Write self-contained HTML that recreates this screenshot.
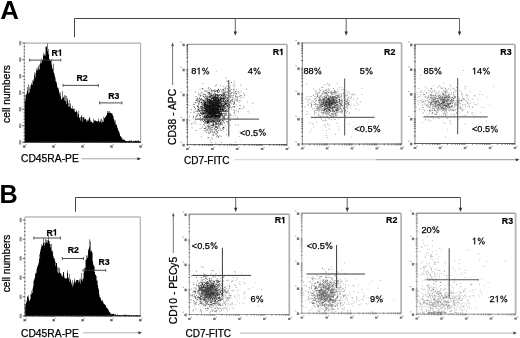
<!DOCTYPE html>
<html><head><meta charset="utf-8"><style>
html,body{margin:0;padding:0;background:#fff;width:520px;height:338px;overflow:hidden}
svg{display:block;filter:grayscale(1) blur(0.35px)}
text{font-family:"Liberation Sans", sans-serif}
</style></head><body>
<svg width="520" height="338" viewBox="0 0 520 338">
<rect width="520" height="338" fill="#fff"/>
<text x="0.3" y="18.8" font-size="25.8" font-weight="bold" fill="#000" stroke="#000" stroke-width="0" text-anchor="start">A</text>
<line x1="74.5" y1="18.5" x2="74.5" y2="37.2" stroke="#444" stroke-width="1"/>
<line x1="74.5" y1="18.5" x2="459.5" y2="18.5" stroke="#444" stroke-width="1"/>
<line x1="235.3" y1="18.5" x2="235.3" y2="32.8" stroke="#555" stroke-width="0.9"/>
<path d="M233.60000000000002,31.599999999999998 L237.0,31.599999999999998 L235.3,35.8 Z" fill="#333"/>
<line x1="346.2" y1="18.5" x2="346.2" y2="32.8" stroke="#555" stroke-width="0.9"/>
<path d="M344.5,31.599999999999998 L347.9,31.599999999999998 L346.2,35.8 Z" fill="#333"/>
<line x1="459.5" y1="18.5" x2="459.5" y2="32.8" stroke="#555" stroke-width="0.9"/>
<path d="M457.8,31.599999999999998 L461.2,31.599999999999998 L459.5,35.8 Z" fill="#333"/>
<polygon points="24.3,142.3 24.05,93.6 24.55,93.6 24.55,98.7 25.05,98.7 25.05,100.7 25.55,100.7 25.55,95.0 26.05,95.0 26.05,94.8 26.55,94.8 26.55,92.9 27.05,92.9 27.05,90.5 27.55,90.5 27.55,86.8 28.05,86.8 28.05,93.4 28.55,93.4 28.55,84.3 29.05,84.3 29.05,92.4 29.55,92.4 29.55,87.3 30.05,87.3 30.05,88.7 30.55,88.7 30.55,85.0 31.05,85.0 31.05,83.1 31.55,83.1 31.55,84.7 32.05,84.7 32.05,84.8 32.55,84.8 32.55,80.3 33.05,80.3 33.05,79.4 33.55,79.4 33.55,81.2 34.05,81.2 34.05,75.2 34.55,75.2 34.55,72.2 35.05,72.2 35.05,77.5 35.55,77.5 35.55,73.0 36.05,73.0 36.05,68.6 36.55,68.6 36.55,70.4 37.05,70.4 37.05,70.4 37.55,70.4 37.55,67.5 38.05,67.5 38.05,65.4 38.55,65.4 38.55,68.7 39.05,68.7 39.05,69.7 39.55,69.7 39.55,64.3 40.05,64.3 40.05,61.2 40.55,61.2 40.55,63.4 41.05,63.4 41.05,63.0 41.55,63.0 41.55,58.4 42.05,58.4 42.05,60.1 42.55,60.1 42.55,60.6 43.05,60.6 43.05,55.5 43.55,55.5 43.55,52.6 44.05,52.6 44.05,55.4 44.55,55.4 44.55,54.1 45.05,54.1 45.05,55.7 45.55,55.7 45.55,46.7 46.05,46.7 46.05,47.3 46.55,47.3 46.55,45.9 47.05,45.9 47.05,42.9 47.55,42.9 47.55,50.9 48.05,50.9 48.05,54.2 48.55,54.2 48.55,49.1 49.05,49.1 49.05,59.2 49.55,59.2 49.55,59.5 50.05,59.5 50.05,60.4 50.55,60.4 50.55,61.1 51.05,61.1 51.05,64.8 51.55,64.8 51.55,59.3 52.05,59.3 52.05,67.5 52.55,67.5 52.55,69.3 53.05,69.3 53.05,63.8 53.55,63.8 53.55,72.6 54.05,72.6 54.05,73.4 54.55,73.4 54.55,76.0 55.05,76.0 55.05,77.7 55.55,77.7 55.55,81.2 56.05,81.2 56.05,83.5 56.55,83.5 56.55,81.6 57.05,81.6 57.05,87.8 57.55,87.8 57.55,86.8 58.05,86.8 58.05,90.0 58.55,90.0 58.55,87.9 59.05,87.9 59.05,94.3 59.55,94.3 59.55,92.1 60.05,92.1 60.05,92.6 60.55,92.6 60.55,96.4 61.05,96.4 61.05,99.0 61.55,99.0 61.55,99.5 62.05,99.5 62.05,91.1 62.55,91.1 62.55,98.2 63.05,98.2 63.05,96.8 63.55,96.8 63.55,97.5 64.05,97.5 64.05,95.1 64.55,95.1 64.55,100.6 65.05,100.6 65.05,95.4 65.55,95.4 65.55,101.4 66.05,101.4 66.05,104.0 66.55,104.0 66.55,96.0 67.05,96.0 67.05,100.5 67.55,100.5 67.55,98.2 68.05,98.2 68.05,103.3 68.55,103.3 68.55,107.0 69.05,107.0 69.05,106.3 69.55,106.3 69.55,99.7 70.05,99.7 70.05,103.6 70.55,103.6 70.55,107.6 71.05,107.6 71.05,108.7 71.55,108.7 71.55,108.0 72.05,108.0 72.05,105.7 72.55,105.7 72.55,108.9 73.05,108.9 73.05,108.8 73.55,108.8 73.55,108.9 74.05,108.9 74.05,108.3 74.55,108.3 74.55,111.5 75.05,111.5 75.05,111.9 75.55,111.9 75.55,111.6 76.05,111.6 76.05,111.8 76.55,111.8 76.55,110.1 77.05,110.1 77.05,112.4 77.55,112.4 77.55,116.4 78.05,116.4 78.05,114.1 78.55,114.1 78.55,110.9 79.05,110.9 79.05,118.1 79.55,118.1 79.55,117.3 80.05,117.3 80.05,120.5 80.55,120.5 80.55,117.1 81.05,117.1 81.05,116.4 81.55,116.4 81.55,115.0 82.05,115.0 82.05,117.2 82.55,117.2 82.55,121.8 83.05,121.8 83.05,116.9 83.55,116.9 83.55,117.5 84.05,117.5 84.05,119.8 84.55,119.8 84.55,117.7 85.05,117.7 85.05,118.9 85.55,118.9 85.55,118.9 86.05,118.9 86.05,119.9 86.55,119.9 86.55,121.5 87.05,121.5 87.05,119.8 87.55,119.8 87.55,121.4 88.05,121.4 88.05,119.2 88.55,119.2 88.55,120.7 89.05,120.7 89.05,116.9 89.55,116.9 89.55,118.1 90.05,118.1 90.05,121.8 90.55,121.8 90.55,119.7 91.05,119.7 91.05,121.7 91.55,121.7 91.55,121.7 92.05,121.7 92.05,123.0 92.55,123.0 92.55,122.4 93.05,122.4 93.05,122.8 93.55,122.8 93.55,118.7 94.05,118.7 94.05,120.5 94.55,120.5 94.55,120.6 95.05,120.6 95.05,121.1 95.55,121.1 95.55,120.3 96.05,120.3 96.05,121.1 96.55,121.1 96.55,121.6 97.05,121.6 97.05,122.0 97.55,122.0 97.55,121.0 98.05,121.0 98.05,118.5 98.55,118.5 98.55,121.1 99.05,121.1 99.05,121.3 99.55,121.3 99.55,122.4 100.05,122.4 100.05,121.4 100.55,121.4 100.55,119.2 101.05,119.2 101.05,118.8 101.55,118.8 101.55,122.9 102.05,122.9 102.05,120.5 102.55,120.5 102.55,121.9 103.05,121.9 103.05,122.1 103.55,122.1 103.55,116.7 104.05,116.7 104.05,118.2 104.55,118.2 104.55,117.7 105.05,117.7 105.05,117.3 105.55,117.3 105.55,116.6 106.05,116.6 106.05,115.4 106.55,115.4 106.55,114.7 107.05,114.7 107.05,110.9 107.55,110.9 107.55,113.1 108.05,113.1 108.05,111.3 108.55,111.3 108.55,112.7 109.05,112.7 109.05,111.1 109.55,111.1 109.55,113.0 110.05,113.0 110.05,113.1 110.55,113.1 110.55,112.6 111.05,112.6 111.05,113.2 111.55,113.2 111.55,113.4 112.05,113.4 112.05,113.5 112.55,113.5 112.55,115.4 113.05,115.4 113.05,116.1 113.55,116.1 113.55,119.0 114.05,119.0 114.05,119.7 114.55,119.7 114.55,121.9 115.05,121.9 115.05,120.4 115.55,120.4 115.55,124.8 116.05,124.8 116.05,124.0 116.55,124.0 116.55,125.5 117.05,125.5 117.05,127.5 117.55,127.5 117.55,128.5 118.05,128.5 118.05,130.6 118.55,130.6 118.55,131.2 119.05,131.2 119.05,132.3 119.55,132.3 119.55,133.9 120.05,133.9 120.05,136.0 120.55,136.0 120.55,136.4 121.05,136.4 121.05,137.0 121.55,137.0 121.55,138.4 122.05,138.4 122.05,138.3 122.55,138.3 122.55,139.9 123.05,139.9 123.05,138.9 123.55,138.9 123.55,140.0 124.05,140.0 124.05,140.2 124.55,140.2 124.55,139.7 125.05,139.7 125.05,140.5 125.55,140.5 125.55,140.9 126.05,140.9 126.05,140.9 126.55,140.9 126.55,140.9 127.05,140.9 127.05,141.2 127.55,141.2 127.55,140.9 128.05,140.9 128.05,141.0 128.55,141.0 128.55,140.8 129.05,140.8 129.05,141.1 129.55,141.1 129.55,140.6 130.05,140.6 130.05,141.2 130.55,141.2 130.55,140.7 131.05,140.7 131.05,140.5 131.55,140.5 131.55,140.6 132.05,140.6 132.05,141.6 132.55,141.6 132.55,141.4 133.05,141.4 133.05,140.8 133.55,140.8 133.55,141.3 134.05,141.3 134.05,140.9 134.55,140.9 134.55,141.0 135.05,141.0 135.05,141.1 135.55,141.1 135.55,140.2 136.05,140.2 136.05,141.2 136.55,141.2 136.55,140.7 137.05,140.7 137.05,140.9 137.55,140.9 137.55,140.6 138.05,140.6 138.05,140.6 138.55,140.6 138.55,140.8 139.05,140.8 139.05,141.0 139.55,141.0 139.55,142.0 140.05,142.0 140.05,141.5 140.55,141.5 140.6,142.3" fill="#000"/>
<line x1="24.3" y1="43.1" x2="140.6" y2="43.1" stroke="#999" stroke-width="1"/>
<line x1="140.6" y1="43.1" x2="140.6" y2="142.8" stroke="#aaa" stroke-width="1.1"/>
<line x1="24.3" y1="43.1" x2="24.3" y2="142.3" stroke="#aaa" stroke-width="0.9"/>
<line x1="23.8" y1="142.3" x2="140.6" y2="142.3" stroke="#333" stroke-width="1"/>
<path d="M22.30 141.80h2.5v1h-2.5zM23.70 138.49h1.2v1h-1.2zM23.70 135.19h1.2v1h-1.2zM23.70 131.88h1.2v1h-1.2zM23.70 128.57h1.2v1h-1.2zM22.30 125.27h2.5v1h-2.5zM23.70 121.96h1.2v1h-1.2zM23.70 118.65h1.2v1h-1.2zM23.70 115.35h1.2v1h-1.2zM23.70 112.04h1.2v1h-1.2zM22.30 108.73h2.5v1h-2.5zM23.70 105.43h1.2v1h-1.2zM23.70 102.12h1.2v1h-1.2zM23.70 98.81h1.2v1h-1.2zM23.70 95.51h1.2v1h-1.2zM22.30 92.20h2.5v1h-2.5zM23.70 88.89h1.2v1h-1.2zM23.70 85.59h1.2v1h-1.2zM23.70 82.28h1.2v1h-1.2zM23.70 78.97h1.2v1h-1.2zM22.30 75.67h2.5v1h-2.5zM23.70 72.36h1.2v1h-1.2zM23.70 69.05h1.2v1h-1.2zM23.70 65.75h1.2v1h-1.2zM23.70 62.44h1.2v1h-1.2zM22.30 59.13h2.5v1h-2.5zM23.70 55.83h1.2v1h-1.2zM23.70 52.52h1.2v1h-1.2zM23.70 49.21h1.2v1h-1.2zM23.70 45.91h1.2v1h-1.2zM22.30 42.60h2.5v1h-2.5zM23.80 141.50h1v1.6h-1zM32.55 141.50h1v1.6h-1zM37.67 141.50h1v1.6h-1zM41.30 141.50h1v1.6h-1zM44.12 141.50h1v1.6h-1zM46.42 141.50h1v1.6h-1zM48.37 141.50h1v1.6h-1zM50.06 141.50h1v1.6h-1zM51.54 141.50h1v1.6h-1zM52.88 141.50h1v1.6h-1zM61.63 141.50h1v1.6h-1zM66.75 141.50h1v1.6h-1zM70.38 141.50h1v1.6h-1zM73.20 141.50h1v1.6h-1zM75.50 141.50h1v1.6h-1zM77.45 141.50h1v1.6h-1zM79.13 141.50h1v1.6h-1zM80.62 141.50h1v1.6h-1zM81.95 141.50h1v1.6h-1zM90.70 141.50h1v1.6h-1zM95.82 141.50h1v1.6h-1zM99.45 141.50h1v1.6h-1zM102.27 141.50h1v1.6h-1zM104.57 141.50h1v1.6h-1zM106.52 141.50h1v1.6h-1zM108.21 141.50h1v1.6h-1zM109.69 141.50h1v1.6h-1zM111.02 141.50h1v1.6h-1zM119.78 141.50h1v1.6h-1zM124.90 141.50h1v1.6h-1zM128.53 141.50h1v1.6h-1zM131.35 141.50h1v1.6h-1zM133.65 141.50h1v1.6h-1zM135.60 141.50h1v1.6h-1zM137.28 141.50h1v1.6h-1zM138.77 141.50h1v1.6h-1zM140.10 141.50h1v1.6h-1z" fill="#333" fill-opacity="0.8"/>
<rect x="19.0" y="140.1" width="2.3" height="4.4" fill="#999"/>
<rect x="19.0" y="123.6" width="2.3" height="4.4" fill="#999"/>
<rect x="19.0" y="107.0" width="2.3" height="4.4" fill="#999"/>
<rect x="19.0" y="90.5" width="2.3" height="4.4" fill="#999"/>
<rect x="19.0" y="74.0" width="2.3" height="4.4" fill="#999"/>
<rect x="19.0" y="57.4" width="2.3" height="4.4" fill="#999"/>
<rect x="19.0" y="40.9" width="2.3" height="4.4" fill="#999"/>
<rect x="23.0" y="145.4" width="2.6" height="2.2" fill="#666"/>
<rect x="25.5" y="143.9" width="1.2" height="1.1" fill="#aaa"/>
<rect x="52.1" y="145.4" width="2.6" height="2.2" fill="#666"/>
<rect x="54.6" y="143.9" width="1.2" height="1.1" fill="#aaa"/>
<rect x="81.2" y="145.4" width="2.6" height="2.2" fill="#666"/>
<rect x="83.7" y="143.9" width="1.2" height="1.1" fill="#aaa"/>
<rect x="110.2" y="145.4" width="2.6" height="2.2" fill="#666"/>
<rect x="112.7" y="143.9" width="1.2" height="1.1" fill="#aaa"/>
<rect x="139.3" y="145.4" width="2.6" height="2.2" fill="#666"/>
<rect x="141.8" y="143.9" width="1.2" height="1.1" fill="#aaa"/>
<line x1="29.6" y1="60.1" x2="60.8" y2="60.1" stroke="#3a3a3a" stroke-width="0.9"/>
<line x1="29.6" y1="58.6" x2="29.6" y2="61.6" stroke="#3a3a3a" stroke-width="0.8"/>
<line x1="60.8" y1="58.6" x2="60.8" y2="61.6" stroke="#3a3a3a" stroke-width="0.8"/>
<text x="51.50" y="55.7" font-size="8.7" font-weight="bold" fill="#000" stroke="#000" stroke-width="0.2">R</text><path transform="translate(57.78 55.7) scale(0.00870 -0.00870)" d="M228,0H372V709H262L72,580V450L228,555Z" fill="#000" fill-rule="evenodd" stroke="#000" stroke-width="23.0"/>
<line x1="63.1" y1="85.4" x2="98.4" y2="85.4" stroke="#3a3a3a" stroke-width="0.9"/>
<line x1="63.1" y1="83.9" x2="63.1" y2="86.9" stroke="#3a3a3a" stroke-width="0.8"/>
<line x1="98.4" y1="83.9" x2="98.4" y2="86.9" stroke="#3a3a3a" stroke-width="0.8"/>
<text x="76.50" y="81.1" font-size="8.7" font-weight="bold" fill="#000" stroke="#000" stroke-width="0.2">R2</text>
<line x1="99.6" y1="102.9" x2="121.9" y2="102.9" stroke="#3a3a3a" stroke-width="0.9"/>
<line x1="99.6" y1="101.4" x2="99.6" y2="104.4" stroke="#3a3a3a" stroke-width="0.8"/>
<line x1="121.9" y1="101.4" x2="121.9" y2="104.4" stroke="#3a3a3a" stroke-width="0.8"/>
<text x="108.30" y="98.9" font-size="8.7" font-weight="bold" fill="#000" stroke="#000" stroke-width="0.2">R3</text>
<text x="10.3" y="94" font-size="10.2" font-weight="normal" fill="#000" stroke="#000" stroke-width="0.25" text-anchor="middle" transform="rotate(-90 10.3 94)">cell numbers</text>
<text x="21" y="161.9" font-size="10.3" font-weight="normal" fill="#000" stroke="#000" stroke-width="0.25" text-anchor="start">CD45RA-PE</text>
<line x1="81.5" y1="158.8" x2="138.5" y2="158.8" stroke="#999" stroke-width="0.9"/>
<path d="M137.4,157.3 L137.4,160.3 L141,158.8 Z" fill="#222"/>
<line x1="187.4" y1="44.4" x2="287.0" y2="44.4" stroke="#a0a0a0" stroke-width="1.4"/>
<line x1="287.0" y1="44.4" x2="287.0" y2="144.6" stroke="#b4b4b4" stroke-width="1.8"/>
<line x1="187.4" y1="44.4" x2="187.4" y2="144.6" stroke="#8a8a8a" stroke-width="1"/>
<line x1="186.9" y1="144.6" x2="287.0" y2="144.6" stroke="#666" stroke-width="1"/>
<path d="M186.95 144.00h0.9v2h-0.9zM194.45 144.00h0.9v2h-0.9zM198.83 144.00h0.9v2h-0.9zM201.94 144.00h0.9v2h-0.9zM204.35 144.00h0.9v2h-0.9zM206.33 144.00h0.9v2h-0.9zM207.99 144.00h0.9v2h-0.9zM209.44 144.00h0.9v2h-0.9zM210.71 144.00h0.9v2h-0.9zM211.85 144.00h0.9v2h-0.9zM219.35 144.00h0.9v2h-0.9zM223.73 144.00h0.9v2h-0.9zM226.84 144.00h0.9v2h-0.9zM229.25 144.00h0.9v2h-0.9zM231.23 144.00h0.9v2h-0.9zM232.89 144.00h0.9v2h-0.9zM234.34 144.00h0.9v2h-0.9zM235.61 144.00h0.9v2h-0.9zM236.75 144.00h0.9v2h-0.9zM244.25 144.00h0.9v2h-0.9zM248.63 144.00h0.9v2h-0.9zM251.74 144.00h0.9v2h-0.9zM254.15 144.00h0.9v2h-0.9zM256.13 144.00h0.9v2h-0.9zM257.79 144.00h0.9v2h-0.9zM259.24 144.00h0.9v2h-0.9zM260.51 144.00h0.9v2h-0.9zM261.65 144.00h0.9v2h-0.9zM269.15 144.00h0.9v2h-0.9zM273.53 144.00h0.9v2h-0.9zM276.64 144.00h0.9v2h-0.9zM279.05 144.00h0.9v2h-0.9zM281.03 144.00h0.9v2h-0.9zM282.69 144.00h0.9v2h-0.9zM284.14 144.00h0.9v2h-0.9zM285.41 144.00h0.9v2h-0.9zM286.55 144.00h0.9v2h-0.9zM186.20 144.15h2v0.9h-2zM186.20 136.61h2v0.9h-2zM186.20 132.20h2v0.9h-2zM186.20 129.07h2v0.9h-2zM186.20 126.64h2v0.9h-2zM186.20 124.66h2v0.9h-2zM186.20 122.98h2v0.9h-2zM186.20 121.53h2v0.9h-2zM186.20 120.25h2v0.9h-2zM186.20 119.10h2v0.9h-2zM186.20 111.56h2v0.9h-2zM186.20 107.15h2v0.9h-2zM186.20 104.02h2v0.9h-2zM186.20 101.59h2v0.9h-2zM186.20 99.61h2v0.9h-2zM186.20 97.93h2v0.9h-2zM186.20 96.48h2v0.9h-2zM186.20 95.20h2v0.9h-2zM186.20 94.05h2v0.9h-2zM186.20 86.51h2v0.9h-2zM186.20 82.10h2v0.9h-2zM186.20 78.97h2v0.9h-2zM186.20 76.54h2v0.9h-2zM186.20 74.56h2v0.9h-2zM186.20 72.88h2v0.9h-2zM186.20 71.43h2v0.9h-2zM186.20 70.15h2v0.9h-2zM186.20 69.00h2v0.9h-2zM186.20 61.46h2v0.9h-2zM186.20 57.05h2v0.9h-2zM186.20 53.92h2v0.9h-2zM186.20 51.49h2v0.9h-2zM186.20 49.51h2v0.9h-2zM186.20 47.83h2v0.9h-2zM186.20 46.38h2v0.9h-2zM186.20 45.10h2v0.9h-2zM186.20 43.95h2v0.9h-2z" fill="#333" fill-opacity="0.6"/>
<rect x="186.1" y="148.0" width="2.6" height="2" fill="#777"/>
<rect x="188.7" y="146.8" width="1.2" height="1.2" fill="#aaa"/>
<rect x="182.4" y="43.6" width="2.4" height="2.6" fill="#777"/>
<rect x="180.4" y="41.6" width="1.6" height="1" fill="#aaa"/>
<rect x="211.0" y="148.0" width="2.6" height="2" fill="#777"/>
<rect x="213.6" y="146.8" width="1.2" height="1.2" fill="#aaa"/>
<rect x="182.4" y="68.7" width="2.4" height="2.6" fill="#777"/>
<rect x="180.4" y="66.7" width="1.6" height="1" fill="#aaa"/>
<rect x="235.9" y="148.0" width="2.6" height="2" fill="#777"/>
<rect x="238.5" y="146.8" width="1.2" height="1.2" fill="#aaa"/>
<rect x="182.4" y="93.7" width="2.4" height="2.6" fill="#777"/>
<rect x="180.4" y="91.7" width="1.6" height="1" fill="#aaa"/>
<rect x="260.8" y="148.0" width="2.6" height="2" fill="#777"/>
<rect x="263.4" y="146.8" width="1.2" height="1.2" fill="#aaa"/>
<rect x="182.4" y="118.8" width="2.4" height="2.6" fill="#777"/>
<rect x="180.4" y="116.8" width="1.6" height="1" fill="#aaa"/>
<rect x="285.7" y="148.0" width="2.6" height="2" fill="#777"/>
<rect x="288.3" y="146.8" width="1.2" height="1.2" fill="#aaa"/>
<rect x="182.4" y="143.8" width="2.4" height="2.6" fill="#777"/>
<rect x="180.4" y="141.8" width="1.6" height="1" fill="#aaa"/>
<line x1="302.3" y1="42.9" x2="401.6" y2="42.9" stroke="#a0a0a0" stroke-width="1.4"/>
<line x1="401.6" y1="42.9" x2="401.6" y2="144.0" stroke="#b4b4b4" stroke-width="1.8"/>
<line x1="302.3" y1="42.9" x2="302.3" y2="144.0" stroke="#8a8a8a" stroke-width="1"/>
<line x1="301.8" y1="144.0" x2="401.6" y2="144.0" stroke="#666" stroke-width="1"/>
<path d="M301.85 143.40h0.9v2h-0.9zM309.32 143.40h0.9v2h-0.9zM313.69 143.40h0.9v2h-0.9zM316.80 143.40h0.9v2h-0.9zM319.20 143.40h0.9v2h-0.9zM321.17 143.40h0.9v2h-0.9zM322.83 143.40h0.9v2h-0.9zM324.27 143.40h0.9v2h-0.9zM325.54 143.40h0.9v2h-0.9zM326.68 143.40h0.9v2h-0.9zM334.15 143.40h0.9v2h-0.9zM338.52 143.40h0.9v2h-0.9zM341.62 143.40h0.9v2h-0.9zM344.03 143.40h0.9v2h-0.9zM345.99 143.40h0.9v2h-0.9zM347.65 143.40h0.9v2h-0.9zM349.09 143.40h0.9v2h-0.9zM350.36 143.40h0.9v2h-0.9zM351.50 143.40h0.9v2h-0.9zM358.97 143.40h0.9v2h-0.9zM363.34 143.40h0.9v2h-0.9zM366.45 143.40h0.9v2h-0.9zM368.85 143.40h0.9v2h-0.9zM370.82 143.40h0.9v2h-0.9zM372.48 143.40h0.9v2h-0.9zM373.92 143.40h0.9v2h-0.9zM375.19 143.40h0.9v2h-0.9zM376.32 143.40h0.9v2h-0.9zM383.80 143.40h0.9v2h-0.9zM388.17 143.40h0.9v2h-0.9zM391.27 143.40h0.9v2h-0.9zM393.68 143.40h0.9v2h-0.9zM395.64 143.40h0.9v2h-0.9zM397.30 143.40h0.9v2h-0.9zM398.74 143.40h0.9v2h-0.9zM400.01 143.40h0.9v2h-0.9zM401.15 143.40h0.9v2h-0.9zM301.10 143.55h2v0.9h-2zM301.10 135.94h2v0.9h-2zM301.10 131.49h2v0.9h-2zM301.10 128.33h2v0.9h-2zM301.10 125.88h2v0.9h-2zM301.10 123.88h2v0.9h-2zM301.10 122.19h2v0.9h-2zM301.10 120.72h2v0.9h-2zM301.10 119.43h2v0.9h-2zM301.10 118.27h2v0.9h-2zM301.10 110.67h2v0.9h-2zM301.10 106.22h2v0.9h-2zM301.10 103.06h2v0.9h-2zM301.10 100.61h2v0.9h-2zM301.10 98.61h2v0.9h-2zM301.10 96.92h2v0.9h-2zM301.10 95.45h2v0.9h-2zM301.10 94.16h2v0.9h-2zM301.10 93.00h2v0.9h-2zM301.10 85.39h2v0.9h-2zM301.10 80.94h2v0.9h-2zM301.10 77.78h2v0.9h-2zM301.10 75.33h2v0.9h-2zM301.10 73.33h2v0.9h-2zM301.10 71.64h2v0.9h-2zM301.10 70.17h2v0.9h-2zM301.10 68.88h2v0.9h-2zM301.10 67.73h2v0.9h-2zM301.10 60.12h2v0.9h-2zM301.10 55.67h2v0.9h-2zM301.10 52.51h2v0.9h-2zM301.10 50.06h2v0.9h-2zM301.10 48.06h2v0.9h-2zM301.10 46.37h2v0.9h-2zM301.10 44.90h2v0.9h-2zM301.10 43.61h2v0.9h-2zM301.10 42.45h2v0.9h-2z" fill="#333" fill-opacity="0.6"/>
<rect x="301.0" y="147.4" width="2.6" height="2" fill="#777"/>
<rect x="303.6" y="146.2" width="1.2" height="1.2" fill="#aaa"/>
<rect x="297.3" y="42.1" width="2.4" height="2.6" fill="#777"/>
<rect x="295.3" y="40.1" width="1.6" height="1" fill="#aaa"/>
<rect x="325.8" y="147.4" width="2.6" height="2" fill="#777"/>
<rect x="328.4" y="146.2" width="1.2" height="1.2" fill="#aaa"/>
<rect x="297.3" y="67.4" width="2.4" height="2.6" fill="#777"/>
<rect x="295.3" y="65.4" width="1.6" height="1" fill="#aaa"/>
<rect x="350.6" y="147.4" width="2.6" height="2" fill="#777"/>
<rect x="353.2" y="146.2" width="1.2" height="1.2" fill="#aaa"/>
<rect x="297.3" y="92.6" width="2.4" height="2.6" fill="#777"/>
<rect x="295.3" y="90.6" width="1.6" height="1" fill="#aaa"/>
<rect x="375.5" y="147.4" width="2.6" height="2" fill="#777"/>
<rect x="378.1" y="146.2" width="1.2" height="1.2" fill="#aaa"/>
<rect x="297.3" y="117.9" width="2.4" height="2.6" fill="#777"/>
<rect x="295.3" y="115.9" width="1.6" height="1" fill="#aaa"/>
<rect x="400.3" y="147.4" width="2.6" height="2" fill="#777"/>
<rect x="402.9" y="146.2" width="1.2" height="1.2" fill="#aaa"/>
<rect x="297.3" y="143.2" width="2.4" height="2.6" fill="#777"/>
<rect x="295.3" y="141.2" width="1.6" height="1" fill="#aaa"/>
<line x1="415" y1="44.4" x2="515" y2="44.4" stroke="#a0a0a0" stroke-width="1.4"/>
<line x1="515" y1="44.4" x2="515" y2="143.5" stroke="#b4b4b4" stroke-width="1.8"/>
<line x1="415" y1="44.4" x2="415" y2="143.5" stroke="#8a8a8a" stroke-width="1"/>
<line x1="414.5" y1="143.5" x2="515" y2="143.5" stroke="#666" stroke-width="1"/>
<path d="M414.55 142.90h0.9v2h-0.9zM422.08 142.90h0.9v2h-0.9zM426.48 142.90h0.9v2h-0.9zM429.60 142.90h0.9v2h-0.9zM432.02 142.90h0.9v2h-0.9zM434.00 142.90h0.9v2h-0.9zM435.68 142.90h0.9v2h-0.9zM437.13 142.90h0.9v2h-0.9zM438.41 142.90h0.9v2h-0.9zM439.55 142.90h0.9v2h-0.9zM447.08 142.90h0.9v2h-0.9zM451.48 142.90h0.9v2h-0.9zM454.60 142.90h0.9v2h-0.9zM457.02 142.90h0.9v2h-0.9zM459.00 142.90h0.9v2h-0.9zM460.68 142.90h0.9v2h-0.9zM462.13 142.90h0.9v2h-0.9zM463.41 142.90h0.9v2h-0.9zM464.55 142.90h0.9v2h-0.9zM472.08 142.90h0.9v2h-0.9zM476.48 142.90h0.9v2h-0.9zM479.60 142.90h0.9v2h-0.9zM482.02 142.90h0.9v2h-0.9zM484.00 142.90h0.9v2h-0.9zM485.68 142.90h0.9v2h-0.9zM487.13 142.90h0.9v2h-0.9zM488.41 142.90h0.9v2h-0.9zM489.55 142.90h0.9v2h-0.9zM497.08 142.90h0.9v2h-0.9zM501.48 142.90h0.9v2h-0.9zM504.60 142.90h0.9v2h-0.9zM507.02 142.90h0.9v2h-0.9zM509.00 142.90h0.9v2h-0.9zM510.68 142.90h0.9v2h-0.9zM512.13 142.90h0.9v2h-0.9zM513.41 142.90h0.9v2h-0.9zM514.55 142.90h0.9v2h-0.9zM413.80 143.05h2v0.9h-2zM413.80 135.59h2v0.9h-2zM413.80 131.23h2v0.9h-2zM413.80 128.13h2v0.9h-2zM413.80 125.73h2v0.9h-2zM413.80 123.77h2v0.9h-2zM413.80 122.11h2v0.9h-2zM413.80 120.68h2v0.9h-2zM413.80 119.41h2v0.9h-2zM413.80 118.27h2v0.9h-2zM413.80 110.82h2v0.9h-2zM413.80 106.45h2v0.9h-2zM413.80 103.36h2v0.9h-2zM413.80 100.96h2v0.9h-2zM413.80 99.00h2v0.9h-2zM413.80 97.34h2v0.9h-2zM413.80 95.90h2v0.9h-2zM413.80 94.63h2v0.9h-2zM413.80 93.50h2v0.9h-2zM413.80 86.04h2v0.9h-2zM413.80 81.68h2v0.9h-2zM413.80 78.58h2v0.9h-2zM413.80 76.18h2v0.9h-2zM413.80 74.22h2v0.9h-2zM413.80 72.56h2v0.9h-2zM413.80 71.13h2v0.9h-2zM413.80 69.86h2v0.9h-2zM413.80 68.73h2v0.9h-2zM413.80 61.27h2v0.9h-2zM413.80 56.90h2v0.9h-2zM413.80 53.81h2v0.9h-2zM413.80 51.41h2v0.9h-2zM413.80 49.45h2v0.9h-2zM413.80 47.79h2v0.9h-2zM413.80 46.35h2v0.9h-2zM413.80 45.08h2v0.9h-2zM413.80 43.95h2v0.9h-2z" fill="#333" fill-opacity="0.6"/>
<rect x="413.7" y="146.9" width="2.6" height="2" fill="#777"/>
<rect x="416.3" y="145.7" width="1.2" height="1.2" fill="#aaa"/>
<rect x="410.0" y="43.6" width="2.4" height="2.6" fill="#777"/>
<rect x="408.0" y="41.6" width="1.6" height="1" fill="#aaa"/>
<rect x="438.7" y="146.9" width="2.6" height="2" fill="#777"/>
<rect x="441.3" y="145.7" width="1.2" height="1.2" fill="#aaa"/>
<rect x="410.0" y="68.4" width="2.4" height="2.6" fill="#777"/>
<rect x="408.0" y="66.4" width="1.6" height="1" fill="#aaa"/>
<rect x="463.7" y="146.9" width="2.6" height="2" fill="#777"/>
<rect x="466.3" y="145.7" width="1.2" height="1.2" fill="#aaa"/>
<rect x="410.0" y="93.1" width="2.4" height="2.6" fill="#777"/>
<rect x="408.0" y="91.1" width="1.6" height="1" fill="#aaa"/>
<rect x="488.7" y="146.9" width="2.6" height="2" fill="#777"/>
<rect x="491.3" y="145.7" width="1.2" height="1.2" fill="#aaa"/>
<rect x="410.0" y="117.9" width="2.4" height="2.6" fill="#777"/>
<rect x="408.0" y="115.9" width="1.6" height="1" fill="#aaa"/>
<rect x="513.7" y="146.9" width="2.6" height="2" fill="#777"/>
<rect x="516.3" y="145.7" width="1.2" height="1.2" fill="#aaa"/>
<rect x="410.0" y="142.7" width="2.4" height="2.6" fill="#777"/>
<rect x="408.0" y="140.7" width="1.6" height="1" fill="#aaa"/>
<path d="M215.2 107.3h0.9v0.9h-0.9zM217.8 104.8h0.9v0.9h-0.9zM215.1 111.2h0.9v0.9h-0.9zM206.1 110.8h0.9v0.9h-0.9zM218.3 108.4h0.9v0.9h-0.9zM215.8 105.2h0.9v0.9h-0.9zM210.3 118.7h0.9v0.9h-0.9zM216.5 99.6h0.9v0.9h-0.9zM215.3 107.1h0.9v0.9h-0.9zM214.9 103.6h0.9v0.9h-0.9zM213.5 114.2h0.9v0.9h-0.9zM216.3 116.4h0.9v0.9h-0.9zM209.2 116.0h0.9v0.9h-0.9zM212.4 112.5h0.9v0.9h-0.9zM210.6 98.7h0.9v0.9h-0.9zM216.6 120.6h0.9v0.9h-0.9zM213.5 110.8h0.9v0.9h-0.9zM211.7 107.0h0.9v0.9h-0.9zM209.0 108.1h0.9v0.9h-0.9zM211.9 105.5h0.9v0.9h-0.9zM213.3 110.2h0.9v0.9h-0.9zM211.8 109.7h0.9v0.9h-0.9zM220.4 104.3h0.9v0.9h-0.9zM218.8 90.2h0.9v0.9h-0.9zM198.4 109.0h0.9v0.9h-0.9zM202.9 111.8h0.9v0.9h-0.9zM212.3 111.0h0.9v0.9h-0.9zM211.0 106.8h0.9v0.9h-0.9zM214.5 110.3h0.9v0.9h-0.9zM214.5 114.0h0.9v0.9h-0.9zM224.9 103.1h0.9v0.9h-0.9zM207.2 117.7h0.9v0.9h-0.9zM211.2 95.1h0.9v0.9h-0.9zM224.5 98.0h0.9v0.9h-0.9zM216.9 101.2h0.9v0.9h-0.9zM216.9 91.3h0.9v0.9h-0.9zM210.5 101.4h0.9v0.9h-0.9zM204.2 116.6h0.9v0.9h-0.9zM214.2 115.4h0.9v0.9h-0.9zM213.9 108.1h0.9v0.9h-0.9zM206.5 119.4h0.9v0.9h-0.9zM209.5 109.5h0.9v0.9h-0.9zM212.9 104.3h0.9v0.9h-0.9zM208.1 109.7h0.9v0.9h-0.9zM212.8 106.7h0.9v0.9h-0.9zM213.8 112.2h0.9v0.9h-0.9zM213.5 97.8h0.9v0.9h-0.9zM210.5 114.3h0.9v0.9h-0.9zM216.6 104.1h0.9v0.9h-0.9zM218.2 112.5h0.9v0.9h-0.9zM215.1 97.3h0.9v0.9h-0.9zM208.8 105.3h0.9v0.9h-0.9zM217.3 107.5h0.9v0.9h-0.9zM210.5 113.7h0.9v0.9h-0.9zM218.1 99.1h0.9v0.9h-0.9zM207.4 119.0h0.9v0.9h-0.9zM218.3 110.0h0.9v0.9h-0.9zM213.2 104.1h0.9v0.9h-0.9zM206.4 116.2h0.9v0.9h-0.9zM211.6 108.4h0.9v0.9h-0.9zM213.6 115.0h0.9v0.9h-0.9zM214.8 122.3h0.9v0.9h-0.9zM207.9 113.1h0.9v0.9h-0.9zM207.2 104.8h0.9v0.9h-0.9zM214.4 104.6h0.9v0.9h-0.9zM210.7 111.6h0.9v0.9h-0.9zM214.6 109.2h0.9v0.9h-0.9zM217.5 101.6h0.9v0.9h-0.9zM204.2 104.3h0.9v0.9h-0.9zM214.7 111.6h0.9v0.9h-0.9zM220.0 121.9h0.9v0.9h-0.9zM211.7 90.7h0.9v0.9h-0.9zM208.8 112.7h0.9v0.9h-0.9zM217.4 105.6h0.9v0.9h-0.9zM214.7 112.4h0.9v0.9h-0.9zM218.2 112.5h0.9v0.9h-0.9zM211.4 108.1h0.9v0.9h-0.9zM205.1 101.9h0.9v0.9h-0.9zM212.7 98.5h0.9v0.9h-0.9zM210.8 95.7h0.9v0.9h-0.9zM217.6 114.9h0.9v0.9h-0.9zM214.4 106.0h0.9v0.9h-0.9zM204.3 105.1h0.9v0.9h-0.9zM206.7 106.5h0.9v0.9h-0.9zM218.2 98.3h0.9v0.9h-0.9zM217.0 109.0h0.9v0.9h-0.9zM209.8 116.4h0.9v0.9h-0.9zM213.3 114.9h0.9v0.9h-0.9zM215.8 97.1h0.9v0.9h-0.9zM215.9 116.0h0.9v0.9h-0.9zM218.1 102.0h0.9v0.9h-0.9zM214.7 95.0h0.9v0.9h-0.9zM212.8 99.6h0.9v0.9h-0.9zM211.9 101.4h0.9v0.9h-0.9zM219.1 106.8h0.9v0.9h-0.9zM200.9 102.3h0.9v0.9h-0.9zM212.5 97.8h0.9v0.9h-0.9zM213.5 105.8h0.9v0.9h-0.9zM205.5 120.9h0.9v0.9h-0.9zM215.1 102.7h0.9v0.9h-0.9zM209.7 110.9h0.9v0.9h-0.9zM218.0 107.5h0.9v0.9h-0.9zM212.6 124.8h0.9v0.9h-0.9zM217.0 94.8h0.9v0.9h-0.9zM220.0 113.8h0.9v0.9h-0.9zM215.4 99.0h0.9v0.9h-0.9zM208.5 104.2h0.9v0.9h-0.9zM205.0 107.9h0.9v0.9h-0.9zM222.9 127.0h0.9v0.9h-0.9zM212.7 102.6h0.9v0.9h-0.9zM209.5 95.7h0.9v0.9h-0.9zM214.1 115.8h0.9v0.9h-0.9zM212.2 102.2h0.9v0.9h-0.9zM218.0 105.4h0.9v0.9h-0.9zM213.5 107.3h0.9v0.9h-0.9zM213.4 108.1h0.9v0.9h-0.9zM209.4 106.9h0.9v0.9h-0.9zM215.9 108.9h0.9v0.9h-0.9zM207.6 110.7h0.9v0.9h-0.9zM217.0 112.6h0.9v0.9h-0.9zM221.7 103.7h0.9v0.9h-0.9zM204.9 103.6h0.9v0.9h-0.9zM199.7 102.2h0.9v0.9h-0.9zM216.7 110.9h0.9v0.9h-0.9zM227.3 105.5h0.9v0.9h-0.9zM207.8 111.7h0.9v0.9h-0.9zM206.4 111.8h0.9v0.9h-0.9zM216.5 118.0h0.9v0.9h-0.9zM208.7 109.4h0.9v0.9h-0.9zM210.5 112.7h0.9v0.9h-0.9zM211.4 99.9h0.9v0.9h-0.9zM216.2 100.2h0.9v0.9h-0.9zM211.1 105.7h0.9v0.9h-0.9zM214.8 99.5h0.9v0.9h-0.9zM212.3 112.1h0.9v0.9h-0.9zM208.7 99.4h0.9v0.9h-0.9zM211.5 108.2h0.9v0.9h-0.9zM208.1 92.2h0.9v0.9h-0.9zM213.3 100.4h0.9v0.9h-0.9zM207.1 106.0h0.9v0.9h-0.9zM207.3 106.5h0.9v0.9h-0.9zM221.3 95.0h0.9v0.9h-0.9zM213.0 108.2h0.9v0.9h-0.9zM213.0 113.8h0.9v0.9h-0.9zM216.1 111.4h0.9v0.9h-0.9zM211.0 103.5h0.9v0.9h-0.9zM212.0 103.9h0.9v0.9h-0.9zM215.6 99.6h0.9v0.9h-0.9zM214.9 111.4h0.9v0.9h-0.9zM206.9 117.6h0.9v0.9h-0.9zM217.9 103.6h0.9v0.9h-0.9zM210.1 96.9h0.9v0.9h-0.9zM207.5 109.5h0.9v0.9h-0.9zM208.3 112.7h0.9v0.9h-0.9zM211.2 90.1h0.9v0.9h-0.9zM222.3 107.3h0.9v0.9h-0.9zM206.8 122.3h0.9v0.9h-0.9zM214.2 112.7h0.9v0.9h-0.9zM201.5 112.4h0.9v0.9h-0.9zM213.3 110.1h0.9v0.9h-0.9zM218.2 113.8h0.9v0.9h-0.9zM212.0 101.6h0.9v0.9h-0.9zM209.8 102.4h0.9v0.9h-0.9zM214.6 110.0h0.9v0.9h-0.9zM217.2 102.6h0.9v0.9h-0.9zM217.0 108.7h0.9v0.9h-0.9zM224.1 93.8h0.9v0.9h-0.9zM214.5 112.3h0.9v0.9h-0.9zM210.0 113.4h0.9v0.9h-0.9zM212.6 107.9h0.9v0.9h-0.9zM212.9 108.6h0.9v0.9h-0.9zM213.9 117.9h0.9v0.9h-0.9zM213.1 100.5h0.9v0.9h-0.9zM214.3 101.5h0.9v0.9h-0.9zM204.1 101.5h0.9v0.9h-0.9zM217.9 104.2h0.9v0.9h-0.9zM210.1 101.3h0.9v0.9h-0.9zM206.8 108.5h0.9v0.9h-0.9zM216.8 102.9h0.9v0.9h-0.9zM220.5 97.3h0.9v0.9h-0.9zM216.0 97.2h0.9v0.9h-0.9zM214.2 115.2h0.9v0.9h-0.9zM208.2 107.7h0.9v0.9h-0.9zM229.1 104.2h0.9v0.9h-0.9zM218.1 107.1h0.9v0.9h-0.9zM207.0 107.7h0.9v0.9h-0.9zM209.0 112.9h0.9v0.9h-0.9zM213.8 111.1h0.9v0.9h-0.9zM204.7 104.7h0.9v0.9h-0.9zM214.2 102.1h0.9v0.9h-0.9zM210.8 100.8h0.9v0.9h-0.9zM220.0 98.6h0.9v0.9h-0.9zM218.6 115.9h0.9v0.9h-0.9zM198.4 103.3h0.9v0.9h-0.9zM213.5 94.4h0.9v0.9h-0.9zM204.4 103.1h0.9v0.9h-0.9zM219.4 101.7h0.9v0.9h-0.9zM214.2 109.5h0.9v0.9h-0.9zM216.3 101.4h0.9v0.9h-0.9zM207.4 111.7h0.9v0.9h-0.9zM223.4 108.8h0.9v0.9h-0.9zM224.4 114.4h0.9v0.9h-0.9zM207.4 122.2h0.9v0.9h-0.9zM215.4 125.7h0.9v0.9h-0.9zM209.6 116.7h0.9v0.9h-0.9zM213.2 100.0h0.9v0.9h-0.9zM206.3 105.7h0.9v0.9h-0.9zM223.6 107.9h0.9v0.9h-0.9zM208.0 121.5h0.9v0.9h-0.9zM211.7 112.1h0.9v0.9h-0.9zM216.1 115.0h0.9v0.9h-0.9zM209.7 106.8h0.9v0.9h-0.9zM212.0 111.5h0.9v0.9h-0.9zM210.2 112.5h0.9v0.9h-0.9zM212.6 104.6h0.9v0.9h-0.9zM206.9 113.3h0.9v0.9h-0.9zM210.9 114.7h0.9v0.9h-0.9zM212.2 106.6h0.9v0.9h-0.9zM211.5 114.3h0.9v0.9h-0.9zM213.6 118.1h0.9v0.9h-0.9zM211.7 108.1h0.9v0.9h-0.9zM217.4 107.0h0.9v0.9h-0.9zM211.5 105.7h0.9v0.9h-0.9zM212.5 103.6h0.9v0.9h-0.9zM209.6 108.9h0.9v0.9h-0.9zM210.4 105.2h0.9v0.9h-0.9zM206.3 106.3h0.9v0.9h-0.9zM216.2 102.2h0.9v0.9h-0.9zM207.0 98.3h0.9v0.9h-0.9zM209.2 101.9h0.9v0.9h-0.9zM215.3 109.4h0.9v0.9h-0.9zM215.5 99.6h0.9v0.9h-0.9zM211.1 103.6h0.9v0.9h-0.9zM202.2 119.4h0.9v0.9h-0.9zM215.6 114.5h0.9v0.9h-0.9zM214.7 102.8h0.9v0.9h-0.9zM205.5 112.3h0.9v0.9h-0.9zM217.5 102.8h0.9v0.9h-0.9zM209.4 118.5h0.9v0.9h-0.9zM207.1 104.4h0.9v0.9h-0.9zM213.8 108.0h0.9v0.9h-0.9zM212.3 116.6h0.9v0.9h-0.9zM214.4 102.0h0.9v0.9h-0.9zM204.5 117.0h0.9v0.9h-0.9zM223.3 101.0h0.9v0.9h-0.9zM210.0 109.4h0.9v0.9h-0.9zM204.8 106.6h0.9v0.9h-0.9zM216.7 106.5h0.9v0.9h-0.9zM211.3 108.8h0.9v0.9h-0.9zM215.1 106.8h0.9v0.9h-0.9zM211.4 101.1h0.9v0.9h-0.9zM213.0 113.1h0.9v0.9h-0.9zM214.7 112.0h0.9v0.9h-0.9zM209.2 116.3h0.9v0.9h-0.9zM217.0 116.0h0.9v0.9h-0.9zM210.7 99.1h0.9v0.9h-0.9zM208.5 116.4h0.9v0.9h-0.9zM213.7 115.8h0.9v0.9h-0.9zM215.7 103.8h0.9v0.9h-0.9zM212.0 114.4h0.9v0.9h-0.9zM208.6 117.6h0.9v0.9h-0.9zM216.7 103.6h0.9v0.9h-0.9zM203.6 99.7h0.9v0.9h-0.9zM207.6 105.8h0.9v0.9h-0.9zM213.5 125.5h0.9v0.9h-0.9zM205.8 109.9h0.9v0.9h-0.9zM213.5 99.6h0.9v0.9h-0.9zM213.0 105.9h0.9v0.9h-0.9zM218.2 100.5h0.9v0.9h-0.9zM208.3 105.5h0.9v0.9h-0.9zM209.9 108.5h0.9v0.9h-0.9zM215.1 90.7h0.9v0.9h-0.9zM199.8 111.4h0.9v0.9h-0.9zM230.4 114.6h0.9v0.9h-0.9zM209.5 106.7h0.9v0.9h-0.9zM209.3 105.5h0.9v0.9h-0.9zM218.0 114.0h0.9v0.9h-0.9zM213.1 99.3h0.9v0.9h-0.9zM203.5 100.6h0.9v0.9h-0.9zM216.7 98.1h0.9v0.9h-0.9zM218.0 105.9h0.9v0.9h-0.9zM210.8 110.3h0.9v0.9h-0.9zM211.8 107.1h0.9v0.9h-0.9zM216.0 110.7h0.9v0.9h-0.9zM208.3 113.5h0.9v0.9h-0.9zM215.7 110.4h0.9v0.9h-0.9zM214.4 102.1h0.9v0.9h-0.9zM209.6 106.2h0.9v0.9h-0.9zM205.6 116.5h0.9v0.9h-0.9zM212.1 100.9h0.9v0.9h-0.9zM208.5 106.4h0.9v0.9h-0.9zM218.8 104.2h0.9v0.9h-0.9zM214.1 106.2h0.9v0.9h-0.9zM217.6 100.0h0.9v0.9h-0.9zM214.0 98.7h0.9v0.9h-0.9zM214.7 123.9h0.9v0.9h-0.9zM209.0 114.1h0.9v0.9h-0.9zM217.0 102.5h0.9v0.9h-0.9zM223.1 106.0h0.9v0.9h-0.9zM211.6 112.1h0.9v0.9h-0.9zM210.0 105.7h0.9v0.9h-0.9zM212.4 111.6h0.9v0.9h-0.9zM210.7 103.8h0.9v0.9h-0.9zM209.4 105.6h0.9v0.9h-0.9zM214.1 106.9h0.9v0.9h-0.9zM211.7 104.7h0.9v0.9h-0.9zM221.2 90.7h0.9v0.9h-0.9zM213.3 107.6h0.9v0.9h-0.9zM215.1 109.0h0.9v0.9h-0.9zM218.5 110.0h0.9v0.9h-0.9zM211.6 101.3h0.9v0.9h-0.9zM221.2 108.8h0.9v0.9h-0.9zM209.8 109.3h0.9v0.9h-0.9zM208.9 96.6h0.9v0.9h-0.9zM211.3 93.5h0.9v0.9h-0.9zM212.7 110.7h0.9v0.9h-0.9zM205.6 102.2h0.9v0.9h-0.9zM213.1 114.0h0.9v0.9h-0.9zM204.1 122.4h0.9v0.9h-0.9zM221.0 102.8h0.9v0.9h-0.9zM212.9 103.1h0.9v0.9h-0.9zM209.8 107.8h0.9v0.9h-0.9zM208.3 112.5h0.9v0.9h-0.9zM211.2 100.4h0.9v0.9h-0.9zM212.1 115.7h0.9v0.9h-0.9zM207.6 114.6h0.9v0.9h-0.9zM208.2 112.4h0.9v0.9h-0.9zM212.3 104.1h0.9v0.9h-0.9zM210.4 113.8h0.9v0.9h-0.9zM218.5 112.4h0.9v0.9h-0.9zM219.6 99.0h0.9v0.9h-0.9zM213.4 121.0h0.9v0.9h-0.9zM215.9 105.2h0.9v0.9h-0.9zM206.0 110.8h0.9v0.9h-0.9zM216.8 103.7h0.9v0.9h-0.9zM213.1 110.0h0.9v0.9h-0.9zM216.0 114.7h0.9v0.9h-0.9zM222.1 101.2h0.9v0.9h-0.9zM200.8 98.3h0.9v0.9h-0.9zM214.7 104.4h0.9v0.9h-0.9zM207.3 99.8h0.9v0.9h-0.9zM216.6 102.2h0.9v0.9h-0.9zM206.1 107.5h0.9v0.9h-0.9zM210.6 107.4h0.9v0.9h-0.9zM214.4 115.7h0.9v0.9h-0.9zM216.7 100.5h0.9v0.9h-0.9zM213.7 109.7h0.9v0.9h-0.9zM208.9 104.7h0.9v0.9h-0.9zM210.3 116.7h0.9v0.9h-0.9zM218.2 123.3h0.9v0.9h-0.9zM213.3 109.5h0.9v0.9h-0.9zM204.0 119.4h0.9v0.9h-0.9zM217.9 103.5h0.9v0.9h-0.9zM215.6 96.9h0.9v0.9h-0.9zM218.1 98.7h0.9v0.9h-0.9zM211.4 97.5h0.9v0.9h-0.9zM217.9 100.8h0.9v0.9h-0.9zM207.5 106.6h0.9v0.9h-0.9zM216.4 114.6h0.9v0.9h-0.9zM210.6 112.3h0.9v0.9h-0.9zM217.0 110.1h0.9v0.9h-0.9zM218.8 104.1h0.9v0.9h-0.9zM209.3 103.3h0.9v0.9h-0.9zM213.0 107.7h0.9v0.9h-0.9zM213.5 108.4h0.9v0.9h-0.9zM219.8 108.4h0.9v0.9h-0.9zM217.2 109.4h0.9v0.9h-0.9zM206.6 107.5h0.9v0.9h-0.9zM215.8 94.8h0.9v0.9h-0.9zM217.4 99.8h0.9v0.9h-0.9zM225.0 100.8h0.9v0.9h-0.9zM204.1 119.6h0.9v0.9h-0.9zM210.4 105.1h0.9v0.9h-0.9zM220.6 111.0h0.9v0.9h-0.9zM205.8 117.9h0.9v0.9h-0.9zM206.7 110.4h0.9v0.9h-0.9zM216.1 104.6h0.9v0.9h-0.9zM218.9 104.9h0.9v0.9h-0.9zM209.6 101.3h0.9v0.9h-0.9zM216.3 109.1h0.9v0.9h-0.9zM213.9 114.7h0.9v0.9h-0.9zM221.7 110.2h0.9v0.9h-0.9zM213.3 112.5h0.9v0.9h-0.9zM218.7 111.5h0.9v0.9h-0.9zM208.3 121.0h0.9v0.9h-0.9zM212.3 103.5h0.9v0.9h-0.9zM212.8 108.6h0.9v0.9h-0.9zM219.6 111.3h0.9v0.9h-0.9zM216.5 115.2h0.9v0.9h-0.9zM209.2 92.3h0.9v0.9h-0.9zM217.1 103.7h0.9v0.9h-0.9zM217.5 105.7h0.9v0.9h-0.9zM212.7 100.9h0.9v0.9h-0.9zM211.9 113.1h0.9v0.9h-0.9zM212.2 109.0h0.9v0.9h-0.9zM204.0 106.0h0.9v0.9h-0.9zM214.3 96.8h0.9v0.9h-0.9zM214.6 98.8h0.9v0.9h-0.9zM208.5 101.7h0.9v0.9h-0.9zM217.4 110.0h0.9v0.9h-0.9zM205.7 100.5h0.9v0.9h-0.9zM210.3 94.5h0.9v0.9h-0.9zM210.7 98.4h0.9v0.9h-0.9zM224.2 102.4h0.9v0.9h-0.9zM204.5 119.4h0.9v0.9h-0.9zM216.4 123.3h0.9v0.9h-0.9zM218.5 103.8h0.9v0.9h-0.9zM215.4 113.4h0.9v0.9h-0.9zM219.8 115.8h0.9v0.9h-0.9zM207.8 116.5h0.9v0.9h-0.9zM200.8 108.2h0.9v0.9h-0.9zM217.5 98.6h0.9v0.9h-0.9zM206.7 105.1h0.9v0.9h-0.9zM211.5 95.7h0.9v0.9h-0.9zM206.8 109.8h0.9v0.9h-0.9zM219.1 111.8h0.9v0.9h-0.9zM218.1 94.7h0.9v0.9h-0.9zM209.3 107.6h0.9v0.9h-0.9zM218.3 108.8h0.9v0.9h-0.9zM214.0 115.5h0.9v0.9h-0.9zM212.5 116.5h0.9v0.9h-0.9zM213.6 112.6h0.9v0.9h-0.9zM212.2 103.2h0.9v0.9h-0.9zM216.7 104.7h0.9v0.9h-0.9zM215.0 115.1h0.9v0.9h-0.9zM211.4 103.8h0.9v0.9h-0.9zM218.8 106.6h0.9v0.9h-0.9zM209.9 118.0h0.9v0.9h-0.9zM214.9 108.1h0.9v0.9h-0.9zM215.6 98.3h0.9v0.9h-0.9zM221.4 104.6h0.9v0.9h-0.9zM210.5 112.0h0.9v0.9h-0.9zM222.9 105.1h0.9v0.9h-0.9zM214.3 114.9h0.9v0.9h-0.9zM212.2 115.9h0.9v0.9h-0.9zM209.6 103.7h0.9v0.9h-0.9zM216.5 103.9h0.9v0.9h-0.9zM213.6 106.8h0.9v0.9h-0.9zM207.2 100.4h0.9v0.9h-0.9zM207.1 110.7h0.9v0.9h-0.9zM210.2 106.7h0.9v0.9h-0.9zM209.6 113.0h0.9v0.9h-0.9zM219.3 102.9h0.9v0.9h-0.9zM220.9 100.9h0.9v0.9h-0.9zM218.1 118.8h0.9v0.9h-0.9zM215.3 101.6h0.9v0.9h-0.9zM210.9 104.0h0.9v0.9h-0.9zM213.6 102.7h0.9v0.9h-0.9zM218.2 105.0h0.9v0.9h-0.9zM225.0 100.2h0.9v0.9h-0.9zM218.3 106.6h0.9v0.9h-0.9zM211.8 103.1h0.9v0.9h-0.9zM213.5 104.8h0.9v0.9h-0.9zM210.6 110.2h0.9v0.9h-0.9zM209.0 112.5h0.9v0.9h-0.9zM212.3 110.6h0.9v0.9h-0.9zM214.4 102.6h0.9v0.9h-0.9zM223.4 108.9h0.9v0.9h-0.9zM213.6 106.7h0.9v0.9h-0.9zM220.8 105.9h0.9v0.9h-0.9zM223.0 95.2h0.9v0.9h-0.9zM213.7 111.8h0.9v0.9h-0.9zM222.1 105.6h0.9v0.9h-0.9zM217.2 118.1h0.9v0.9h-0.9zM211.0 111.9h0.9v0.9h-0.9zM214.8 100.1h0.9v0.9h-0.9zM213.4 98.6h0.9v0.9h-0.9zM212.0 115.1h0.9v0.9h-0.9zM212.2 102.0h0.9v0.9h-0.9zM214.1 111.8h0.9v0.9h-0.9zM215.7 105.3h0.9v0.9h-0.9zM208.4 121.7h0.9v0.9h-0.9zM213.2 108.0h0.9v0.9h-0.9zM204.9 118.3h0.9v0.9h-0.9zM214.7 116.0h0.9v0.9h-0.9zM216.7 104.1h0.9v0.9h-0.9zM214.2 105.3h0.9v0.9h-0.9zM214.9 116.9h0.9v0.9h-0.9zM216.5 107.2h0.9v0.9h-0.9zM209.6 102.4h0.9v0.9h-0.9zM212.0 115.5h0.9v0.9h-0.9zM216.1 123.9h0.9v0.9h-0.9zM218.8 106.7h0.9v0.9h-0.9zM215.5 116.4h0.9v0.9h-0.9zM227.3 104.9h0.9v0.9h-0.9zM212.8 116.5h0.9v0.9h-0.9zM218.8 105.5h0.9v0.9h-0.9zM220.3 115.5h0.9v0.9h-0.9zM212.6 111.3h0.9v0.9h-0.9zM208.8 107.1h0.9v0.9h-0.9zM206.8 110.1h0.9v0.9h-0.9zM214.2 104.2h0.9v0.9h-0.9zM219.4 99.8h0.9v0.9h-0.9zM214.8 100.8h0.9v0.9h-0.9zM214.3 107.3h0.9v0.9h-0.9zM211.2 101.2h0.9v0.9h-0.9zM216.4 110.3h0.9v0.9h-0.9zM201.6 112.7h0.9v0.9h-0.9zM214.6 110.8h0.9v0.9h-0.9zM213.5 104.7h0.9v0.9h-0.9zM205.8 109.2h0.9v0.9h-0.9zM225.3 106.3h0.9v0.9h-0.9zM205.7 117.4h0.9v0.9h-0.9zM207.4 103.4h0.9v0.9h-0.9zM206.7 106.2h0.9v0.9h-0.9zM219.4 105.7h0.9v0.9h-0.9zM208.4 107.6h0.9v0.9h-0.9zM217.0 102.7h0.9v0.9h-0.9zM216.5 103.5h0.9v0.9h-0.9zM214.7 114.3h0.9v0.9h-0.9zM206.1 104.7h0.9v0.9h-0.9zM209.9 114.3h0.9v0.9h-0.9zM222.5 120.0h0.9v0.9h-0.9zM206.2 117.1h0.9v0.9h-0.9zM208.7 96.8h0.9v0.9h-0.9zM212.4 113.1h0.9v0.9h-0.9zM217.7 110.5h0.9v0.9h-0.9zM214.7 111.3h0.9v0.9h-0.9zM217.4 97.0h0.9v0.9h-0.9zM207.4 113.6h0.9v0.9h-0.9zM218.5 100.3h0.9v0.9h-0.9zM216.4 116.0h0.9v0.9h-0.9zM204.5 115.9h0.9v0.9h-0.9zM221.8 123.4h0.9v0.9h-0.9zM225.9 103.9h0.9v0.9h-0.9zM209.1 98.6h0.9v0.9h-0.9zM213.6 114.7h0.9v0.9h-0.9zM221.0 112.7h0.9v0.9h-0.9zM205.2 106.4h0.9v0.9h-0.9zM202.4 118.0h0.9v0.9h-0.9zM206.2 113.2h0.9v0.9h-0.9zM210.2 99.9h0.9v0.9h-0.9zM210.1 106.0h0.9v0.9h-0.9zM216.6 104.6h0.9v0.9h-0.9zM214.8 107.0h0.9v0.9h-0.9zM206.4 110.0h0.9v0.9h-0.9zM216.4 103.0h0.9v0.9h-0.9zM223.6 105.4h0.9v0.9h-0.9zM219.9 110.9h0.9v0.9h-0.9zM218.8 106.8h0.9v0.9h-0.9zM213.4 106.1h0.9v0.9h-0.9zM218.7 105.3h0.9v0.9h-0.9zM208.0 107.9h0.9v0.9h-0.9zM217.4 95.0h0.9v0.9h-0.9zM212.8 109.0h0.9v0.9h-0.9zM219.5 100.5h0.9v0.9h-0.9zM215.9 108.3h0.9v0.9h-0.9zM207.3 99.1h0.9v0.9h-0.9zM214.0 113.8h0.9v0.9h-0.9zM220.0 108.6h0.9v0.9h-0.9zM207.1 99.9h0.9v0.9h-0.9zM210.2 109.8h0.9v0.9h-0.9zM209.1 103.5h0.9v0.9h-0.9zM205.1 120.5h0.9v0.9h-0.9zM218.6 110.4h0.9v0.9h-0.9zM220.5 101.9h0.9v0.9h-0.9zM217.7 108.8h0.9v0.9h-0.9zM214.6 107.5h0.9v0.9h-0.9zM213.0 115.7h0.9v0.9h-0.9zM214.6 110.1h0.9v0.9h-0.9zM209.3 111.7h0.9v0.9h-0.9zM218.2 100.1h0.9v0.9h-0.9zM219.1 112.4h0.9v0.9h-0.9zM218.4 120.9h0.9v0.9h-0.9zM210.4 112.4h0.9v0.9h-0.9zM213.7 107.6h0.9v0.9h-0.9zM212.4 109.1h0.9v0.9h-0.9zM223.1 100.6h0.9v0.9h-0.9zM214.3 109.0h0.9v0.9h-0.9zM202.9 102.1h0.9v0.9h-0.9zM215.5 108.0h0.9v0.9h-0.9zM223.7 104.2h0.9v0.9h-0.9zM217.1 102.1h0.9v0.9h-0.9zM218.1 111.1h0.9v0.9h-0.9zM213.5 98.3h0.9v0.9h-0.9zM202.5 109.0h0.9v0.9h-0.9zM203.3 100.6h0.9v0.9h-0.9zM206.4 120.6h0.9v0.9h-0.9zM212.6 120.8h0.9v0.9h-0.9zM215.0 113.2h0.9v0.9h-0.9zM217.1 119.8h0.9v0.9h-0.9zM211.4 112.0h0.9v0.9h-0.9zM218.6 110.8h0.9v0.9h-0.9zM211.8 105.4h0.9v0.9h-0.9zM209.4 102.6h0.9v0.9h-0.9zM218.0 108.2h0.9v0.9h-0.9zM208.3 105.1h0.9v0.9h-0.9zM198.3 106.9h0.9v0.9h-0.9zM207.5 113.3h0.9v0.9h-0.9zM213.8 107.1h0.9v0.9h-0.9zM196.4 99.8h0.9v0.9h-0.9zM211.3 106.8h0.9v0.9h-0.9zM211.5 103.2h0.9v0.9h-0.9zM205.5 106.9h0.9v0.9h-0.9zM205.1 101.8h0.9v0.9h-0.9zM210.8 116.0h0.9v0.9h-0.9zM210.3 120.6h0.9v0.9h-0.9zM220.2 99.9h0.9v0.9h-0.9zM215.4 111.9h0.9v0.9h-0.9zM204.6 112.8h0.9v0.9h-0.9zM208.6 101.5h0.9v0.9h-0.9zM217.2 108.1h0.9v0.9h-0.9zM223.7 115.8h0.9v0.9h-0.9zM215.4 113.1h0.9v0.9h-0.9zM215.0 118.2h0.9v0.9h-0.9zM223.5 99.1h0.9v0.9h-0.9zM213.2 103.1h0.9v0.9h-0.9zM211.6 110.0h0.9v0.9h-0.9zM205.5 111.1h0.9v0.9h-0.9zM210.5 108.4h0.9v0.9h-0.9zM225.3 104.0h0.9v0.9h-0.9zM205.5 106.1h0.9v0.9h-0.9zM213.4 103.9h0.9v0.9h-0.9zM205.6 111.7h0.9v0.9h-0.9zM214.0 89.9h0.9v0.9h-0.9zM218.2 117.6h0.9v0.9h-0.9zM212.0 104.6h0.9v0.9h-0.9zM217.3 98.1h0.9v0.9h-0.9zM217.3 110.9h0.9v0.9h-0.9zM215.8 98.4h0.9v0.9h-0.9zM222.7 109.2h0.9v0.9h-0.9zM217.6 104.7h0.9v0.9h-0.9zM211.6 111.8h0.9v0.9h-0.9zM209.6 113.3h0.9v0.9h-0.9zM208.7 116.7h0.9v0.9h-0.9zM215.9 104.3h0.9v0.9h-0.9zM211.5 106.1h0.9v0.9h-0.9zM228.3 105.9h0.9v0.9h-0.9zM223.4 97.4h0.9v0.9h-0.9zM212.1 111.7h0.9v0.9h-0.9zM211.5 108.8h0.9v0.9h-0.9zM222.6 98.0h0.9v0.9h-0.9zM202.9 116.8h0.9v0.9h-0.9zM210.8 116.9h0.9v0.9h-0.9zM218.5 98.6h0.9v0.9h-0.9zM208.3 112.0h0.9v0.9h-0.9zM210.7 116.1h0.9v0.9h-0.9zM211.4 113.4h0.9v0.9h-0.9zM216.9 101.0h0.9v0.9h-0.9zM214.1 98.6h0.9v0.9h-0.9zM215.5 106.7h0.9v0.9h-0.9zM216.6 104.1h0.9v0.9h-0.9zM213.5 107.6h0.9v0.9h-0.9zM219.4 106.3h0.9v0.9h-0.9zM209.3 111.6h0.9v0.9h-0.9zM205.4 105.0h0.9v0.9h-0.9zM203.5 107.8h0.9v0.9h-0.9zM204.4 127.9h0.9v0.9h-0.9zM210.3 107.2h0.9v0.9h-0.9zM219.0 111.8h0.9v0.9h-0.9zM214.3 109.4h0.9v0.9h-0.9zM210.0 109.5h0.9v0.9h-0.9zM207.4 102.5h0.9v0.9h-0.9zM210.4 111.4h0.9v0.9h-0.9zM211.1 107.6h0.9v0.9h-0.9zM210.2 113.3h0.9v0.9h-0.9zM205.4 121.9h0.9v0.9h-0.9zM210.7 109.2h0.9v0.9h-0.9zM218.9 111.9h0.9v0.9h-0.9zM201.3 102.5h0.9v0.9h-0.9zM212.0 108.6h0.9v0.9h-0.9zM201.6 119.1h0.9v0.9h-0.9zM214.3 107.1h0.9v0.9h-0.9zM209.2 104.0h0.9v0.9h-0.9zM201.8 110.3h0.9v0.9h-0.9zM213.9 106.4h0.9v0.9h-0.9zM223.3 104.9h0.9v0.9h-0.9zM213.9 105.2h0.9v0.9h-0.9zM219.7 119.7h0.9v0.9h-0.9zM212.9 102.1h0.9v0.9h-0.9zM201.4 106.4h0.9v0.9h-0.9zM216.0 103.6h0.9v0.9h-0.9zM211.0 115.9h0.9v0.9h-0.9zM205.3 106.8h0.9v0.9h-0.9zM217.6 115.6h0.9v0.9h-0.9zM214.9 108.5h0.9v0.9h-0.9zM210.4 107.8h0.9v0.9h-0.9zM218.1 97.6h0.9v0.9h-0.9zM208.5 116.0h0.9v0.9h-0.9zM216.8 110.7h0.9v0.9h-0.9zM208.1 110.9h0.9v0.9h-0.9zM216.2 106.5h0.9v0.9h-0.9zM207.2 105.7h0.9v0.9h-0.9zM221.5 98.5h0.9v0.9h-0.9zM214.7 113.6h0.9v0.9h-0.9zM221.2 108.4h0.9v0.9h-0.9zM208.8 105.8h0.9v0.9h-0.9zM210.7 103.9h0.9v0.9h-0.9zM217.9 107.8h0.9v0.9h-0.9zM198.2 108.8h0.9v0.9h-0.9zM207.4 119.0h0.9v0.9h-0.9zM219.0 112.0h0.9v0.9h-0.9zM215.9 103.5h0.9v0.9h-0.9zM218.7 99.9h0.9v0.9h-0.9zM211.6 106.3h0.9v0.9h-0.9zM216.4 101.4h0.9v0.9h-0.9zM209.3 108.6h0.9v0.9h-0.9zM205.8 111.1h0.9v0.9h-0.9zM204.0 112.9h0.9v0.9h-0.9zM210.3 110.7h0.9v0.9h-0.9zM210.3 106.8h0.9v0.9h-0.9zM209.8 111.9h0.9v0.9h-0.9zM193.8 104.2h0.9v0.9h-0.9zM202.3 108.5h0.9v0.9h-0.9zM210.4 113.3h0.9v0.9h-0.9zM214.9 109.3h0.9v0.9h-0.9zM210.1 99.8h0.9v0.9h-0.9zM208.5 100.8h0.9v0.9h-0.9zM200.6 98.7h0.9v0.9h-0.9zM224.4 118.0h0.9v0.9h-0.9zM207.2 98.4h0.9v0.9h-0.9zM222.6 105.7h0.9v0.9h-0.9zM221.9 118.6h0.9v0.9h-0.9zM214.8 114.5h0.9v0.9h-0.9zM210.2 116.6h0.9v0.9h-0.9zM214.0 104.4h0.9v0.9h-0.9zM207.0 113.2h0.9v0.9h-0.9zM214.7 127.2h0.9v0.9h-0.9zM213.3 107.5h0.9v0.9h-0.9zM216.2 110.0h0.9v0.9h-0.9zM218.5 105.1h0.9v0.9h-0.9zM222.8 106.5h0.9v0.9h-0.9zM211.2 110.4h0.9v0.9h-0.9zM219.0 116.0h0.9v0.9h-0.9zM208.9 102.4h0.9v0.9h-0.9zM208.4 99.1h0.9v0.9h-0.9zM209.9 108.3h0.9v0.9h-0.9zM207.9 109.7h0.9v0.9h-0.9zM218.7 116.2h0.9v0.9h-0.9zM218.4 111.8h0.9v0.9h-0.9zM220.3 102.9h0.9v0.9h-0.9zM213.2 111.4h0.9v0.9h-0.9zM214.8 114.8h0.9v0.9h-0.9zM210.1 110.0h0.9v0.9h-0.9zM207.0 106.3h0.9v0.9h-0.9zM215.8 111.8h0.9v0.9h-0.9zM214.8 105.3h0.9v0.9h-0.9zM207.2 96.4h0.9v0.9h-0.9zM216.5 116.0h0.9v0.9h-0.9zM203.7 100.5h0.9v0.9h-0.9zM212.3 105.7h0.9v0.9h-0.9zM209.8 106.1h0.9v0.9h-0.9zM210.4 105.9h0.9v0.9h-0.9zM207.3 106.6h0.9v0.9h-0.9zM218.5 97.8h0.9v0.9h-0.9zM216.4 110.7h0.9v0.9h-0.9zM219.8 107.1h0.9v0.9h-0.9zM214.0 107.9h0.9v0.9h-0.9zM206.2 115.5h0.9v0.9h-0.9zM211.2 115.0h0.9v0.9h-0.9zM206.7 117.1h0.9v0.9h-0.9zM215.8 119.4h0.9v0.9h-0.9zM219.9 109.8h0.9v0.9h-0.9zM215.0 97.5h0.9v0.9h-0.9zM209.9 109.5h0.9v0.9h-0.9zM211.2 108.0h0.9v0.9h-0.9zM214.3 108.0h0.9v0.9h-0.9zM205.3 104.7h0.9v0.9h-0.9zM214.0 101.8h0.9v0.9h-0.9zM214.3 112.7h0.9v0.9h-0.9zM210.2 114.3h0.9v0.9h-0.9zM210.9 100.7h0.9v0.9h-0.9zM214.1 111.1h0.9v0.9h-0.9zM208.7 107.1h0.9v0.9h-0.9zM208.7 105.7h0.9v0.9h-0.9zM217.5 111.6h0.9v0.9h-0.9zM214.4 107.2h0.9v0.9h-0.9zM222.4 103.0h0.9v0.9h-0.9zM207.8 108.7h0.9v0.9h-0.9zM203.4 95.9h0.9v0.9h-0.9zM218.4 103.2h0.9v0.9h-0.9zM218.4 104.2h0.9v0.9h-0.9zM209.1 99.1h0.9v0.9h-0.9zM205.1 109.8h0.9v0.9h-0.9zM212.9 109.4h0.9v0.9h-0.9zM203.5 104.9h0.9v0.9h-0.9zM211.3 106.8h0.9v0.9h-0.9zM201.1 113.4h0.9v0.9h-0.9zM211.8 114.6h0.9v0.9h-0.9zM201.5 104.1h0.9v0.9h-0.9zM211.8 110.0h0.9v0.9h-0.9zM221.5 113.3h0.9v0.9h-0.9zM211.6 107.6h0.9v0.9h-0.9zM217.3 102.1h0.9v0.9h-0.9zM209.6 103.0h0.9v0.9h-0.9zM208.2 106.1h0.9v0.9h-0.9zM204.9 101.9h0.9v0.9h-0.9zM218.8 119.9h0.9v0.9h-0.9zM212.8 103.9h0.9v0.9h-0.9zM222.0 109.0h0.9v0.9h-0.9zM206.6 109.5h0.9v0.9h-0.9zM211.8 111.8h0.9v0.9h-0.9zM213.5 105.0h0.9v0.9h-0.9zM220.8 98.2h0.9v0.9h-0.9zM223.1 116.9h0.9v0.9h-0.9zM209.5 107.5h0.9v0.9h-0.9zM206.8 109.0h0.9v0.9h-0.9zM203.5 110.0h0.9v0.9h-0.9zM220.4 114.8h0.9v0.9h-0.9zM212.6 112.6h0.9v0.9h-0.9zM209.5 115.5h0.9v0.9h-0.9zM212.7 112.9h0.9v0.9h-0.9zM199.0 110.2h0.9v0.9h-0.9zM203.5 110.3h0.9v0.9h-0.9zM218.2 102.1h0.9v0.9h-0.9zM215.2 94.7h0.9v0.9h-0.9zM213.8 105.9h0.9v0.9h-0.9zM207.5 101.3h0.9v0.9h-0.9zM216.2 123.9h0.9v0.9h-0.9zM222.8 116.5h0.9v0.9h-0.9zM206.3 115.9h0.9v0.9h-0.9zM213.1 104.0h0.9v0.9h-0.9zM210.6 121.1h0.9v0.9h-0.9zM215.0 96.3h0.9v0.9h-0.9zM213.1 99.7h0.9v0.9h-0.9zM212.2 102.6h0.9v0.9h-0.9zM208.2 101.9h0.9v0.9h-0.9zM212.9 108.4h0.9v0.9h-0.9zM209.6 109.2h0.9v0.9h-0.9zM212.2 120.0h0.9v0.9h-0.9zM212.7 114.0h0.9v0.9h-0.9zM216.6 115.0h0.9v0.9h-0.9zM209.8 110.6h0.9v0.9h-0.9zM211.2 106.8h0.9v0.9h-0.9zM218.9 102.4h0.9v0.9h-0.9zM211.8 97.9h0.9v0.9h-0.9zM211.6 102.1h0.9v0.9h-0.9zM217.8 104.5h0.9v0.9h-0.9zM214.5 112.3h0.9v0.9h-0.9zM213.5 96.6h0.9v0.9h-0.9zM214.2 98.6h0.9v0.9h-0.9zM206.2 109.8h0.9v0.9h-0.9zM215.5 100.5h0.9v0.9h-0.9zM220.3 108.9h0.9v0.9h-0.9zM216.2 104.5h0.9v0.9h-0.9zM204.5 103.7h0.9v0.9h-0.9zM214.6 98.7h0.9v0.9h-0.9zM208.1 107.5h0.9v0.9h-0.9zM211.8 103.0h0.9v0.9h-0.9zM213.8 103.5h0.9v0.9h-0.9zM206.5 104.2h0.9v0.9h-0.9zM220.4 107.9h0.9v0.9h-0.9zM212.7 108.5h0.9v0.9h-0.9zM217.4 95.9h0.9v0.9h-0.9zM216.6 106.1h0.9v0.9h-0.9zM220.5 109.2h0.9v0.9h-0.9zM219.6 113.5h0.9v0.9h-0.9zM205.0 113.5h0.9v0.9h-0.9zM213.3 108.9h0.9v0.9h-0.9zM201.4 101.5h0.9v0.9h-0.9zM210.6 102.8h0.9v0.9h-0.9zM217.0 113.0h0.9v0.9h-0.9zM218.1 102.4h0.9v0.9h-0.9zM220.2 113.3h0.9v0.9h-0.9zM211.0 116.0h0.9v0.9h-0.9zM214.9 100.4h0.9v0.9h-0.9zM213.7 110.3h0.9v0.9h-0.9zM220.1 106.0h0.9v0.9h-0.9zM221.9 119.6h0.9v0.9h-0.9zM211.1 113.2h0.9v0.9h-0.9zM233.9 101.8h0.9v0.9h-0.9zM213.1 110.2h0.9v0.9h-0.9zM211.1 101.8h0.9v0.9h-0.9zM216.4 106.2h0.9v0.9h-0.9zM217.3 108.4h0.9v0.9h-0.9zM216.1 108.1h0.9v0.9h-0.9zM209.6 109.9h0.9v0.9h-0.9zM221.2 100.7h0.9v0.9h-0.9zM213.4 95.5h0.9v0.9h-0.9zM221.6 104.2h0.9v0.9h-0.9zM220.8 100.8h0.9v0.9h-0.9zM206.2 103.8h0.9v0.9h-0.9zM207.8 122.0h0.9v0.9h-0.9zM207.7 115.7h0.9v0.9h-0.9zM214.5 106.2h0.9v0.9h-0.9zM213.5 98.2h0.9v0.9h-0.9zM214.7 98.9h0.9v0.9h-0.9zM208.7 110.4h0.9v0.9h-0.9zM215.5 114.2h0.9v0.9h-0.9zM220.9 104.7h0.9v0.9h-0.9zM205.9 109.3h0.9v0.9h-0.9zM212.1 109.3h0.9v0.9h-0.9zM214.6 114.2h0.9v0.9h-0.9zM212.5 95.4h0.9v0.9h-0.9zM212.1 108.6h0.9v0.9h-0.9zM222.9 109.0h0.9v0.9h-0.9zM220.3 112.8h0.9v0.9h-0.9zM217.9 109.5h0.9v0.9h-0.9zM209.0 100.9h0.9v0.9h-0.9zM225.5 102.3h0.9v0.9h-0.9zM215.2 97.4h0.9v0.9h-0.9zM210.0 109.1h0.9v0.9h-0.9zM211.4 109.0h0.9v0.9h-0.9zM210.5 111.1h0.9v0.9h-0.9zM224.9 99.9h0.9v0.9h-0.9zM214.4 100.0h0.9v0.9h-0.9zM213.6 117.3h0.9v0.9h-0.9zM201.4 110.1h0.9v0.9h-0.9zM217.3 118.3h0.9v0.9h-0.9zM207.4 111.0h0.9v0.9h-0.9zM207.0 98.8h0.9v0.9h-0.9zM216.6 112.3h0.9v0.9h-0.9zM208.5 116.1h0.9v0.9h-0.9zM217.8 104.1h0.9v0.9h-0.9zM219.4 94.3h0.9v0.9h-0.9zM203.4 113.0h0.9v0.9h-0.9zM212.5 106.7h0.9v0.9h-0.9zM204.6 110.3h0.9v0.9h-0.9zM212.9 90.2h0.9v0.9h-0.9zM218.2 109.9h0.9v0.9h-0.9zM205.7 90.6h0.9v0.9h-0.9zM223.1 100.7h0.9v0.9h-0.9zM211.5 113.4h0.9v0.9h-0.9zM206.7 96.5h0.9v0.9h-0.9zM212.5 95.5h0.9v0.9h-0.9zM217.6 104.1h0.9v0.9h-0.9zM205.6 119.1h0.9v0.9h-0.9zM213.2 118.0h0.9v0.9h-0.9zM205.7 104.5h0.9v0.9h-0.9zM219.8 113.2h0.9v0.9h-0.9zM214.1 111.2h0.9v0.9h-0.9zM210.9 109.5h0.9v0.9h-0.9zM218.9 109.1h0.9v0.9h-0.9zM206.1 103.7h0.9v0.9h-0.9zM211.0 112.9h0.9v0.9h-0.9zM223.4 113.2h0.9v0.9h-0.9zM212.5 125.1h0.9v0.9h-0.9zM220.7 112.5h0.9v0.9h-0.9zM214.3 91.5h0.9v0.9h-0.9zM209.3 100.2h0.9v0.9h-0.9zM211.8 109.8h0.9v0.9h-0.9zM213.6 107.9h0.9v0.9h-0.9zM210.9 95.7h0.9v0.9h-0.9zM208.7 107.1h0.9v0.9h-0.9zM208.9 105.7h0.9v0.9h-0.9zM205.0 108.1h0.9v0.9h-0.9zM213.8 106.6h0.9v0.9h-0.9zM215.3 113.2h0.9v0.9h-0.9zM217.3 116.5h0.9v0.9h-0.9zM203.2 113.1h0.9v0.9h-0.9zM217.6 99.8h0.9v0.9h-0.9zM213.1 101.9h0.9v0.9h-0.9zM205.3 104.1h0.9v0.9h-0.9zM213.7 107.1h0.9v0.9h-0.9zM217.7 104.2h0.9v0.9h-0.9zM216.1 104.9h0.9v0.9h-0.9zM217.2 101.0h0.9v0.9h-0.9zM218.4 113.0h0.9v0.9h-0.9zM218.1 112.4h0.9v0.9h-0.9zM213.0 113.7h0.9v0.9h-0.9zM201.7 108.3h0.9v0.9h-0.9zM209.0 110.9h0.9v0.9h-0.9zM215.1 101.4h0.9v0.9h-0.9zM210.6 101.3h0.9v0.9h-0.9zM217.0 103.5h0.9v0.9h-0.9zM217.6 110.8h0.9v0.9h-0.9zM213.5 106.5h0.9v0.9h-0.9zM223.5 98.9h0.9v0.9h-0.9zM207.8 108.7h0.9v0.9h-0.9zM218.3 109.6h0.9v0.9h-0.9zM210.6 108.9h0.9v0.9h-0.9zM208.9 103.7h0.9v0.9h-0.9zM216.4 107.5h0.9v0.9h-0.9zM209.8 105.2h0.9v0.9h-0.9zM217.9 104.8h0.9v0.9h-0.9zM206.8 107.7h0.9v0.9h-0.9zM213.4 112.3h0.9v0.9h-0.9zM208.6 119.9h0.9v0.9h-0.9zM211.9 117.7h0.9v0.9h-0.9zM211.1 111.8h0.9v0.9h-0.9zM207.0 105.6h0.9v0.9h-0.9zM216.8 105.1h0.9v0.9h-0.9zM206.3 106.6h0.9v0.9h-0.9zM207.8 115.6h0.9v0.9h-0.9zM218.1 89.0h0.9v0.9h-0.9zM218.6 108.5h0.9v0.9h-0.9zM216.9 94.2h0.9v0.9h-0.9zM215.1 107.3h0.9v0.9h-0.9zM225.7 114.6h0.9v0.9h-0.9zM206.5 102.4h0.9v0.9h-0.9zM209.1 93.2h0.9v0.9h-0.9zM207.7 116.5h0.9v0.9h-0.9zM218.1 116.7h0.9v0.9h-0.9zM214.8 110.5h0.9v0.9h-0.9zM219.3 114.9h0.9v0.9h-0.9zM218.6 101.7h0.9v0.9h-0.9zM212.0 115.2h0.9v0.9h-0.9zM208.7 119.0h0.9v0.9h-0.9zM207.8 112.3h0.9v0.9h-0.9zM225.4 107.9h0.9v0.9h-0.9zM218.5 115.2h0.9v0.9h-0.9zM216.5 114.4h0.9v0.9h-0.9zM211.4 102.9h0.9v0.9h-0.9zM212.1 116.4h0.9v0.9h-0.9zM211.3 112.5h0.9v0.9h-0.9zM211.4 108.7h0.9v0.9h-0.9zM200.0 117.5h0.9v0.9h-0.9zM212.9 113.5h0.9v0.9h-0.9zM211.1 112.6h0.9v0.9h-0.9zM214.8 104.0h0.9v0.9h-0.9zM214.4 112.8h0.9v0.9h-0.9zM217.9 99.8h0.9v0.9h-0.9zM213.1 106.7h0.9v0.9h-0.9zM217.6 96.0h0.9v0.9h-0.9zM199.1 98.2h0.9v0.9h-0.9zM207.2 111.1h0.9v0.9h-0.9zM222.7 105.9h0.9v0.9h-0.9zM206.5 108.8h0.9v0.9h-0.9zM211.7 111.5h0.9v0.9h-0.9zM217.1 109.3h0.9v0.9h-0.9zM208.4 102.4h0.9v0.9h-0.9zM217.2 107.5h0.9v0.9h-0.9zM205.4 108.0h0.9v0.9h-0.9zM202.7 105.4h0.9v0.9h-0.9zM205.9 107.6h0.9v0.9h-0.9zM204.1 106.2h0.9v0.9h-0.9zM213.1 103.3h0.9v0.9h-0.9zM211.5 105.6h0.9v0.9h-0.9zM215.0 108.8h0.9v0.9h-0.9zM207.5 121.5h0.9v0.9h-0.9zM227.2 100.6h0.9v0.9h-0.9zM212.7 110.9h0.9v0.9h-0.9zM213.0 98.1h0.9v0.9h-0.9zM215.7 117.5h0.9v0.9h-0.9zM211.9 105.5h0.9v0.9h-0.9zM209.7 108.8h0.9v0.9h-0.9zM213.7 115.7h0.9v0.9h-0.9zM218.3 113.3h0.9v0.9h-0.9zM216.9 97.4h0.9v0.9h-0.9zM218.4 110.5h0.9v0.9h-0.9zM210.1 106.4h0.9v0.9h-0.9zM209.0 112.0h0.9v0.9h-0.9zM224.3 107.2h0.9v0.9h-0.9zM211.9 112.4h0.9v0.9h-0.9zM215.9 109.1h0.9v0.9h-0.9zM217.3 106.1h0.9v0.9h-0.9zM221.0 114.2h0.9v0.9h-0.9zM205.8 98.4h0.9v0.9h-0.9zM210.6 105.0h0.9v0.9h-0.9zM210.9 101.6h0.9v0.9h-0.9zM211.6 106.8h0.9v0.9h-0.9zM200.0 106.3h0.9v0.9h-0.9zM212.7 106.6h0.9v0.9h-0.9zM197.3 106.2h0.9v0.9h-0.9zM214.9 104.3h0.9v0.9h-0.9zM216.2 96.5h0.9v0.9h-0.9zM216.5 106.9h0.9v0.9h-0.9zM206.6 110.3h0.9v0.9h-0.9zM218.5 103.0h0.9v0.9h-0.9zM208.5 103.8h0.9v0.9h-0.9zM206.5 104.1h0.9v0.9h-0.9zM207.9 119.0h0.9v0.9h-0.9zM208.6 109.3h0.9v0.9h-0.9zM214.2 109.9h0.9v0.9h-0.9zM217.8 105.0h0.9v0.9h-0.9zM201.7 105.6h0.9v0.9h-0.9zM210.3 102.2h0.9v0.9h-0.9zM218.2 116.9h0.9v0.9h-0.9zM214.4 96.4h0.9v0.9h-0.9zM216.1 109.1h0.9v0.9h-0.9zM205.0 108.3h0.9v0.9h-0.9zM218.5 105.2h0.9v0.9h-0.9zM204.7 98.4h0.9v0.9h-0.9zM214.3 99.4h0.9v0.9h-0.9zM220.8 113.0h0.9v0.9h-0.9zM223.6 101.8h0.9v0.9h-0.9zM216.1 112.9h0.9v0.9h-0.9zM218.1 111.3h0.9v0.9h-0.9zM210.0 111.6h0.9v0.9h-0.9zM210.7 112.7h0.9v0.9h-0.9zM219.7 98.9h0.9v0.9h-0.9zM213.3 104.4h0.9v0.9h-0.9zM212.6 112.0h0.9v0.9h-0.9zM205.5 100.3h0.9v0.9h-0.9zM214.1 118.2h0.9v0.9h-0.9zM216.9 103.5h0.9v0.9h-0.9zM208.9 107.6h0.9v0.9h-0.9zM210.5 101.2h0.9v0.9h-0.9zM222.0 108.8h0.9v0.9h-0.9zM214.3 102.6h0.9v0.9h-0.9zM211.7 106.1h0.9v0.9h-0.9zM207.0 100.9h0.9v0.9h-0.9zM209.9 115.6h0.9v0.9h-0.9zM211.9 97.1h0.9v0.9h-0.9zM220.8 109.5h0.9v0.9h-0.9zM209.9 109.4h0.9v0.9h-0.9zM223.2 109.2h0.9v0.9h-0.9zM208.2 101.5h0.9v0.9h-0.9zM211.3 114.4h0.9v0.9h-0.9zM217.9 113.2h0.9v0.9h-0.9zM212.0 108.7h0.9v0.9h-0.9zM208.7 110.1h0.9v0.9h-0.9zM212.6 106.6h0.9v0.9h-0.9zM215.8 111.4h0.9v0.9h-0.9zM203.9 103.3h0.9v0.9h-0.9zM211.9 111.3h0.9v0.9h-0.9zM212.7 110.2h0.9v0.9h-0.9zM211.1 98.6h0.9v0.9h-0.9zM217.3 90.1h0.9v0.9h-0.9zM210.2 107.1h0.9v0.9h-0.9zM211.3 106.7h0.9v0.9h-0.9zM213.5 115.4h0.9v0.9h-0.9zM217.3 107.4h0.9v0.9h-0.9zM212.1 104.4h0.9v0.9h-0.9zM221.6 97.7h0.9v0.9h-0.9zM208.3 107.5h0.9v0.9h-0.9zM220.4 102.9h0.9v0.9h-0.9zM208.6 100.9h0.9v0.9h-0.9zM212.4 106.8h0.9v0.9h-0.9zM215.3 114.1h0.9v0.9h-0.9zM224.6 106.8h0.9v0.9h-0.9zM218.2 100.1h0.9v0.9h-0.9zM211.1 109.9h0.9v0.9h-0.9zM220.4 99.6h0.9v0.9h-0.9zM212.1 97.4h0.9v0.9h-0.9zM208.9 111.2h0.9v0.9h-0.9zM215.8 103.6h0.9v0.9h-0.9zM213.8 114.6h0.9v0.9h-0.9zM218.5 108.9h0.9v0.9h-0.9zM210.3 102.6h0.9v0.9h-0.9zM215.4 108.7h0.9v0.9h-0.9zM216.8 115.5h0.9v0.9h-0.9zM214.8 106.1h0.9v0.9h-0.9zM213.1 100.7h0.9v0.9h-0.9zM209.5 103.7h0.9v0.9h-0.9zM218.3 101.7h0.9v0.9h-0.9zM214.1 99.8h0.9v0.9h-0.9zM216.0 98.8h0.9v0.9h-0.9zM211.4 110.5h0.9v0.9h-0.9zM213.4 114.7h0.9v0.9h-0.9zM207.6 105.8h0.9v0.9h-0.9zM213.8 112.5h0.9v0.9h-0.9zM217.5 112.9h0.9v0.9h-0.9zM213.8 118.3h0.9v0.9h-0.9zM218.0 105.7h0.9v0.9h-0.9zM215.0 105.0h0.9v0.9h-0.9zM220.8 109.3h0.9v0.9h-0.9zM212.3 108.3h0.9v0.9h-0.9zM204.3 110.5h0.9v0.9h-0.9zM215.7 115.6h0.9v0.9h-0.9zM212.4 104.8h0.9v0.9h-0.9zM207.9 109.5h0.9v0.9h-0.9zM216.9 100.7h0.9v0.9h-0.9zM214.8 106.3h0.9v0.9h-0.9zM215.7 102.9h0.9v0.9h-0.9zM211.5 102.8h0.9v0.9h-0.9zM214.4 106.0h0.9v0.9h-0.9zM214.7 104.4h0.9v0.9h-0.9zM223.1 108.7h0.9v0.9h-0.9zM209.5 113.1h0.9v0.9h-0.9zM213.2 97.9h0.9v0.9h-0.9zM215.3 113.8h0.9v0.9h-0.9zM203.8 94.2h0.9v0.9h-0.9zM204.5 110.1h0.9v0.9h-0.9zM225.2 110.7h0.9v0.9h-0.9zM203.6 104.4h0.9v0.9h-0.9zM216.5 105.6h0.9v0.9h-0.9zM208.6 103.0h0.9v0.9h-0.9zM209.1 113.8h0.9v0.9h-0.9zM202.4 88.3h0.9v0.9h-0.9zM208.3 101.8h0.9v0.9h-0.9zM217.6 94.5h0.9v0.9h-0.9zM205.7 109.6h0.9v0.9h-0.9zM216.6 115.5h0.9v0.9h-0.9zM215.0 115.0h0.9v0.9h-0.9zM224.4 110.5h0.9v0.9h-0.9zM210.7 109.4h0.9v0.9h-0.9zM220.2 101.7h0.9v0.9h-0.9zM218.2 114.8h0.9v0.9h-0.9zM211.7 111.7h0.9v0.9h-0.9zM204.2 103.1h0.9v0.9h-0.9zM221.6 98.2h0.9v0.9h-0.9zM205.8 104.3h0.9v0.9h-0.9zM210.7 114.8h0.9v0.9h-0.9zM218.2 115.0h0.9v0.9h-0.9zM219.4 117.2h0.9v0.9h-0.9zM208.7 103.0h0.9v0.9h-0.9zM213.1 105.2h0.9v0.9h-0.9zM211.9 116.6h0.9v0.9h-0.9zM219.8 108.2h0.9v0.9h-0.9zM227.1 110.8h0.9v0.9h-0.9zM203.2 100.1h0.9v0.9h-0.9zM218.3 104.5h0.9v0.9h-0.9zM197.6 109.3h0.9v0.9h-0.9zM213.4 105.2h0.9v0.9h-0.9zM207.2 105.5h0.9v0.9h-0.9zM224.3 95.6h0.9v0.9h-0.9zM214.2 117.9h0.9v0.9h-0.9zM209.2 108.9h0.9v0.9h-0.9zM210.6 98.4h0.9v0.9h-0.9zM210.1 114.9h0.9v0.9h-0.9zM214.3 107.8h0.9v0.9h-0.9zM212.4 112.3h0.9v0.9h-0.9zM216.9 105.9h0.9v0.9h-0.9zM221.8 101.5h0.9v0.9h-0.9zM217.2 102.2h0.9v0.9h-0.9zM206.6 110.6h0.9v0.9h-0.9zM204.4 113.7h0.9v0.9h-0.9zM209.1 111.3h0.9v0.9h-0.9zM219.1 111.1h0.9v0.9h-0.9zM211.5 115.6h0.9v0.9h-0.9zM209.6 109.9h0.9v0.9h-0.9zM214.1 114.0h0.9v0.9h-0.9zM205.5 115.7h0.9v0.9h-0.9zM207.0 110.3h0.9v0.9h-0.9zM216.1 106.8h0.9v0.9h-0.9zM211.6 105.1h0.9v0.9h-0.9zM210.8 100.2h0.9v0.9h-0.9zM215.0 97.4h0.9v0.9h-0.9zM210.1 116.6h0.9v0.9h-0.9zM209.5 108.1h0.9v0.9h-0.9zM210.8 104.5h0.9v0.9h-0.9zM216.6 117.5h0.9v0.9h-0.9zM213.6 114.0h0.9v0.9h-0.9zM206.7 108.9h0.9v0.9h-0.9zM211.6 114.5h0.9v0.9h-0.9zM216.9 106.1h0.9v0.9h-0.9zM223.6 108.9h0.9v0.9h-0.9zM207.0 120.3h0.9v0.9h-0.9zM215.2 114.4h0.9v0.9h-0.9zM211.9 106.2h0.9v0.9h-0.9zM217.8 111.8h0.9v0.9h-0.9zM215.8 115.2h0.9v0.9h-0.9zM221.4 106.1h0.9v0.9h-0.9zM216.2 104.8h0.9v0.9h-0.9zM210.3 120.4h0.9v0.9h-0.9zM210.3 106.3h0.9v0.9h-0.9zM215.5 99.1h0.9v0.9h-0.9zM215.5 108.6h0.9v0.9h-0.9zM226.5 121.2h0.9v0.9h-0.9zM222.5 111.0h0.9v0.9h-0.9zM206.8 115.0h0.9v0.9h-0.9zM215.2 93.8h0.9v0.9h-0.9zM206.0 105.4h0.9v0.9h-0.9zM204.2 117.1h0.9v0.9h-0.9zM217.4 105.1h0.9v0.9h-0.9zM216.3 116.4h0.9v0.9h-0.9zM207.6 112.0h0.9v0.9h-0.9zM222.3 109.8h0.9v0.9h-0.9zM207.9 119.8h0.9v0.9h-0.9zM206.9 105.8h0.9v0.9h-0.9zM216.9 104.9h0.9v0.9h-0.9zM214.5 108.9h0.9v0.9h-0.9zM212.4 109.9h0.9v0.9h-0.9zM212.9 97.4h0.9v0.9h-0.9zM214.5 116.2h0.9v0.9h-0.9zM212.5 109.9h0.9v0.9h-0.9zM212.4 107.4h0.9v0.9h-0.9zM202.9 113.6h0.9v0.9h-0.9zM205.9 106.7h0.9v0.9h-0.9zM216.7 115.8h0.9v0.9h-0.9zM209.4 109.3h0.9v0.9h-0.9zM216.3 112.7h0.9v0.9h-0.9zM220.1 101.8h0.9v0.9h-0.9zM211.3 106.8h0.9v0.9h-0.9zM214.9 110.6h0.9v0.9h-0.9zM224.7 100.9h0.9v0.9h-0.9zM217.1 103.6h0.9v0.9h-0.9zM223.4 106.8h0.9v0.9h-0.9zM221.7 114.5h0.9v0.9h-0.9zM217.4 112.8h0.9v0.9h-0.9zM212.7 114.3h0.9v0.9h-0.9zM208.7 110.8h0.9v0.9h-0.9zM207.2 114.9h0.9v0.9h-0.9zM216.0 118.0h0.9v0.9h-0.9zM215.9 109.1h0.9v0.9h-0.9zM212.3 111.2h0.9v0.9h-0.9zM218.0 111.5h0.9v0.9h-0.9zM210.0 95.8h0.9v0.9h-0.9zM219.4 106.9h0.9v0.9h-0.9zM213.5 111.0h0.9v0.9h-0.9zM213.1 113.2h0.9v0.9h-0.9zM213.3 106.2h0.9v0.9h-0.9zM212.8 114.7h0.9v0.9h-0.9zM227.0 102.5h0.9v0.9h-0.9zM204.4 108.2h0.9v0.9h-0.9zM214.3 119.0h0.9v0.9h-0.9zM220.1 98.7h0.9v0.9h-0.9zM217.2 107.3h0.9v0.9h-0.9zM211.6 107.5h0.9v0.9h-0.9zM222.9 106.5h0.9v0.9h-0.9zM207.4 105.4h0.9v0.9h-0.9zM206.1 113.2h0.9v0.9h-0.9zM216.4 100.9h0.9v0.9h-0.9zM205.3 100.6h0.9v0.9h-0.9zM200.2 112.8h0.9v0.9h-0.9zM218.2 99.8h0.9v0.9h-0.9zM217.5 110.0h0.9v0.9h-0.9zM217.3 107.8h0.9v0.9h-0.9zM210.6 104.0h0.9v0.9h-0.9zM214.3 105.7h0.9v0.9h-0.9zM208.0 108.1h0.9v0.9h-0.9zM222.8 109.8h0.9v0.9h-0.9zM217.7 103.4h0.9v0.9h-0.9zM217.4 106.2h0.9v0.9h-0.9zM202.6 100.0h0.9v0.9h-0.9zM217.7 105.7h0.9v0.9h-0.9zM221.5 94.6h0.9v0.9h-0.9zM220.0 106.9h0.9v0.9h-0.9zM217.6 104.5h0.9v0.9h-0.9z" fill="#000" fill-opacity="0.85"/>
<path d="M215.1 100.0h0.9v0.9h-0.9zM209.1 110.5h0.9v0.9h-0.9zM210.0 112.3h0.9v0.9h-0.9zM192.7 122.4h0.9v0.9h-0.9zM228.8 108.9h0.9v0.9h-0.9zM223.2 109.9h0.9v0.9h-0.9zM210.7 103.8h0.9v0.9h-0.9zM220.1 108.8h0.9v0.9h-0.9zM215.9 118.4h0.9v0.9h-0.9zM208.8 91.7h0.9v0.9h-0.9zM221.8 114.9h0.9v0.9h-0.9zM210.9 104.2h0.9v0.9h-0.9zM210.7 109.7h0.9v0.9h-0.9zM206.8 111.9h0.9v0.9h-0.9zM217.4 116.7h0.9v0.9h-0.9zM212.7 111.1h0.9v0.9h-0.9zM218.1 105.5h0.9v0.9h-0.9zM208.3 111.8h0.9v0.9h-0.9zM214.6 109.1h0.9v0.9h-0.9zM205.9 107.2h0.9v0.9h-0.9zM220.7 110.8h0.9v0.9h-0.9zM215.1 116.9h0.9v0.9h-0.9zM216.3 110.2h0.9v0.9h-0.9zM217.0 110.4h0.9v0.9h-0.9zM204.9 97.4h0.9v0.9h-0.9zM220.2 107.9h0.9v0.9h-0.9zM231.0 92.3h0.9v0.9h-0.9zM199.6 115.5h0.9v0.9h-0.9zM198.8 100.5h0.9v0.9h-0.9zM200.7 120.7h0.9v0.9h-0.9zM220.7 135.9h0.9v0.9h-0.9zM214.6 105.4h0.9v0.9h-0.9zM222.7 121.0h0.9v0.9h-0.9zM219.6 112.6h0.9v0.9h-0.9zM215.3 104.0h0.9v0.9h-0.9zM215.9 101.4h0.9v0.9h-0.9zM212.1 114.1h0.9v0.9h-0.9zM220.9 121.6h0.9v0.9h-0.9zM203.9 112.2h0.9v0.9h-0.9zM209.9 95.4h0.9v0.9h-0.9zM215.6 99.6h0.9v0.9h-0.9zM228.8 106.9h0.9v0.9h-0.9zM207.0 121.2h0.9v0.9h-0.9zM204.3 111.6h0.9v0.9h-0.9zM208.7 111.9h0.9v0.9h-0.9zM221.7 119.9h0.9v0.9h-0.9zM211.5 107.2h0.9v0.9h-0.9zM224.8 108.2h0.9v0.9h-0.9zM197.6 107.4h0.9v0.9h-0.9zM223.1 93.0h0.9v0.9h-0.9zM222.3 113.2h0.9v0.9h-0.9zM201.4 112.7h0.9v0.9h-0.9zM214.8 117.8h0.9v0.9h-0.9zM223.8 98.3h0.9v0.9h-0.9zM214.2 101.7h0.9v0.9h-0.9zM222.0 117.4h0.9v0.9h-0.9zM233.7 111.9h0.9v0.9h-0.9zM215.8 121.4h0.9v0.9h-0.9zM211.1 101.2h0.9v0.9h-0.9zM206.9 110.8h0.9v0.9h-0.9zM219.0 102.9h0.9v0.9h-0.9zM211.8 111.8h0.9v0.9h-0.9zM212.0 104.6h0.9v0.9h-0.9zM212.6 113.8h0.9v0.9h-0.9zM219.0 118.7h0.9v0.9h-0.9zM204.4 115.1h0.9v0.9h-0.9zM200.5 92.7h0.9v0.9h-0.9zM192.8 117.5h0.9v0.9h-0.9zM223.7 113.0h0.9v0.9h-0.9zM214.1 99.6h0.9v0.9h-0.9zM226.3 101.0h0.9v0.9h-0.9zM213.4 109.1h0.9v0.9h-0.9zM207.2 114.2h0.9v0.9h-0.9zM217.6 104.9h0.9v0.9h-0.9zM212.8 94.4h0.9v0.9h-0.9zM202.8 111.5h0.9v0.9h-0.9zM206.0 110.5h0.9v0.9h-0.9zM228.5 131.0h0.9v0.9h-0.9zM216.5 97.4h0.9v0.9h-0.9zM217.0 131.7h0.9v0.9h-0.9zM211.1 124.7h0.9v0.9h-0.9zM207.6 111.7h0.9v0.9h-0.9zM221.1 123.9h0.9v0.9h-0.9zM212.6 109.9h0.9v0.9h-0.9zM207.0 117.8h0.9v0.9h-0.9zM212.4 102.4h0.9v0.9h-0.9zM205.8 109.7h0.9v0.9h-0.9zM215.1 99.9h0.9v0.9h-0.9zM223.1 94.8h0.9v0.9h-0.9zM206.4 106.6h0.9v0.9h-0.9zM225.6 103.1h0.9v0.9h-0.9zM207.8 114.2h0.9v0.9h-0.9zM214.8 120.4h0.9v0.9h-0.9zM206.4 107.5h0.9v0.9h-0.9zM211.6 109.5h0.9v0.9h-0.9zM213.9 110.7h0.9v0.9h-0.9zM209.8 93.9h0.9v0.9h-0.9zM207.5 111.4h0.9v0.9h-0.9zM207.7 109.1h0.9v0.9h-0.9zM206.5 108.6h0.9v0.9h-0.9zM200.2 99.1h0.9v0.9h-0.9zM211.3 91.2h0.9v0.9h-0.9zM216.9 106.7h0.9v0.9h-0.9zM221.2 111.8h0.9v0.9h-0.9zM219.0 121.1h0.9v0.9h-0.9zM234.4 119.2h0.9v0.9h-0.9zM216.2 122.1h0.9v0.9h-0.9zM209.6 112.3h0.9v0.9h-0.9zM229.4 119.4h0.9v0.9h-0.9zM204.6 107.1h0.9v0.9h-0.9zM221.7 114.7h0.9v0.9h-0.9zM205.4 117.4h0.9v0.9h-0.9zM216.5 133.2h0.9v0.9h-0.9zM196.8 111.2h0.9v0.9h-0.9zM221.1 97.5h0.9v0.9h-0.9zM212.2 121.4h0.9v0.9h-0.9zM205.3 101.9h0.9v0.9h-0.9zM227.8 108.5h0.9v0.9h-0.9zM220.0 106.4h0.9v0.9h-0.9zM213.9 100.8h0.9v0.9h-0.9zM207.2 121.0h0.9v0.9h-0.9zM213.1 114.4h0.9v0.9h-0.9zM212.1 103.5h0.9v0.9h-0.9zM219.7 109.6h0.9v0.9h-0.9zM220.3 105.1h0.9v0.9h-0.9zM207.8 114.5h0.9v0.9h-0.9zM208.8 105.6h0.9v0.9h-0.9zM209.0 102.1h0.9v0.9h-0.9zM202.0 103.2h0.9v0.9h-0.9zM208.5 105.1h0.9v0.9h-0.9zM212.7 111.6h0.9v0.9h-0.9zM219.4 100.7h0.9v0.9h-0.9zM224.7 108.2h0.9v0.9h-0.9zM206.6 113.0h0.9v0.9h-0.9zM218.2 130.0h0.9v0.9h-0.9zM209.7 116.7h0.9v0.9h-0.9zM231.1 82.1h0.9v0.9h-0.9zM213.1 104.4h0.9v0.9h-0.9zM217.8 105.4h0.9v0.9h-0.9zM205.5 111.9h0.9v0.9h-0.9zM206.6 123.1h0.9v0.9h-0.9zM215.2 115.7h0.9v0.9h-0.9zM210.2 88.3h0.9v0.9h-0.9zM216.5 111.8h0.9v0.9h-0.9zM200.2 110.0h0.9v0.9h-0.9zM219.1 112.7h0.9v0.9h-0.9zM205.9 121.2h0.9v0.9h-0.9zM228.1 99.2h0.9v0.9h-0.9zM211.0 118.9h0.9v0.9h-0.9zM222.8 94.1h0.9v0.9h-0.9zM201.6 109.5h0.9v0.9h-0.9zM217.1 112.4h0.9v0.9h-0.9zM206.0 129.6h0.9v0.9h-0.9zM209.4 102.7h0.9v0.9h-0.9zM213.7 93.8h0.9v0.9h-0.9zM210.8 115.2h0.9v0.9h-0.9zM215.7 103.0h0.9v0.9h-0.9zM219.9 123.1h0.9v0.9h-0.9zM219.0 102.6h0.9v0.9h-0.9zM212.8 101.1h0.9v0.9h-0.9zM201.9 120.2h0.9v0.9h-0.9zM206.7 109.8h0.9v0.9h-0.9zM211.8 118.0h0.9v0.9h-0.9zM195.5 96.1h0.9v0.9h-0.9zM219.9 123.9h0.9v0.9h-0.9zM211.5 103.7h0.9v0.9h-0.9zM211.4 116.4h0.9v0.9h-0.9zM221.6 100.0h0.9v0.9h-0.9zM219.2 95.0h0.9v0.9h-0.9zM215.4 106.7h0.9v0.9h-0.9zM205.0 110.6h0.9v0.9h-0.9zM216.1 123.2h0.9v0.9h-0.9zM216.4 112.2h0.9v0.9h-0.9zM206.0 115.4h0.9v0.9h-0.9zM222.4 114.9h0.9v0.9h-0.9zM217.8 137.0h0.9v0.9h-0.9zM196.8 101.6h0.9v0.9h-0.9zM214.5 120.3h0.9v0.9h-0.9zM202.8 107.7h0.9v0.9h-0.9zM223.2 111.3h0.9v0.9h-0.9zM220.4 104.1h0.9v0.9h-0.9zM204.1 119.5h0.9v0.9h-0.9zM206.0 97.7h0.9v0.9h-0.9zM214.4 97.1h0.9v0.9h-0.9zM211.5 107.1h0.9v0.9h-0.9zM226.5 98.6h0.9v0.9h-0.9zM219.8 115.3h0.9v0.9h-0.9zM211.1 117.3h0.9v0.9h-0.9zM218.4 102.2h0.9v0.9h-0.9zM196.2 116.1h0.9v0.9h-0.9zM216.1 103.0h0.9v0.9h-0.9zM220.9 108.6h0.9v0.9h-0.9zM212.0 109.1h0.9v0.9h-0.9zM207.5 125.9h0.9v0.9h-0.9zM218.3 109.0h0.9v0.9h-0.9zM230.1 100.8h0.9v0.9h-0.9zM215.2 100.7h0.9v0.9h-0.9zM204.0 119.8h0.9v0.9h-0.9zM225.8 94.0h0.9v0.9h-0.9zM197.5 104.8h0.9v0.9h-0.9zM217.8 105.6h0.9v0.9h-0.9zM208.6 86.9h0.9v0.9h-0.9zM221.4 104.8h0.9v0.9h-0.9zM206.3 118.0h0.9v0.9h-0.9zM224.8 111.1h0.9v0.9h-0.9zM216.1 100.9h0.9v0.9h-0.9zM198.8 115.2h0.9v0.9h-0.9zM196.7 113.6h0.9v0.9h-0.9zM210.8 127.2h0.9v0.9h-0.9zM224.5 102.3h0.9v0.9h-0.9zM214.6 105.5h0.9v0.9h-0.9zM214.1 109.4h0.9v0.9h-0.9zM211.5 107.8h0.9v0.9h-0.9zM219.8 109.8h0.9v0.9h-0.9zM216.7 108.0h0.9v0.9h-0.9zM215.9 102.7h0.9v0.9h-0.9zM205.1 94.6h0.9v0.9h-0.9zM223.6 104.0h0.9v0.9h-0.9zM225.1 96.5h0.9v0.9h-0.9zM202.4 99.5h0.9v0.9h-0.9zM233.1 104.1h0.9v0.9h-0.9zM219.6 113.5h0.9v0.9h-0.9zM209.4 116.6h0.9v0.9h-0.9zM197.3 99.6h0.9v0.9h-0.9zM219.1 111.7h0.9v0.9h-0.9zM218.2 116.1h0.9v0.9h-0.9zM208.4 108.5h0.9v0.9h-0.9zM198.3 94.1h0.9v0.9h-0.9zM223.1 89.5h0.9v0.9h-0.9zM208.5 116.0h0.9v0.9h-0.9zM209.5 117.1h0.9v0.9h-0.9zM237.7 111.3h0.9v0.9h-0.9zM231.6 99.3h0.9v0.9h-0.9zM221.6 121.9h0.9v0.9h-0.9zM209.6 119.7h0.9v0.9h-0.9zM219.0 108.4h0.9v0.9h-0.9zM194.1 106.8h0.9v0.9h-0.9zM214.4 91.2h0.9v0.9h-0.9zM207.0 115.5h0.9v0.9h-0.9zM202.6 94.2h0.9v0.9h-0.9zM200.0 114.9h0.9v0.9h-0.9zM218.0 115.3h0.9v0.9h-0.9zM214.3 109.6h0.9v0.9h-0.9zM214.9 123.0h0.9v0.9h-0.9zM220.7 105.9h0.9v0.9h-0.9zM206.3 114.1h0.9v0.9h-0.9zM203.0 115.9h0.9v0.9h-0.9zM198.4 111.0h0.9v0.9h-0.9zM210.7 105.0h0.9v0.9h-0.9zM220.0 119.8h0.9v0.9h-0.9zM212.2 112.6h0.9v0.9h-0.9zM218.9 107.0h0.9v0.9h-0.9zM203.5 107.3h0.9v0.9h-0.9zM209.5 109.9h0.9v0.9h-0.9zM207.0 129.3h0.9v0.9h-0.9zM202.9 109.7h0.9v0.9h-0.9zM229.3 106.6h0.9v0.9h-0.9zM220.7 99.2h0.9v0.9h-0.9zM207.0 97.8h0.9v0.9h-0.9zM207.0 91.7h0.9v0.9h-0.9zM213.0 110.9h0.9v0.9h-0.9zM201.2 109.0h0.9v0.9h-0.9zM217.2 99.5h0.9v0.9h-0.9zM202.5 95.4h0.9v0.9h-0.9zM210.4 105.8h0.9v0.9h-0.9zM204.8 104.0h0.9v0.9h-0.9zM209.4 96.7h0.9v0.9h-0.9zM202.2 111.5h0.9v0.9h-0.9zM200.1 110.0h0.9v0.9h-0.9zM205.3 108.3h0.9v0.9h-0.9zM207.7 115.7h0.9v0.9h-0.9zM211.0 102.9h0.9v0.9h-0.9zM214.1 121.0h0.9v0.9h-0.9zM226.5 99.6h0.9v0.9h-0.9zM220.4 113.4h0.9v0.9h-0.9zM211.4 114.4h0.9v0.9h-0.9zM219.7 106.4h0.9v0.9h-0.9zM207.6 111.9h0.9v0.9h-0.9zM225.8 97.2h0.9v0.9h-0.9zM218.2 95.2h0.9v0.9h-0.9zM202.0 106.9h0.9v0.9h-0.9zM219.9 102.1h0.9v0.9h-0.9zM220.4 114.0h0.9v0.9h-0.9zM190.7 109.0h0.9v0.9h-0.9zM207.1 114.3h0.9v0.9h-0.9zM209.5 111.6h0.9v0.9h-0.9zM197.1 110.6h0.9v0.9h-0.9zM204.4 109.6h0.9v0.9h-0.9zM205.4 105.4h0.9v0.9h-0.9zM217.8 104.5h0.9v0.9h-0.9zM216.1 127.0h0.9v0.9h-0.9zM235.8 92.9h0.9v0.9h-0.9zM210.1 107.0h0.9v0.9h-0.9zM223.3 117.7h0.9v0.9h-0.9zM214.2 112.5h0.9v0.9h-0.9zM215.8 121.4h0.9v0.9h-0.9zM203.6 113.6h0.9v0.9h-0.9zM197.3 97.3h0.9v0.9h-0.9zM207.0 105.7h0.9v0.9h-0.9zM220.0 96.1h0.9v0.9h-0.9zM227.0 117.6h0.9v0.9h-0.9zM218.6 121.7h0.9v0.9h-0.9zM217.7 104.7h0.9v0.9h-0.9zM206.4 113.6h0.9v0.9h-0.9zM226.5 105.0h0.9v0.9h-0.9zM224.9 95.7h0.9v0.9h-0.9zM209.0 104.6h0.9v0.9h-0.9zM213.1 94.4h0.9v0.9h-0.9zM205.0 103.5h0.9v0.9h-0.9zM226.0 110.5h0.9v0.9h-0.9zM217.0 115.2h0.9v0.9h-0.9zM212.7 120.3h0.9v0.9h-0.9zM217.0 105.6h0.9v0.9h-0.9zM217.2 110.7h0.9v0.9h-0.9zM210.0 112.4h0.9v0.9h-0.9zM202.9 113.6h0.9v0.9h-0.9zM202.6 82.9h0.9v0.9h-0.9zM198.7 101.6h0.9v0.9h-0.9zM217.4 115.7h0.9v0.9h-0.9zM232.4 98.5h0.9v0.9h-0.9zM199.1 110.8h0.9v0.9h-0.9zM214.7 116.1h0.9v0.9h-0.9zM217.0 91.5h0.9v0.9h-0.9zM205.1 106.8h0.9v0.9h-0.9zM215.2 110.7h0.9v0.9h-0.9zM204.2 108.6h0.9v0.9h-0.9zM223.7 94.8h0.9v0.9h-0.9zM208.4 111.6h0.9v0.9h-0.9zM214.4 103.5h0.9v0.9h-0.9zM219.3 115.9h0.9v0.9h-0.9zM209.8 112.4h0.9v0.9h-0.9zM198.3 103.5h0.9v0.9h-0.9zM209.0 110.1h0.9v0.9h-0.9zM220.0 102.2h0.9v0.9h-0.9zM212.8 102.1h0.9v0.9h-0.9zM215.5 94.2h0.9v0.9h-0.9zM204.3 106.3h0.9v0.9h-0.9zM214.7 115.6h0.9v0.9h-0.9zM219.7 109.4h0.9v0.9h-0.9zM213.8 108.2h0.9v0.9h-0.9zM229.7 102.6h0.9v0.9h-0.9zM211.7 103.6h0.9v0.9h-0.9zM204.6 115.0h0.9v0.9h-0.9zM199.7 94.8h0.9v0.9h-0.9zM223.3 126.8h0.9v0.9h-0.9zM213.0 107.6h0.9v0.9h-0.9zM222.1 127.8h0.9v0.9h-0.9zM217.4 118.8h0.9v0.9h-0.9zM227.3 104.4h0.9v0.9h-0.9zM224.3 114.8h0.9v0.9h-0.9zM210.3 110.4h0.9v0.9h-0.9zM215.8 112.3h0.9v0.9h-0.9zM222.7 115.2h0.9v0.9h-0.9zM203.0 103.2h0.9v0.9h-0.9zM225.8 102.5h0.9v0.9h-0.9zM223.8 104.3h0.9v0.9h-0.9zM221.9 95.7h0.9v0.9h-0.9zM211.8 105.7h0.9v0.9h-0.9zM216.1 110.1h0.9v0.9h-0.9zM204.0 110.2h0.9v0.9h-0.9zM214.0 109.7h0.9v0.9h-0.9zM208.5 104.4h0.9v0.9h-0.9zM214.2 115.0h0.9v0.9h-0.9zM209.3 89.5h0.9v0.9h-0.9zM215.9 104.3h0.9v0.9h-0.9zM223.5 104.9h0.9v0.9h-0.9zM202.4 115.9h0.9v0.9h-0.9zM221.4 113.8h0.9v0.9h-0.9zM196.6 115.0h0.9v0.9h-0.9zM195.1 107.9h0.9v0.9h-0.9zM212.5 116.3h0.9v0.9h-0.9zM213.6 98.7h0.9v0.9h-0.9zM217.3 108.4h0.9v0.9h-0.9zM199.5 88.7h0.9v0.9h-0.9zM213.0 123.1h0.9v0.9h-0.9zM214.6 122.0h0.9v0.9h-0.9zM224.2 102.3h0.9v0.9h-0.9zM212.6 100.0h0.9v0.9h-0.9zM218.0 88.8h0.9v0.9h-0.9zM205.2 93.9h0.9v0.9h-0.9zM211.9 108.7h0.9v0.9h-0.9zM209.7 106.2h0.9v0.9h-0.9zM219.5 94.4h0.9v0.9h-0.9zM205.1 103.1h0.9v0.9h-0.9zM206.4 101.7h0.9v0.9h-0.9zM218.4 111.9h0.9v0.9h-0.9zM228.7 114.0h0.9v0.9h-0.9zM216.8 105.7h0.9v0.9h-0.9zM216.1 108.7h0.9v0.9h-0.9zM210.6 107.6h0.9v0.9h-0.9zM222.8 88.9h0.9v0.9h-0.9zM218.1 109.3h0.9v0.9h-0.9zM228.2 107.1h0.9v0.9h-0.9zM216.3 114.4h0.9v0.9h-0.9zM205.4 91.2h0.9v0.9h-0.9zM208.7 114.6h0.9v0.9h-0.9zM205.1 101.9h0.9v0.9h-0.9zM202.9 110.1h0.9v0.9h-0.9zM224.2 118.6h0.9v0.9h-0.9zM220.4 94.4h0.9v0.9h-0.9zM203.0 95.9h0.9v0.9h-0.9zM228.6 116.7h0.9v0.9h-0.9zM215.6 97.4h0.9v0.9h-0.9zM205.4 99.1h0.9v0.9h-0.9zM216.8 113.1h0.9v0.9h-0.9zM212.9 105.9h0.9v0.9h-0.9zM206.9 114.7h0.9v0.9h-0.9zM197.0 110.4h0.9v0.9h-0.9zM213.8 107.5h0.9v0.9h-0.9zM216.0 116.6h0.9v0.9h-0.9zM191.6 127.4h0.9v0.9h-0.9zM218.2 106.9h0.9v0.9h-0.9zM218.7 121.1h0.9v0.9h-0.9zM209.5 118.0h0.9v0.9h-0.9zM214.5 108.8h0.9v0.9h-0.9zM211.1 111.9h0.9v0.9h-0.9zM206.4 99.3h0.9v0.9h-0.9zM210.4 102.2h0.9v0.9h-0.9zM225.0 110.3h0.9v0.9h-0.9zM201.2 107.3h0.9v0.9h-0.9zM215.5 119.5h0.9v0.9h-0.9zM215.1 96.1h0.9v0.9h-0.9zM207.5 105.1h0.9v0.9h-0.9zM209.8 102.0h0.9v0.9h-0.9zM201.6 106.4h0.9v0.9h-0.9zM206.3 118.3h0.9v0.9h-0.9zM213.6 96.9h0.9v0.9h-0.9zM216.3 115.4h0.9v0.9h-0.9zM205.9 102.5h0.9v0.9h-0.9zM239.5 104.9h0.9v0.9h-0.9zM208.7 116.8h0.9v0.9h-0.9zM214.6 105.2h0.9v0.9h-0.9zM211.5 113.8h0.9v0.9h-0.9zM210.1 108.8h0.9v0.9h-0.9zM224.6 106.3h0.9v0.9h-0.9zM209.4 104.6h0.9v0.9h-0.9zM224.8 92.2h0.9v0.9h-0.9zM223.2 101.1h0.9v0.9h-0.9zM204.6 109.3h0.9v0.9h-0.9zM222.3 109.7h0.9v0.9h-0.9zM208.0 94.4h0.9v0.9h-0.9zM236.8 116.9h0.9v0.9h-0.9zM210.2 113.0h0.9v0.9h-0.9zM205.5 96.2h0.9v0.9h-0.9zM197.3 98.5h0.9v0.9h-0.9zM202.5 112.5h0.9v0.9h-0.9zM208.6 92.1h0.9v0.9h-0.9zM205.0 101.2h0.9v0.9h-0.9zM203.1 107.4h0.9v0.9h-0.9zM207.6 106.8h0.9v0.9h-0.9zM211.7 107.4h0.9v0.9h-0.9zM225.8 111.5h0.9v0.9h-0.9zM199.0 100.8h0.9v0.9h-0.9zM208.8 103.6h0.9v0.9h-0.9zM205.4 126.5h0.9v0.9h-0.9zM200.6 95.3h0.9v0.9h-0.9zM202.7 103.9h0.9v0.9h-0.9zM205.8 109.0h0.9v0.9h-0.9zM219.6 102.2h0.9v0.9h-0.9zM211.9 119.0h0.9v0.9h-0.9zM208.9 108.7h0.9v0.9h-0.9zM218.7 114.8h0.9v0.9h-0.9zM215.9 84.5h0.9v0.9h-0.9zM211.6 118.7h0.9v0.9h-0.9zM216.8 118.4h0.9v0.9h-0.9zM206.5 101.2h0.9v0.9h-0.9zM218.8 119.8h0.9v0.9h-0.9zM217.5 110.5h0.9v0.9h-0.9zM210.0 116.4h0.9v0.9h-0.9zM203.1 124.4h0.9v0.9h-0.9zM226.4 109.0h0.9v0.9h-0.9zM214.3 99.0h0.9v0.9h-0.9zM239.4 108.0h0.9v0.9h-0.9zM207.9 96.6h0.9v0.9h-0.9zM220.7 100.9h0.9v0.9h-0.9zM209.8 101.3h0.9v0.9h-0.9zM215.7 101.7h0.9v0.9h-0.9zM220.6 118.7h0.9v0.9h-0.9zM206.7 115.7h0.9v0.9h-0.9zM212.6 100.1h0.9v0.9h-0.9zM214.9 118.4h0.9v0.9h-0.9zM214.5 93.1h0.9v0.9h-0.9zM218.6 102.3h0.9v0.9h-0.9zM222.2 107.0h0.9v0.9h-0.9zM220.6 119.0h0.9v0.9h-0.9zM215.7 114.8h0.9v0.9h-0.9zM210.5 112.4h0.9v0.9h-0.9zM203.9 120.0h0.9v0.9h-0.9zM207.2 114.8h0.9v0.9h-0.9zM209.0 120.6h0.9v0.9h-0.9zM219.3 101.2h0.9v0.9h-0.9zM210.4 93.1h0.9v0.9h-0.9zM202.9 104.6h0.9v0.9h-0.9zM218.8 115.8h0.9v0.9h-0.9zM206.7 110.7h0.9v0.9h-0.9zM207.0 116.4h0.9v0.9h-0.9zM211.6 114.8h0.9v0.9h-0.9zM217.5 113.0h0.9v0.9h-0.9zM193.0 115.8h0.9v0.9h-0.9zM204.0 102.0h0.9v0.9h-0.9zM215.0 118.3h0.9v0.9h-0.9zM210.4 99.3h0.9v0.9h-0.9zM206.2 107.4h0.9v0.9h-0.9zM208.9 95.7h0.9v0.9h-0.9zM225.3 113.0h0.9v0.9h-0.9zM209.6 94.4h0.9v0.9h-0.9zM219.6 121.1h0.9v0.9h-0.9zM220.2 96.3h0.9v0.9h-0.9zM209.7 110.8h0.9v0.9h-0.9zM217.3 107.2h0.9v0.9h-0.9zM209.7 100.5h0.9v0.9h-0.9zM208.3 119.7h0.9v0.9h-0.9zM203.9 104.6h0.9v0.9h-0.9zM220.9 121.6h0.9v0.9h-0.9zM210.1 99.2h0.9v0.9h-0.9zM208.8 101.2h0.9v0.9h-0.9zM203.9 90.4h0.9v0.9h-0.9zM228.9 113.4h0.9v0.9h-0.9zM219.8 116.7h0.9v0.9h-0.9zM212.4 110.5h0.9v0.9h-0.9zM207.6 107.0h0.9v0.9h-0.9zM200.5 100.1h0.9v0.9h-0.9zM216.0 129.6h0.9v0.9h-0.9zM216.0 115.1h0.9v0.9h-0.9zM201.5 91.8h0.9v0.9h-0.9zM223.4 105.6h0.9v0.9h-0.9zM220.1 84.9h0.9v0.9h-0.9zM205.3 122.7h0.9v0.9h-0.9zM208.8 126.3h0.9v0.9h-0.9zM209.9 121.6h0.9v0.9h-0.9zM214.9 108.0h0.9v0.9h-0.9zM212.3 103.1h0.9v0.9h-0.9zM199.6 95.8h0.9v0.9h-0.9zM226.0 113.3h0.9v0.9h-0.9zM216.2 101.7h0.9v0.9h-0.9zM224.2 105.1h0.9v0.9h-0.9zM224.2 102.7h0.9v0.9h-0.9zM211.7 105.7h0.9v0.9h-0.9zM216.4 116.6h0.9v0.9h-0.9zM219.8 123.7h0.9v0.9h-0.9zM220.0 109.8h0.9v0.9h-0.9zM212.1 108.7h0.9v0.9h-0.9zM208.2 98.5h0.9v0.9h-0.9zM213.8 97.4h0.9v0.9h-0.9zM206.7 98.9h0.9v0.9h-0.9zM208.8 116.5h0.9v0.9h-0.9zM196.2 110.7h0.9v0.9h-0.9zM214.2 117.3h0.9v0.9h-0.9zM204.8 112.3h0.9v0.9h-0.9zM208.8 104.9h0.9v0.9h-0.9zM213.1 97.3h0.9v0.9h-0.9zM216.2 105.2h0.9v0.9h-0.9zM229.6 95.6h0.9v0.9h-0.9zM215.2 126.6h0.9v0.9h-0.9zM201.5 111.0h0.9v0.9h-0.9zM214.6 105.2h0.9v0.9h-0.9zM208.4 126.6h0.9v0.9h-0.9zM216.9 105.1h0.9v0.9h-0.9zM207.7 113.6h0.9v0.9h-0.9zM207.5 107.1h0.9v0.9h-0.9zM209.2 111.8h0.9v0.9h-0.9zM208.2 105.2h0.9v0.9h-0.9zM198.0 113.0h0.9v0.9h-0.9zM207.8 121.5h0.9v0.9h-0.9zM213.4 97.1h0.9v0.9h-0.9zM223.7 88.5h0.9v0.9h-0.9zM211.0 120.8h0.9v0.9h-0.9zM210.3 110.1h0.9v0.9h-0.9zM218.4 116.5h0.9v0.9h-0.9zM218.1 106.0h0.9v0.9h-0.9zM227.1 122.6h0.9v0.9h-0.9zM218.5 125.1h0.9v0.9h-0.9zM213.3 98.0h0.9v0.9h-0.9zM224.9 114.7h0.9v0.9h-0.9zM226.5 103.0h0.9v0.9h-0.9zM209.5 93.9h0.9v0.9h-0.9zM214.8 105.8h0.9v0.9h-0.9zM199.2 113.7h0.9v0.9h-0.9zM210.4 96.1h0.9v0.9h-0.9zM206.0 96.8h0.9v0.9h-0.9zM211.7 119.7h0.9v0.9h-0.9zM209.4 108.8h0.9v0.9h-0.9zM212.1 112.1h0.9v0.9h-0.9zM212.6 98.0h0.9v0.9h-0.9zM217.7 102.5h0.9v0.9h-0.9zM215.5 109.5h0.9v0.9h-0.9zM208.7 110.1h0.9v0.9h-0.9zM202.5 109.7h0.9v0.9h-0.9zM224.0 122.8h0.9v0.9h-0.9zM225.5 109.8h0.9v0.9h-0.9zM209.6 94.3h0.9v0.9h-0.9zM218.3 100.3h0.9v0.9h-0.9zM200.5 107.7h0.9v0.9h-0.9zM200.2 119.8h0.9v0.9h-0.9zM211.2 101.9h0.9v0.9h-0.9zM226.0 104.5h0.9v0.9h-0.9zM204.6 107.8h0.9v0.9h-0.9zM206.4 101.6h0.9v0.9h-0.9zM227.2 100.5h0.9v0.9h-0.9zM197.4 105.9h0.9v0.9h-0.9zM219.0 117.0h0.9v0.9h-0.9zM217.6 112.4h0.9v0.9h-0.9zM211.7 105.3h0.9v0.9h-0.9zM215.1 111.6h0.9v0.9h-0.9zM235.8 96.2h0.9v0.9h-0.9zM203.9 117.0h0.9v0.9h-0.9zM210.8 114.6h0.9v0.9h-0.9zM211.5 110.6h0.9v0.9h-0.9zM207.6 93.0h0.9v0.9h-0.9zM202.1 126.4h0.9v0.9h-0.9zM227.0 81.3h0.9v0.9h-0.9zM215.4 98.8h0.9v0.9h-0.9zM198.6 99.5h0.9v0.9h-0.9zM207.5 114.2h0.9v0.9h-0.9zM216.9 94.2h0.9v0.9h-0.9zM216.9 110.0h0.9v0.9h-0.9zM201.3 106.5h0.9v0.9h-0.9zM212.7 105.2h0.9v0.9h-0.9zM215.7 115.6h0.9v0.9h-0.9zM216.8 120.8h0.9v0.9h-0.9zM216.9 111.5h0.9v0.9h-0.9zM198.0 105.4h0.9v0.9h-0.9zM229.2 87.1h0.9v0.9h-0.9zM215.3 121.3h0.9v0.9h-0.9zM228.9 105.1h0.9v0.9h-0.9zM237.8 91.0h0.9v0.9h-0.9zM212.1 109.3h0.9v0.9h-0.9zM203.0 121.1h0.9v0.9h-0.9zM220.8 106.6h0.9v0.9h-0.9zM212.0 97.3h0.9v0.9h-0.9zM209.7 128.4h0.9v0.9h-0.9zM204.7 113.5h0.9v0.9h-0.9zM227.8 111.1h0.9v0.9h-0.9zM209.7 117.2h0.9v0.9h-0.9zM201.6 88.2h0.9v0.9h-0.9zM209.7 107.4h0.9v0.9h-0.9zM203.7 106.5h0.9v0.9h-0.9zM214.8 128.7h0.9v0.9h-0.9zM209.9 102.9h0.9v0.9h-0.9zM204.5 103.0h0.9v0.9h-0.9zM218.6 95.4h0.9v0.9h-0.9zM208.0 100.6h0.9v0.9h-0.9zM219.7 106.2h0.9v0.9h-0.9zM224.2 110.5h0.9v0.9h-0.9zM210.4 106.3h0.9v0.9h-0.9zM208.0 126.4h0.9v0.9h-0.9zM215.2 112.6h0.9v0.9h-0.9zM221.1 113.9h0.9v0.9h-0.9zM213.5 120.6h0.9v0.9h-0.9zM214.7 113.9h0.9v0.9h-0.9zM213.3 103.4h0.9v0.9h-0.9zM216.1 94.0h0.9v0.9h-0.9zM218.8 111.4h0.9v0.9h-0.9zM207.5 100.6h0.9v0.9h-0.9zM209.4 120.1h0.9v0.9h-0.9zM213.9 101.1h0.9v0.9h-0.9zM207.8 87.8h0.9v0.9h-0.9zM214.7 108.5h0.9v0.9h-0.9zM218.1 117.9h0.9v0.9h-0.9zM213.3 106.2h0.9v0.9h-0.9zM208.4 109.8h0.9v0.9h-0.9zM206.9 109.5h0.9v0.9h-0.9zM228.4 123.9h0.9v0.9h-0.9zM221.0 110.9h0.9v0.9h-0.9zM204.0 107.7h0.9v0.9h-0.9zM206.4 102.5h0.9v0.9h-0.9zM229.4 93.1h0.9v0.9h-0.9zM226.3 121.0h0.9v0.9h-0.9zM214.6 118.6h0.9v0.9h-0.9zM223.3 99.4h0.9v0.9h-0.9zM200.9 113.7h0.9v0.9h-0.9zM213.5 111.1h0.9v0.9h-0.9zM219.8 104.6h0.9v0.9h-0.9zM197.7 105.2h0.9v0.9h-0.9zM206.8 115.0h0.9v0.9h-0.9zM220.2 97.1h0.9v0.9h-0.9zM223.1 103.3h0.9v0.9h-0.9zM208.5 107.4h0.9v0.9h-0.9zM216.0 108.0h0.9v0.9h-0.9zM227.1 106.2h0.9v0.9h-0.9zM210.3 110.1h0.9v0.9h-0.9zM202.2 112.9h0.9v0.9h-0.9zM213.0 99.9h0.9v0.9h-0.9zM210.2 108.9h0.9v0.9h-0.9zM224.6 103.3h0.9v0.9h-0.9zM214.9 121.9h0.9v0.9h-0.9zM206.7 95.2h0.9v0.9h-0.9zM233.9 105.9h0.9v0.9h-0.9zM209.2 114.5h0.9v0.9h-0.9zM217.5 105.5h0.9v0.9h-0.9zM219.2 105.1h0.9v0.9h-0.9zM220.2 103.2h0.9v0.9h-0.9zM215.0 111.0h0.9v0.9h-0.9zM218.5 97.5h0.9v0.9h-0.9zM212.9 107.4h0.9v0.9h-0.9zM201.4 107.2h0.9v0.9h-0.9zM211.6 94.8h0.9v0.9h-0.9zM211.8 110.7h0.9v0.9h-0.9zM212.0 103.9h0.9v0.9h-0.9zM214.7 111.0h0.9v0.9h-0.9zM208.2 116.1h0.9v0.9h-0.9zM224.7 111.4h0.9v0.9h-0.9zM226.8 97.5h0.9v0.9h-0.9zM194.8 111.2h0.9v0.9h-0.9zM213.6 93.7h0.9v0.9h-0.9zM207.5 101.3h0.9v0.9h-0.9zM191.3 123.5h0.9v0.9h-0.9zM217.0 108.4h0.9v0.9h-0.9zM208.2 122.5h0.9v0.9h-0.9zM210.3 106.7h0.9v0.9h-0.9zM208.0 108.4h0.9v0.9h-0.9zM222.7 98.2h0.9v0.9h-0.9zM224.0 117.0h0.9v0.9h-0.9zM215.9 106.6h0.9v0.9h-0.9zM219.4 114.1h0.9v0.9h-0.9zM212.5 112.4h0.9v0.9h-0.9zM214.7 113.3h0.9v0.9h-0.9zM207.2 111.5h0.9v0.9h-0.9zM213.8 108.1h0.9v0.9h-0.9zM207.4 108.5h0.9v0.9h-0.9zM216.7 102.2h0.9v0.9h-0.9zM220.5 89.2h0.9v0.9h-0.9zM216.1 113.0h0.9v0.9h-0.9zM223.6 127.6h0.9v0.9h-0.9zM236.4 118.5h0.9v0.9h-0.9zM195.6 130.0h0.9v0.9h-0.9zM213.6 113.1h0.9v0.9h-0.9zM208.7 100.0h0.9v0.9h-0.9zM209.6 99.8h0.9v0.9h-0.9zM202.0 115.6h0.9v0.9h-0.9zM213.9 111.9h0.9v0.9h-0.9zM211.3 107.3h0.9v0.9h-0.9zM208.1 115.6h0.9v0.9h-0.9zM211.3 100.9h0.9v0.9h-0.9zM208.5 113.7h0.9v0.9h-0.9zM193.6 106.3h0.9v0.9h-0.9zM222.7 110.4h0.9v0.9h-0.9zM210.9 119.7h0.9v0.9h-0.9zM205.4 107.7h0.9v0.9h-0.9zM216.1 121.5h0.9v0.9h-0.9zM207.9 121.1h0.9v0.9h-0.9zM195.0 102.1h0.9v0.9h-0.9zM221.0 130.2h0.9v0.9h-0.9zM199.2 97.7h0.9v0.9h-0.9zM211.6 108.1h0.9v0.9h-0.9zM214.5 115.8h0.9v0.9h-0.9zM225.0 88.3h0.9v0.9h-0.9zM223.6 118.5h0.9v0.9h-0.9zM214.9 119.4h0.9v0.9h-0.9zM207.0 108.0h0.9v0.9h-0.9zM210.0 111.6h0.9v0.9h-0.9zM222.7 111.1h0.9v0.9h-0.9zM228.7 107.2h0.9v0.9h-0.9zM218.1 118.9h0.9v0.9h-0.9zM208.0 105.7h0.9v0.9h-0.9zM222.2 108.7h0.9v0.9h-0.9zM210.3 112.4h0.9v0.9h-0.9zM210.0 116.9h0.9v0.9h-0.9zM211.1 119.2h0.9v0.9h-0.9zM218.5 95.6h0.9v0.9h-0.9zM215.8 90.6h0.9v0.9h-0.9zM221.9 107.8h0.9v0.9h-0.9zM224.5 108.6h0.9v0.9h-0.9zM217.9 99.2h0.9v0.9h-0.9zM193.7 111.9h0.9v0.9h-0.9zM199.1 114.8h0.9v0.9h-0.9zM214.8 112.6h0.9v0.9h-0.9zM212.9 124.1h0.9v0.9h-0.9zM231.9 99.6h0.9v0.9h-0.9zM213.2 109.3h0.9v0.9h-0.9zM212.2 126.7h0.9v0.9h-0.9zM221.5 115.3h0.9v0.9h-0.9zM222.5 98.9h0.9v0.9h-0.9zM211.5 110.9h0.9v0.9h-0.9zM217.5 119.8h0.9v0.9h-0.9zM203.9 128.1h0.9v0.9h-0.9zM205.5 115.1h0.9v0.9h-0.9zM224.0 119.7h0.9v0.9h-0.9zM201.5 98.9h0.9v0.9h-0.9zM221.3 106.8h0.9v0.9h-0.9zM219.3 120.0h0.9v0.9h-0.9zM220.0 100.3h0.9v0.9h-0.9zM221.3 108.5h0.9v0.9h-0.9zM218.3 92.0h0.9v0.9h-0.9zM195.3 122.5h0.9v0.9h-0.9zM205.0 107.8h0.9v0.9h-0.9zM208.4 114.2h0.9v0.9h-0.9zM221.3 95.3h0.9v0.9h-0.9zM203.9 97.0h0.9v0.9h-0.9zM207.5 125.6h0.9v0.9h-0.9zM210.4 105.9h0.9v0.9h-0.9zM224.7 104.0h0.9v0.9h-0.9zM201.3 113.7h0.9v0.9h-0.9zM202.0 114.1h0.9v0.9h-0.9zM218.8 91.1h0.9v0.9h-0.9zM195.4 100.1h0.9v0.9h-0.9zM216.3 109.5h0.9v0.9h-0.9zM209.6 109.0h0.9v0.9h-0.9zM200.1 112.2h0.9v0.9h-0.9zM209.9 105.1h0.9v0.9h-0.9z" fill="#000" fill-opacity="0.6"/>
<path d="M214.6 124.2h0.9v0.9h-0.9zM219.8 128.6h0.9v0.9h-0.9zM205.0 130.5h0.9v0.9h-0.9zM220.6 123.1h0.9v0.9h-0.9zM212.8 123.1h0.9v0.9h-0.9zM209.4 116.1h0.9v0.9h-0.9zM209.4 132.3h0.9v0.9h-0.9zM208.1 121.9h0.9v0.9h-0.9zM212.0 115.3h0.9v0.9h-0.9zM216.8 115.1h0.9v0.9h-0.9zM215.6 120.7h0.9v0.9h-0.9zM215.9 136.4h0.9v0.9h-0.9zM205.4 130.2h0.9v0.9h-0.9zM205.9 110.4h0.9v0.9h-0.9zM220.0 123.0h0.9v0.9h-0.9zM217.4 126.1h0.9v0.9h-0.9zM222.8 129.0h0.9v0.9h-0.9zM218.4 126.7h0.9v0.9h-0.9zM208.4 118.9h0.9v0.9h-0.9zM218.8 127.3h0.9v0.9h-0.9zM215.8 119.6h0.9v0.9h-0.9zM214.0 106.1h0.9v0.9h-0.9zM209.3 118.3h0.9v0.9h-0.9zM213.0 118.5h0.9v0.9h-0.9zM212.3 131.6h0.9v0.9h-0.9zM217.0 132.4h0.9v0.9h-0.9zM213.6 115.6h0.9v0.9h-0.9zM220.1 125.4h0.9v0.9h-0.9zM209.5 124.7h0.9v0.9h-0.9zM215.1 112.5h0.9v0.9h-0.9zM215.2 107.6h0.9v0.9h-0.9zM209.1 123.3h0.9v0.9h-0.9zM207.7 125.1h0.9v0.9h-0.9zM217.6 119.2h0.9v0.9h-0.9zM215.3 102.3h0.9v0.9h-0.9zM212.3 123.8h0.9v0.9h-0.9zM214.8 119.4h0.9v0.9h-0.9zM210.0 116.9h0.9v0.9h-0.9zM214.1 121.4h0.9v0.9h-0.9zM210.3 115.0h0.9v0.9h-0.9zM213.8 128.5h0.9v0.9h-0.9zM217.4 124.1h0.9v0.9h-0.9zM211.5 119.5h0.9v0.9h-0.9zM216.8 126.3h0.9v0.9h-0.9zM208.3 123.7h0.9v0.9h-0.9zM211.7 111.9h0.9v0.9h-0.9zM206.9 122.8h0.9v0.9h-0.9zM212.5 120.3h0.9v0.9h-0.9zM213.4 110.1h0.9v0.9h-0.9zM212.1 118.8h0.9v0.9h-0.9zM211.8 127.4h0.9v0.9h-0.9zM219.0 119.0h0.9v0.9h-0.9zM219.4 135.3h0.9v0.9h-0.9zM207.5 137.6h0.9v0.9h-0.9zM218.3 121.5h0.9v0.9h-0.9zM205.2 128.4h0.9v0.9h-0.9zM209.7 139.9h0.9v0.9h-0.9zM212.2 121.3h0.9v0.9h-0.9zM213.5 116.8h0.9v0.9h-0.9zM208.3 120.6h0.9v0.9h-0.9zM209.7 113.0h0.9v0.9h-0.9zM213.3 113.2h0.9v0.9h-0.9zM209.9 125.7h0.9v0.9h-0.9zM210.1 120.7h0.9v0.9h-0.9zM216.0 126.0h0.9v0.9h-0.9zM217.2 127.9h0.9v0.9h-0.9zM212.7 117.9h0.9v0.9h-0.9zM213.1 122.4h0.9v0.9h-0.9zM212.9 121.8h0.9v0.9h-0.9zM211.0 118.7h0.9v0.9h-0.9zM210.7 117.3h0.9v0.9h-0.9zM208.3 126.5h0.9v0.9h-0.9zM215.9 122.9h0.9v0.9h-0.9zM212.6 126.7h0.9v0.9h-0.9zM212.4 132.0h0.9v0.9h-0.9zM213.9 132.1h0.9v0.9h-0.9zM215.4 115.1h0.9v0.9h-0.9zM219.4 117.2h0.9v0.9h-0.9zM211.8 121.9h0.9v0.9h-0.9zM211.2 125.0h0.9v0.9h-0.9zM213.9 131.5h0.9v0.9h-0.9zM209.2 116.3h0.9v0.9h-0.9zM218.7 120.5h0.9v0.9h-0.9zM217.2 126.0h0.9v0.9h-0.9zM216.1 133.8h0.9v0.9h-0.9zM212.5 135.0h0.9v0.9h-0.9zM216.3 116.0h0.9v0.9h-0.9zM217.7 122.3h0.9v0.9h-0.9zM215.2 117.5h0.9v0.9h-0.9zM211.7 130.8h0.9v0.9h-0.9zM205.4 127.6h0.9v0.9h-0.9zM217.3 121.1h0.9v0.9h-0.9zM211.4 119.1h0.9v0.9h-0.9zM209.2 126.4h0.9v0.9h-0.9zM217.0 131.8h0.9v0.9h-0.9zM214.5 117.9h0.9v0.9h-0.9zM206.6 121.4h0.9v0.9h-0.9zM212.6 124.9h0.9v0.9h-0.9zM211.8 124.1h0.9v0.9h-0.9zM217.5 126.7h0.9v0.9h-0.9zM204.5 116.0h0.9v0.9h-0.9zM211.3 119.2h0.9v0.9h-0.9zM212.4 107.2h0.9v0.9h-0.9zM219.4 124.4h0.9v0.9h-0.9zM208.1 132.6h0.9v0.9h-0.9zM199.8 107.5h0.9v0.9h-0.9zM206.8 118.9h0.9v0.9h-0.9zM214.2 131.2h0.9v0.9h-0.9zM216.6 122.9h0.9v0.9h-0.9zM220.8 108.8h0.9v0.9h-0.9zM214.8 133.4h0.9v0.9h-0.9zM209.4 112.6h0.9v0.9h-0.9zM217.0 135.0h0.9v0.9h-0.9zM213.0 119.3h0.9v0.9h-0.9zM212.1 118.3h0.9v0.9h-0.9zM213.1 124.2h0.9v0.9h-0.9zM218.7 123.8h0.9v0.9h-0.9zM208.9 128.8h0.9v0.9h-0.9zM208.4 128.0h0.9v0.9h-0.9zM212.7 122.8h0.9v0.9h-0.9zM212.7 134.6h0.9v0.9h-0.9zM209.3 129.7h0.9v0.9h-0.9zM209.0 126.2h0.9v0.9h-0.9zM214.7 125.1h0.9v0.9h-0.9zM219.0 123.2h0.9v0.9h-0.9zM216.2 123.4h0.9v0.9h-0.9zM216.1 129.3h0.9v0.9h-0.9zM218.6 127.8h0.9v0.9h-0.9zM204.0 124.3h0.9v0.9h-0.9zM206.2 132.1h0.9v0.9h-0.9zM209.8 121.9h0.9v0.9h-0.9zM207.6 127.5h0.9v0.9h-0.9zM208.5 130.9h0.9v0.9h-0.9zM213.3 115.1h0.9v0.9h-0.9zM207.2 121.9h0.9v0.9h-0.9zM211.0 137.4h0.9v0.9h-0.9zM203.8 116.3h0.9v0.9h-0.9zM208.6 133.2h0.9v0.9h-0.9zM219.1 115.5h0.9v0.9h-0.9zM210.6 127.2h0.9v0.9h-0.9zM214.5 115.5h0.9v0.9h-0.9zM216.2 119.1h0.9v0.9h-0.9zM210.8 121.0h0.9v0.9h-0.9zM215.6 119.6h0.9v0.9h-0.9zM214.0 132.1h0.9v0.9h-0.9zM216.1 130.7h0.9v0.9h-0.9zM210.1 131.0h0.9v0.9h-0.9zM206.5 125.5h0.9v0.9h-0.9zM208.4 137.1h0.9v0.9h-0.9zM210.5 132.2h0.9v0.9h-0.9zM215.4 126.6h0.9v0.9h-0.9zM212.1 115.6h0.9v0.9h-0.9zM211.2 129.5h0.9v0.9h-0.9zM212.2 129.2h0.9v0.9h-0.9zM217.9 124.8h0.9v0.9h-0.9zM210.4 129.7h0.9v0.9h-0.9zM219.8 130.2h0.9v0.9h-0.9zM207.5 121.6h0.9v0.9h-0.9zM210.3 128.5h0.9v0.9h-0.9zM216.8 126.8h0.9v0.9h-0.9zM215.3 126.5h0.9v0.9h-0.9zM209.2 121.3h0.9v0.9h-0.9zM212.5 120.3h0.9v0.9h-0.9zM209.8 124.9h0.9v0.9h-0.9zM216.8 135.5h0.9v0.9h-0.9zM215.4 142.6h0.9v0.9h-0.9zM209.8 121.0h0.9v0.9h-0.9zM214.8 115.6h0.9v0.9h-0.9zM211.3 121.3h0.9v0.9h-0.9zM212.7 117.3h0.9v0.9h-0.9zM213.3 120.7h0.9v0.9h-0.9zM210.5 127.2h0.9v0.9h-0.9zM214.9 116.7h0.9v0.9h-0.9zM215.1 128.9h0.9v0.9h-0.9zM214.9 130.3h0.9v0.9h-0.9zM218.0 136.1h0.9v0.9h-0.9zM211.8 138.6h0.9v0.9h-0.9zM206.3 132.0h0.9v0.9h-0.9zM210.8 142.1h0.9v0.9h-0.9zM213.9 120.0h0.9v0.9h-0.9z" fill="#000" fill-opacity="0.5"/>
<path d="M243.3 105.8h0.9v0.9h-0.9zM211.1 97.6h0.9v0.9h-0.9zM231.9 97.2h0.9v0.9h-0.9zM225.0 94.3h0.9v0.9h-0.9zM225.8 86.4h0.9v0.9h-0.9zM227.5 100.6h0.9v0.9h-0.9zM214.9 85.5h0.9v0.9h-0.9zM227.4 99.9h0.9v0.9h-0.9zM222.9 95.9h0.9v0.9h-0.9zM252.3 102.8h0.9v0.9h-0.9zM230.6 95.6h0.9v0.9h-0.9zM226.5 91.1h0.9v0.9h-0.9zM227.0 98.1h0.9v0.9h-0.9zM224.3 92.6h0.9v0.9h-0.9zM221.6 94.9h0.9v0.9h-0.9zM226.3 96.3h0.9v0.9h-0.9zM232.4 95.2h0.9v0.9h-0.9zM227.3 94.9h0.9v0.9h-0.9zM235.7 91.0h0.9v0.9h-0.9zM227.6 94.9h0.9v0.9h-0.9zM229.2 83.2h0.9v0.9h-0.9zM239.8 95.1h0.9v0.9h-0.9zM232.8 88.8h0.9v0.9h-0.9zM225.5 102.7h0.9v0.9h-0.9zM227.7 103.6h0.9v0.9h-0.9zM232.8 84.3h0.9v0.9h-0.9zM242.5 96.9h0.9v0.9h-0.9zM227.1 95.2h0.9v0.9h-0.9zM227.3 89.7h0.9v0.9h-0.9zM236.0 99.2h0.9v0.9h-0.9zM222.8 93.2h0.9v0.9h-0.9zM227.0 85.4h0.9v0.9h-0.9zM235.2 94.4h0.9v0.9h-0.9zM233.1 95.1h0.9v0.9h-0.9zM229.6 96.6h0.9v0.9h-0.9zM233.7 88.6h0.9v0.9h-0.9zM209.2 99.7h0.9v0.9h-0.9zM236.1 100.4h0.9v0.9h-0.9zM222.3 89.1h0.9v0.9h-0.9zM217.3 92.0h0.9v0.9h-0.9zM230.9 95.5h0.9v0.9h-0.9zM233.9 92.6h0.9v0.9h-0.9zM225.9 106.5h0.9v0.9h-0.9zM221.5 97.3h0.9v0.9h-0.9zM229.2 89.9h0.9v0.9h-0.9zM228.6 91.3h0.9v0.9h-0.9zM238.8 95.7h0.9v0.9h-0.9zM234.2 109.8h0.9v0.9h-0.9zM230.4 94.9h0.9v0.9h-0.9zM236.8 96.8h0.9v0.9h-0.9zM227.6 99.1h0.9v0.9h-0.9zM222.5 95.8h0.9v0.9h-0.9zM233.1 109.7h0.9v0.9h-0.9zM233.1 92.8h0.9v0.9h-0.9zM227.5 100.5h0.9v0.9h-0.9zM223.5 97.0h0.9v0.9h-0.9zM230.6 99.7h0.9v0.9h-0.9zM211.5 88.9h0.9v0.9h-0.9zM233.8 106.6h0.9v0.9h-0.9zM232.4 95.3h0.9v0.9h-0.9zM217.5 96.2h0.9v0.9h-0.9zM229.4 90.4h0.9v0.9h-0.9zM222.3 91.6h0.9v0.9h-0.9zM234.3 99.4h0.9v0.9h-0.9zM214.8 101.9h0.9v0.9h-0.9zM222.6 100.5h0.9v0.9h-0.9zM234.0 103.3h0.9v0.9h-0.9zM237.1 100.3h0.9v0.9h-0.9zM213.9 96.2h0.9v0.9h-0.9zM225.5 101.0h0.9v0.9h-0.9zM231.3 99.6h0.9v0.9h-0.9zM224.7 95.4h0.9v0.9h-0.9zM240.1 100.4h0.9v0.9h-0.9zM220.7 103.7h0.9v0.9h-0.9zM231.5 97.4h0.9v0.9h-0.9zM221.7 93.9h0.9v0.9h-0.9zM238.8 100.3h0.9v0.9h-0.9zM228.8 107.4h0.9v0.9h-0.9zM226.4 94.7h0.9v0.9h-0.9zM217.0 95.4h0.9v0.9h-0.9zM240.8 95.2h0.9v0.9h-0.9zM234.3 103.3h0.9v0.9h-0.9zM234.3 85.0h0.9v0.9h-0.9zM237.0 98.2h0.9v0.9h-0.9zM231.4 103.2h0.9v0.9h-0.9zM224.5 91.1h0.9v0.9h-0.9zM223.4 104.9h0.9v0.9h-0.9zM223.4 99.2h0.9v0.9h-0.9zM238.6 92.7h0.9v0.9h-0.9zM218.8 97.2h0.9v0.9h-0.9zM224.8 86.8h0.9v0.9h-0.9zM226.8 92.6h0.9v0.9h-0.9zM230.6 107.0h0.9v0.9h-0.9zM233.0 90.6h0.9v0.9h-0.9zM220.3 107.1h0.9v0.9h-0.9zM216.9 95.5h0.9v0.9h-0.9zM229.0 102.0h0.9v0.9h-0.9zM237.5 96.3h0.9v0.9h-0.9zM234.3 82.6h0.9v0.9h-0.9zM230.5 92.6h0.9v0.9h-0.9zM226.8 97.1h0.9v0.9h-0.9zM231.1 89.1h0.9v0.9h-0.9zM227.3 87.9h0.9v0.9h-0.9zM234.7 98.2h0.9v0.9h-0.9zM223.4 92.1h0.9v0.9h-0.9zM229.9 85.8h0.9v0.9h-0.9zM228.2 91.9h0.9v0.9h-0.9zM232.8 101.2h0.9v0.9h-0.9zM230.6 93.2h0.9v0.9h-0.9zM246.9 101.6h0.9v0.9h-0.9zM239.5 105.2h0.9v0.9h-0.9zM239.5 96.2h0.9v0.9h-0.9zM214.7 89.2h0.9v0.9h-0.9zM226.6 88.2h0.9v0.9h-0.9zM224.7 95.8h0.9v0.9h-0.9zM232.7 101.3h0.9v0.9h-0.9zM213.0 97.6h0.9v0.9h-0.9zM237.2 99.3h0.9v0.9h-0.9zM236.5 93.3h0.9v0.9h-0.9zM219.9 97.8h0.9v0.9h-0.9zM222.2 93.2h0.9v0.9h-0.9zM223.4 94.0h0.9v0.9h-0.9zM229.3 88.2h0.9v0.9h-0.9zM233.5 86.6h0.9v0.9h-0.9zM243.3 93.1h0.9v0.9h-0.9zM227.6 89.4h0.9v0.9h-0.9zM234.4 90.2h0.9v0.9h-0.9zM230.1 100.0h0.9v0.9h-0.9zM241.3 95.4h0.9v0.9h-0.9zM234.2 113.5h0.9v0.9h-0.9zM238.6 101.6h0.9v0.9h-0.9zM221.5 92.2h0.9v0.9h-0.9zM227.7 100.7h0.9v0.9h-0.9zM223.3 98.1h0.9v0.9h-0.9zM239.5 91.9h0.9v0.9h-0.9zM233.6 102.6h0.9v0.9h-0.9zM226.9 91.3h0.9v0.9h-0.9zM225.8 77.6h0.9v0.9h-0.9zM232.4 100.8h0.9v0.9h-0.9zM224.1 92.3h0.9v0.9h-0.9zM222.5 104.9h0.9v0.9h-0.9zM232.4 92.1h0.9v0.9h-0.9zM246.2 88.9h0.9v0.9h-0.9zM227.3 105.3h0.9v0.9h-0.9zM225.1 89.5h0.9v0.9h-0.9zM220.8 97.2h0.9v0.9h-0.9zM219.7 104.7h0.9v0.9h-0.9zM232.7 96.7h0.9v0.9h-0.9zM235.0 95.5h0.9v0.9h-0.9zM229.1 96.6h0.9v0.9h-0.9zM231.3 101.0h0.9v0.9h-0.9zM229.8 91.2h0.9v0.9h-0.9zM230.0 99.7h0.9v0.9h-0.9zM218.3 99.5h0.9v0.9h-0.9zM225.8 110.0h0.9v0.9h-0.9zM229.8 94.0h0.9v0.9h-0.9zM223.5 90.5h0.9v0.9h-0.9zM225.7 100.4h0.9v0.9h-0.9zM223.3 93.6h0.9v0.9h-0.9zM226.7 97.7h0.9v0.9h-0.9zM235.0 96.8h0.9v0.9h-0.9zM226.2 103.0h0.9v0.9h-0.9zM227.9 92.1h0.9v0.9h-0.9zM234.7 95.4h0.9v0.9h-0.9zM233.5 80.7h0.9v0.9h-0.9zM240.9 90.7h0.9v0.9h-0.9zM214.4 105.2h0.9v0.9h-0.9zM235.0 91.9h0.9v0.9h-0.9zM225.6 91.8h0.9v0.9h-0.9zM229.9 88.7h0.9v0.9h-0.9zM234.9 99.5h0.9v0.9h-0.9zM236.6 97.1h0.9v0.9h-0.9zM236.3 88.9h0.9v0.9h-0.9zM230.1 100.0h0.9v0.9h-0.9zM240.3 97.6h0.9v0.9h-0.9zM227.0 100.5h0.9v0.9h-0.9zM228.0 92.2h0.9v0.9h-0.9zM234.6 106.4h0.9v0.9h-0.9zM225.1 98.5h0.9v0.9h-0.9zM244.1 95.3h0.9v0.9h-0.9zM236.1 92.9h0.9v0.9h-0.9zM244.2 94.5h0.9v0.9h-0.9zM228.8 101.2h0.9v0.9h-0.9zM226.3 94.4h0.9v0.9h-0.9zM230.2 102.5h0.9v0.9h-0.9zM234.1 99.5h0.9v0.9h-0.9zM224.9 104.1h0.9v0.9h-0.9zM231.7 100.9h0.9v0.9h-0.9zM228.9 95.6h0.9v0.9h-0.9zM240.3 84.5h0.9v0.9h-0.9zM224.4 97.8h0.9v0.9h-0.9zM236.3 100.7h0.9v0.9h-0.9zM224.5 97.0h0.9v0.9h-0.9zM222.3 99.3h0.9v0.9h-0.9zM224.0 93.2h0.9v0.9h-0.9zM220.7 93.7h0.9v0.9h-0.9zM230.0 90.3h0.9v0.9h-0.9zM236.2 104.2h0.9v0.9h-0.9zM230.2 97.0h0.9v0.9h-0.9zM233.4 93.0h0.9v0.9h-0.9z" fill="#000" fill-opacity="0.45"/>
<path d="M193.4 101.9h0.9v0.9h-0.9zM196.1 98.5h0.9v0.9h-0.9zM194.8 91.5h0.9v0.9h-0.9zM204.3 122.8h0.9v0.9h-0.9zM233.3 106.5h0.9v0.9h-0.9zM190.6 111.9h0.9v0.9h-0.9zM226.2 134.3h0.9v0.9h-0.9zM230.7 104.7h0.9v0.9h-0.9zM208.0 118.5h0.9v0.9h-0.9zM203.2 93.5h0.9v0.9h-0.9zM219.6 102.9h0.9v0.9h-0.9zM230.0 120.0h0.9v0.9h-0.9zM243.2 107.6h0.9v0.9h-0.9zM225.5 92.4h0.9v0.9h-0.9zM235.3 91.1h0.9v0.9h-0.9zM206.7 115.3h0.9v0.9h-0.9zM200.8 98.9h0.9v0.9h-0.9zM188.9 119.7h0.9v0.9h-0.9zM196.8 114.5h0.9v0.9h-0.9zM207.9 106.8h0.9v0.9h-0.9zM215.7 110.0h0.9v0.9h-0.9zM194.6 120.6h0.9v0.9h-0.9zM224.4 111.3h0.9v0.9h-0.9zM211.6 98.7h0.9v0.9h-0.9zM204.0 115.2h0.9v0.9h-0.9zM202.3 106.3h0.9v0.9h-0.9zM241.3 107.9h0.9v0.9h-0.9zM215.4 118.2h0.9v0.9h-0.9zM200.4 115.1h0.9v0.9h-0.9zM199.6 124.0h0.9v0.9h-0.9zM238.7 108.5h0.9v0.9h-0.9zM204.9 105.0h0.9v0.9h-0.9zM229.6 106.5h0.9v0.9h-0.9zM232.9 115.7h0.9v0.9h-0.9zM231.9 106.3h0.9v0.9h-0.9zM210.1 100.1h0.9v0.9h-0.9zM197.8 101.0h0.9v0.9h-0.9zM205.4 108.6h0.9v0.9h-0.9zM220.9 141.8h0.9v0.9h-0.9zM218.2 106.0h0.9v0.9h-0.9zM219.0 114.2h0.9v0.9h-0.9zM202.9 112.1h0.9v0.9h-0.9zM230.9 108.7h0.9v0.9h-0.9zM234.0 111.3h0.9v0.9h-0.9zM238.7 135.9h0.9v0.9h-0.9zM227.0 107.6h0.9v0.9h-0.9zM239.5 131.4h0.9v0.9h-0.9zM242.3 119.2h0.9v0.9h-0.9zM222.9 99.9h0.9v0.9h-0.9zM225.3 102.7h0.9v0.9h-0.9zM221.2 105.1h0.9v0.9h-0.9zM220.7 97.2h0.9v0.9h-0.9zM225.1 125.6h0.9v0.9h-0.9zM189.1 116.2h0.9v0.9h-0.9zM208.5 117.7h0.9v0.9h-0.9zM219.8 97.9h0.9v0.9h-0.9zM192.8 104.2h0.9v0.9h-0.9zM235.2 141.8h0.9v0.9h-0.9zM198.2 109.8h0.9v0.9h-0.9zM206.5 114.6h0.9v0.9h-0.9zM218.3 116.2h0.9v0.9h-0.9zM206.3 105.0h0.9v0.9h-0.9zM200.9 106.0h0.9v0.9h-0.9zM205.8 106.0h0.9v0.9h-0.9zM207.0 121.8h0.9v0.9h-0.9zM204.9 101.8h0.9v0.9h-0.9zM215.6 109.0h0.9v0.9h-0.9zM235.5 115.2h0.9v0.9h-0.9zM218.0 105.8h0.9v0.9h-0.9zM235.7 93.7h0.9v0.9h-0.9zM223.4 95.9h0.9v0.9h-0.9zM224.7 105.7h0.9v0.9h-0.9zM221.2 98.7h0.9v0.9h-0.9zM208.8 123.2h0.9v0.9h-0.9zM218.9 111.1h0.9v0.9h-0.9zM217.2 110.6h0.9v0.9h-0.9zM197.4 98.2h0.9v0.9h-0.9zM223.5 117.6h0.9v0.9h-0.9zM221.1 106.4h0.9v0.9h-0.9zM218.2 98.9h0.9v0.9h-0.9zM205.2 102.8h0.9v0.9h-0.9zM233.5 103.2h0.9v0.9h-0.9zM212.0 99.9h0.9v0.9h-0.9zM222.1 120.2h0.9v0.9h-0.9zM203.2 107.3h0.9v0.9h-0.9zM222.6 128.3h0.9v0.9h-0.9zM211.6 92.4h0.9v0.9h-0.9zM228.9 104.8h0.9v0.9h-0.9zM216.3 90.1h0.9v0.9h-0.9zM216.9 128.1h0.9v0.9h-0.9zM215.1 111.4h0.9v0.9h-0.9zM230.2 143.5h0.9v0.9h-0.9zM194.9 116.6h0.9v0.9h-0.9zM229.5 116.8h0.9v0.9h-0.9zM222.6 96.5h0.9v0.9h-0.9zM205.2 95.8h0.9v0.9h-0.9zM213.0 104.5h0.9v0.9h-0.9zM206.7 122.0h0.9v0.9h-0.9zM213.8 97.4h0.9v0.9h-0.9zM226.2 80.4h0.9v0.9h-0.9zM203.5 121.1h0.9v0.9h-0.9zM223.4 121.9h0.9v0.9h-0.9zM226.2 98.7h0.9v0.9h-0.9zM221.9 115.8h0.9v0.9h-0.9zM234.9 124.3h0.9v0.9h-0.9zM212.0 124.9h0.9v0.9h-0.9zM222.7 90.3h0.9v0.9h-0.9zM247.7 110.9h0.9v0.9h-0.9zM213.4 100.3h0.9v0.9h-0.9zM211.1 122.1h0.9v0.9h-0.9zM213.1 111.1h0.9v0.9h-0.9zM221.2 94.6h0.9v0.9h-0.9zM204.3 111.1h0.9v0.9h-0.9zM209.6 117.3h0.9v0.9h-0.9zM188.4 90.1h0.9v0.9h-0.9zM198.3 92.6h0.9v0.9h-0.9zM198.7 101.1h0.9v0.9h-0.9zM196.8 105.8h0.9v0.9h-0.9zM206.8 102.4h0.9v0.9h-0.9zM222.7 86.3h0.9v0.9h-0.9zM207.6 89.7h0.9v0.9h-0.9zM194.5 109.0h0.9v0.9h-0.9zM216.4 114.7h0.9v0.9h-0.9zM215.4 98.2h0.9v0.9h-0.9zM193.4 111.6h0.9v0.9h-0.9zM215.1 133.4h0.9v0.9h-0.9zM198.0 106.9h0.9v0.9h-0.9zM204.1 104.0h0.9v0.9h-0.9zM202.7 100.7h0.9v0.9h-0.9zM224.5 115.7h0.9v0.9h-0.9zM201.4 112.7h0.9v0.9h-0.9zM208.5 113.0h0.9v0.9h-0.9zM215.5 105.1h0.9v0.9h-0.9zM227.4 115.1h0.9v0.9h-0.9zM229.5 115.2h0.9v0.9h-0.9zM198.7 108.2h0.9v0.9h-0.9zM229.6 124.8h0.9v0.9h-0.9zM217.2 90.3h0.9v0.9h-0.9zM229.7 119.2h0.9v0.9h-0.9zM227.7 108.6h0.9v0.9h-0.9zM205.5 120.9h0.9v0.9h-0.9zM213.5 134.5h0.9v0.9h-0.9zM208.9 111.0h0.9v0.9h-0.9zM218.2 108.0h0.9v0.9h-0.9zM236.1 110.2h0.9v0.9h-0.9zM213.8 128.1h0.9v0.9h-0.9zM203.7 130.2h0.9v0.9h-0.9zM248.5 112.7h0.9v0.9h-0.9zM199.1 118.9h0.9v0.9h-0.9zM213.0 133.6h0.9v0.9h-0.9zM212.8 117.6h0.9v0.9h-0.9zM195.2 91.6h0.9v0.9h-0.9zM224.1 100.4h0.9v0.9h-0.9zM227.9 104.7h0.9v0.9h-0.9zM211.9 115.9h0.9v0.9h-0.9zM213.8 103.7h0.9v0.9h-0.9zM210.7 128.7h0.9v0.9h-0.9zM188.3 104.9h0.9v0.9h-0.9zM216.4 131.0h0.9v0.9h-0.9zM195.6 102.7h0.9v0.9h-0.9zM199.6 128.3h0.9v0.9h-0.9zM218.6 113.5h0.9v0.9h-0.9zM225.9 129.3h0.9v0.9h-0.9zM200.9 136.3h0.9v0.9h-0.9zM229.0 133.6h0.9v0.9h-0.9zM237.7 124.6h0.9v0.9h-0.9zM215.4 101.8h0.9v0.9h-0.9zM211.9 101.0h0.9v0.9h-0.9zM215.9 70.7h0.9v0.9h-0.9zM207.4 130.3h0.9v0.9h-0.9zM201.1 127.7h0.9v0.9h-0.9zM222.0 124.6h0.9v0.9h-0.9zM223.1 97.0h0.9v0.9h-0.9zM207.4 103.0h0.9v0.9h-0.9zM204.3 122.8h0.9v0.9h-0.9z" fill="#000" fill-opacity="0.45"/>
<path d="M326.1 102.0h0.9v0.9h-0.9zM328.2 109.9h0.9v0.9h-0.9zM336.5 99.8h0.9v0.9h-0.9zM332.0 102.7h0.9v0.9h-0.9zM321.6 105.9h0.9v0.9h-0.9zM329.0 100.3h0.9v0.9h-0.9zM326.2 105.0h0.9v0.9h-0.9zM329.7 99.9h0.9v0.9h-0.9zM321.8 106.0h0.9v0.9h-0.9zM330.1 103.2h0.9v0.9h-0.9zM330.1 98.7h0.9v0.9h-0.9zM336.1 109.2h0.9v0.9h-0.9zM330.4 102.4h0.9v0.9h-0.9zM331.3 101.6h0.9v0.9h-0.9zM322.3 98.7h0.9v0.9h-0.9zM339.1 100.8h0.9v0.9h-0.9zM320.4 102.4h0.9v0.9h-0.9zM334.0 103.6h0.9v0.9h-0.9zM327.5 107.8h0.9v0.9h-0.9zM325.0 96.9h0.9v0.9h-0.9zM326.0 101.3h0.9v0.9h-0.9zM326.0 108.2h0.9v0.9h-0.9zM330.7 103.7h0.9v0.9h-0.9zM328.5 104.7h0.9v0.9h-0.9zM335.7 110.0h0.9v0.9h-0.9zM320.8 104.4h0.9v0.9h-0.9zM329.0 105.0h0.9v0.9h-0.9zM325.0 102.7h0.9v0.9h-0.9zM332.5 110.8h0.9v0.9h-0.9zM319.5 107.6h0.9v0.9h-0.9zM327.5 99.6h0.9v0.9h-0.9zM329.9 105.3h0.9v0.9h-0.9zM322.3 97.7h0.9v0.9h-0.9zM333.4 107.7h0.9v0.9h-0.9zM329.8 105.9h0.9v0.9h-0.9zM333.5 102.1h0.9v0.9h-0.9zM333.3 101.0h0.9v0.9h-0.9zM324.6 94.8h0.9v0.9h-0.9zM325.4 106.3h0.9v0.9h-0.9zM328.1 102.3h0.9v0.9h-0.9zM332.4 101.4h0.9v0.9h-0.9zM332.8 106.1h0.9v0.9h-0.9zM325.8 99.8h0.9v0.9h-0.9zM326.3 100.2h0.9v0.9h-0.9zM325.4 99.7h0.9v0.9h-0.9zM326.4 96.7h0.9v0.9h-0.9zM327.9 113.6h0.9v0.9h-0.9zM328.4 101.9h0.9v0.9h-0.9zM338.3 101.2h0.9v0.9h-0.9zM326.7 106.8h0.9v0.9h-0.9zM327.7 88.6h0.9v0.9h-0.9zM331.1 102.7h0.9v0.9h-0.9zM324.7 102.8h0.9v0.9h-0.9zM327.3 98.4h0.9v0.9h-0.9zM329.1 104.8h0.9v0.9h-0.9zM332.5 93.6h0.9v0.9h-0.9zM323.1 102.8h0.9v0.9h-0.9zM335.2 106.7h0.9v0.9h-0.9zM327.4 92.7h0.9v0.9h-0.9zM329.8 96.1h0.9v0.9h-0.9zM332.8 101.8h0.9v0.9h-0.9zM332.0 102.4h0.9v0.9h-0.9zM333.8 99.5h0.9v0.9h-0.9zM329.8 104.0h0.9v0.9h-0.9zM328.9 103.4h0.9v0.9h-0.9zM330.4 96.2h0.9v0.9h-0.9zM324.5 101.8h0.9v0.9h-0.9zM334.5 96.5h0.9v0.9h-0.9zM325.5 92.8h0.9v0.9h-0.9zM323.3 91.3h0.9v0.9h-0.9zM338.3 106.7h0.9v0.9h-0.9zM328.4 101.5h0.9v0.9h-0.9zM323.7 110.9h0.9v0.9h-0.9zM337.3 95.5h0.9v0.9h-0.9zM327.5 100.4h0.9v0.9h-0.9zM333.8 103.6h0.9v0.9h-0.9zM325.3 101.4h0.9v0.9h-0.9zM327.9 104.3h0.9v0.9h-0.9zM321.4 102.7h0.9v0.9h-0.9zM320.4 99.3h0.9v0.9h-0.9zM324.6 91.6h0.9v0.9h-0.9zM328.6 97.8h0.9v0.9h-0.9zM332.6 109.8h0.9v0.9h-0.9zM339.9 105.5h0.9v0.9h-0.9zM324.4 108.3h0.9v0.9h-0.9zM333.5 99.5h0.9v0.9h-0.9zM326.3 101.3h0.9v0.9h-0.9zM328.3 98.2h0.9v0.9h-0.9zM322.3 103.9h0.9v0.9h-0.9zM322.3 102.5h0.9v0.9h-0.9zM325.5 104.2h0.9v0.9h-0.9zM323.6 110.1h0.9v0.9h-0.9zM329.0 98.5h0.9v0.9h-0.9zM325.8 105.6h0.9v0.9h-0.9zM334.6 95.9h0.9v0.9h-0.9zM329.7 107.2h0.9v0.9h-0.9zM329.7 100.3h0.9v0.9h-0.9zM334.1 101.9h0.9v0.9h-0.9zM331.3 102.9h0.9v0.9h-0.9zM328.8 109.7h0.9v0.9h-0.9zM328.6 102.1h0.9v0.9h-0.9zM328.5 100.0h0.9v0.9h-0.9zM333.8 96.9h0.9v0.9h-0.9zM332.5 103.5h0.9v0.9h-0.9zM330.6 98.4h0.9v0.9h-0.9zM332.6 100.0h0.9v0.9h-0.9zM326.5 102.1h0.9v0.9h-0.9zM331.3 105.3h0.9v0.9h-0.9zM322.6 99.0h0.9v0.9h-0.9zM335.1 105.3h0.9v0.9h-0.9zM329.4 110.2h0.9v0.9h-0.9zM329.8 95.5h0.9v0.9h-0.9zM331.7 108.4h0.9v0.9h-0.9zM329.0 111.9h0.9v0.9h-0.9zM327.9 99.6h0.9v0.9h-0.9zM334.4 105.0h0.9v0.9h-0.9zM329.5 96.1h0.9v0.9h-0.9zM324.9 103.8h0.9v0.9h-0.9zM331.0 100.8h0.9v0.9h-0.9zM321.3 103.6h0.9v0.9h-0.9zM336.4 98.1h0.9v0.9h-0.9zM328.2 98.5h0.9v0.9h-0.9zM329.2 100.2h0.9v0.9h-0.9zM339.2 99.0h0.9v0.9h-0.9zM338.7 99.4h0.9v0.9h-0.9zM329.5 101.3h0.9v0.9h-0.9zM331.8 97.2h0.9v0.9h-0.9zM333.9 101.5h0.9v0.9h-0.9zM336.6 104.3h0.9v0.9h-0.9zM328.4 91.7h0.9v0.9h-0.9zM329.6 103.0h0.9v0.9h-0.9zM334.5 98.8h0.9v0.9h-0.9zM330.2 97.1h0.9v0.9h-0.9zM332.4 96.1h0.9v0.9h-0.9zM331.7 98.3h0.9v0.9h-0.9zM323.9 98.7h0.9v0.9h-0.9zM325.1 103.6h0.9v0.9h-0.9zM317.1 96.4h0.9v0.9h-0.9zM327.8 106.8h0.9v0.9h-0.9zM335.0 98.4h0.9v0.9h-0.9zM324.0 105.1h0.9v0.9h-0.9zM334.6 107.0h0.9v0.9h-0.9zM333.5 96.6h0.9v0.9h-0.9zM328.8 106.9h0.9v0.9h-0.9zM329.0 112.0h0.9v0.9h-0.9zM329.4 100.2h0.9v0.9h-0.9zM325.1 104.9h0.9v0.9h-0.9zM327.7 101.7h0.9v0.9h-0.9zM328.8 102.7h0.9v0.9h-0.9zM331.8 101.6h0.9v0.9h-0.9zM332.6 100.2h0.9v0.9h-0.9zM325.7 105.7h0.9v0.9h-0.9zM332.7 106.5h0.9v0.9h-0.9zM325.5 102.5h0.9v0.9h-0.9zM328.2 109.4h0.9v0.9h-0.9zM330.7 107.5h0.9v0.9h-0.9zM328.9 105.8h0.9v0.9h-0.9zM328.4 99.4h0.9v0.9h-0.9zM330.2 111.2h0.9v0.9h-0.9zM326.5 108.6h0.9v0.9h-0.9zM326.1 93.0h0.9v0.9h-0.9zM328.1 97.7h0.9v0.9h-0.9zM333.3 100.6h0.9v0.9h-0.9zM328.5 106.9h0.9v0.9h-0.9zM337.6 108.3h0.9v0.9h-0.9zM330.0 101.4h0.9v0.9h-0.9zM315.6 103.9h0.9v0.9h-0.9zM327.0 105.9h0.9v0.9h-0.9zM336.5 97.0h0.9v0.9h-0.9zM329.0 105.4h0.9v0.9h-0.9zM327.0 101.4h0.9v0.9h-0.9zM325.1 103.6h0.9v0.9h-0.9zM335.0 102.6h0.9v0.9h-0.9zM333.5 97.5h0.9v0.9h-0.9zM332.0 98.3h0.9v0.9h-0.9zM330.9 103.0h0.9v0.9h-0.9zM335.5 103.4h0.9v0.9h-0.9zM332.7 101.6h0.9v0.9h-0.9zM323.5 107.6h0.9v0.9h-0.9zM332.5 101.2h0.9v0.9h-0.9zM329.8 97.3h0.9v0.9h-0.9zM328.5 101.2h0.9v0.9h-0.9zM332.4 102.0h0.9v0.9h-0.9zM329.1 102.2h0.9v0.9h-0.9zM315.8 108.0h0.9v0.9h-0.9zM336.0 105.1h0.9v0.9h-0.9zM333.7 107.5h0.9v0.9h-0.9zM328.4 105.6h0.9v0.9h-0.9zM327.3 102.1h0.9v0.9h-0.9zM330.0 107.5h0.9v0.9h-0.9zM323.2 101.6h0.9v0.9h-0.9zM330.4 103.9h0.9v0.9h-0.9zM328.0 98.3h0.9v0.9h-0.9zM327.4 103.3h0.9v0.9h-0.9zM324.8 101.4h0.9v0.9h-0.9zM325.9 104.5h0.9v0.9h-0.9zM334.0 111.0h0.9v0.9h-0.9zM335.0 113.5h0.9v0.9h-0.9zM331.3 107.4h0.9v0.9h-0.9zM328.8 102.7h0.9v0.9h-0.9zM325.0 106.5h0.9v0.9h-0.9zM332.2 103.9h0.9v0.9h-0.9zM336.2 100.1h0.9v0.9h-0.9zM321.7 102.6h0.9v0.9h-0.9zM334.3 101.7h0.9v0.9h-0.9zM319.3 100.1h0.9v0.9h-0.9zM327.5 109.1h0.9v0.9h-0.9zM330.7 100.4h0.9v0.9h-0.9zM322.9 100.6h0.9v0.9h-0.9zM322.2 106.0h0.9v0.9h-0.9zM329.8 99.7h0.9v0.9h-0.9zM332.9 97.7h0.9v0.9h-0.9zM326.9 99.0h0.9v0.9h-0.9zM335.0 105.0h0.9v0.9h-0.9zM325.5 104.5h0.9v0.9h-0.9zM336.9 104.2h0.9v0.9h-0.9zM329.5 100.8h0.9v0.9h-0.9zM330.1 98.7h0.9v0.9h-0.9zM331.8 106.9h0.9v0.9h-0.9zM330.4 96.3h0.9v0.9h-0.9zM337.3 101.9h0.9v0.9h-0.9zM338.9 96.9h0.9v0.9h-0.9zM331.5 101.0h0.9v0.9h-0.9zM328.3 102.2h0.9v0.9h-0.9zM323.7 108.4h0.9v0.9h-0.9zM325.6 90.0h0.9v0.9h-0.9zM329.0 109.0h0.9v0.9h-0.9zM328.5 98.9h0.9v0.9h-0.9zM328.8 104.2h0.9v0.9h-0.9zM329.0 106.5h0.9v0.9h-0.9zM331.2 99.4h0.9v0.9h-0.9zM322.9 102.5h0.9v0.9h-0.9zM324.4 105.1h0.9v0.9h-0.9zM334.0 102.3h0.9v0.9h-0.9zM332.8 99.6h0.9v0.9h-0.9zM326.6 103.8h0.9v0.9h-0.9zM334.8 103.4h0.9v0.9h-0.9zM326.0 96.2h0.9v0.9h-0.9zM327.9 109.0h0.9v0.9h-0.9zM320.8 103.9h0.9v0.9h-0.9zM332.8 92.0h0.9v0.9h-0.9zM329.0 99.2h0.9v0.9h-0.9zM333.8 110.7h0.9v0.9h-0.9zM332.2 110.1h0.9v0.9h-0.9zM329.4 104.2h0.9v0.9h-0.9zM329.7 95.4h0.9v0.9h-0.9zM334.4 101.9h0.9v0.9h-0.9zM328.3 107.7h0.9v0.9h-0.9zM328.4 104.7h0.9v0.9h-0.9zM329.4 101.5h0.9v0.9h-0.9zM332.7 99.7h0.9v0.9h-0.9zM333.2 106.7h0.9v0.9h-0.9zM337.7 102.0h0.9v0.9h-0.9zM328.7 104.4h0.9v0.9h-0.9zM334.8 105.2h0.9v0.9h-0.9zM326.2 110.4h0.9v0.9h-0.9zM331.9 103.8h0.9v0.9h-0.9zM329.7 104.2h0.9v0.9h-0.9zM337.0 94.9h0.9v0.9h-0.9zM331.9 108.0h0.9v0.9h-0.9zM327.2 107.0h0.9v0.9h-0.9zM331.8 102.9h0.9v0.9h-0.9zM330.8 92.8h0.9v0.9h-0.9zM327.8 100.4h0.9v0.9h-0.9zM327.9 103.3h0.9v0.9h-0.9zM325.0 112.4h0.9v0.9h-0.9zM341.6 105.6h0.9v0.9h-0.9zM329.8 106.6h0.9v0.9h-0.9zM333.6 106.7h0.9v0.9h-0.9zM324.0 109.0h0.9v0.9h-0.9zM324.3 97.9h0.9v0.9h-0.9zM328.5 99.1h0.9v0.9h-0.9zM328.6 97.7h0.9v0.9h-0.9zM332.8 101.7h0.9v0.9h-0.9zM324.7 101.4h0.9v0.9h-0.9zM331.7 103.4h0.9v0.9h-0.9zM336.0 98.3h0.9v0.9h-0.9zM325.1 103.4h0.9v0.9h-0.9zM333.3 99.1h0.9v0.9h-0.9zM324.9 112.5h0.9v0.9h-0.9zM330.8 100.6h0.9v0.9h-0.9zM330.9 114.4h0.9v0.9h-0.9zM337.0 110.3h0.9v0.9h-0.9zM326.1 97.5h0.9v0.9h-0.9zM330.0 107.3h0.9v0.9h-0.9zM333.9 105.7h0.9v0.9h-0.9zM324.0 96.0h0.9v0.9h-0.9zM329.2 105.7h0.9v0.9h-0.9zM325.3 102.5h0.9v0.9h-0.9zM326.1 104.5h0.9v0.9h-0.9zM332.3 99.1h0.9v0.9h-0.9zM332.4 102.7h0.9v0.9h-0.9zM340.8 104.8h0.9v0.9h-0.9zM335.4 102.1h0.9v0.9h-0.9zM335.0 100.2h0.9v0.9h-0.9zM328.5 102.2h0.9v0.9h-0.9zM327.9 98.5h0.9v0.9h-0.9zM329.8 104.5h0.9v0.9h-0.9zM319.0 91.4h0.9v0.9h-0.9zM336.7 109.7h0.9v0.9h-0.9zM326.2 103.2h0.9v0.9h-0.9zM324.4 105.1h0.9v0.9h-0.9zM327.1 106.8h0.9v0.9h-0.9zM333.1 97.3h0.9v0.9h-0.9zM334.8 113.2h0.9v0.9h-0.9zM327.5 97.9h0.9v0.9h-0.9zM331.1 105.0h0.9v0.9h-0.9zM328.9 104.4h0.9v0.9h-0.9zM324.7 108.8h0.9v0.9h-0.9zM329.9 102.9h0.9v0.9h-0.9zM329.3 96.6h0.9v0.9h-0.9zM322.2 104.4h0.9v0.9h-0.9zM334.1 91.8h0.9v0.9h-0.9zM322.1 102.0h0.9v0.9h-0.9zM330.2 100.8h0.9v0.9h-0.9zM324.4 109.9h0.9v0.9h-0.9zM325.5 101.6h0.9v0.9h-0.9zM326.0 100.9h0.9v0.9h-0.9zM332.3 99.5h0.9v0.9h-0.9zM323.5 99.0h0.9v0.9h-0.9z" fill="#000" fill-opacity="0.6"/>
<path d="M321.8 106.1h0.9v0.9h-0.9zM317.1 95.2h0.9v0.9h-0.9zM326.8 102.6h0.9v0.9h-0.9zM332.8 115.3h0.9v0.9h-0.9zM339.2 106.8h0.9v0.9h-0.9zM330.0 103.4h0.9v0.9h-0.9zM324.0 103.5h0.9v0.9h-0.9zM321.9 108.1h0.9v0.9h-0.9zM335.7 109.4h0.9v0.9h-0.9zM343.7 93.8h0.9v0.9h-0.9zM331.5 104.3h0.9v0.9h-0.9zM317.9 115.0h0.9v0.9h-0.9zM320.4 108.3h0.9v0.9h-0.9zM343.4 97.6h0.9v0.9h-0.9zM330.8 98.2h0.9v0.9h-0.9zM313.4 88.6h0.9v0.9h-0.9zM328.2 97.4h0.9v0.9h-0.9zM318.5 114.2h0.9v0.9h-0.9zM323.3 102.5h0.9v0.9h-0.9zM324.6 97.0h0.9v0.9h-0.9zM322.6 99.0h0.9v0.9h-0.9zM334.0 102.2h0.9v0.9h-0.9zM328.4 102.3h0.9v0.9h-0.9zM323.7 100.5h0.9v0.9h-0.9zM332.7 97.6h0.9v0.9h-0.9zM336.5 107.5h0.9v0.9h-0.9zM314.2 113.8h0.9v0.9h-0.9zM326.7 99.0h0.9v0.9h-0.9zM320.2 99.2h0.9v0.9h-0.9zM327.4 111.3h0.9v0.9h-0.9zM317.4 92.8h0.9v0.9h-0.9zM329.2 98.9h0.9v0.9h-0.9zM328.7 100.4h0.9v0.9h-0.9zM326.3 104.2h0.9v0.9h-0.9zM319.6 101.1h0.9v0.9h-0.9zM325.4 96.8h0.9v0.9h-0.9zM319.2 105.2h0.9v0.9h-0.9zM316.8 94.7h0.9v0.9h-0.9zM331.0 90.8h0.9v0.9h-0.9zM319.0 88.8h0.9v0.9h-0.9zM339.5 108.2h0.9v0.9h-0.9zM335.4 90.8h0.9v0.9h-0.9zM311.0 106.1h0.9v0.9h-0.9zM331.4 107.7h0.9v0.9h-0.9zM319.1 108.6h0.9v0.9h-0.9zM329.3 101.8h0.9v0.9h-0.9zM329.4 99.2h0.9v0.9h-0.9zM311.1 103.6h0.9v0.9h-0.9zM326.9 98.8h0.9v0.9h-0.9zM326.7 94.0h0.9v0.9h-0.9zM337.7 111.8h0.9v0.9h-0.9zM318.4 96.7h0.9v0.9h-0.9zM335.6 115.6h0.9v0.9h-0.9zM319.1 106.6h0.9v0.9h-0.9zM326.0 99.8h0.9v0.9h-0.9zM321.4 106.1h0.9v0.9h-0.9zM342.0 111.6h0.9v0.9h-0.9zM334.1 93.4h0.9v0.9h-0.9zM350.9 96.5h0.9v0.9h-0.9zM334.8 95.7h0.9v0.9h-0.9zM336.6 104.2h0.9v0.9h-0.9zM336.6 105.8h0.9v0.9h-0.9zM323.5 103.2h0.9v0.9h-0.9zM328.4 97.9h0.9v0.9h-0.9zM341.2 99.3h0.9v0.9h-0.9zM325.4 111.3h0.9v0.9h-0.9zM330.7 110.8h0.9v0.9h-0.9zM328.8 103.9h0.9v0.9h-0.9zM334.5 93.8h0.9v0.9h-0.9zM325.7 107.4h0.9v0.9h-0.9zM327.6 105.0h0.9v0.9h-0.9zM331.2 104.8h0.9v0.9h-0.9zM329.9 115.1h0.9v0.9h-0.9zM321.2 108.7h0.9v0.9h-0.9zM337.1 96.2h0.9v0.9h-0.9zM317.3 96.2h0.9v0.9h-0.9zM318.2 112.7h0.9v0.9h-0.9zM317.5 104.4h0.9v0.9h-0.9zM337.7 109.2h0.9v0.9h-0.9zM325.8 102.3h0.9v0.9h-0.9zM320.3 96.4h0.9v0.9h-0.9zM318.8 105.3h0.9v0.9h-0.9zM332.8 114.3h0.9v0.9h-0.9zM319.5 105.8h0.9v0.9h-0.9zM317.6 95.5h0.9v0.9h-0.9zM334.5 101.3h0.9v0.9h-0.9zM318.2 100.0h0.9v0.9h-0.9zM326.1 104.7h0.9v0.9h-0.9zM328.9 110.7h0.9v0.9h-0.9zM325.0 117.4h0.9v0.9h-0.9zM328.5 105.2h0.9v0.9h-0.9zM341.0 100.6h0.9v0.9h-0.9zM324.3 104.2h0.9v0.9h-0.9zM317.7 103.8h0.9v0.9h-0.9zM312.5 100.7h0.9v0.9h-0.9zM327.2 103.8h0.9v0.9h-0.9zM325.8 103.7h0.9v0.9h-0.9zM331.4 95.4h0.9v0.9h-0.9zM324.8 107.5h0.9v0.9h-0.9zM324.7 101.1h0.9v0.9h-0.9zM322.5 96.8h0.9v0.9h-0.9zM324.3 107.1h0.9v0.9h-0.9zM330.4 100.3h0.9v0.9h-0.9zM325.6 115.9h0.9v0.9h-0.9zM329.9 107.0h0.9v0.9h-0.9zM346.1 104.2h0.9v0.9h-0.9zM333.3 98.3h0.9v0.9h-0.9zM314.8 100.8h0.9v0.9h-0.9zM344.6 109.5h0.9v0.9h-0.9zM332.1 98.8h0.9v0.9h-0.9zM320.5 108.9h0.9v0.9h-0.9zM337.2 88.9h0.9v0.9h-0.9zM329.2 105.0h0.9v0.9h-0.9zM323.5 109.3h0.9v0.9h-0.9zM323.3 105.9h0.9v0.9h-0.9zM320.1 103.5h0.9v0.9h-0.9zM329.4 110.6h0.9v0.9h-0.9zM338.6 97.5h0.9v0.9h-0.9zM326.1 96.6h0.9v0.9h-0.9zM332.8 104.3h0.9v0.9h-0.9zM345.9 111.9h0.9v0.9h-0.9zM318.1 106.5h0.9v0.9h-0.9zM331.3 102.2h0.9v0.9h-0.9zM326.2 105.6h0.9v0.9h-0.9zM319.5 106.6h0.9v0.9h-0.9zM319.8 94.8h0.9v0.9h-0.9zM328.9 83.8h0.9v0.9h-0.9zM332.9 96.3h0.9v0.9h-0.9zM324.2 93.1h0.9v0.9h-0.9zM329.5 99.5h0.9v0.9h-0.9zM335.5 95.1h0.9v0.9h-0.9zM331.7 97.5h0.9v0.9h-0.9zM336.8 106.6h0.9v0.9h-0.9zM333.2 104.2h0.9v0.9h-0.9zM333.4 103.4h0.9v0.9h-0.9zM345.4 115.2h0.9v0.9h-0.9zM334.6 100.4h0.9v0.9h-0.9zM330.2 100.9h0.9v0.9h-0.9zM335.4 112.5h0.9v0.9h-0.9zM320.7 95.8h0.9v0.9h-0.9zM326.0 92.2h0.9v0.9h-0.9zM336.1 112.8h0.9v0.9h-0.9zM334.7 106.0h0.9v0.9h-0.9zM342.9 107.9h0.9v0.9h-0.9zM329.1 108.1h0.9v0.9h-0.9zM315.8 110.0h0.9v0.9h-0.9zM346.5 100.4h0.9v0.9h-0.9zM338.8 103.2h0.9v0.9h-0.9zM319.5 95.9h0.9v0.9h-0.9zM341.4 104.7h0.9v0.9h-0.9zM329.3 105.4h0.9v0.9h-0.9zM312.7 100.6h0.9v0.9h-0.9zM325.2 108.4h0.9v0.9h-0.9zM324.4 124.5h0.9v0.9h-0.9zM343.3 95.7h0.9v0.9h-0.9zM321.9 109.6h0.9v0.9h-0.9zM326.7 110.4h0.9v0.9h-0.9zM326.5 111.3h0.9v0.9h-0.9zM325.6 98.2h0.9v0.9h-0.9zM320.8 112.2h0.9v0.9h-0.9zM331.0 108.5h0.9v0.9h-0.9zM338.7 103.0h0.9v0.9h-0.9zM334.6 101.5h0.9v0.9h-0.9zM320.7 105.7h0.9v0.9h-0.9zM318.7 110.5h0.9v0.9h-0.9zM330.1 110.2h0.9v0.9h-0.9zM322.6 120.0h0.9v0.9h-0.9zM323.3 101.6h0.9v0.9h-0.9zM313.9 108.4h0.9v0.9h-0.9zM346.6 101.1h0.9v0.9h-0.9zM337.2 109.6h0.9v0.9h-0.9zM320.2 105.0h0.9v0.9h-0.9zM337.2 99.9h0.9v0.9h-0.9zM341.1 94.8h0.9v0.9h-0.9zM307.5 98.7h0.9v0.9h-0.9zM324.1 105.8h0.9v0.9h-0.9zM325.5 114.4h0.9v0.9h-0.9zM334.8 109.5h0.9v0.9h-0.9zM327.9 95.7h0.9v0.9h-0.9zM326.9 100.7h0.9v0.9h-0.9zM328.5 104.3h0.9v0.9h-0.9zM345.7 103.1h0.9v0.9h-0.9zM348.4 104.3h0.9v0.9h-0.9zM324.3 109.2h0.9v0.9h-0.9zM320.7 105.2h0.9v0.9h-0.9zM353.2 98.8h0.9v0.9h-0.9zM320.2 90.1h0.9v0.9h-0.9zM323.8 101.1h0.9v0.9h-0.9zM329.3 91.7h0.9v0.9h-0.9zM333.3 102.3h0.9v0.9h-0.9zM338.3 105.5h0.9v0.9h-0.9zM332.5 93.9h0.9v0.9h-0.9zM321.1 102.2h0.9v0.9h-0.9zM333.6 100.7h0.9v0.9h-0.9zM331.2 116.3h0.9v0.9h-0.9zM345.9 106.1h0.9v0.9h-0.9zM328.9 89.7h0.9v0.9h-0.9zM317.0 105.9h0.9v0.9h-0.9zM319.6 105.7h0.9v0.9h-0.9zM342.1 101.4h0.9v0.9h-0.9zM324.1 100.1h0.9v0.9h-0.9zM310.1 106.9h0.9v0.9h-0.9zM323.8 107.3h0.9v0.9h-0.9zM329.0 105.7h0.9v0.9h-0.9zM339.7 95.6h0.9v0.9h-0.9zM319.9 100.8h0.9v0.9h-0.9zM335.0 91.6h0.9v0.9h-0.9zM336.2 92.0h0.9v0.9h-0.9zM322.7 98.6h0.9v0.9h-0.9zM327.3 95.1h0.9v0.9h-0.9zM344.9 99.5h0.9v0.9h-0.9zM344.5 119.7h0.9v0.9h-0.9zM336.7 105.8h0.9v0.9h-0.9zM332.0 96.1h0.9v0.9h-0.9zM339.2 87.2h0.9v0.9h-0.9zM327.7 96.4h0.9v0.9h-0.9zM328.1 92.2h0.9v0.9h-0.9zM321.3 86.8h0.9v0.9h-0.9zM329.1 107.2h0.9v0.9h-0.9zM328.3 98.8h0.9v0.9h-0.9zM354.0 105.2h0.9v0.9h-0.9zM327.3 123.8h0.9v0.9h-0.9zM340.4 104.0h0.9v0.9h-0.9zM340.9 102.9h0.9v0.9h-0.9zM327.3 104.6h0.9v0.9h-0.9zM339.5 100.3h0.9v0.9h-0.9zM309.4 96.3h0.9v0.9h-0.9zM329.9 100.6h0.9v0.9h-0.9zM336.7 110.1h0.9v0.9h-0.9zM307.4 100.2h0.9v0.9h-0.9zM318.6 92.6h0.9v0.9h-0.9zM338.5 93.4h0.9v0.9h-0.9zM326.7 95.0h0.9v0.9h-0.9zM319.1 102.2h0.9v0.9h-0.9zM325.6 105.6h0.9v0.9h-0.9zM324.1 105.6h0.9v0.9h-0.9zM335.5 110.6h0.9v0.9h-0.9zM333.1 100.9h0.9v0.9h-0.9zM326.5 108.2h0.9v0.9h-0.9zM323.0 104.7h0.9v0.9h-0.9zM328.5 107.4h0.9v0.9h-0.9zM340.9 89.6h0.9v0.9h-0.9zM332.1 111.3h0.9v0.9h-0.9zM334.8 91.8h0.9v0.9h-0.9zM327.6 94.7h0.9v0.9h-0.9zM317.4 108.1h0.9v0.9h-0.9zM322.6 100.0h0.9v0.9h-0.9zM334.9 115.1h0.9v0.9h-0.9zM329.9 103.9h0.9v0.9h-0.9zM320.9 95.6h0.9v0.9h-0.9zM314.4 103.9h0.9v0.9h-0.9zM330.0 100.0h0.9v0.9h-0.9zM325.9 113.7h0.9v0.9h-0.9zM325.8 114.3h0.9v0.9h-0.9zM326.0 108.0h0.9v0.9h-0.9zM331.6 100.0h0.9v0.9h-0.9zM331.7 103.5h0.9v0.9h-0.9zM337.7 110.2h0.9v0.9h-0.9zM337.4 97.3h0.9v0.9h-0.9zM341.0 97.4h0.9v0.9h-0.9zM336.3 108.9h0.9v0.9h-0.9zM326.0 108.1h0.9v0.9h-0.9zM328.5 101.3h0.9v0.9h-0.9zM333.4 101.1h0.9v0.9h-0.9zM326.2 89.3h0.9v0.9h-0.9zM333.9 111.2h0.9v0.9h-0.9zM339.4 102.1h0.9v0.9h-0.9zM321.8 92.9h0.9v0.9h-0.9zM313.1 95.1h0.9v0.9h-0.9zM339.7 96.7h0.9v0.9h-0.9zM329.2 114.9h0.9v0.9h-0.9zM335.4 107.8h0.9v0.9h-0.9zM317.0 93.6h0.9v0.9h-0.9zM344.6 116.0h0.9v0.9h-0.9zM335.6 112.3h0.9v0.9h-0.9zM327.9 95.6h0.9v0.9h-0.9zM325.8 84.4h0.9v0.9h-0.9zM330.0 109.7h0.9v0.9h-0.9zM327.5 98.8h0.9v0.9h-0.9zM326.5 102.0h0.9v0.9h-0.9zM318.9 99.3h0.9v0.9h-0.9zM340.4 111.8h0.9v0.9h-0.9zM328.6 113.4h0.9v0.9h-0.9zM329.7 108.7h0.9v0.9h-0.9zM329.8 101.9h0.9v0.9h-0.9zM307.8 104.8h0.9v0.9h-0.9zM333.7 107.3h0.9v0.9h-0.9zM326.0 92.0h0.9v0.9h-0.9zM326.4 111.7h0.9v0.9h-0.9zM329.6 100.8h0.9v0.9h-0.9zM320.2 104.8h0.9v0.9h-0.9zM336.6 104.0h0.9v0.9h-0.9zM322.7 109.4h0.9v0.9h-0.9zM320.9 110.5h0.9v0.9h-0.9zM321.2 118.5h0.9v0.9h-0.9zM330.4 100.6h0.9v0.9h-0.9zM335.7 96.7h0.9v0.9h-0.9zM323.6 104.0h0.9v0.9h-0.9zM315.4 98.5h0.9v0.9h-0.9zM338.6 109.1h0.9v0.9h-0.9zM319.4 97.5h0.9v0.9h-0.9zM339.8 104.1h0.9v0.9h-0.9zM328.5 109.7h0.9v0.9h-0.9zM322.7 110.2h0.9v0.9h-0.9zM323.2 104.6h0.9v0.9h-0.9zM333.2 113.0h0.9v0.9h-0.9zM337.0 112.2h0.9v0.9h-0.9zM327.2 91.3h0.9v0.9h-0.9zM337.5 105.7h0.9v0.9h-0.9zM347.8 104.5h0.9v0.9h-0.9zM327.1 101.1h0.9v0.9h-0.9zM318.7 98.7h0.9v0.9h-0.9zM319.5 103.5h0.9v0.9h-0.9zM316.5 105.9h0.9v0.9h-0.9zM323.2 105.2h0.9v0.9h-0.9zM322.5 112.8h0.9v0.9h-0.9zM317.1 110.2h0.9v0.9h-0.9zM333.8 99.1h0.9v0.9h-0.9zM305.5 97.9h0.9v0.9h-0.9zM317.1 109.2h0.9v0.9h-0.9zM347.1 98.4h0.9v0.9h-0.9zM338.3 104.4h0.9v0.9h-0.9zM333.7 106.6h0.9v0.9h-0.9zM333.1 110.5h0.9v0.9h-0.9zM344.9 106.9h0.9v0.9h-0.9zM333.8 113.4h0.9v0.9h-0.9zM329.7 100.1h0.9v0.9h-0.9zM317.9 108.0h0.9v0.9h-0.9zM328.3 98.7h0.9v0.9h-0.9zM322.4 104.6h0.9v0.9h-0.9zM322.6 104.2h0.9v0.9h-0.9zM322.6 96.8h0.9v0.9h-0.9zM328.6 85.1h0.9v0.9h-0.9zM326.0 110.0h0.9v0.9h-0.9zM336.8 105.8h0.9v0.9h-0.9zM317.1 104.3h0.9v0.9h-0.9zM327.5 98.4h0.9v0.9h-0.9zM345.7 101.0h0.9v0.9h-0.9zM329.4 106.5h0.9v0.9h-0.9zM339.8 103.4h0.9v0.9h-0.9zM339.2 111.4h0.9v0.9h-0.9zM340.8 104.1h0.9v0.9h-0.9zM335.6 97.5h0.9v0.9h-0.9zM316.6 107.6h0.9v0.9h-0.9zM326.6 98.8h0.9v0.9h-0.9zM325.6 104.8h0.9v0.9h-0.9zM315.1 90.6h0.9v0.9h-0.9zM324.8 100.8h0.9v0.9h-0.9zM317.7 107.2h0.9v0.9h-0.9zM314.0 98.7h0.9v0.9h-0.9zM330.9 103.0h0.9v0.9h-0.9zM328.6 107.4h0.9v0.9h-0.9zM322.8 103.7h0.9v0.9h-0.9zM320.4 115.7h0.9v0.9h-0.9zM324.1 101.4h0.9v0.9h-0.9zM325.5 101.9h0.9v0.9h-0.9zM325.3 102.1h0.9v0.9h-0.9zM328.5 89.4h0.9v0.9h-0.9zM325.1 92.5h0.9v0.9h-0.9zM332.5 106.9h0.9v0.9h-0.9zM333.7 100.9h0.9v0.9h-0.9zM332.2 112.9h0.9v0.9h-0.9zM323.0 102.6h0.9v0.9h-0.9zM323.5 102.0h0.9v0.9h-0.9zM332.9 110.4h0.9v0.9h-0.9zM327.2 105.1h0.9v0.9h-0.9zM328.6 114.4h0.9v0.9h-0.9zM306.6 95.8h0.9v0.9h-0.9zM304.7 106.3h0.9v0.9h-0.9zM332.0 108.0h0.9v0.9h-0.9zM332.0 107.1h0.9v0.9h-0.9zM341.5 111.3h0.9v0.9h-0.9zM335.5 110.4h0.9v0.9h-0.9zM331.0 103.5h0.9v0.9h-0.9zM329.1 99.3h0.9v0.9h-0.9zM316.2 110.1h0.9v0.9h-0.9zM336.9 103.7h0.9v0.9h-0.9zM323.6 110.0h0.9v0.9h-0.9zM333.5 112.8h0.9v0.9h-0.9zM330.8 104.8h0.9v0.9h-0.9zM331.4 97.1h0.9v0.9h-0.9zM337.0 101.7h0.9v0.9h-0.9zM324.6 109.0h0.9v0.9h-0.9zM325.5 101.9h0.9v0.9h-0.9zM321.3 111.8h0.9v0.9h-0.9zM325.6 103.9h0.9v0.9h-0.9zM344.0 104.5h0.9v0.9h-0.9zM325.7 99.2h0.9v0.9h-0.9zM339.7 102.9h0.9v0.9h-0.9zM336.4 111.3h0.9v0.9h-0.9zM335.6 101.2h0.9v0.9h-0.9zM336.2 101.3h0.9v0.9h-0.9zM319.9 98.2h0.9v0.9h-0.9zM332.4 109.1h0.9v0.9h-0.9zM343.3 92.9h0.9v0.9h-0.9zM322.7 99.0h0.9v0.9h-0.9zM328.6 109.9h0.9v0.9h-0.9zM322.8 113.5h0.9v0.9h-0.9zM331.9 102.0h0.9v0.9h-0.9zM319.3 110.2h0.9v0.9h-0.9zM343.5 89.6h0.9v0.9h-0.9zM325.6 108.8h0.9v0.9h-0.9zM315.1 105.5h0.9v0.9h-0.9zM345.1 94.9h0.9v0.9h-0.9zM337.7 91.0h0.9v0.9h-0.9zM333.7 99.9h0.9v0.9h-0.9zM333.8 105.2h0.9v0.9h-0.9zM325.8 106.0h0.9v0.9h-0.9zM327.0 104.2h0.9v0.9h-0.9zM335.5 108.8h0.9v0.9h-0.9zM337.3 108.3h0.9v0.9h-0.9zM337.4 93.7h0.9v0.9h-0.9zM330.9 100.7h0.9v0.9h-0.9zM324.8 99.8h0.9v0.9h-0.9zM327.3 110.6h0.9v0.9h-0.9zM339.0 99.9h0.9v0.9h-0.9zM342.0 110.4h0.9v0.9h-0.9zM325.9 104.0h0.9v0.9h-0.9zM324.7 119.8h0.9v0.9h-0.9zM340.2 103.0h0.9v0.9h-0.9zM335.5 103.4h0.9v0.9h-0.9zM335.3 102.6h0.9v0.9h-0.9zM317.2 104.4h0.9v0.9h-0.9zM325.6 120.4h0.9v0.9h-0.9zM324.4 99.9h0.9v0.9h-0.9zM330.9 97.3h0.9v0.9h-0.9zM313.8 102.0h0.9v0.9h-0.9zM340.4 108.1h0.9v0.9h-0.9zM331.7 96.4h0.9v0.9h-0.9zM332.9 108.9h0.9v0.9h-0.9zM318.3 108.7h0.9v0.9h-0.9zM328.8 102.2h0.9v0.9h-0.9zM341.0 101.6h0.9v0.9h-0.9zM314.9 97.8h0.9v0.9h-0.9zM331.8 101.4h0.9v0.9h-0.9zM335.3 97.7h0.9v0.9h-0.9zM322.8 112.0h0.9v0.9h-0.9zM336.3 114.7h0.9v0.9h-0.9zM326.0 101.3h0.9v0.9h-0.9zM340.1 103.0h0.9v0.9h-0.9zM333.7 90.0h0.9v0.9h-0.9zM331.0 99.6h0.9v0.9h-0.9zM347.1 105.6h0.9v0.9h-0.9zM336.5 105.2h0.9v0.9h-0.9zM340.8 104.1h0.9v0.9h-0.9zM318.3 109.2h0.9v0.9h-0.9zM323.2 103.9h0.9v0.9h-0.9zM336.5 100.5h0.9v0.9h-0.9zM337.2 114.4h0.9v0.9h-0.9zM328.5 89.8h0.9v0.9h-0.9zM336.0 95.1h0.9v0.9h-0.9zM319.5 98.1h0.9v0.9h-0.9zM330.9 98.1h0.9v0.9h-0.9zM318.7 97.8h0.9v0.9h-0.9zM332.1 101.6h0.9v0.9h-0.9zM324.6 98.2h0.9v0.9h-0.9zM323.2 102.8h0.9v0.9h-0.9zM329.5 107.3h0.9v0.9h-0.9zM345.4 103.3h0.9v0.9h-0.9zM319.9 104.0h0.9v0.9h-0.9zM323.6 96.6h0.9v0.9h-0.9zM338.6 95.2h0.9v0.9h-0.9zM325.2 101.1h0.9v0.9h-0.9zM344.9 109.6h0.9v0.9h-0.9zM331.0 105.7h0.9v0.9h-0.9zM329.8 110.7h0.9v0.9h-0.9zM332.2 110.0h0.9v0.9h-0.9zM344.7 110.9h0.9v0.9h-0.9zM334.9 97.4h0.9v0.9h-0.9zM333.7 111.7h0.9v0.9h-0.9zM331.3 108.4h0.9v0.9h-0.9zM314.9 117.5h0.9v0.9h-0.9zM321.0 107.2h0.9v0.9h-0.9zM342.4 105.3h0.9v0.9h-0.9zM336.4 102.2h0.9v0.9h-0.9zM333.6 104.2h0.9v0.9h-0.9zM334.7 91.6h0.9v0.9h-0.9zM324.1 101.3h0.9v0.9h-0.9zM332.0 102.8h0.9v0.9h-0.9zM320.9 110.0h0.9v0.9h-0.9zM332.5 98.5h0.9v0.9h-0.9zM322.6 104.0h0.9v0.9h-0.9zM327.1 115.8h0.9v0.9h-0.9zM333.1 99.4h0.9v0.9h-0.9zM326.1 108.9h0.9v0.9h-0.9zM334.8 99.4h0.9v0.9h-0.9zM333.1 102.4h0.9v0.9h-0.9zM332.2 106.3h0.9v0.9h-0.9zM340.9 109.2h0.9v0.9h-0.9zM315.7 99.7h0.9v0.9h-0.9zM314.6 96.0h0.9v0.9h-0.9zM334.5 113.6h0.9v0.9h-0.9zM337.5 104.4h0.9v0.9h-0.9zM347.1 108.6h0.9v0.9h-0.9zM335.8 109.4h0.9v0.9h-0.9zM336.5 108.4h0.9v0.9h-0.9zM321.1 101.3h0.9v0.9h-0.9zM335.8 102.1h0.9v0.9h-0.9zM335.1 92.3h0.9v0.9h-0.9zM319.5 104.3h0.9v0.9h-0.9zM320.9 99.8h0.9v0.9h-0.9zM328.0 102.9h0.9v0.9h-0.9zM331.6 116.0h0.9v0.9h-0.9zM329.6 103.5h0.9v0.9h-0.9zM331.1 93.7h0.9v0.9h-0.9zM327.4 108.1h0.9v0.9h-0.9zM331.4 113.6h0.9v0.9h-0.9zM333.1 97.4h0.9v0.9h-0.9zM319.9 106.0h0.9v0.9h-0.9zM332.7 99.5h0.9v0.9h-0.9zM326.7 102.0h0.9v0.9h-0.9zM320.5 100.6h0.9v0.9h-0.9zM330.9 92.0h0.9v0.9h-0.9zM342.4 99.5h0.9v0.9h-0.9zM315.9 91.9h0.9v0.9h-0.9zM314.1 112.6h0.9v0.9h-0.9zM314.1 110.3h0.9v0.9h-0.9zM346.8 103.4h0.9v0.9h-0.9zM326.7 105.0h0.9v0.9h-0.9zM328.5 103.5h0.9v0.9h-0.9zM321.9 104.5h0.9v0.9h-0.9zM320.5 104.4h0.9v0.9h-0.9zM310.8 101.4h0.9v0.9h-0.9zM330.5 101.9h0.9v0.9h-0.9zM331.3 93.8h0.9v0.9h-0.9zM311.2 96.2h0.9v0.9h-0.9zM319.6 98.9h0.9v0.9h-0.9zM322.3 104.5h0.9v0.9h-0.9zM328.8 100.5h0.9v0.9h-0.9zM331.2 116.2h0.9v0.9h-0.9zM339.1 101.8h0.9v0.9h-0.9zM341.3 100.6h0.9v0.9h-0.9zM338.6 106.1h0.9v0.9h-0.9zM341.1 110.2h0.9v0.9h-0.9zM318.5 115.8h0.9v0.9h-0.9zM324.0 109.8h0.9v0.9h-0.9zM339.3 99.1h0.9v0.9h-0.9zM331.6 101.9h0.9v0.9h-0.9zM329.2 110.3h0.9v0.9h-0.9zM311.2 104.9h0.9v0.9h-0.9zM312.3 108.6h0.9v0.9h-0.9zM335.6 102.6h0.9v0.9h-0.9zM332.1 114.1h0.9v0.9h-0.9zM326.3 113.1h0.9v0.9h-0.9zM325.3 110.9h0.9v0.9h-0.9zM313.5 104.2h0.9v0.9h-0.9zM332.3 92.1h0.9v0.9h-0.9zM338.3 93.9h0.9v0.9h-0.9zM343.8 105.4h0.9v0.9h-0.9zM329.4 107.6h0.9v0.9h-0.9zM327.2 83.2h0.9v0.9h-0.9zM319.1 99.9h0.9v0.9h-0.9zM340.0 111.1h0.9v0.9h-0.9zM344.4 109.7h0.9v0.9h-0.9zM323.5 99.8h0.9v0.9h-0.9zM331.6 107.6h0.9v0.9h-0.9zM329.8 103.4h0.9v0.9h-0.9zM323.8 101.7h0.9v0.9h-0.9zM306.5 110.9h0.9v0.9h-0.9zM325.7 111.0h0.9v0.9h-0.9zM334.5 99.6h0.9v0.9h-0.9zM316.0 96.7h0.9v0.9h-0.9zM321.5 94.3h0.9v0.9h-0.9zM340.6 112.3h0.9v0.9h-0.9zM333.5 116.1h0.9v0.9h-0.9zM329.4 104.7h0.9v0.9h-0.9zM326.6 110.4h0.9v0.9h-0.9zM323.3 98.6h0.9v0.9h-0.9zM328.3 102.8h0.9v0.9h-0.9zM326.2 109.5h0.9v0.9h-0.9zM326.8 105.4h0.9v0.9h-0.9zM328.7 103.0h0.9v0.9h-0.9zM330.1 91.9h0.9v0.9h-0.9zM342.9 93.3h0.9v0.9h-0.9zM316.0 100.4h0.9v0.9h-0.9zM331.4 99.5h0.9v0.9h-0.9zM323.4 102.8h0.9v0.9h-0.9zM318.7 98.9h0.9v0.9h-0.9zM307.7 101.8h0.9v0.9h-0.9zM334.5 103.7h0.9v0.9h-0.9zM320.1 106.8h0.9v0.9h-0.9zM322.2 103.7h0.9v0.9h-0.9zM333.1 99.5h0.9v0.9h-0.9zM319.2 101.4h0.9v0.9h-0.9zM329.1 109.4h0.9v0.9h-0.9zM328.2 101.9h0.9v0.9h-0.9zM336.1 96.7h0.9v0.9h-0.9zM338.0 96.4h0.9v0.9h-0.9zM321.1 105.2h0.9v0.9h-0.9zM337.2 107.1h0.9v0.9h-0.9zM328.0 111.6h0.9v0.9h-0.9zM330.0 101.0h0.9v0.9h-0.9zM327.0 112.6h0.9v0.9h-0.9zM335.9 100.9h0.9v0.9h-0.9zM318.0 101.6h0.9v0.9h-0.9zM331.3 99.3h0.9v0.9h-0.9zM339.5 106.8h0.9v0.9h-0.9zM326.4 110.4h0.9v0.9h-0.9zM347.2 103.0h0.9v0.9h-0.9zM322.3 99.8h0.9v0.9h-0.9zM330.8 92.7h0.9v0.9h-0.9zM324.6 104.2h0.9v0.9h-0.9zM323.3 100.9h0.9v0.9h-0.9zM318.9 101.8h0.9v0.9h-0.9zM324.0 98.9h0.9v0.9h-0.9zM328.4 97.2h0.9v0.9h-0.9zM321.7 100.3h0.9v0.9h-0.9zM336.9 106.2h0.9v0.9h-0.9zM342.6 109.7h0.9v0.9h-0.9zM315.1 103.1h0.9v0.9h-0.9zM336.4 105.4h0.9v0.9h-0.9zM330.6 101.8h0.9v0.9h-0.9zM331.1 102.3h0.9v0.9h-0.9zM351.1 93.9h0.9v0.9h-0.9zM339.7 109.1h0.9v0.9h-0.9zM331.9 107.2h0.9v0.9h-0.9zM330.6 113.0h0.9v0.9h-0.9zM309.5 99.0h0.9v0.9h-0.9zM336.0 104.0h0.9v0.9h-0.9zM322.3 96.9h0.9v0.9h-0.9zM330.6 104.8h0.9v0.9h-0.9zM329.9 102.3h0.9v0.9h-0.9zM337.6 107.7h0.9v0.9h-0.9zM347.3 102.2h0.9v0.9h-0.9zM337.9 107.5h0.9v0.9h-0.9zM340.5 99.8h0.9v0.9h-0.9zM326.9 107.2h0.9v0.9h-0.9zM333.1 101.1h0.9v0.9h-0.9zM335.9 100.2h0.9v0.9h-0.9zM316.0 103.7h0.9v0.9h-0.9zM347.4 105.7h0.9v0.9h-0.9zM322.6 93.6h0.9v0.9h-0.9zM317.5 92.9h0.9v0.9h-0.9zM343.7 104.4h0.9v0.9h-0.9zM348.1 102.8h0.9v0.9h-0.9zM322.7 89.4h0.9v0.9h-0.9zM323.5 91.6h0.9v0.9h-0.9zM357.0 98.0h0.9v0.9h-0.9zM330.0 105.3h0.9v0.9h-0.9zM311.1 104.5h0.9v0.9h-0.9zM323.5 110.0h0.9v0.9h-0.9zM347.0 111.1h0.9v0.9h-0.9zM334.9 119.2h0.9v0.9h-0.9zM335.8 93.4h0.9v0.9h-0.9zM340.0 102.9h0.9v0.9h-0.9zM335.1 110.4h0.9v0.9h-0.9zM326.0 94.7h0.9v0.9h-0.9zM314.7 93.6h0.9v0.9h-0.9z" fill="#000" fill-opacity="0.45"/>
<path d="M355.4 100.4h0.9v0.9h-0.9zM350.5 97.8h0.9v0.9h-0.9zM340.2 107.1h0.9v0.9h-0.9zM344.7 102.5h0.9v0.9h-0.9zM344.3 111.4h0.9v0.9h-0.9zM360.2 101.3h0.9v0.9h-0.9zM340.3 93.7h0.9v0.9h-0.9zM354.3 94.8h0.9v0.9h-0.9zM346.7 107.4h0.9v0.9h-0.9zM352.1 94.3h0.9v0.9h-0.9zM346.0 101.2h0.9v0.9h-0.9zM348.4 113.1h0.9v0.9h-0.9zM348.9 100.2h0.9v0.9h-0.9zM346.7 95.0h0.9v0.9h-0.9zM349.9 105.5h0.9v0.9h-0.9zM348.1 102.6h0.9v0.9h-0.9zM353.4 93.1h0.9v0.9h-0.9zM356.8 104.9h0.9v0.9h-0.9zM345.5 101.4h0.9v0.9h-0.9zM344.9 104.5h0.9v0.9h-0.9zM348.5 96.4h0.9v0.9h-0.9zM336.1 107.1h0.9v0.9h-0.9zM347.8 97.2h0.9v0.9h-0.9zM342.9 107.7h0.9v0.9h-0.9zM341.1 93.6h0.9v0.9h-0.9zM336.5 102.1h0.9v0.9h-0.9zM344.7 102.3h0.9v0.9h-0.9zM349.1 92.5h0.9v0.9h-0.9zM342.8 88.8h0.9v0.9h-0.9zM340.5 96.0h0.9v0.9h-0.9zM342.6 95.4h0.9v0.9h-0.9zM345.1 96.3h0.9v0.9h-0.9zM339.0 99.3h0.9v0.9h-0.9zM342.8 113.6h0.9v0.9h-0.9zM339.5 101.3h0.9v0.9h-0.9zM345.2 110.0h0.9v0.9h-0.9zM356.5 102.5h0.9v0.9h-0.9zM347.0 106.9h0.9v0.9h-0.9zM358.0 103.7h0.9v0.9h-0.9zM341.8 100.7h0.9v0.9h-0.9zM339.2 103.2h0.9v0.9h-0.9zM344.3 113.4h0.9v0.9h-0.9zM346.5 90.5h0.9v0.9h-0.9zM348.2 101.8h0.9v0.9h-0.9zM348.3 104.1h0.9v0.9h-0.9zM344.1 93.0h0.9v0.9h-0.9zM351.3 103.5h0.9v0.9h-0.9zM345.5 101.4h0.9v0.9h-0.9zM350.2 107.7h0.9v0.9h-0.9zM348.7 104.0h0.9v0.9h-0.9zM347.5 100.2h0.9v0.9h-0.9zM347.3 102.0h0.9v0.9h-0.9zM341.7 87.2h0.9v0.9h-0.9zM349.2 112.3h0.9v0.9h-0.9zM349.5 101.6h0.9v0.9h-0.9zM343.1 91.8h0.9v0.9h-0.9zM361.3 94.2h0.9v0.9h-0.9zM347.0 98.8h0.9v0.9h-0.9zM338.3 96.6h0.9v0.9h-0.9zM336.6 101.1h0.9v0.9h-0.9zM340.9 95.9h0.9v0.9h-0.9zM332.9 103.1h0.9v0.9h-0.9zM348.4 97.1h0.9v0.9h-0.9zM339.6 99.4h0.9v0.9h-0.9zM348.3 91.6h0.9v0.9h-0.9zM337.7 95.3h0.9v0.9h-0.9zM347.3 99.0h0.9v0.9h-0.9zM352.5 94.1h0.9v0.9h-0.9zM349.5 98.2h0.9v0.9h-0.9zM335.6 97.8h0.9v0.9h-0.9z" fill="#000" fill-opacity="0.35"/>
<path d="M337.7 99.1h0.9v0.9h-0.9zM333.0 88.1h0.9v0.9h-0.9zM329.2 124.6h0.9v0.9h-0.9zM336.0 110.4h0.9v0.9h-0.9zM342.7 102.4h0.9v0.9h-0.9zM338.5 118.4h0.9v0.9h-0.9zM341.6 102.6h0.9v0.9h-0.9zM341.6 110.4h0.9v0.9h-0.9zM334.2 89.8h0.9v0.9h-0.9zM322.5 87.1h0.9v0.9h-0.9zM325.7 104.5h0.9v0.9h-0.9zM351.1 136.7h0.9v0.9h-0.9zM321.8 112.5h0.9v0.9h-0.9zM326.8 137.1h0.9v0.9h-0.9zM319.9 116.3h0.9v0.9h-0.9zM322.8 116.3h0.9v0.9h-0.9zM325.7 101.8h0.9v0.9h-0.9zM333.6 109.7h0.9v0.9h-0.9zM325.9 135.1h0.9v0.9h-0.9zM325.0 126.6h0.9v0.9h-0.9zM321.4 101.2h0.9v0.9h-0.9zM331.3 103.4h0.9v0.9h-0.9zM311.2 128.7h0.9v0.9h-0.9zM330.7 102.8h0.9v0.9h-0.9zM348.3 122.9h0.9v0.9h-0.9zM319.3 97.3h0.9v0.9h-0.9zM329.4 118.8h0.9v0.9h-0.9zM369.4 131.4h0.9v0.9h-0.9zM316.1 121.7h0.9v0.9h-0.9zM307.3 113.4h0.9v0.9h-0.9zM324.0 112.0h0.9v0.9h-0.9zM355.3 108.8h0.9v0.9h-0.9zM358.5 109.7h0.9v0.9h-0.9zM313.0 126.5h0.9v0.9h-0.9zM338.0 126.2h0.9v0.9h-0.9zM330.1 115.7h0.9v0.9h-0.9zM321.8 92.4h0.9v0.9h-0.9zM344.3 114.2h0.9v0.9h-0.9zM318.0 110.7h0.9v0.9h-0.9zM334.2 91.1h0.9v0.9h-0.9zM331.1 119.3h0.9v0.9h-0.9zM346.5 92.8h0.9v0.9h-0.9zM313.8 110.9h0.9v0.9h-0.9zM326.3 132.7h0.9v0.9h-0.9zM344.5 104.2h0.9v0.9h-0.9zM311.3 104.3h0.9v0.9h-0.9zM324.5 112.4h0.9v0.9h-0.9zM333.2 117.9h0.9v0.9h-0.9zM307.4 104.2h0.9v0.9h-0.9zM312.7 123.7h0.9v0.9h-0.9zM306.1 83.3h0.9v0.9h-0.9zM334.0 119.2h0.9v0.9h-0.9zM322.1 115.2h0.9v0.9h-0.9zM343.0 107.8h0.9v0.9h-0.9zM331.6 115.4h0.9v0.9h-0.9zM338.0 110.7h0.9v0.9h-0.9zM328.8 128.6h0.9v0.9h-0.9zM340.5 103.5h0.9v0.9h-0.9zM328.6 109.4h0.9v0.9h-0.9zM316.2 90.6h0.9v0.9h-0.9zM346.6 94.3h0.9v0.9h-0.9zM343.7 106.6h0.9v0.9h-0.9zM361.7 88.2h0.9v0.9h-0.9zM328.0 98.1h0.9v0.9h-0.9zM321.9 91.4h0.9v0.9h-0.9zM309.7 103.1h0.9v0.9h-0.9zM311.7 123.2h0.9v0.9h-0.9zM336.8 82.8h0.9v0.9h-0.9zM317.6 107.2h0.9v0.9h-0.9zM338.5 129.3h0.9v0.9h-0.9zM321.7 129.7h0.9v0.9h-0.9zM324.9 89.9h0.9v0.9h-0.9zM324.0 102.8h0.9v0.9h-0.9zM328.1 117.9h0.9v0.9h-0.9zM336.6 123.1h0.9v0.9h-0.9zM305.7 113.9h0.9v0.9h-0.9zM326.8 113.7h0.9v0.9h-0.9zM322.9 113.4h0.9v0.9h-0.9zM345.9 99.3h0.9v0.9h-0.9zM315.5 112.3h0.9v0.9h-0.9zM352.9 121.4h0.9v0.9h-0.9zM338.5 105.3h0.9v0.9h-0.9zM352.7 126.4h0.9v0.9h-0.9zM320.1 70.2h0.9v0.9h-0.9zM341.3 105.4h0.9v0.9h-0.9zM335.1 133.8h0.9v0.9h-0.9zM309.0 122.2h0.9v0.9h-0.9zM326.3 130.2h0.9v0.9h-0.9zM323.7 112.0h0.9v0.9h-0.9zM316.5 93.5h0.9v0.9h-0.9zM319.2 102.9h0.9v0.9h-0.9zM309.8 131.3h0.9v0.9h-0.9zM323.5 84.3h0.9v0.9h-0.9zM334.7 96.6h0.9v0.9h-0.9z" fill="#000" fill-opacity="0.35"/>
<path d="M448.4 99.3h0.9v0.9h-0.9zM453.4 109.5h0.9v0.9h-0.9zM423.1 101.3h0.9v0.9h-0.9zM440.0 103.2h0.9v0.9h-0.9zM448.1 96.4h0.9v0.9h-0.9zM450.5 109.7h0.9v0.9h-0.9zM445.6 102.8h0.9v0.9h-0.9zM451.5 105.9h0.9v0.9h-0.9zM443.0 102.4h0.9v0.9h-0.9zM444.9 91.4h0.9v0.9h-0.9zM442.3 94.0h0.9v0.9h-0.9zM433.5 95.5h0.9v0.9h-0.9zM435.1 104.3h0.9v0.9h-0.9zM443.7 99.4h0.9v0.9h-0.9zM436.9 104.1h0.9v0.9h-0.9zM449.9 103.4h0.9v0.9h-0.9zM450.0 103.2h0.9v0.9h-0.9zM453.6 106.6h0.9v0.9h-0.9zM440.8 102.9h0.9v0.9h-0.9zM450.7 93.8h0.9v0.9h-0.9zM434.7 98.6h0.9v0.9h-0.9zM435.3 110.3h0.9v0.9h-0.9zM441.6 96.6h0.9v0.9h-0.9zM443.0 108.8h0.9v0.9h-0.9zM429.8 110.3h0.9v0.9h-0.9zM428.9 99.0h0.9v0.9h-0.9zM443.5 103.7h0.9v0.9h-0.9zM435.0 95.0h0.9v0.9h-0.9zM449.5 105.9h0.9v0.9h-0.9zM443.8 98.1h0.9v0.9h-0.9zM443.2 95.4h0.9v0.9h-0.9zM442.5 100.0h0.9v0.9h-0.9zM447.3 99.7h0.9v0.9h-0.9zM439.9 99.1h0.9v0.9h-0.9zM448.6 103.0h0.9v0.9h-0.9zM437.3 101.2h0.9v0.9h-0.9zM439.4 98.7h0.9v0.9h-0.9zM436.2 106.7h0.9v0.9h-0.9zM445.2 114.1h0.9v0.9h-0.9zM441.3 102.3h0.9v0.9h-0.9zM435.0 98.5h0.9v0.9h-0.9zM455.0 97.0h0.9v0.9h-0.9zM438.5 104.9h0.9v0.9h-0.9zM440.2 100.7h0.9v0.9h-0.9zM443.8 102.1h0.9v0.9h-0.9zM453.2 92.0h0.9v0.9h-0.9zM440.0 96.3h0.9v0.9h-0.9zM445.9 96.2h0.9v0.9h-0.9zM441.7 106.7h0.9v0.9h-0.9zM430.8 100.6h0.9v0.9h-0.9zM446.5 89.6h0.9v0.9h-0.9zM448.1 104.4h0.9v0.9h-0.9zM439.3 107.7h0.9v0.9h-0.9zM440.9 108.5h0.9v0.9h-0.9zM430.5 88.0h0.9v0.9h-0.9zM430.3 102.8h0.9v0.9h-0.9zM438.3 106.1h0.9v0.9h-0.9zM445.4 105.0h0.9v0.9h-0.9zM437.7 100.8h0.9v0.9h-0.9zM443.0 93.0h0.9v0.9h-0.9zM447.8 99.8h0.9v0.9h-0.9zM441.7 100.4h0.9v0.9h-0.9zM445.0 104.9h0.9v0.9h-0.9zM451.1 105.2h0.9v0.9h-0.9zM432.3 100.8h0.9v0.9h-0.9zM446.2 106.2h0.9v0.9h-0.9zM427.8 96.7h0.9v0.9h-0.9zM444.0 98.6h0.9v0.9h-0.9zM442.4 101.8h0.9v0.9h-0.9zM437.2 104.9h0.9v0.9h-0.9zM433.5 100.4h0.9v0.9h-0.9zM440.6 108.2h0.9v0.9h-0.9zM438.1 104.1h0.9v0.9h-0.9zM441.7 97.3h0.9v0.9h-0.9zM434.6 102.4h0.9v0.9h-0.9zM444.8 97.6h0.9v0.9h-0.9zM433.7 97.2h0.9v0.9h-0.9zM438.9 94.9h0.9v0.9h-0.9zM438.3 109.0h0.9v0.9h-0.9zM449.9 106.5h0.9v0.9h-0.9zM430.5 94.0h0.9v0.9h-0.9zM438.1 107.6h0.9v0.9h-0.9zM449.3 106.8h0.9v0.9h-0.9zM436.4 100.2h0.9v0.9h-0.9zM432.3 104.5h0.9v0.9h-0.9zM443.0 113.2h0.9v0.9h-0.9zM439.0 103.4h0.9v0.9h-0.9zM446.8 104.1h0.9v0.9h-0.9zM434.6 107.6h0.9v0.9h-0.9zM442.3 96.8h0.9v0.9h-0.9zM445.7 95.7h0.9v0.9h-0.9zM448.3 95.0h0.9v0.9h-0.9zM433.3 101.6h0.9v0.9h-0.9zM451.0 106.4h0.9v0.9h-0.9zM434.7 97.7h0.9v0.9h-0.9zM430.4 95.2h0.9v0.9h-0.9zM434.3 103.1h0.9v0.9h-0.9zM442.1 100.3h0.9v0.9h-0.9zM438.7 105.1h0.9v0.9h-0.9zM444.1 101.5h0.9v0.9h-0.9zM444.5 101.3h0.9v0.9h-0.9zM443.2 101.8h0.9v0.9h-0.9zM439.2 102.4h0.9v0.9h-0.9zM453.7 97.4h0.9v0.9h-0.9zM425.5 96.6h0.9v0.9h-0.9zM428.9 110.2h0.9v0.9h-0.9zM437.5 117.7h0.9v0.9h-0.9zM432.2 107.8h0.9v0.9h-0.9zM423.1 94.1h0.9v0.9h-0.9zM435.4 102.4h0.9v0.9h-0.9zM435.8 108.2h0.9v0.9h-0.9zM423.9 94.1h0.9v0.9h-0.9zM447.0 99.8h0.9v0.9h-0.9zM450.1 100.2h0.9v0.9h-0.9zM449.6 97.7h0.9v0.9h-0.9zM437.4 98.1h0.9v0.9h-0.9zM442.0 107.3h0.9v0.9h-0.9zM433.2 100.0h0.9v0.9h-0.9zM442.4 101.1h0.9v0.9h-0.9zM436.3 110.9h0.9v0.9h-0.9zM443.9 98.0h0.9v0.9h-0.9zM438.6 92.7h0.9v0.9h-0.9zM448.2 105.5h0.9v0.9h-0.9zM446.8 112.4h0.9v0.9h-0.9zM449.7 103.3h0.9v0.9h-0.9zM429.8 103.8h0.9v0.9h-0.9zM428.3 95.8h0.9v0.9h-0.9zM443.8 97.6h0.9v0.9h-0.9zM437.0 109.6h0.9v0.9h-0.9zM443.8 108.6h0.9v0.9h-0.9zM443.1 105.2h0.9v0.9h-0.9zM442.3 99.1h0.9v0.9h-0.9zM447.4 96.3h0.9v0.9h-0.9zM444.9 97.0h0.9v0.9h-0.9zM444.3 96.4h0.9v0.9h-0.9zM434.7 105.3h0.9v0.9h-0.9zM453.1 98.3h0.9v0.9h-0.9zM441.9 99.7h0.9v0.9h-0.9zM448.7 105.6h0.9v0.9h-0.9zM443.3 105.5h0.9v0.9h-0.9zM449.9 102.4h0.9v0.9h-0.9zM442.1 104.5h0.9v0.9h-0.9zM442.5 102.1h0.9v0.9h-0.9zM442.0 92.4h0.9v0.9h-0.9zM436.0 101.7h0.9v0.9h-0.9zM437.0 99.9h0.9v0.9h-0.9zM440.0 100.2h0.9v0.9h-0.9zM440.2 103.2h0.9v0.9h-0.9zM434.1 99.2h0.9v0.9h-0.9zM457.5 108.1h0.9v0.9h-0.9zM434.1 101.2h0.9v0.9h-0.9zM438.9 102.8h0.9v0.9h-0.9zM458.1 103.7h0.9v0.9h-0.9zM436.4 101.1h0.9v0.9h-0.9zM446.4 105.3h0.9v0.9h-0.9zM445.6 105.8h0.9v0.9h-0.9zM439.5 105.2h0.9v0.9h-0.9zM431.0 98.4h0.9v0.9h-0.9zM430.1 97.4h0.9v0.9h-0.9zM440.9 98.9h0.9v0.9h-0.9zM443.9 102.0h0.9v0.9h-0.9zM425.9 92.5h0.9v0.9h-0.9zM442.1 97.7h0.9v0.9h-0.9zM436.4 96.1h0.9v0.9h-0.9zM447.3 98.5h0.9v0.9h-0.9zM442.2 97.3h0.9v0.9h-0.9zM435.4 106.0h0.9v0.9h-0.9zM438.0 104.1h0.9v0.9h-0.9zM441.3 106.7h0.9v0.9h-0.9zM450.4 96.9h0.9v0.9h-0.9zM462.4 98.0h0.9v0.9h-0.9zM443.6 100.4h0.9v0.9h-0.9zM441.9 110.2h0.9v0.9h-0.9zM446.0 110.3h0.9v0.9h-0.9zM441.3 98.8h0.9v0.9h-0.9zM446.0 105.1h0.9v0.9h-0.9zM444.3 112.7h0.9v0.9h-0.9zM441.6 96.8h0.9v0.9h-0.9zM436.1 101.0h0.9v0.9h-0.9zM442.7 108.4h0.9v0.9h-0.9zM448.0 105.6h0.9v0.9h-0.9zM442.2 97.0h0.9v0.9h-0.9zM452.3 109.6h0.9v0.9h-0.9zM448.3 106.9h0.9v0.9h-0.9zM440.8 105.4h0.9v0.9h-0.9zM453.9 95.8h0.9v0.9h-0.9zM433.8 101.1h0.9v0.9h-0.9zM449.9 108.6h0.9v0.9h-0.9zM454.7 104.4h0.9v0.9h-0.9zM439.9 106.0h0.9v0.9h-0.9zM441.0 100.6h0.9v0.9h-0.9zM448.3 109.6h0.9v0.9h-0.9zM451.8 100.8h0.9v0.9h-0.9zM444.9 106.6h0.9v0.9h-0.9zM443.5 103.6h0.9v0.9h-0.9zM448.2 97.2h0.9v0.9h-0.9zM443.6 109.4h0.9v0.9h-0.9zM433.4 95.7h0.9v0.9h-0.9zM440.5 98.3h0.9v0.9h-0.9zM441.7 102.7h0.9v0.9h-0.9zM431.3 94.9h0.9v0.9h-0.9zM444.6 92.9h0.9v0.9h-0.9zM436.6 101.4h0.9v0.9h-0.9zM447.0 99.8h0.9v0.9h-0.9zM431.4 100.6h0.9v0.9h-0.9zM435.4 104.5h0.9v0.9h-0.9zM431.6 113.3h0.9v0.9h-0.9zM450.8 99.9h0.9v0.9h-0.9zM450.7 114.2h0.9v0.9h-0.9zM452.1 103.1h0.9v0.9h-0.9zM452.2 101.5h0.9v0.9h-0.9zM448.2 88.4h0.9v0.9h-0.9zM448.1 94.2h0.9v0.9h-0.9zM429.9 103.2h0.9v0.9h-0.9zM444.1 104.7h0.9v0.9h-0.9zM438.3 97.7h0.9v0.9h-0.9zM439.6 103.4h0.9v0.9h-0.9zM433.2 106.3h0.9v0.9h-0.9zM451.0 99.0h0.9v0.9h-0.9zM442.9 93.7h0.9v0.9h-0.9zM431.4 96.9h0.9v0.9h-0.9zM445.4 100.3h0.9v0.9h-0.9zM441.2 103.2h0.9v0.9h-0.9zM434.4 105.7h0.9v0.9h-0.9zM439.5 97.2h0.9v0.9h-0.9zM436.1 102.0h0.9v0.9h-0.9zM425.4 100.5h0.9v0.9h-0.9zM430.7 102.0h0.9v0.9h-0.9zM444.8 107.3h0.9v0.9h-0.9zM443.6 108.3h0.9v0.9h-0.9zM443.0 99.4h0.9v0.9h-0.9zM432.8 98.8h0.9v0.9h-0.9zM436.8 98.4h0.9v0.9h-0.9zM441.5 99.2h0.9v0.9h-0.9zM445.8 99.7h0.9v0.9h-0.9zM435.1 101.0h0.9v0.9h-0.9zM433.6 99.3h0.9v0.9h-0.9zM449.0 96.5h0.9v0.9h-0.9zM441.5 96.0h0.9v0.9h-0.9zM438.3 102.1h0.9v0.9h-0.9zM435.8 114.0h0.9v0.9h-0.9zM436.4 104.6h0.9v0.9h-0.9zM452.1 105.1h0.9v0.9h-0.9zM447.8 103.6h0.9v0.9h-0.9zM438.1 101.0h0.9v0.9h-0.9zM432.2 111.9h0.9v0.9h-0.9zM452.7 100.3h0.9v0.9h-0.9zM452.0 97.0h0.9v0.9h-0.9zM449.4 95.7h0.9v0.9h-0.9zM446.9 102.8h0.9v0.9h-0.9zM427.8 96.8h0.9v0.9h-0.9zM432.0 97.5h0.9v0.9h-0.9zM445.0 97.5h0.9v0.9h-0.9zM439.0 95.3h0.9v0.9h-0.9zM442.8 102.7h0.9v0.9h-0.9zM437.3 93.4h0.9v0.9h-0.9zM436.4 113.3h0.9v0.9h-0.9zM444.9 88.0h0.9v0.9h-0.9zM438.2 94.9h0.9v0.9h-0.9zM441.0 102.2h0.9v0.9h-0.9zM442.8 103.9h0.9v0.9h-0.9zM442.6 100.2h0.9v0.9h-0.9zM449.1 103.3h0.9v0.9h-0.9zM450.6 102.8h0.9v0.9h-0.9zM431.4 102.5h0.9v0.9h-0.9zM439.1 104.9h0.9v0.9h-0.9zM436.5 103.2h0.9v0.9h-0.9zM446.3 101.5h0.9v0.9h-0.9zM433.5 101.3h0.9v0.9h-0.9zM446.4 106.4h0.9v0.9h-0.9zM445.9 101.1h0.9v0.9h-0.9zM445.0 104.8h0.9v0.9h-0.9zM434.2 109.9h0.9v0.9h-0.9zM439.5 103.9h0.9v0.9h-0.9zM433.4 108.1h0.9v0.9h-0.9zM443.8 99.9h0.9v0.9h-0.9zM447.7 103.4h0.9v0.9h-0.9zM430.3 104.6h0.9v0.9h-0.9zM435.2 103.2h0.9v0.9h-0.9zM439.8 104.4h0.9v0.9h-0.9z" fill="#000" fill-opacity="0.5"/>
<path d="M446.0 103.6h0.9v0.9h-0.9zM450.2 103.0h0.9v0.9h-0.9zM442.2 101.0h0.9v0.9h-0.9zM433.5 98.9h0.9v0.9h-0.9zM439.6 105.9h0.9v0.9h-0.9zM432.1 90.3h0.9v0.9h-0.9zM446.8 105.2h0.9v0.9h-0.9zM464.8 103.7h0.9v0.9h-0.9zM439.1 104.0h0.9v0.9h-0.9zM437.3 104.7h0.9v0.9h-0.9zM452.9 97.4h0.9v0.9h-0.9zM451.0 100.2h0.9v0.9h-0.9zM447.5 106.5h0.9v0.9h-0.9zM433.0 105.0h0.9v0.9h-0.9zM445.6 103.4h0.9v0.9h-0.9zM455.7 91.4h0.9v0.9h-0.9zM427.2 105.8h0.9v0.9h-0.9zM439.6 110.2h0.9v0.9h-0.9zM419.4 109.1h0.9v0.9h-0.9zM427.9 103.6h0.9v0.9h-0.9zM420.2 91.1h0.9v0.9h-0.9zM442.7 108.6h0.9v0.9h-0.9zM428.3 101.0h0.9v0.9h-0.9zM449.8 84.3h0.9v0.9h-0.9zM448.2 104.6h0.9v0.9h-0.9zM443.4 91.6h0.9v0.9h-0.9zM438.5 97.6h0.9v0.9h-0.9zM445.3 110.9h0.9v0.9h-0.9zM447.6 99.4h0.9v0.9h-0.9zM424.6 103.9h0.9v0.9h-0.9zM439.3 114.2h0.9v0.9h-0.9zM432.3 113.2h0.9v0.9h-0.9zM434.7 101.3h0.9v0.9h-0.9zM460.9 100.3h0.9v0.9h-0.9zM434.7 93.2h0.9v0.9h-0.9zM445.5 97.1h0.9v0.9h-0.9zM458.4 105.0h0.9v0.9h-0.9zM437.8 104.8h0.9v0.9h-0.9zM444.4 102.8h0.9v0.9h-0.9zM447.5 109.0h0.9v0.9h-0.9zM446.9 96.6h0.9v0.9h-0.9zM428.8 101.6h0.9v0.9h-0.9zM447.1 107.1h0.9v0.9h-0.9zM465.0 106.1h0.9v0.9h-0.9zM424.3 109.5h0.9v0.9h-0.9zM458.0 104.8h0.9v0.9h-0.9zM447.7 99.8h0.9v0.9h-0.9zM437.0 104.5h0.9v0.9h-0.9zM474.0 95.0h0.9v0.9h-0.9zM456.7 90.5h0.9v0.9h-0.9zM429.2 106.1h0.9v0.9h-0.9zM447.0 101.6h0.9v0.9h-0.9zM454.1 104.2h0.9v0.9h-0.9zM443.4 90.1h0.9v0.9h-0.9zM455.6 99.4h0.9v0.9h-0.9zM445.1 97.8h0.9v0.9h-0.9zM455.3 96.0h0.9v0.9h-0.9zM466.1 86.2h0.9v0.9h-0.9zM436.5 99.7h0.9v0.9h-0.9zM448.8 108.3h0.9v0.9h-0.9zM439.5 104.7h0.9v0.9h-0.9zM447.8 97.8h0.9v0.9h-0.9zM429.4 101.9h0.9v0.9h-0.9zM437.9 107.3h0.9v0.9h-0.9zM443.3 82.7h0.9v0.9h-0.9zM458.6 101.1h0.9v0.9h-0.9zM462.0 105.8h0.9v0.9h-0.9zM427.5 106.8h0.9v0.9h-0.9zM434.9 113.9h0.9v0.9h-0.9zM455.1 109.9h0.9v0.9h-0.9zM418.1 104.2h0.9v0.9h-0.9zM439.5 104.1h0.9v0.9h-0.9zM444.6 107.5h0.9v0.9h-0.9zM463.6 98.2h0.9v0.9h-0.9zM455.7 101.7h0.9v0.9h-0.9zM441.4 108.3h0.9v0.9h-0.9zM440.8 115.7h0.9v0.9h-0.9zM442.5 100.9h0.9v0.9h-0.9zM467.3 101.7h0.9v0.9h-0.9zM440.0 103.4h0.9v0.9h-0.9zM441.7 111.4h0.9v0.9h-0.9zM450.9 101.8h0.9v0.9h-0.9zM444.3 112.3h0.9v0.9h-0.9zM443.2 95.2h0.9v0.9h-0.9zM430.4 100.7h0.9v0.9h-0.9zM445.8 100.6h0.9v0.9h-0.9zM439.8 107.5h0.9v0.9h-0.9zM462.3 109.3h0.9v0.9h-0.9zM455.1 91.4h0.9v0.9h-0.9zM445.7 95.6h0.9v0.9h-0.9zM455.4 104.4h0.9v0.9h-0.9zM441.2 97.4h0.9v0.9h-0.9zM460.7 91.3h0.9v0.9h-0.9zM445.9 109.3h0.9v0.9h-0.9zM454.2 105.5h0.9v0.9h-0.9zM427.9 105.5h0.9v0.9h-0.9zM450.9 98.7h0.9v0.9h-0.9zM422.4 109.2h0.9v0.9h-0.9zM417.5 100.3h0.9v0.9h-0.9zM441.7 109.7h0.9v0.9h-0.9zM433.4 95.6h0.9v0.9h-0.9zM448.3 96.0h0.9v0.9h-0.9zM477.4 103.4h0.9v0.9h-0.9zM434.4 97.1h0.9v0.9h-0.9zM437.3 106.7h0.9v0.9h-0.9zM448.9 103.8h0.9v0.9h-0.9zM452.9 95.5h0.9v0.9h-0.9zM443.5 102.5h0.9v0.9h-0.9zM443.1 99.5h0.9v0.9h-0.9zM455.8 108.4h0.9v0.9h-0.9zM453.3 97.6h0.9v0.9h-0.9zM431.5 98.9h0.9v0.9h-0.9zM444.9 110.5h0.9v0.9h-0.9zM446.5 117.7h0.9v0.9h-0.9zM431.2 116.0h0.9v0.9h-0.9zM449.6 102.4h0.9v0.9h-0.9zM434.0 103.5h0.9v0.9h-0.9zM459.6 112.7h0.9v0.9h-0.9zM448.7 101.1h0.9v0.9h-0.9zM447.3 95.2h0.9v0.9h-0.9zM437.7 102.8h0.9v0.9h-0.9zM444.3 105.2h0.9v0.9h-0.9zM418.0 96.2h0.9v0.9h-0.9zM430.2 90.5h0.9v0.9h-0.9zM451.1 91.9h0.9v0.9h-0.9zM416.2 106.7h0.9v0.9h-0.9zM457.9 96.7h0.9v0.9h-0.9zM421.6 101.0h0.9v0.9h-0.9zM456.6 103.5h0.9v0.9h-0.9zM434.2 106.3h0.9v0.9h-0.9zM456.9 99.7h0.9v0.9h-0.9zM447.8 105.5h0.9v0.9h-0.9zM424.5 95.8h0.9v0.9h-0.9zM463.5 99.5h0.9v0.9h-0.9zM466.2 94.8h0.9v0.9h-0.9zM445.1 109.9h0.9v0.9h-0.9zM442.2 101.8h0.9v0.9h-0.9zM443.8 96.8h0.9v0.9h-0.9zM432.3 99.5h0.9v0.9h-0.9zM461.4 100.4h0.9v0.9h-0.9zM438.4 106.9h0.9v0.9h-0.9zM445.3 90.8h0.9v0.9h-0.9zM434.9 94.7h0.9v0.9h-0.9zM437.2 99.4h0.9v0.9h-0.9zM428.1 119.7h0.9v0.9h-0.9zM463.6 108.7h0.9v0.9h-0.9zM443.8 101.2h0.9v0.9h-0.9zM459.5 107.0h0.9v0.9h-0.9zM446.2 116.4h0.9v0.9h-0.9zM436.3 100.4h0.9v0.9h-0.9zM441.4 99.4h0.9v0.9h-0.9zM438.2 110.5h0.9v0.9h-0.9zM446.1 105.5h0.9v0.9h-0.9zM440.7 106.7h0.9v0.9h-0.9zM441.8 98.4h0.9v0.9h-0.9zM426.7 115.5h0.9v0.9h-0.9zM434.7 114.0h0.9v0.9h-0.9zM469.2 106.0h0.9v0.9h-0.9zM436.6 106.8h0.9v0.9h-0.9zM431.2 87.8h0.9v0.9h-0.9zM450.7 106.5h0.9v0.9h-0.9zM465.7 100.6h0.9v0.9h-0.9zM425.6 105.0h0.9v0.9h-0.9zM443.1 106.8h0.9v0.9h-0.9zM437.2 99.6h0.9v0.9h-0.9zM421.3 90.2h0.9v0.9h-0.9zM456.3 104.6h0.9v0.9h-0.9zM445.7 96.8h0.9v0.9h-0.9zM447.0 99.7h0.9v0.9h-0.9zM435.5 97.8h0.9v0.9h-0.9zM452.4 99.6h0.9v0.9h-0.9zM438.4 85.8h0.9v0.9h-0.9zM444.0 110.5h0.9v0.9h-0.9zM430.5 103.8h0.9v0.9h-0.9zM429.0 109.8h0.9v0.9h-0.9zM464.7 115.9h0.9v0.9h-0.9zM438.9 102.2h0.9v0.9h-0.9zM450.1 89.4h0.9v0.9h-0.9zM445.5 95.7h0.9v0.9h-0.9zM439.8 93.6h0.9v0.9h-0.9zM438.9 98.5h0.9v0.9h-0.9zM454.8 102.6h0.9v0.9h-0.9zM441.8 88.0h0.9v0.9h-0.9zM443.9 104.4h0.9v0.9h-0.9zM446.3 91.4h0.9v0.9h-0.9zM462.5 104.1h0.9v0.9h-0.9zM455.5 101.2h0.9v0.9h-0.9zM451.4 99.8h0.9v0.9h-0.9zM438.1 101.5h0.9v0.9h-0.9zM426.7 98.2h0.9v0.9h-0.9zM459.3 97.7h0.9v0.9h-0.9zM459.5 90.2h0.9v0.9h-0.9zM444.0 101.8h0.9v0.9h-0.9zM453.6 114.9h0.9v0.9h-0.9zM456.9 115.9h0.9v0.9h-0.9zM457.6 111.3h0.9v0.9h-0.9zM458.9 106.9h0.9v0.9h-0.9zM439.6 97.3h0.9v0.9h-0.9zM467.2 112.1h0.9v0.9h-0.9zM428.5 101.6h0.9v0.9h-0.9zM458.1 101.5h0.9v0.9h-0.9zM452.9 100.0h0.9v0.9h-0.9zM458.2 102.6h0.9v0.9h-0.9zM472.3 99.0h0.9v0.9h-0.9zM466.8 101.4h0.9v0.9h-0.9zM430.0 94.4h0.9v0.9h-0.9zM422.4 99.4h0.9v0.9h-0.9zM457.4 118.0h0.9v0.9h-0.9zM431.8 101.5h0.9v0.9h-0.9zM445.8 100.3h0.9v0.9h-0.9zM457.8 105.7h0.9v0.9h-0.9zM423.0 107.0h0.9v0.9h-0.9zM416.5 94.2h0.9v0.9h-0.9zM449.6 100.5h0.9v0.9h-0.9zM446.6 108.4h0.9v0.9h-0.9zM442.6 103.9h0.9v0.9h-0.9zM446.5 102.9h0.9v0.9h-0.9zM434.0 112.9h0.9v0.9h-0.9zM424.8 97.3h0.9v0.9h-0.9zM443.7 102.6h0.9v0.9h-0.9zM432.4 98.4h0.9v0.9h-0.9zM423.0 112.4h0.9v0.9h-0.9zM453.1 88.3h0.9v0.9h-0.9zM445.1 97.3h0.9v0.9h-0.9zM451.7 98.3h0.9v0.9h-0.9zM432.1 106.6h0.9v0.9h-0.9zM436.8 106.2h0.9v0.9h-0.9zM432.0 111.8h0.9v0.9h-0.9zM433.6 91.0h0.9v0.9h-0.9zM448.7 107.3h0.9v0.9h-0.9zM435.0 99.9h0.9v0.9h-0.9zM451.0 97.3h0.9v0.9h-0.9zM450.8 105.8h0.9v0.9h-0.9zM474.4 95.6h0.9v0.9h-0.9zM426.5 87.5h0.9v0.9h-0.9zM458.4 99.4h0.9v0.9h-0.9zM444.7 91.5h0.9v0.9h-0.9zM445.8 97.5h0.9v0.9h-0.9zM425.7 104.6h0.9v0.9h-0.9zM439.6 104.2h0.9v0.9h-0.9zM456.4 113.1h0.9v0.9h-0.9zM444.8 100.6h0.9v0.9h-0.9zM447.1 91.3h0.9v0.9h-0.9zM441.9 96.7h0.9v0.9h-0.9zM462.2 95.6h0.9v0.9h-0.9zM445.7 93.5h0.9v0.9h-0.9zM436.3 97.5h0.9v0.9h-0.9zM418.4 88.2h0.9v0.9h-0.9zM438.6 101.2h0.9v0.9h-0.9zM464.7 104.5h0.9v0.9h-0.9zM446.7 102.7h0.9v0.9h-0.9zM429.6 106.4h0.9v0.9h-0.9zM432.8 102.3h0.9v0.9h-0.9zM461.8 110.7h0.9v0.9h-0.9zM448.2 105.0h0.9v0.9h-0.9zM446.7 104.7h0.9v0.9h-0.9zM445.3 104.9h0.9v0.9h-0.9zM446.5 91.8h0.9v0.9h-0.9zM457.3 100.8h0.9v0.9h-0.9zM453.7 100.2h0.9v0.9h-0.9zM449.0 103.5h0.9v0.9h-0.9zM431.4 92.5h0.9v0.9h-0.9zM453.2 113.4h0.9v0.9h-0.9zM436.4 102.7h0.9v0.9h-0.9zM461.3 93.5h0.9v0.9h-0.9zM428.2 90.0h0.9v0.9h-0.9zM444.1 100.0h0.9v0.9h-0.9zM445.9 101.4h0.9v0.9h-0.9zM427.5 97.0h0.9v0.9h-0.9zM470.1 102.6h0.9v0.9h-0.9zM466.4 97.5h0.9v0.9h-0.9zM439.5 105.9h0.9v0.9h-0.9zM456.8 96.9h0.9v0.9h-0.9zM451.3 101.7h0.9v0.9h-0.9zM449.5 120.0h0.9v0.9h-0.9zM445.1 94.9h0.9v0.9h-0.9zM447.2 98.7h0.9v0.9h-0.9zM430.9 96.1h0.9v0.9h-0.9zM442.2 107.5h0.9v0.9h-0.9zM443.5 94.0h0.9v0.9h-0.9zM462.6 98.6h0.9v0.9h-0.9zM450.7 101.8h0.9v0.9h-0.9zM445.9 95.1h0.9v0.9h-0.9zM467.4 95.3h0.9v0.9h-0.9zM438.2 98.7h0.9v0.9h-0.9zM440.5 87.3h0.9v0.9h-0.9zM420.6 91.9h0.9v0.9h-0.9zM468.0 99.1h0.9v0.9h-0.9zM459.5 103.0h0.9v0.9h-0.9zM458.8 100.7h0.9v0.9h-0.9zM455.4 89.6h0.9v0.9h-0.9zM447.5 98.8h0.9v0.9h-0.9zM449.0 107.6h0.9v0.9h-0.9zM442.5 105.9h0.9v0.9h-0.9zM443.1 101.4h0.9v0.9h-0.9zM446.8 95.8h0.9v0.9h-0.9zM467.2 106.4h0.9v0.9h-0.9zM453.8 97.9h0.9v0.9h-0.9zM445.2 93.8h0.9v0.9h-0.9zM437.9 96.4h0.9v0.9h-0.9zM437.1 112.1h0.9v0.9h-0.9zM468.4 103.5h0.9v0.9h-0.9zM453.1 110.1h0.9v0.9h-0.9zM446.9 98.6h0.9v0.9h-0.9zM441.2 108.6h0.9v0.9h-0.9zM430.5 97.8h0.9v0.9h-0.9zM445.1 100.9h0.9v0.9h-0.9zM458.2 119.4h0.9v0.9h-0.9zM440.5 107.4h0.9v0.9h-0.9zM442.8 98.5h0.9v0.9h-0.9zM442.9 101.4h0.9v0.9h-0.9zM447.5 104.3h0.9v0.9h-0.9zM423.7 110.5h0.9v0.9h-0.9zM442.7 98.6h0.9v0.9h-0.9zM434.0 89.8h0.9v0.9h-0.9zM458.4 100.0h0.9v0.9h-0.9zM435.2 102.1h0.9v0.9h-0.9zM454.1 102.8h0.9v0.9h-0.9zM467.3 111.2h0.9v0.9h-0.9zM441.6 104.2h0.9v0.9h-0.9zM437.6 107.7h0.9v0.9h-0.9zM448.7 94.3h0.9v0.9h-0.9zM446.0 108.1h0.9v0.9h-0.9zM432.1 116.7h0.9v0.9h-0.9zM452.5 107.4h0.9v0.9h-0.9zM474.2 103.8h0.9v0.9h-0.9zM442.4 103.1h0.9v0.9h-0.9zM443.2 114.5h0.9v0.9h-0.9zM431.4 95.5h0.9v0.9h-0.9zM450.5 101.2h0.9v0.9h-0.9zM428.5 105.2h0.9v0.9h-0.9zM430.5 107.2h0.9v0.9h-0.9zM463.9 98.9h0.9v0.9h-0.9zM433.3 104.2h0.9v0.9h-0.9zM461.1 100.1h0.9v0.9h-0.9zM467.3 102.8h0.9v0.9h-0.9zM449.6 101.1h0.9v0.9h-0.9zM453.7 94.0h0.9v0.9h-0.9zM473.3 101.9h0.9v0.9h-0.9zM443.2 108.1h0.9v0.9h-0.9zM437.7 95.2h0.9v0.9h-0.9zM427.1 100.3h0.9v0.9h-0.9zM446.6 106.7h0.9v0.9h-0.9zM466.7 94.5h0.9v0.9h-0.9zM459.4 103.3h0.9v0.9h-0.9zM432.8 94.6h0.9v0.9h-0.9zM434.0 109.9h0.9v0.9h-0.9zM438.9 118.2h0.9v0.9h-0.9zM450.1 116.2h0.9v0.9h-0.9zM443.1 100.5h0.9v0.9h-0.9zM449.0 107.2h0.9v0.9h-0.9zM450.2 102.8h0.9v0.9h-0.9zM441.8 102.7h0.9v0.9h-0.9zM445.4 112.8h0.9v0.9h-0.9zM448.9 92.8h0.9v0.9h-0.9zM444.8 109.4h0.9v0.9h-0.9zM453.0 101.7h0.9v0.9h-0.9zM472.2 111.9h0.9v0.9h-0.9zM454.3 103.3h0.9v0.9h-0.9zM446.8 97.3h0.9v0.9h-0.9zM422.4 103.9h0.9v0.9h-0.9zM451.4 107.2h0.9v0.9h-0.9zM418.7 102.3h0.9v0.9h-0.9zM426.3 105.4h0.9v0.9h-0.9zM458.0 98.3h0.9v0.9h-0.9zM455.9 87.1h0.9v0.9h-0.9zM443.9 108.3h0.9v0.9h-0.9zM422.1 106.9h0.9v0.9h-0.9zM440.8 103.0h0.9v0.9h-0.9zM436.5 102.5h0.9v0.9h-0.9zM454.9 109.3h0.9v0.9h-0.9zM477.6 98.8h0.9v0.9h-0.9zM449.0 97.1h0.9v0.9h-0.9zM435.1 100.7h0.9v0.9h-0.9zM429.6 110.3h0.9v0.9h-0.9zM445.2 92.3h0.9v0.9h-0.9zM443.5 110.3h0.9v0.9h-0.9zM429.9 97.5h0.9v0.9h-0.9zM447.6 94.3h0.9v0.9h-0.9zM429.9 110.8h0.9v0.9h-0.9zM461.6 101.3h0.9v0.9h-0.9zM460.9 92.9h0.9v0.9h-0.9zM461.2 99.5h0.9v0.9h-0.9zM439.4 108.5h0.9v0.9h-0.9zM453.2 110.3h0.9v0.9h-0.9zM444.2 99.0h0.9v0.9h-0.9zM440.6 104.8h0.9v0.9h-0.9zM441.3 107.0h0.9v0.9h-0.9zM427.8 97.5h0.9v0.9h-0.9zM425.8 104.5h0.9v0.9h-0.9zM457.1 101.8h0.9v0.9h-0.9zM443.3 98.2h0.9v0.9h-0.9zM449.0 98.6h0.9v0.9h-0.9zM460.0 102.5h0.9v0.9h-0.9zM421.7 102.2h0.9v0.9h-0.9zM435.0 98.0h0.9v0.9h-0.9zM448.5 99.0h0.9v0.9h-0.9zM451.5 109.8h0.9v0.9h-0.9zM440.7 103.5h0.9v0.9h-0.9zM460.4 108.2h0.9v0.9h-0.9zM448.9 110.4h0.9v0.9h-0.9zM429.0 106.1h0.9v0.9h-0.9zM433.0 117.9h0.9v0.9h-0.9zM457.3 96.2h0.9v0.9h-0.9zM452.5 107.7h0.9v0.9h-0.9zM419.4 99.8h0.9v0.9h-0.9zM464.9 115.0h0.9v0.9h-0.9zM454.4 113.9h0.9v0.9h-0.9zM464.8 88.3h0.9v0.9h-0.9zM440.6 95.2h0.9v0.9h-0.9zM441.9 106.7h0.9v0.9h-0.9zM430.2 107.5h0.9v0.9h-0.9zM481.5 107.2h0.9v0.9h-0.9zM443.5 101.5h0.9v0.9h-0.9zM468.2 105.2h0.9v0.9h-0.9zM436.9 106.6h0.9v0.9h-0.9zM448.3 101.5h0.9v0.9h-0.9zM422.6 109.2h0.9v0.9h-0.9zM440.6 86.2h0.9v0.9h-0.9zM459.8 106.4h0.9v0.9h-0.9zM428.5 94.8h0.9v0.9h-0.9zM461.0 108.7h0.9v0.9h-0.9zM450.7 100.4h0.9v0.9h-0.9zM431.4 95.8h0.9v0.9h-0.9zM439.0 104.6h0.9v0.9h-0.9zM439.6 95.6h0.9v0.9h-0.9zM445.3 95.6h0.9v0.9h-0.9zM438.5 91.0h0.9v0.9h-0.9zM434.4 101.8h0.9v0.9h-0.9zM441.7 105.5h0.9v0.9h-0.9zM431.6 109.2h0.9v0.9h-0.9zM427.9 101.0h0.9v0.9h-0.9zM445.3 109.3h0.9v0.9h-0.9zM458.4 102.1h0.9v0.9h-0.9zM424.6 101.3h0.9v0.9h-0.9zM446.0 106.0h0.9v0.9h-0.9zM436.9 109.4h0.9v0.9h-0.9zM432.3 99.6h0.9v0.9h-0.9zM457.9 100.3h0.9v0.9h-0.9zM438.7 100.9h0.9v0.9h-0.9zM467.0 102.6h0.9v0.9h-0.9zM435.1 95.7h0.9v0.9h-0.9zM451.4 109.2h0.9v0.9h-0.9zM442.8 99.2h0.9v0.9h-0.9zM435.4 105.2h0.9v0.9h-0.9zM454.2 96.2h0.9v0.9h-0.9zM443.8 104.5h0.9v0.9h-0.9zM454.4 104.7h0.9v0.9h-0.9zM445.3 99.1h0.9v0.9h-0.9zM430.8 116.1h0.9v0.9h-0.9zM444.6 104.6h0.9v0.9h-0.9zM446.7 114.4h0.9v0.9h-0.9zM459.4 108.7h0.9v0.9h-0.9zM433.3 97.4h0.9v0.9h-0.9zM445.4 99.3h0.9v0.9h-0.9zM421.9 105.1h0.9v0.9h-0.9zM455.1 102.4h0.9v0.9h-0.9zM430.9 102.3h0.9v0.9h-0.9zM420.7 100.0h0.9v0.9h-0.9zM445.2 89.3h0.9v0.9h-0.9zM461.5 100.4h0.9v0.9h-0.9zM424.7 86.5h0.9v0.9h-0.9zM430.8 104.6h0.9v0.9h-0.9zM435.6 96.9h0.9v0.9h-0.9zM430.2 97.0h0.9v0.9h-0.9zM451.3 100.5h0.9v0.9h-0.9zM434.7 103.9h0.9v0.9h-0.9zM435.9 92.0h0.9v0.9h-0.9zM454.2 89.8h0.9v0.9h-0.9zM435.4 94.5h0.9v0.9h-0.9zM452.1 87.7h0.9v0.9h-0.9zM432.4 95.2h0.9v0.9h-0.9zM429.0 113.1h0.9v0.9h-0.9zM420.3 94.6h0.9v0.9h-0.9zM472.1 106.6h0.9v0.9h-0.9zM441.5 92.4h0.9v0.9h-0.9zM449.4 104.1h0.9v0.9h-0.9zM445.6 99.8h0.9v0.9h-0.9zM448.2 101.6h0.9v0.9h-0.9zM446.7 106.0h0.9v0.9h-0.9zM472.7 114.3h0.9v0.9h-0.9zM431.5 103.4h0.9v0.9h-0.9zM424.2 102.9h0.9v0.9h-0.9zM431.8 95.2h0.9v0.9h-0.9zM427.3 106.1h0.9v0.9h-0.9zM456.5 100.3h0.9v0.9h-0.9zM457.5 107.8h0.9v0.9h-0.9zM432.5 101.7h0.9v0.9h-0.9zM426.5 114.2h0.9v0.9h-0.9zM441.0 88.1h0.9v0.9h-0.9zM465.5 99.9h0.9v0.9h-0.9zM453.4 99.5h0.9v0.9h-0.9zM430.9 96.5h0.9v0.9h-0.9zM460.6 100.1h0.9v0.9h-0.9zM430.9 92.3h0.9v0.9h-0.9zM442.0 102.8h0.9v0.9h-0.9zM424.9 119.1h0.9v0.9h-0.9zM432.3 110.0h0.9v0.9h-0.9zM465.4 94.2h0.9v0.9h-0.9zM457.5 95.9h0.9v0.9h-0.9zM440.4 99.2h0.9v0.9h-0.9zM433.8 109.0h0.9v0.9h-0.9zM419.5 96.2h0.9v0.9h-0.9zM440.5 97.2h0.9v0.9h-0.9zM445.6 108.2h0.9v0.9h-0.9zM444.8 108.1h0.9v0.9h-0.9zM444.7 99.4h0.9v0.9h-0.9zM430.3 94.2h0.9v0.9h-0.9zM445.1 91.2h0.9v0.9h-0.9zM445.5 97.1h0.9v0.9h-0.9zM464.1 86.4h0.9v0.9h-0.9zM472.1 107.2h0.9v0.9h-0.9zM444.1 97.6h0.9v0.9h-0.9zM435.3 105.4h0.9v0.9h-0.9zM445.1 115.1h0.9v0.9h-0.9zM437.5 110.2h0.9v0.9h-0.9zM435.6 93.9h0.9v0.9h-0.9zM445.2 108.1h0.9v0.9h-0.9zM431.4 110.1h0.9v0.9h-0.9zM454.5 96.8h0.9v0.9h-0.9zM444.5 95.3h0.9v0.9h-0.9zM449.5 101.2h0.9v0.9h-0.9zM443.4 90.8h0.9v0.9h-0.9zM435.8 112.3h0.9v0.9h-0.9zM432.7 85.2h0.9v0.9h-0.9zM442.7 94.3h0.9v0.9h-0.9zM438.3 100.1h0.9v0.9h-0.9zM449.3 100.4h0.9v0.9h-0.9zM445.9 103.2h0.9v0.9h-0.9zM426.9 103.9h0.9v0.9h-0.9zM446.9 100.5h0.9v0.9h-0.9zM427.2 110.0h0.9v0.9h-0.9zM437.4 87.0h0.9v0.9h-0.9zM441.9 102.0h0.9v0.9h-0.9zM416.9 97.0h0.9v0.9h-0.9zM447.3 102.9h0.9v0.9h-0.9zM448.1 103.5h0.9v0.9h-0.9zM443.8 95.6h0.9v0.9h-0.9zM440.1 97.5h0.9v0.9h-0.9zM440.8 107.5h0.9v0.9h-0.9zM432.3 104.4h0.9v0.9h-0.9zM442.2 97.2h0.9v0.9h-0.9zM438.3 116.3h0.9v0.9h-0.9zM447.3 118.2h0.9v0.9h-0.9zM429.1 91.8h0.9v0.9h-0.9z" fill="#000" fill-opacity="0.35"/>
<path d="M479.7 90.9h0.9v0.9h-0.9zM457.5 94.5h0.9v0.9h-0.9zM424.4 90.2h0.9v0.9h-0.9zM445.9 97.1h0.9v0.9h-0.9zM442.5 106.3h0.9v0.9h-0.9zM445.0 136.6h0.9v0.9h-0.9zM463.1 70.0h0.9v0.9h-0.9zM421.9 112.8h0.9v0.9h-0.9zM471.3 112.5h0.9v0.9h-0.9zM425.2 119.6h0.9v0.9h-0.9zM445.9 105.0h0.9v0.9h-0.9zM469.5 107.6h0.9v0.9h-0.9zM464.6 123.6h0.9v0.9h-0.9zM434.8 103.4h0.9v0.9h-0.9zM488.9 104.4h0.9v0.9h-0.9zM458.0 102.2h0.9v0.9h-0.9zM429.0 107.6h0.9v0.9h-0.9zM450.9 123.6h0.9v0.9h-0.9zM431.7 91.7h0.9v0.9h-0.9zM459.6 116.4h0.9v0.9h-0.9zM420.5 74.5h0.9v0.9h-0.9zM460.6 108.0h0.9v0.9h-0.9zM474.1 117.7h0.9v0.9h-0.9zM456.0 112.1h0.9v0.9h-0.9zM479.8 111.8h0.9v0.9h-0.9zM434.4 109.2h0.9v0.9h-0.9zM419.9 77.9h0.9v0.9h-0.9zM444.7 105.8h0.9v0.9h-0.9zM493.2 85.9h0.9v0.9h-0.9zM462.6 114.9h0.9v0.9h-0.9zM478.9 94.2h0.9v0.9h-0.9zM430.7 102.2h0.9v0.9h-0.9zM438.3 96.1h0.9v0.9h-0.9zM442.7 103.0h0.9v0.9h-0.9zM475.7 104.3h0.9v0.9h-0.9zM437.6 108.1h0.9v0.9h-0.9zM443.6 87.0h0.9v0.9h-0.9zM485.7 120.6h0.9v0.9h-0.9zM430.8 88.9h0.9v0.9h-0.9zM449.3 99.7h0.9v0.9h-0.9zM420.4 69.3h0.9v0.9h-0.9zM444.8 105.2h0.9v0.9h-0.9zM468.2 113.4h0.9v0.9h-0.9zM476.2 116.1h0.9v0.9h-0.9zM419.4 107.9h0.9v0.9h-0.9zM461.8 93.7h0.9v0.9h-0.9zM486.7 96.8h0.9v0.9h-0.9zM434.6 99.2h0.9v0.9h-0.9zM455.8 103.4h0.9v0.9h-0.9zM450.6 88.7h0.9v0.9h-0.9zM448.5 103.6h0.9v0.9h-0.9zM460.7 100.0h0.9v0.9h-0.9zM416.6 91.8h0.9v0.9h-0.9zM442.8 105.1h0.9v0.9h-0.9zM432.5 103.9h0.9v0.9h-0.9zM428.8 119.5h0.9v0.9h-0.9zM421.6 101.8h0.9v0.9h-0.9zM475.7 113.4h0.9v0.9h-0.9zM450.2 85.8h0.9v0.9h-0.9zM444.9 123.0h0.9v0.9h-0.9zM439.2 85.2h0.9v0.9h-0.9zM458.3 100.5h0.9v0.9h-0.9zM438.7 97.1h0.9v0.9h-0.9zM453.3 94.3h0.9v0.9h-0.9zM432.8 97.5h0.9v0.9h-0.9zM457.3 94.7h0.9v0.9h-0.9zM442.8 102.4h0.9v0.9h-0.9zM461.9 104.4h0.9v0.9h-0.9zM431.7 116.0h0.9v0.9h-0.9zM421.9 122.2h0.9v0.9h-0.9zM483.5 106.9h0.9v0.9h-0.9zM435.4 91.6h0.9v0.9h-0.9zM447.3 129.1h0.9v0.9h-0.9zM427.5 70.9h0.9v0.9h-0.9zM445.7 99.6h0.9v0.9h-0.9zM426.7 92.8h0.9v0.9h-0.9zM481.7 94.1h0.9v0.9h-0.9zM428.5 102.0h0.9v0.9h-0.9zM469.9 91.5h0.9v0.9h-0.9zM444.7 104.1h0.9v0.9h-0.9zM459.1 99.3h0.9v0.9h-0.9zM427.5 99.2h0.9v0.9h-0.9zM446.6 106.8h0.9v0.9h-0.9zM444.2 105.3h0.9v0.9h-0.9zM430.3 120.6h0.9v0.9h-0.9zM459.9 107.1h0.9v0.9h-0.9zM443.9 101.8h0.9v0.9h-0.9zM443.2 121.9h0.9v0.9h-0.9zM449.6 122.1h0.9v0.9h-0.9zM422.3 92.1h0.9v0.9h-0.9zM462.3 109.8h0.9v0.9h-0.9z" fill="#000" fill-opacity="0.3"/>
<line x1="228.7" y1="80" x2="228.7" y2="136.4" stroke="#6a6a6a" stroke-width="1.2"/>
<line x1="194.8" y1="119.1" x2="259" y2="119.1" stroke="#6a6a6a" stroke-width="1.2"/>
<line x1="344.6" y1="78.5" x2="344.6" y2="135.4" stroke="#6a6a6a" stroke-width="1.2"/>
<line x1="310.9" y1="117.4" x2="374.7" y2="117.4" stroke="#6a6a6a" stroke-width="1.2"/>
<line x1="457.6" y1="77.9" x2="457.6" y2="134.2" stroke="#6a6a6a" stroke-width="1.2"/>
<line x1="423.4" y1="116.8" x2="487.7" y2="116.8" stroke="#6a6a6a" stroke-width="1.2"/>
<text x="272.80" y="55.1" font-size="8.8" font-weight="bold" fill="#000" stroke="#000" stroke-width="0.2">R</text><path transform="translate(279.15 55.1) scale(0.00880 -0.00880)" d="M228,0H372V709H262L72,580V450L228,555Z" fill="#000" fill-rule="evenodd" stroke="#000" stroke-width="22.7"/>
<text x="384.10" y="55.1" font-size="8.8" font-weight="bold" fill="#000" stroke="#000" stroke-width="0.2">R2</text>
<text x="500.30" y="55.1" font-size="8.8" font-weight="bold" fill="#000" stroke="#000" stroke-width="0.2">R3</text>
<text x="191.30" y="74.3" font-size="9.2" font-weight="normal" fill="#000" stroke="#000" stroke-width="0.25">8</text><path transform="translate(196.42 74.3) scale(0.00920 -0.00920)" d="M250,0H338V709H280L96,565V482L250,602Z" fill="#000" fill-rule="evenodd" stroke="#000" stroke-width="27.2"/><path transform="translate(201.53 74.3) scale(0.00920 -0.00920)" d="M68,538A150,172 0 1 0 368,538A150,172 0 1 0 68,538ZM136,538A82,108 0 1 1 300,538A82,108 0 1 1 136,538ZM522,168A150,172 0 1 0 822,168A150,172 0 1 0 522,168ZM590,168A82,108 0 1 1 754,168A82,108 0 1 1 590,168ZM188,-22H262L702,730H628Z" fill="#000" fill-rule="evenodd" stroke="#000" stroke-width="27.2"/>
<text x="247.80" y="74.3" font-size="9.2" font-weight="normal" fill="#000" stroke="#000" stroke-width="0.25">4</text><path transform="translate(252.92 74.3) scale(0.00920 -0.00920)" d="M68,538A150,172 0 1 0 368,538A150,172 0 1 0 68,538ZM136,538A82,108 0 1 1 300,538A82,108 0 1 1 136,538ZM522,168A150,172 0 1 0 822,168A150,172 0 1 0 522,168ZM590,168A82,108 0 1 1 754,168A82,108 0 1 1 590,168ZM188,-22H262L702,730H628Z" fill="#000" fill-rule="evenodd" stroke="#000" stroke-width="27.2"/>
<text x="240.00" y="135.6" font-size="9.2" font-weight="normal" fill="#000" stroke="#000" stroke-width="0.25">&lt;0.5</text><path transform="translate(258.16 135.6) scale(0.00920 -0.00920)" d="M68,538A150,172 0 1 0 368,538A150,172 0 1 0 68,538ZM136,538A82,108 0 1 1 300,538A82,108 0 1 1 136,538ZM522,168A150,172 0 1 0 822,168A150,172 0 1 0 522,168ZM590,168A82,108 0 1 1 754,168A82,108 0 1 1 590,168ZM188,-22H262L702,730H628Z" fill="#000" fill-rule="evenodd" stroke="#000" stroke-width="27.2"/>
<text x="303.50" y="74.3" font-size="9.2" font-weight="normal" fill="#000" stroke="#000" stroke-width="0.25">88</text><path transform="translate(313.73 74.3) scale(0.00920 -0.00920)" d="M68,538A150,172 0 1 0 368,538A150,172 0 1 0 68,538ZM136,538A82,108 0 1 1 300,538A82,108 0 1 1 136,538ZM522,168A150,172 0 1 0 822,168A150,172 0 1 0 522,168ZM590,168A82,108 0 1 1 754,168A82,108 0 1 1 590,168ZM188,-22H262L702,730H628Z" fill="#000" fill-rule="evenodd" stroke="#000" stroke-width="27.2"/>
<text x="359.80" y="74.3" font-size="9.2" font-weight="normal" fill="#000" stroke="#000" stroke-width="0.25">5</text><path transform="translate(364.92 74.3) scale(0.00920 -0.00920)" d="M68,538A150,172 0 1 0 368,538A150,172 0 1 0 68,538ZM136,538A82,108 0 1 1 300,538A82,108 0 1 1 136,538ZM522,168A150,172 0 1 0 822,168A150,172 0 1 0 522,168ZM590,168A82,108 0 1 1 754,168A82,108 0 1 1 590,168ZM188,-22H262L702,730H628Z" fill="#000" fill-rule="evenodd" stroke="#000" stroke-width="27.2"/>
<text x="354.50" y="132.1" font-size="9.2" font-weight="normal" fill="#000" stroke="#000" stroke-width="0.25">&lt;0.5</text><path transform="translate(372.66 132.1) scale(0.00920 -0.00920)" d="M68,538A150,172 0 1 0 368,538A150,172 0 1 0 68,538ZM136,538A82,108 0 1 1 300,538A82,108 0 1 1 136,538ZM522,168A150,172 0 1 0 822,168A150,172 0 1 0 522,168ZM590,168A82,108 0 1 1 754,168A82,108 0 1 1 590,168ZM188,-22H262L702,730H628Z" fill="#000" fill-rule="evenodd" stroke="#000" stroke-width="27.2"/>
<text x="423.60" y="74.3" font-size="9.2" font-weight="normal" fill="#000" stroke="#000" stroke-width="0.25">85</text><path transform="translate(433.83 74.3) scale(0.00920 -0.00920)" d="M68,538A150,172 0 1 0 368,538A150,172 0 1 0 68,538ZM136,538A82,108 0 1 1 300,538A82,108 0 1 1 136,538ZM522,168A150,172 0 1 0 822,168A150,172 0 1 0 522,168ZM590,168A82,108 0 1 1 754,168A82,108 0 1 1 590,168ZM188,-22H262L702,730H628Z" fill="#000" fill-rule="evenodd" stroke="#000" stroke-width="27.2"/>
<path transform="translate(472.00 74.3) scale(0.00920 -0.00920)" d="M250,0H338V709H280L96,565V482L250,602Z" fill="#000" fill-rule="evenodd" stroke="#000" stroke-width="27.2"/><text x="477.12" y="74.3" font-size="9.2" font-weight="normal" fill="#000" stroke="#000" stroke-width="0.25">4</text><path transform="translate(482.23 74.3) scale(0.00920 -0.00920)" d="M68,538A150,172 0 1 0 368,538A150,172 0 1 0 68,538ZM136,538A82,108 0 1 1 300,538A82,108 0 1 1 136,538ZM522,168A150,172 0 1 0 822,168A150,172 0 1 0 522,168ZM590,168A82,108 0 1 1 754,168A82,108 0 1 1 590,168ZM188,-22H262L702,730H628Z" fill="#000" fill-rule="evenodd" stroke="#000" stroke-width="27.2"/>
<text x="472.00" y="132.3" font-size="9.2" font-weight="normal" fill="#000" stroke="#000" stroke-width="0.25">&lt;0.5</text><path transform="translate(490.16 132.3) scale(0.00920 -0.00920)" d="M68,538A150,172 0 1 0 368,538A150,172 0 1 0 68,538ZM136,538A82,108 0 1 1 300,538A82,108 0 1 1 136,538ZM522,168A150,172 0 1 0 822,168A150,172 0 1 0 522,168ZM590,168A82,108 0 1 1 754,168A82,108 0 1 1 590,168ZM188,-22H262L702,730H628Z" fill="#000" fill-rule="evenodd" stroke="#000" stroke-width="27.2"/>
<text x="176.3" y="145" font-size="10.3" font-weight="normal" fill="#000" stroke="#000" stroke-width="0.25" text-anchor="start" transform="rotate(-90 176.3 145)">CD38 - APC</text>
<line x1="172.6" y1="85" x2="172.6" y2="45.0" stroke="#555" stroke-width="0.8"/>
<path d="M171.2,46.0 L174.0,46.0 L172.6,42.5 Z" fill="#555"/>
<text x="184" y="164" font-size="10.0" font-weight="normal" fill="#000" stroke="#000" stroke-width="0.25" text-anchor="start">CD7-FITC</text>
<line x1="234.5" y1="159.7" x2="376" y2="159.7" stroke="#d0d0d0" stroke-width="1"/>
<line x1="376" y1="159.7" x2="517.0" y2="159.7" stroke="#909090" stroke-width="1"/>
<path d="M515.9,158.2 L515.9,161.2 L519.5,159.7 Z" fill="#333"/>
<text x="-0.6" y="202.9" font-size="25.2" font-weight="bold" fill="#000" stroke="#000" stroke-width="0" text-anchor="start">B</text>
<line x1="75.5" y1="197.5" x2="75.5" y2="211.7" stroke="#444" stroke-width="1"/>
<line x1="75.5" y1="197.5" x2="460.5" y2="197.5" stroke="#444" stroke-width="1"/>
<line x1="235.7" y1="197.5" x2="235.7" y2="209" stroke="#555" stroke-width="0.9"/>
<path d="M234.0,207.8 L237.39999999999998,207.8 L235.7,212 Z" fill="#333"/>
<line x1="347.2" y1="197.5" x2="347.2" y2="209" stroke="#555" stroke-width="0.9"/>
<path d="M345.5,207.8 L348.9,207.8 L347.2,212 Z" fill="#333"/>
<line x1="460.5" y1="197.5" x2="460.5" y2="209" stroke="#555" stroke-width="0.9"/>
<path d="M458.8,207.8 L462.2,207.8 L460.5,212 Z" fill="#333"/>
<polygon points="24.8,316 24.55,303.1 25.05,303.1 25.05,305.4 25.55,305.4 25.55,303.9 26.05,303.9 26.05,302.4 26.55,302.4 26.55,300.8 27.05,300.8 27.05,297.0 27.55,297.0 27.55,296.1 28.05,296.1 28.05,295.3 28.55,295.3 28.55,298.4 29.05,298.4 29.05,301.0 29.55,301.0 29.55,300.6 30.05,300.6 30.05,299.1 30.55,299.1 30.55,293.8 31.05,293.8 31.05,294.6 31.55,294.6 31.55,290.8 32.05,290.8 32.05,292.9 32.55,292.9 32.55,288.6 33.05,288.6 33.05,286.0 33.55,286.0 33.55,280.8 34.05,280.8 34.05,279.6 34.55,279.6 34.55,278.1 35.05,278.1 35.05,274.2 35.55,274.2 35.55,272.8 36.05,272.8 36.05,272.7 36.55,272.7 36.55,269.0 37.05,269.0 37.05,266.9 37.55,266.9 37.55,265.8 38.05,265.8 38.05,262.3 38.55,262.3 38.55,264.6 39.05,264.6 39.05,254.1 39.55,254.1 39.55,259.1 40.05,259.1 40.05,251.6 40.55,251.6 40.55,249.0 41.05,249.0 41.05,244.2 41.55,244.2 41.55,246.9 42.05,246.9 42.05,245.3 42.55,245.3 42.55,245.5 43.05,245.5 43.05,238.1 43.55,238.1 43.55,242.8 44.05,242.8 44.05,245.7 44.55,245.7 44.55,242.7 45.05,242.7 45.05,238.9 45.55,238.9 45.55,243.3 46.05,243.3 46.05,239.8 46.55,239.8 46.55,242.4 47.05,242.4 47.05,242.8 47.55,242.8 47.55,239.9 48.05,239.9 48.05,235.9 48.55,235.9 48.55,240.6 49.05,240.6 49.05,243.8 49.55,243.8 49.55,241.1 50.05,241.1 50.05,244.3 50.55,244.3 50.55,247.5 51.05,247.5 51.05,243.9 51.55,243.9 51.55,250.9 52.05,250.9 52.05,252.3 52.55,252.3 52.55,250.3 53.05,250.3 53.05,256.1 53.55,256.1 53.55,257.9 54.05,257.9 54.05,258.0 54.55,258.0 54.55,259.8 55.05,259.8 55.05,261.8 55.55,261.8 55.55,266.1 56.05,266.1 56.05,263.1 56.55,263.1 56.55,263.0 57.05,263.0 57.05,267.1 57.55,267.1 57.55,272.3 58.05,272.3 58.05,273.6 58.55,273.6 58.55,267.6 59.05,267.6 59.05,268.0 59.55,268.0 59.55,272.5 60.05,272.5 60.05,272.9 60.55,272.9 60.55,273.5 61.05,273.5 61.05,276.0 61.55,276.0 61.55,274.1 62.05,274.1 62.05,275.3 62.55,275.3 62.55,276.7 63.05,276.7 63.05,272.1 63.55,272.1 63.55,272.2 64.05,272.2 64.05,276.6 64.55,276.6 64.55,278.2 65.05,278.2 65.05,278.7 65.55,278.7 65.55,278.3 66.05,278.3 66.05,278.5 66.55,278.5 66.55,278.2 67.05,278.2 67.05,270.5 67.55,270.5 67.55,273.1 68.05,273.1 68.05,277.4 68.55,277.4 68.55,278.7 69.05,278.7 69.05,273.9 69.55,273.9 69.55,282.0 70.05,282.0 70.05,278.7 70.55,278.7 70.55,280.2 71.05,280.2 71.05,282.4 71.55,282.4 71.55,284.5 72.05,284.5 72.05,280.3 72.55,280.3 72.55,286.8 73.05,286.8 73.05,285.0 73.55,285.0 73.55,282.7 74.05,282.7 74.05,280.7 74.55,280.7 74.55,278.6 75.05,278.6 75.05,281.8 75.55,281.8 75.55,283.0 76.05,283.0 76.05,280.1 76.55,280.1 76.55,280.3 77.05,280.3 77.05,280.1 77.55,280.1 77.55,280.1 78.05,280.1 78.05,282.6 78.55,282.6 78.55,279.9 79.05,279.9 79.05,279.3 79.55,279.3 79.55,281.4 80.05,281.4 80.05,283.6 80.55,283.6 80.55,278.4 81.05,278.4 81.05,280.1 81.55,280.1 81.55,272.7 82.05,272.7 82.05,281.3 82.55,281.3 82.55,278.8 83.05,278.8 83.05,278.7 83.55,278.7 83.55,272.7 84.05,272.7 84.05,267.5 84.55,267.5 84.55,271.2 85.05,271.2 85.05,268.0 85.55,268.0 85.55,260.0 86.05,260.0 86.05,255.2 86.55,255.2 86.55,259.5 87.05,259.5 87.05,255.6 87.55,255.6 87.55,258.0 88.05,258.0 88.05,250.3 88.55,250.3 88.55,248.7 89.05,248.7 89.05,247.3 89.55,247.3 89.55,239.3 90.05,239.3 90.05,241.4 90.55,241.4 90.55,251.2 91.05,251.2 91.05,250.2 91.55,250.2 91.55,251.7 92.05,251.7 92.05,252.6 92.55,252.6 92.55,261.5 93.05,261.5 93.05,264.4 93.55,264.4 93.55,265.8 94.05,265.8 94.05,266.6 94.55,266.6 94.55,271.9 95.05,271.9 95.05,275.0 95.55,275.0 95.55,274.5 96.05,274.5 96.05,280.6 96.55,280.6 96.55,276.1 97.05,276.1 97.05,280.6 97.55,280.6 97.55,285.3 98.05,285.3 98.05,288.1 98.55,288.1 98.55,289.9 99.05,289.9 99.05,294.5 99.55,294.5 99.55,296.9 100.05,296.9 100.05,297.4 100.55,297.4 100.55,298.5 101.05,298.5 101.05,300.6 101.55,300.6 101.55,300.8 102.05,300.8 102.05,299.9 102.55,299.9 102.55,301.6 103.05,301.6 103.05,303.8 103.55,303.8 103.55,302.3 104.05,302.3 104.05,304.1 104.55,304.1 104.55,304.5 105.05,304.5 105.05,304.9 105.55,304.9 105.55,305.6 106.05,305.6 106.05,307.1 106.55,307.1 106.55,308.0 107.05,308.0 107.05,308.7 107.55,308.7 107.55,308.6 108.05,308.6 108.05,309.5 108.55,309.5 108.55,310.8 109.05,310.8 109.05,311.7 109.55,311.7 109.55,312.3 110.05,312.3 110.05,313.0 110.55,313.0 110.55,313.8 111.05,313.8 111.05,314.2 111.55,314.2 111.55,313.7 112.05,313.7 112.05,314.1 112.55,314.1 112.55,313.9 113.05,313.9 113.05,313.4 113.55,313.4 113.55,313.8 114.05,313.8 114.05,315.4 114.55,315.4 114.55,314.3 115.05,314.3 115.05,314.0 115.55,314.0 115.55,314.7 116.05,314.7 116.05,315.6 116.55,315.6 116.55,315.0 117.05,315.0 117.05,314.7 117.55,314.7 117.55,314.5 118.05,314.5 118.05,315.0 118.55,315.0 118.55,315.5 119.05,315.5 119.05,315.3 119.55,315.3 119.55,315.0 120.05,315.0 120.05,315.4 120.55,315.4 120.55,315.5 121.05,315.5 121.05,315.0 121.55,315.0 121.55,315.2 122.05,315.2 122.05,315.2 122.55,315.2 122.55,314.7 123.05,314.7 123.05,315.5 123.55,315.5 123.55,315.0 124.05,315.0 124.05,314.9 124.55,314.9 124.55,314.5 125.05,314.5 125.05,314.6 125.55,314.6 125.55,315.7 126.05,315.7 126.05,314.7 126.55,314.7 126.55,315.0 127.05,315.0 127.05,315.0 127.55,315.0 127.55,315.3 128.05,315.3 128.05,315.4 128.55,315.4 128.55,314.9 129.05,314.9 129.05,315.0 129.55,315.0 129.55,315.2 130.05,315.2 130.05,315.2 130.55,315.2 130.55,315.2 131.05,315.2 131.05,315.1 131.55,315.1 131.55,315.4 132.05,315.4 132.05,315.7 132.55,315.7 132.55,315.4 133.05,315.4 133.05,314.9 133.55,314.9 133.55,315.4 134.05,315.4 134.05,315.2 134.55,315.2 134.55,315.4 135.05,315.4 135.05,315.9 135.55,315.9 135.55,315.2 136.05,315.2 136.05,315.2 136.55,315.2 136.55,314.9 137.05,314.9 137.05,315.2 137.55,315.2 137.55,315.1 138.05,315.1 138.05,315.9 138.55,315.9 138.55,315.4 139.05,315.4 139.05,315.1 139.55,315.1 139.55,316.0 140.05,316.0 140.05,314.8 140.55,314.8 140.3,316" fill="#000"/>
<line x1="24.8" y1="217" x2="140.3" y2="217" stroke="#999" stroke-width="1"/>
<line x1="140.3" y1="217" x2="140.3" y2="316.5" stroke="#aaa" stroke-width="1.1"/>
<line x1="24.8" y1="217" x2="24.8" y2="316" stroke="#aaa" stroke-width="0.9"/>
<line x1="24.3" y1="316" x2="140.3" y2="316" stroke="#333" stroke-width="1"/>
<path d="M22.80 315.50h2.5v1h-2.5zM24.20 311.66h1.2v1h-1.2zM24.20 307.82h1.2v1h-1.2zM24.20 303.98h1.2v1h-1.2zM24.20 300.14h1.2v1h-1.2zM22.80 296.30h2.5v1h-2.5zM24.20 292.46h1.2v1h-1.2zM24.20 288.62h1.2v1h-1.2zM24.20 284.78h1.2v1h-1.2zM24.20 280.94h1.2v1h-1.2zM22.80 277.10h2.5v1h-2.5zM24.20 273.26h1.2v1h-1.2zM24.20 269.42h1.2v1h-1.2zM24.20 265.58h1.2v1h-1.2zM24.20 261.74h1.2v1h-1.2zM22.80 257.90h2.5v1h-2.5zM24.20 254.06h1.2v1h-1.2zM24.20 250.22h1.2v1h-1.2zM24.20 246.38h1.2v1h-1.2zM24.20 242.54h1.2v1h-1.2zM22.80 238.70h2.5v1h-2.5zM24.20 234.86h1.2v1h-1.2zM24.20 231.02h1.2v1h-1.2zM24.20 227.18h1.2v1h-1.2zM24.20 223.34h1.2v1h-1.2zM22.80 219.50h2.5v1h-2.5zM24.30 315.20h1v1.6h-1zM32.99 315.20h1v1.6h-1zM38.08 315.20h1v1.6h-1zM41.68 315.20h1v1.6h-1zM44.48 315.20h1v1.6h-1zM46.77 315.20h1v1.6h-1zM48.70 315.20h1v1.6h-1zM50.38 315.20h1v1.6h-1zM51.85 315.20h1v1.6h-1zM53.18 315.20h1v1.6h-1zM61.87 315.20h1v1.6h-1zM66.95 315.20h1v1.6h-1zM70.56 315.20h1v1.6h-1zM73.36 315.20h1v1.6h-1zM75.64 315.20h1v1.6h-1zM77.58 315.20h1v1.6h-1zM79.25 315.20h1v1.6h-1zM80.73 315.20h1v1.6h-1zM82.05 315.20h1v1.6h-1zM90.74 315.20h1v1.6h-1zM95.83 315.20h1v1.6h-1zM99.43 315.20h1v1.6h-1zM102.23 315.20h1v1.6h-1zM104.52 315.20h1v1.6h-1zM106.45 315.20h1v1.6h-1zM108.13 315.20h1v1.6h-1zM109.60 315.20h1v1.6h-1zM110.93 315.20h1v1.6h-1zM119.62 315.20h1v1.6h-1zM124.70 315.20h1v1.6h-1zM128.31 315.20h1v1.6h-1zM131.11 315.20h1v1.6h-1zM133.39 315.20h1v1.6h-1zM135.33 315.20h1v1.6h-1zM137.00 315.20h1v1.6h-1zM138.48 315.20h1v1.6h-1zM139.80 315.20h1v1.6h-1z" fill="#333" fill-opacity="0.8"/>
<rect x="19.5" y="313.8" width="2.3" height="4.4" fill="#999"/>
<rect x="19.5" y="294.6" width="2.3" height="4.4" fill="#999"/>
<rect x="19.5" y="275.4" width="2.3" height="4.4" fill="#999"/>
<rect x="19.5" y="256.2" width="2.3" height="4.4" fill="#999"/>
<rect x="19.5" y="237.0" width="2.3" height="4.4" fill="#999"/>
<rect x="19.5" y="217.8" width="2.3" height="4.4" fill="#999"/>
<rect x="23.5" y="319.1" width="2.6" height="2.2" fill="#666"/>
<rect x="26.0" y="317.6" width="1.2" height="1.1" fill="#aaa"/>
<rect x="52.4" y="319.1" width="2.6" height="2.2" fill="#666"/>
<rect x="54.9" y="317.6" width="1.2" height="1.1" fill="#aaa"/>
<rect x="81.3" y="319.1" width="2.6" height="2.2" fill="#666"/>
<rect x="83.8" y="317.6" width="1.2" height="1.1" fill="#aaa"/>
<rect x="110.1" y="319.1" width="2.6" height="2.2" fill="#666"/>
<rect x="112.6" y="317.6" width="1.2" height="1.1" fill="#aaa"/>
<rect x="139.0" y="319.1" width="2.6" height="2.2" fill="#666"/>
<rect x="141.5" y="317.6" width="1.2" height="1.1" fill="#aaa"/>
<line x1="33.8" y1="238" x2="60.4" y2="238" stroke="#3a3a3a" stroke-width="0.9"/>
<line x1="33.8" y1="236.5" x2="33.8" y2="239.5" stroke="#3a3a3a" stroke-width="0.8"/>
<line x1="60.4" y1="236.5" x2="60.4" y2="239.5" stroke="#3a3a3a" stroke-width="0.8"/>
<text x="46.50" y="235.5" font-size="8.7" font-weight="bold" fill="#000" stroke="#000" stroke-width="0.2">R</text><path transform="translate(52.78 235.5) scale(0.00870 -0.00870)" d="M228,0H372V709H262L72,580V450L228,555Z" fill="#000" fill-rule="evenodd" stroke="#000" stroke-width="23.0"/>
<line x1="62.3" y1="258.5" x2="83.5" y2="258.5" stroke="#3a3a3a" stroke-width="0.9"/>
<line x1="62.3" y1="257.0" x2="62.3" y2="260.0" stroke="#3a3a3a" stroke-width="0.8"/>
<line x1="83.5" y1="257.0" x2="83.5" y2="260.0" stroke="#3a3a3a" stroke-width="0.8"/>
<text x="67.70" y="252.8" font-size="8.7" font-weight="bold" fill="#000" stroke="#000" stroke-width="0.2">R2</text>
<line x1="83" y1="270.3" x2="105.7" y2="270.3" stroke="#3a3a3a" stroke-width="0.9"/>
<line x1="83" y1="268.8" x2="83" y2="271.8" stroke="#3a3a3a" stroke-width="0.8"/>
<line x1="105.7" y1="268.8" x2="105.7" y2="271.8" stroke="#3a3a3a" stroke-width="0.8"/>
<text x="98.40" y="265.2" font-size="8.7" font-weight="bold" fill="#000" stroke="#000" stroke-width="0.2">R3</text>
<text x="9.9" y="263.5" font-size="10.2" font-weight="normal" fill="#000" stroke="#000" stroke-width="0.25" text-anchor="middle" transform="rotate(-90 9.9 263.5)">cell numbers</text>
<text x="21" y="337.2" font-size="10.3" font-weight="normal" fill="#000" stroke="#000" stroke-width="0.25" text-anchor="start">CD45RA-PE</text>
<line x1="83" y1="332.8" x2="139.5" y2="332.8" stroke="#aaa" stroke-width="0.9"/>
<path d="M138.4,331.3 L138.4,334.3 L142,332.8 Z" fill="#333"/>
<line x1="189.4" y1="214.3" x2="289.3" y2="214.3" stroke="#a0a0a0" stroke-width="1.4"/>
<line x1="289.3" y1="214.3" x2="289.3" y2="314.5" stroke="#b4b4b4" stroke-width="1.8"/>
<line x1="189.4" y1="214.3" x2="189.4" y2="314.5" stroke="#aaa" stroke-width="1"/>
<line x1="188.9" y1="314.5" x2="289.3" y2="314.5" stroke="#999" stroke-width="1"/>
<path d="M188.95 313.90h0.9v2h-0.9zM196.47 313.90h0.9v2h-0.9zM200.87 313.90h0.9v2h-0.9zM203.99 313.90h0.9v2h-0.9zM206.41 313.90h0.9v2h-0.9zM208.38 313.90h0.9v2h-0.9zM210.06 313.90h0.9v2h-0.9zM211.50 313.90h0.9v2h-0.9zM212.78 313.90h0.9v2h-0.9zM213.93 313.90h0.9v2h-0.9zM221.44 313.90h0.9v2h-0.9zM225.84 313.90h0.9v2h-0.9zM228.96 313.90h0.9v2h-0.9zM231.38 313.90h0.9v2h-0.9zM233.36 313.90h0.9v2h-0.9zM235.03 313.90h0.9v2h-0.9zM236.48 313.90h0.9v2h-0.9zM237.76 313.90h0.9v2h-0.9zM238.90 313.90h0.9v2h-0.9zM246.42 313.90h0.9v2h-0.9zM250.82 313.90h0.9v2h-0.9zM253.94 313.90h0.9v2h-0.9zM256.36 313.90h0.9v2h-0.9zM258.33 313.90h0.9v2h-0.9zM260.01 313.90h0.9v2h-0.9zM261.45 313.90h0.9v2h-0.9zM262.73 313.90h0.9v2h-0.9zM263.88 313.90h0.9v2h-0.9zM271.39 313.90h0.9v2h-0.9zM275.79 313.90h0.9v2h-0.9zM278.91 313.90h0.9v2h-0.9zM281.33 313.90h0.9v2h-0.9zM283.31 313.90h0.9v2h-0.9zM284.98 313.90h0.9v2h-0.9zM286.43 313.90h0.9v2h-0.9zM287.71 313.90h0.9v2h-0.9zM288.85 313.90h0.9v2h-0.9zM188.20 314.05h2v0.9h-2zM188.20 306.51h2v0.9h-2zM188.20 302.10h2v0.9h-2zM188.20 298.97h2v0.9h-2zM188.20 296.54h2v0.9h-2zM188.20 294.56h2v0.9h-2zM188.20 292.88h2v0.9h-2zM188.20 291.43h2v0.9h-2zM188.20 290.15h2v0.9h-2zM188.20 289.00h2v0.9h-2zM188.20 281.46h2v0.9h-2zM188.20 277.05h2v0.9h-2zM188.20 273.92h2v0.9h-2zM188.20 271.49h2v0.9h-2zM188.20 269.51h2v0.9h-2zM188.20 267.83h2v0.9h-2zM188.20 266.38h2v0.9h-2zM188.20 265.10h2v0.9h-2zM188.20 263.95h2v0.9h-2zM188.20 256.41h2v0.9h-2zM188.20 252.00h2v0.9h-2zM188.20 248.87h2v0.9h-2zM188.20 246.44h2v0.9h-2zM188.20 244.46h2v0.9h-2zM188.20 242.78h2v0.9h-2zM188.20 241.33h2v0.9h-2zM188.20 240.05h2v0.9h-2zM188.20 238.90h2v0.9h-2zM188.20 231.36h2v0.9h-2zM188.20 226.95h2v0.9h-2zM188.20 223.82h2v0.9h-2zM188.20 221.39h2v0.9h-2zM188.20 219.41h2v0.9h-2zM188.20 217.73h2v0.9h-2zM188.20 216.28h2v0.9h-2zM188.20 215.00h2v0.9h-2zM188.20 213.85h2v0.9h-2z" fill="#555" fill-opacity="0.5"/>
<rect x="188.1" y="317.9" width="2.6" height="2" fill="#777"/>
<rect x="190.7" y="316.7" width="1.2" height="1.2" fill="#aaa"/>
<rect x="184.4" y="213.5" width="2.4" height="2.6" fill="#777"/>
<rect x="182.4" y="211.5" width="1.6" height="1" fill="#aaa"/>
<rect x="213.1" y="317.9" width="2.6" height="2" fill="#777"/>
<rect x="215.7" y="316.7" width="1.2" height="1.2" fill="#aaa"/>
<rect x="184.4" y="238.6" width="2.4" height="2.6" fill="#777"/>
<rect x="182.4" y="236.6" width="1.6" height="1" fill="#aaa"/>
<rect x="238.1" y="317.9" width="2.6" height="2" fill="#777"/>
<rect x="240.7" y="316.7" width="1.2" height="1.2" fill="#aaa"/>
<rect x="184.4" y="263.6" width="2.4" height="2.6" fill="#777"/>
<rect x="182.4" y="261.6" width="1.6" height="1" fill="#aaa"/>
<rect x="263.0" y="317.9" width="2.6" height="2" fill="#777"/>
<rect x="265.6" y="316.7" width="1.2" height="1.2" fill="#aaa"/>
<rect x="184.4" y="288.7" width="2.4" height="2.6" fill="#777"/>
<rect x="182.4" y="286.7" width="1.6" height="1" fill="#aaa"/>
<rect x="288.0" y="317.9" width="2.6" height="2" fill="#777"/>
<rect x="290.6" y="316.7" width="1.2" height="1.2" fill="#aaa"/>
<rect x="184.4" y="313.7" width="2.4" height="2.6" fill="#777"/>
<rect x="182.4" y="311.7" width="1.6" height="1" fill="#aaa"/>
<line x1="301.8" y1="213.2" x2="401.1" y2="213.2" stroke="#a0a0a0" stroke-width="1.4"/>
<line x1="401.1" y1="213.2" x2="401.1" y2="313.2" stroke="#b4b4b4" stroke-width="1.8"/>
<line x1="301.8" y1="213.2" x2="301.8" y2="313.2" stroke="#aaa" stroke-width="1"/>
<line x1="301.3" y1="313.2" x2="401.1" y2="313.2" stroke="#999" stroke-width="1"/>
<path d="M301.35 312.60h0.9v2h-0.9zM308.82 312.60h0.9v2h-0.9zM313.19 312.60h0.9v2h-0.9zM316.30 312.60h0.9v2h-0.9zM318.70 312.60h0.9v2h-0.9zM320.67 312.60h0.9v2h-0.9zM322.33 312.60h0.9v2h-0.9zM323.77 312.60h0.9v2h-0.9zM325.04 312.60h0.9v2h-0.9zM326.18 312.60h0.9v2h-0.9zM333.65 312.60h0.9v2h-0.9zM338.02 312.60h0.9v2h-0.9zM341.12 312.60h0.9v2h-0.9zM343.53 312.60h0.9v2h-0.9zM345.49 312.60h0.9v2h-0.9zM347.15 312.60h0.9v2h-0.9zM348.59 312.60h0.9v2h-0.9zM349.86 312.60h0.9v2h-0.9zM351.00 312.60h0.9v2h-0.9zM358.47 312.60h0.9v2h-0.9zM362.84 312.60h0.9v2h-0.9zM365.95 312.60h0.9v2h-0.9zM368.35 312.60h0.9v2h-0.9zM370.32 312.60h0.9v2h-0.9zM371.98 312.60h0.9v2h-0.9zM373.42 312.60h0.9v2h-0.9zM374.69 312.60h0.9v2h-0.9zM375.82 312.60h0.9v2h-0.9zM383.30 312.60h0.9v2h-0.9zM387.67 312.60h0.9v2h-0.9zM390.77 312.60h0.9v2h-0.9zM393.18 312.60h0.9v2h-0.9zM395.14 312.60h0.9v2h-0.9zM396.80 312.60h0.9v2h-0.9zM398.24 312.60h0.9v2h-0.9zM399.51 312.60h0.9v2h-0.9zM400.65 312.60h0.9v2h-0.9zM300.60 312.75h2v0.9h-2zM300.60 305.22h2v0.9h-2zM300.60 300.82h2v0.9h-2zM300.60 297.70h2v0.9h-2zM300.60 295.28h2v0.9h-2zM300.60 293.30h2v0.9h-2zM300.60 291.62h2v0.9h-2zM300.60 290.17h2v0.9h-2zM300.60 288.89h2v0.9h-2zM300.60 287.75h2v0.9h-2zM300.60 280.22h2v0.9h-2zM300.60 275.82h2v0.9h-2zM300.60 272.70h2v0.9h-2zM300.60 270.28h2v0.9h-2zM300.60 268.30h2v0.9h-2zM300.60 266.62h2v0.9h-2zM300.60 265.17h2v0.9h-2zM300.60 263.89h2v0.9h-2zM300.60 262.75h2v0.9h-2zM300.60 255.22h2v0.9h-2zM300.60 250.82h2v0.9h-2zM300.60 247.70h2v0.9h-2zM300.60 245.28h2v0.9h-2zM300.60 243.30h2v0.9h-2zM300.60 241.62h2v0.9h-2zM300.60 240.17h2v0.9h-2zM300.60 238.89h2v0.9h-2zM300.60 237.75h2v0.9h-2zM300.60 230.22h2v0.9h-2zM300.60 225.82h2v0.9h-2zM300.60 222.70h2v0.9h-2zM300.60 220.28h2v0.9h-2zM300.60 218.30h2v0.9h-2zM300.60 216.62h2v0.9h-2zM300.60 215.17h2v0.9h-2zM300.60 213.89h2v0.9h-2zM300.60 212.75h2v0.9h-2z" fill="#555" fill-opacity="0.5"/>
<rect x="300.5" y="316.6" width="2.6" height="2" fill="#777"/>
<rect x="303.1" y="315.4" width="1.2" height="1.2" fill="#aaa"/>
<rect x="296.8" y="212.4" width="2.4" height="2.6" fill="#777"/>
<rect x="294.8" y="210.4" width="1.6" height="1" fill="#aaa"/>
<rect x="325.3" y="316.6" width="2.6" height="2" fill="#777"/>
<rect x="327.9" y="315.4" width="1.2" height="1.2" fill="#aaa"/>
<rect x="296.8" y="237.4" width="2.4" height="2.6" fill="#777"/>
<rect x="294.8" y="235.4" width="1.6" height="1" fill="#aaa"/>
<rect x="350.1" y="316.6" width="2.6" height="2" fill="#777"/>
<rect x="352.8" y="315.4" width="1.2" height="1.2" fill="#aaa"/>
<rect x="296.8" y="262.4" width="2.4" height="2.6" fill="#777"/>
<rect x="294.8" y="260.4" width="1.6" height="1" fill="#aaa"/>
<rect x="375.0" y="316.6" width="2.6" height="2" fill="#777"/>
<rect x="377.6" y="315.4" width="1.2" height="1.2" fill="#aaa"/>
<rect x="296.8" y="287.4" width="2.4" height="2.6" fill="#777"/>
<rect x="294.8" y="285.4" width="1.6" height="1" fill="#aaa"/>
<rect x="399.8" y="316.6" width="2.6" height="2" fill="#777"/>
<rect x="402.4" y="315.4" width="1.2" height="1.2" fill="#aaa"/>
<rect x="296.8" y="312.4" width="2.4" height="2.6" fill="#777"/>
<rect x="294.8" y="310.4" width="1.6" height="1" fill="#aaa"/>
<line x1="416.8" y1="213.2" x2="515.6" y2="213.2" stroke="#a0a0a0" stroke-width="1.4"/>
<line x1="515.6" y1="213.2" x2="515.6" y2="314.2" stroke="#b4b4b4" stroke-width="1.8"/>
<line x1="416.8" y1="213.2" x2="416.8" y2="314.2" stroke="#aaa" stroke-width="1"/>
<line x1="416.3" y1="314.2" x2="515.6" y2="314.2" stroke="#999" stroke-width="1"/>
<path d="M416.35 313.60h0.9v2h-0.9zM423.79 313.60h0.9v2h-0.9zM428.13 313.60h0.9v2h-0.9zM431.22 313.60h0.9v2h-0.9zM433.61 313.60h0.9v2h-0.9zM435.57 313.60h0.9v2h-0.9zM437.22 313.60h0.9v2h-0.9zM438.66 313.60h0.9v2h-0.9zM439.92 313.60h0.9v2h-0.9zM441.05 313.60h0.9v2h-0.9zM448.49 313.60h0.9v2h-0.9zM452.83 313.60h0.9v2h-0.9zM455.92 313.60h0.9v2h-0.9zM458.31 313.60h0.9v2h-0.9zM460.27 313.60h0.9v2h-0.9zM461.92 313.60h0.9v2h-0.9zM463.36 313.60h0.9v2h-0.9zM464.62 313.60h0.9v2h-0.9zM465.75 313.60h0.9v2h-0.9zM473.19 313.60h0.9v2h-0.9zM477.53 313.60h0.9v2h-0.9zM480.62 313.60h0.9v2h-0.9zM483.01 313.60h0.9v2h-0.9zM484.97 313.60h0.9v2h-0.9zM486.62 313.60h0.9v2h-0.9zM488.06 313.60h0.9v2h-0.9zM489.32 313.60h0.9v2h-0.9zM490.45 313.60h0.9v2h-0.9zM497.89 313.60h0.9v2h-0.9zM502.23 313.60h0.9v2h-0.9zM505.32 313.60h0.9v2h-0.9zM507.71 313.60h0.9v2h-0.9zM509.67 313.60h0.9v2h-0.9zM511.32 313.60h0.9v2h-0.9zM512.76 313.60h0.9v2h-0.9zM514.02 313.60h0.9v2h-0.9zM515.15 313.60h0.9v2h-0.9zM415.60 313.75h2v0.9h-2zM415.60 306.15h2v0.9h-2zM415.60 301.70h2v0.9h-2zM415.60 298.55h2v0.9h-2zM415.60 296.10h2v0.9h-2zM415.60 294.10h2v0.9h-2zM415.60 292.41h2v0.9h-2zM415.60 290.95h2v0.9h-2zM415.60 289.66h2v0.9h-2zM415.60 288.50h2v0.9h-2zM415.60 280.90h2v0.9h-2zM415.60 276.45h2v0.9h-2zM415.60 273.30h2v0.9h-2zM415.60 270.85h2v0.9h-2zM415.60 268.85h2v0.9h-2zM415.60 267.16h2v0.9h-2zM415.60 265.70h2v0.9h-2zM415.60 264.41h2v0.9h-2zM415.60 263.25h2v0.9h-2zM415.60 255.65h2v0.9h-2zM415.60 251.20h2v0.9h-2zM415.60 248.05h2v0.9h-2zM415.60 245.60h2v0.9h-2zM415.60 243.60h2v0.9h-2zM415.60 241.91h2v0.9h-2zM415.60 240.45h2v0.9h-2zM415.60 239.16h2v0.9h-2zM415.60 238.00h2v0.9h-2zM415.60 230.40h2v0.9h-2zM415.60 225.95h2v0.9h-2zM415.60 222.80h2v0.9h-2zM415.60 220.35h2v0.9h-2zM415.60 218.35h2v0.9h-2zM415.60 216.66h2v0.9h-2zM415.60 215.20h2v0.9h-2zM415.60 213.91h2v0.9h-2zM415.60 212.75h2v0.9h-2z" fill="#555" fill-opacity="0.5"/>
<rect x="415.5" y="317.6" width="2.6" height="2" fill="#777"/>
<rect x="418.1" y="316.4" width="1.2" height="1.2" fill="#aaa"/>
<rect x="411.8" y="212.4" width="2.4" height="2.6" fill="#777"/>
<rect x="409.8" y="210.4" width="1.6" height="1" fill="#aaa"/>
<rect x="440.2" y="317.6" width="2.6" height="2" fill="#777"/>
<rect x="442.8" y="316.4" width="1.2" height="1.2" fill="#aaa"/>
<rect x="411.8" y="237.6" width="2.4" height="2.6" fill="#777"/>
<rect x="409.8" y="235.6" width="1.6" height="1" fill="#aaa"/>
<rect x="464.9" y="317.6" width="2.6" height="2" fill="#777"/>
<rect x="467.5" y="316.4" width="1.2" height="1.2" fill="#aaa"/>
<rect x="411.8" y="262.9" width="2.4" height="2.6" fill="#777"/>
<rect x="409.8" y="260.9" width="1.6" height="1" fill="#aaa"/>
<rect x="489.6" y="317.6" width="2.6" height="2" fill="#777"/>
<rect x="492.2" y="316.4" width="1.2" height="1.2" fill="#aaa"/>
<rect x="411.8" y="288.1" width="2.4" height="2.6" fill="#777"/>
<rect x="409.8" y="286.1" width="1.6" height="1" fill="#aaa"/>
<rect x="514.3" y="317.6" width="2.6" height="2" fill="#777"/>
<rect x="516.9" y="316.4" width="1.2" height="1.2" fill="#aaa"/>
<rect x="411.8" y="313.4" width="2.4" height="2.6" fill="#777"/>
<rect x="409.8" y="311.4" width="1.6" height="1" fill="#aaa"/>
<path d="M198.9 286.4h0.9v0.9h-0.9zM201.1 298.5h0.9v0.9h-0.9zM201.0 289.2h0.9v0.9h-0.9zM206.6 284.7h0.9v0.9h-0.9zM195.8 302.0h0.9v0.9h-0.9zM207.5 294.3h0.9v0.9h-0.9zM203.2 285.5h0.9v0.9h-0.9zM213.4 290.2h0.9v0.9h-0.9zM213.8 287.3h0.9v0.9h-0.9zM216.2 285.9h0.9v0.9h-0.9zM212.7 291.0h0.9v0.9h-0.9zM208.2 298.2h0.9v0.9h-0.9zM213.2 283.2h0.9v0.9h-0.9zM216.8 294.6h0.9v0.9h-0.9zM204.9 283.0h0.9v0.9h-0.9zM211.9 291.2h0.9v0.9h-0.9zM208.3 283.0h0.9v0.9h-0.9zM216.4 283.6h0.9v0.9h-0.9zM203.9 287.5h0.9v0.9h-0.9zM206.8 297.5h0.9v0.9h-0.9zM210.5 296.5h0.9v0.9h-0.9zM209.9 290.7h0.9v0.9h-0.9zM199.5 289.6h0.9v0.9h-0.9zM210.5 292.2h0.9v0.9h-0.9zM207.8 308.3h0.9v0.9h-0.9zM207.2 293.5h0.9v0.9h-0.9zM207.6 290.7h0.9v0.9h-0.9zM209.7 288.6h0.9v0.9h-0.9zM198.5 289.6h0.9v0.9h-0.9zM217.0 295.2h0.9v0.9h-0.9zM203.8 294.9h0.9v0.9h-0.9zM196.2 277.1h0.9v0.9h-0.9zM208.0 304.0h0.9v0.9h-0.9zM216.5 294.1h0.9v0.9h-0.9zM205.6 290.9h0.9v0.9h-0.9zM217.0 307.5h0.9v0.9h-0.9zM217.1 282.2h0.9v0.9h-0.9zM203.8 283.9h0.9v0.9h-0.9zM194.9 298.2h0.9v0.9h-0.9zM201.7 291.5h0.9v0.9h-0.9zM215.0 296.8h0.9v0.9h-0.9zM204.0 298.8h0.9v0.9h-0.9zM200.2 302.4h0.9v0.9h-0.9zM201.1 295.5h0.9v0.9h-0.9zM208.5 287.6h0.9v0.9h-0.9zM208.4 281.4h0.9v0.9h-0.9zM213.3 292.3h0.9v0.9h-0.9zM213.9 280.9h0.9v0.9h-0.9zM203.4 291.8h0.9v0.9h-0.9zM207.6 286.7h0.9v0.9h-0.9zM202.3 293.8h0.9v0.9h-0.9zM208.9 295.6h0.9v0.9h-0.9zM202.2 291.2h0.9v0.9h-0.9zM201.9 283.2h0.9v0.9h-0.9zM220.2 292.3h0.9v0.9h-0.9zM208.7 287.1h0.9v0.9h-0.9zM212.0 293.3h0.9v0.9h-0.9zM222.5 288.7h0.9v0.9h-0.9zM212.8 305.5h0.9v0.9h-0.9zM207.9 288.2h0.9v0.9h-0.9zM208.8 279.9h0.9v0.9h-0.9zM204.4 285.9h0.9v0.9h-0.9zM214.5 291.9h0.9v0.9h-0.9zM206.7 308.1h0.9v0.9h-0.9zM218.2 299.9h0.9v0.9h-0.9zM206.6 287.9h0.9v0.9h-0.9zM206.6 291.5h0.9v0.9h-0.9zM206.2 284.2h0.9v0.9h-0.9zM211.9 282.6h0.9v0.9h-0.9zM209.5 297.1h0.9v0.9h-0.9zM216.0 293.9h0.9v0.9h-0.9zM205.5 286.9h0.9v0.9h-0.9zM210.1 287.1h0.9v0.9h-0.9zM219.2 294.0h0.9v0.9h-0.9zM207.2 295.5h0.9v0.9h-0.9zM211.4 286.6h0.9v0.9h-0.9zM217.1 281.1h0.9v0.9h-0.9zM211.5 296.8h0.9v0.9h-0.9zM205.0 287.0h0.9v0.9h-0.9zM197.2 280.4h0.9v0.9h-0.9zM221.7 290.3h0.9v0.9h-0.9zM210.9 292.7h0.9v0.9h-0.9zM215.4 297.2h0.9v0.9h-0.9zM205.9 288.8h0.9v0.9h-0.9zM218.5 293.1h0.9v0.9h-0.9zM211.4 283.8h0.9v0.9h-0.9zM208.8 294.2h0.9v0.9h-0.9zM203.5 282.1h0.9v0.9h-0.9zM210.5 295.1h0.9v0.9h-0.9zM205.8 292.4h0.9v0.9h-0.9zM207.3 282.2h0.9v0.9h-0.9zM199.6 287.6h0.9v0.9h-0.9zM205.8 301.4h0.9v0.9h-0.9zM209.4 285.0h0.9v0.9h-0.9zM201.6 281.5h0.9v0.9h-0.9zM208.9 289.7h0.9v0.9h-0.9zM212.1 292.4h0.9v0.9h-0.9zM206.8 296.4h0.9v0.9h-0.9zM205.1 290.5h0.9v0.9h-0.9zM205.1 288.6h0.9v0.9h-0.9zM213.7 290.0h0.9v0.9h-0.9zM200.1 296.1h0.9v0.9h-0.9zM206.8 290.3h0.9v0.9h-0.9zM206.2 294.8h0.9v0.9h-0.9zM209.3 280.6h0.9v0.9h-0.9zM208.1 289.3h0.9v0.9h-0.9zM202.4 290.9h0.9v0.9h-0.9zM219.7 297.7h0.9v0.9h-0.9zM209.5 294.2h0.9v0.9h-0.9zM201.1 292.7h0.9v0.9h-0.9zM203.6 298.0h0.9v0.9h-0.9zM209.0 292.5h0.9v0.9h-0.9zM211.9 310.5h0.9v0.9h-0.9zM201.1 286.0h0.9v0.9h-0.9zM212.4 292.2h0.9v0.9h-0.9zM200.9 302.6h0.9v0.9h-0.9zM204.1 296.2h0.9v0.9h-0.9zM213.2 293.4h0.9v0.9h-0.9zM217.9 297.6h0.9v0.9h-0.9zM208.0 288.7h0.9v0.9h-0.9zM206.8 292.2h0.9v0.9h-0.9zM215.5 292.6h0.9v0.9h-0.9zM202.6 303.3h0.9v0.9h-0.9zM210.0 293.5h0.9v0.9h-0.9zM209.8 304.1h0.9v0.9h-0.9zM214.1 291.4h0.9v0.9h-0.9zM210.1 293.2h0.9v0.9h-0.9zM207.0 281.3h0.9v0.9h-0.9zM211.9 295.4h0.9v0.9h-0.9zM202.3 279.6h0.9v0.9h-0.9zM213.0 295.6h0.9v0.9h-0.9zM204.8 297.5h0.9v0.9h-0.9zM203.5 294.0h0.9v0.9h-0.9zM206.5 285.2h0.9v0.9h-0.9zM208.8 289.8h0.9v0.9h-0.9zM212.4 275.5h0.9v0.9h-0.9zM207.3 287.2h0.9v0.9h-0.9zM212.5 292.9h0.9v0.9h-0.9zM213.9 291.5h0.9v0.9h-0.9zM207.9 289.3h0.9v0.9h-0.9zM203.1 299.4h0.9v0.9h-0.9zM213.6 293.6h0.9v0.9h-0.9zM210.0 291.4h0.9v0.9h-0.9zM196.9 292.6h0.9v0.9h-0.9zM203.1 285.0h0.9v0.9h-0.9zM209.3 290.3h0.9v0.9h-0.9zM201.0 279.6h0.9v0.9h-0.9zM204.8 274.7h0.9v0.9h-0.9zM199.1 289.2h0.9v0.9h-0.9zM210.7 296.9h0.9v0.9h-0.9zM209.8 284.7h0.9v0.9h-0.9zM209.5 293.7h0.9v0.9h-0.9zM216.5 280.8h0.9v0.9h-0.9zM206.6 291.2h0.9v0.9h-0.9zM206.9 291.4h0.9v0.9h-0.9zM219.6 291.3h0.9v0.9h-0.9zM201.3 282.6h0.9v0.9h-0.9zM212.5 294.7h0.9v0.9h-0.9zM201.3 295.5h0.9v0.9h-0.9zM209.8 294.6h0.9v0.9h-0.9zM220.1 305.1h0.9v0.9h-0.9zM210.0 289.2h0.9v0.9h-0.9zM204.3 292.5h0.9v0.9h-0.9zM221.6 298.7h0.9v0.9h-0.9zM205.5 283.3h0.9v0.9h-0.9zM207.4 285.9h0.9v0.9h-0.9zM210.2 298.1h0.9v0.9h-0.9zM201.1 289.3h0.9v0.9h-0.9zM214.6 286.6h0.9v0.9h-0.9zM217.4 294.4h0.9v0.9h-0.9zM212.7 283.3h0.9v0.9h-0.9zM210.3 292.3h0.9v0.9h-0.9zM207.7 285.2h0.9v0.9h-0.9zM213.4 287.5h0.9v0.9h-0.9zM191.2 275.4h0.9v0.9h-0.9zM207.8 292.7h0.9v0.9h-0.9zM209.9 293.0h0.9v0.9h-0.9zM197.6 290.4h0.9v0.9h-0.9zM210.8 287.4h0.9v0.9h-0.9zM207.8 292.9h0.9v0.9h-0.9zM208.3 300.4h0.9v0.9h-0.9zM209.1 296.8h0.9v0.9h-0.9zM211.7 287.2h0.9v0.9h-0.9zM211.0 293.0h0.9v0.9h-0.9zM202.8 290.0h0.9v0.9h-0.9zM207.9 294.8h0.9v0.9h-0.9zM207.5 286.7h0.9v0.9h-0.9zM208.7 300.5h0.9v0.9h-0.9zM205.2 286.8h0.9v0.9h-0.9zM213.8 285.5h0.9v0.9h-0.9zM215.7 293.6h0.9v0.9h-0.9zM216.9 301.5h0.9v0.9h-0.9zM219.0 281.4h0.9v0.9h-0.9zM216.7 291.9h0.9v0.9h-0.9zM206.0 295.4h0.9v0.9h-0.9zM205.1 307.9h0.9v0.9h-0.9zM206.3 282.5h0.9v0.9h-0.9zM211.6 298.4h0.9v0.9h-0.9zM207.8 287.2h0.9v0.9h-0.9zM214.0 289.6h0.9v0.9h-0.9zM217.6 297.4h0.9v0.9h-0.9zM206.1 291.9h0.9v0.9h-0.9zM213.9 283.4h0.9v0.9h-0.9zM206.3 290.3h0.9v0.9h-0.9zM201.5 289.3h0.9v0.9h-0.9zM201.5 292.7h0.9v0.9h-0.9zM206.7 285.9h0.9v0.9h-0.9zM198.1 287.4h0.9v0.9h-0.9zM211.2 289.5h0.9v0.9h-0.9zM216.8 291.7h0.9v0.9h-0.9zM202.1 290.5h0.9v0.9h-0.9zM206.7 294.1h0.9v0.9h-0.9zM217.0 295.4h0.9v0.9h-0.9zM210.4 293.5h0.9v0.9h-0.9zM209.6 287.5h0.9v0.9h-0.9zM207.1 282.1h0.9v0.9h-0.9zM214.1 286.1h0.9v0.9h-0.9zM210.3 287.3h0.9v0.9h-0.9zM202.5 289.8h0.9v0.9h-0.9zM195.1 296.8h0.9v0.9h-0.9zM193.8 290.8h0.9v0.9h-0.9zM212.1 285.5h0.9v0.9h-0.9zM207.0 283.3h0.9v0.9h-0.9zM216.5 290.5h0.9v0.9h-0.9zM211.3 289.6h0.9v0.9h-0.9zM201.5 284.7h0.9v0.9h-0.9zM210.1 281.2h0.9v0.9h-0.9zM215.1 289.0h0.9v0.9h-0.9zM203.5 293.4h0.9v0.9h-0.9zM205.7 292.3h0.9v0.9h-0.9zM218.1 282.3h0.9v0.9h-0.9zM198.9 288.4h0.9v0.9h-0.9zM202.5 289.9h0.9v0.9h-0.9zM214.3 285.2h0.9v0.9h-0.9zM209.6 290.5h0.9v0.9h-0.9zM202.2 287.2h0.9v0.9h-0.9zM200.5 296.6h0.9v0.9h-0.9zM211.0 287.1h0.9v0.9h-0.9zM215.2 300.8h0.9v0.9h-0.9zM213.0 297.2h0.9v0.9h-0.9zM210.8 293.5h0.9v0.9h-0.9zM216.7 292.8h0.9v0.9h-0.9zM210.2 299.7h0.9v0.9h-0.9zM203.9 289.2h0.9v0.9h-0.9zM219.7 293.9h0.9v0.9h-0.9zM201.7 289.9h0.9v0.9h-0.9zM207.8 300.6h0.9v0.9h-0.9zM208.1 289.6h0.9v0.9h-0.9zM216.4 289.9h0.9v0.9h-0.9zM204.3 275.6h0.9v0.9h-0.9zM207.0 292.9h0.9v0.9h-0.9zM198.7 289.3h0.9v0.9h-0.9zM210.4 294.8h0.9v0.9h-0.9zM210.9 282.6h0.9v0.9h-0.9zM212.1 286.2h0.9v0.9h-0.9zM203.4 299.3h0.9v0.9h-0.9zM209.8 286.8h0.9v0.9h-0.9zM203.6 292.6h0.9v0.9h-0.9zM205.9 296.9h0.9v0.9h-0.9zM208.1 291.9h0.9v0.9h-0.9zM215.6 291.8h0.9v0.9h-0.9zM206.1 298.7h0.9v0.9h-0.9zM209.5 288.2h0.9v0.9h-0.9zM203.8 294.9h0.9v0.9h-0.9zM205.3 289.8h0.9v0.9h-0.9zM204.6 284.7h0.9v0.9h-0.9zM207.6 291.7h0.9v0.9h-0.9zM212.7 299.4h0.9v0.9h-0.9zM202.4 290.4h0.9v0.9h-0.9zM212.4 287.3h0.9v0.9h-0.9zM203.2 290.2h0.9v0.9h-0.9zM210.3 288.6h0.9v0.9h-0.9zM205.4 294.5h0.9v0.9h-0.9zM206.8 285.5h0.9v0.9h-0.9zM206.3 296.9h0.9v0.9h-0.9zM214.5 294.0h0.9v0.9h-0.9zM209.8 298.8h0.9v0.9h-0.9zM214.3 288.7h0.9v0.9h-0.9zM206.4 297.1h0.9v0.9h-0.9zM207.1 285.5h0.9v0.9h-0.9zM217.3 295.1h0.9v0.9h-0.9zM199.3 290.1h0.9v0.9h-0.9zM203.5 284.8h0.9v0.9h-0.9zM207.4 296.2h0.9v0.9h-0.9zM218.4 300.2h0.9v0.9h-0.9zM205.0 302.2h0.9v0.9h-0.9zM212.7 294.2h0.9v0.9h-0.9zM217.1 290.1h0.9v0.9h-0.9zM207.1 300.4h0.9v0.9h-0.9zM207.4 285.8h0.9v0.9h-0.9zM217.6 292.4h0.9v0.9h-0.9zM205.3 282.6h0.9v0.9h-0.9zM202.6 292.4h0.9v0.9h-0.9zM212.9 293.1h0.9v0.9h-0.9zM205.5 289.1h0.9v0.9h-0.9zM215.5 297.8h0.9v0.9h-0.9zM211.3 290.7h0.9v0.9h-0.9zM198.7 294.4h0.9v0.9h-0.9zM209.9 294.7h0.9v0.9h-0.9zM208.4 290.8h0.9v0.9h-0.9zM204.7 276.1h0.9v0.9h-0.9zM214.4 289.0h0.9v0.9h-0.9zM198.6 292.5h0.9v0.9h-0.9zM201.5 285.4h0.9v0.9h-0.9zM205.6 291.8h0.9v0.9h-0.9zM212.7 282.5h0.9v0.9h-0.9zM199.9 295.2h0.9v0.9h-0.9zM204.8 295.2h0.9v0.9h-0.9zM204.4 293.9h0.9v0.9h-0.9zM200.0 288.5h0.9v0.9h-0.9zM206.2 293.2h0.9v0.9h-0.9zM202.0 283.9h0.9v0.9h-0.9zM205.8 286.7h0.9v0.9h-0.9zM209.9 294.0h0.9v0.9h-0.9zM203.3 287.3h0.9v0.9h-0.9zM203.5 289.9h0.9v0.9h-0.9zM202.8 291.3h0.9v0.9h-0.9zM203.6 297.8h0.9v0.9h-0.9zM199.6 287.3h0.9v0.9h-0.9zM201.8 288.0h0.9v0.9h-0.9zM208.9 287.1h0.9v0.9h-0.9zM203.4 281.4h0.9v0.9h-0.9zM226.3 292.5h0.9v0.9h-0.9zM203.8 278.9h0.9v0.9h-0.9zM210.8 286.4h0.9v0.9h-0.9zM200.0 299.1h0.9v0.9h-0.9zM206.8 291.3h0.9v0.9h-0.9zM205.2 277.7h0.9v0.9h-0.9zM207.8 285.2h0.9v0.9h-0.9zM215.6 301.3h0.9v0.9h-0.9zM207.4 289.5h0.9v0.9h-0.9zM201.6 302.4h0.9v0.9h-0.9zM209.0 287.9h0.9v0.9h-0.9zM203.0 276.6h0.9v0.9h-0.9zM207.7 292.8h0.9v0.9h-0.9zM217.2 289.8h0.9v0.9h-0.9zM213.6 292.9h0.9v0.9h-0.9zM214.4 284.9h0.9v0.9h-0.9zM211.4 284.7h0.9v0.9h-0.9zM208.3 287.6h0.9v0.9h-0.9zM199.9 284.8h0.9v0.9h-0.9zM205.8 296.3h0.9v0.9h-0.9zM205.5 297.9h0.9v0.9h-0.9zM212.2 289.9h0.9v0.9h-0.9zM214.0 296.9h0.9v0.9h-0.9zM211.1 287.0h0.9v0.9h-0.9zM204.1 289.3h0.9v0.9h-0.9zM218.7 281.1h0.9v0.9h-0.9zM216.3 298.7h0.9v0.9h-0.9zM207.3 288.0h0.9v0.9h-0.9zM209.6 298.8h0.9v0.9h-0.9zM212.0 298.7h0.9v0.9h-0.9zM209.1 294.4h0.9v0.9h-0.9zM208.0 292.7h0.9v0.9h-0.9zM211.2 285.1h0.9v0.9h-0.9zM208.6 296.5h0.9v0.9h-0.9zM209.6 295.1h0.9v0.9h-0.9zM199.6 298.1h0.9v0.9h-0.9zM199.7 293.5h0.9v0.9h-0.9zM218.1 284.1h0.9v0.9h-0.9zM200.1 284.7h0.9v0.9h-0.9zM211.2 297.1h0.9v0.9h-0.9zM210.3 301.4h0.9v0.9h-0.9zM209.7 290.0h0.9v0.9h-0.9zM204.7 291.1h0.9v0.9h-0.9zM214.1 293.4h0.9v0.9h-0.9zM210.4 292.8h0.9v0.9h-0.9zM206.6 293.3h0.9v0.9h-0.9zM200.8 289.9h0.9v0.9h-0.9zM207.2 292.6h0.9v0.9h-0.9zM205.2 288.0h0.9v0.9h-0.9zM201.6 290.8h0.9v0.9h-0.9zM210.6 295.5h0.9v0.9h-0.9zM211.7 291.7h0.9v0.9h-0.9zM213.1 287.6h0.9v0.9h-0.9zM209.2 293.1h0.9v0.9h-0.9zM207.2 284.8h0.9v0.9h-0.9zM214.8 287.4h0.9v0.9h-0.9zM212.8 285.1h0.9v0.9h-0.9zM221.3 293.0h0.9v0.9h-0.9zM211.7 295.2h0.9v0.9h-0.9zM203.5 289.1h0.9v0.9h-0.9zM213.9 286.0h0.9v0.9h-0.9zM221.5 294.2h0.9v0.9h-0.9zM210.1 292.8h0.9v0.9h-0.9zM207.6 281.9h0.9v0.9h-0.9zM205.4 297.1h0.9v0.9h-0.9zM219.2 296.8h0.9v0.9h-0.9zM207.7 289.7h0.9v0.9h-0.9zM207.3 290.8h0.9v0.9h-0.9zM210.4 290.6h0.9v0.9h-0.9zM200.9 288.4h0.9v0.9h-0.9zM207.2 293.8h0.9v0.9h-0.9zM201.7 286.8h0.9v0.9h-0.9zM208.0 289.3h0.9v0.9h-0.9zM211.5 292.0h0.9v0.9h-0.9zM213.9 281.0h0.9v0.9h-0.9zM206.5 288.0h0.9v0.9h-0.9zM213.3 283.6h0.9v0.9h-0.9zM206.6 288.3h0.9v0.9h-0.9zM199.7 287.9h0.9v0.9h-0.9zM211.9 289.8h0.9v0.9h-0.9zM207.7 291.7h0.9v0.9h-0.9zM209.4 284.7h0.9v0.9h-0.9zM194.4 292.5h0.9v0.9h-0.9zM210.0 280.5h0.9v0.9h-0.9zM210.2 296.3h0.9v0.9h-0.9zM210.2 290.2h0.9v0.9h-0.9zM214.6 295.4h0.9v0.9h-0.9zM206.9 279.2h0.9v0.9h-0.9zM220.7 298.9h0.9v0.9h-0.9zM212.9 288.9h0.9v0.9h-0.9zM211.9 292.6h0.9v0.9h-0.9zM195.2 291.3h0.9v0.9h-0.9zM198.1 290.2h0.9v0.9h-0.9zM217.2 287.8h0.9v0.9h-0.9zM211.1 278.6h0.9v0.9h-0.9zM214.1 298.1h0.9v0.9h-0.9zM206.9 301.9h0.9v0.9h-0.9zM208.4 287.1h0.9v0.9h-0.9zM212.3 298.8h0.9v0.9h-0.9zM204.7 296.5h0.9v0.9h-0.9zM216.4 293.0h0.9v0.9h-0.9zM203.0 290.1h0.9v0.9h-0.9zM210.3 294.5h0.9v0.9h-0.9zM207.6 287.1h0.9v0.9h-0.9zM211.1 288.9h0.9v0.9h-0.9zM216.0 287.8h0.9v0.9h-0.9zM203.0 286.5h0.9v0.9h-0.9zM211.7 287.7h0.9v0.9h-0.9zM209.9 294.6h0.9v0.9h-0.9zM213.9 295.0h0.9v0.9h-0.9zM209.1 286.2h0.9v0.9h-0.9zM206.6 290.6h0.9v0.9h-0.9zM212.0 289.9h0.9v0.9h-0.9zM216.6 280.6h0.9v0.9h-0.9zM213.8 297.8h0.9v0.9h-0.9zM210.2 284.5h0.9v0.9h-0.9zM211.7 297.9h0.9v0.9h-0.9zM200.8 277.1h0.9v0.9h-0.9zM206.3 286.4h0.9v0.9h-0.9zM207.9 295.7h0.9v0.9h-0.9zM206.4 293.8h0.9v0.9h-0.9zM205.5 294.2h0.9v0.9h-0.9zM209.1 290.9h0.9v0.9h-0.9zM211.5 303.6h0.9v0.9h-0.9zM220.0 291.6h0.9v0.9h-0.9zM205.5 293.3h0.9v0.9h-0.9zM204.3 286.9h0.9v0.9h-0.9zM214.8 286.5h0.9v0.9h-0.9zM210.2 299.6h0.9v0.9h-0.9zM204.4 299.6h0.9v0.9h-0.9zM217.7 280.5h0.9v0.9h-0.9zM208.2 288.0h0.9v0.9h-0.9zM207.5 298.9h0.9v0.9h-0.9zM205.9 291.9h0.9v0.9h-0.9zM204.2 297.3h0.9v0.9h-0.9zM209.8 280.5h0.9v0.9h-0.9zM204.0 292.5h0.9v0.9h-0.9zM222.8 291.5h0.9v0.9h-0.9zM211.1 291.9h0.9v0.9h-0.9zM207.9 287.6h0.9v0.9h-0.9zM205.0 291.2h0.9v0.9h-0.9zM210.6 302.2h0.9v0.9h-0.9zM214.7 285.0h0.9v0.9h-0.9zM210.5 291.1h0.9v0.9h-0.9zM202.9 289.6h0.9v0.9h-0.9zM207.9 289.9h0.9v0.9h-0.9zM199.8 302.4h0.9v0.9h-0.9zM217.0 301.1h0.9v0.9h-0.9zM212.9 289.3h0.9v0.9h-0.9zM210.2 294.7h0.9v0.9h-0.9zM210.7 286.6h0.9v0.9h-0.9zM206.0 293.5h0.9v0.9h-0.9zM208.3 289.3h0.9v0.9h-0.9zM214.4 300.5h0.9v0.9h-0.9zM208.9 294.3h0.9v0.9h-0.9zM212.3 285.2h0.9v0.9h-0.9zM210.3 280.7h0.9v0.9h-0.9zM210.4 284.8h0.9v0.9h-0.9zM210.9 304.3h0.9v0.9h-0.9zM214.8 285.6h0.9v0.9h-0.9zM207.5 282.9h0.9v0.9h-0.9zM212.9 287.4h0.9v0.9h-0.9zM204.8 288.6h0.9v0.9h-0.9zM205.9 295.3h0.9v0.9h-0.9zM205.2 286.9h0.9v0.9h-0.9zM213.8 301.7h0.9v0.9h-0.9zM207.5 291.6h0.9v0.9h-0.9zM215.9 293.4h0.9v0.9h-0.9zM203.6 300.2h0.9v0.9h-0.9zM211.3 292.7h0.9v0.9h-0.9zM202.8 293.5h0.9v0.9h-0.9zM215.4 295.5h0.9v0.9h-0.9zM205.4 287.2h0.9v0.9h-0.9zM211.7 288.3h0.9v0.9h-0.9zM205.4 295.7h0.9v0.9h-0.9zM205.0 286.8h0.9v0.9h-0.9zM210.5 288.1h0.9v0.9h-0.9zM199.7 297.2h0.9v0.9h-0.9zM202.6 295.2h0.9v0.9h-0.9zM217.5 293.7h0.9v0.9h-0.9zM204.7 284.7h0.9v0.9h-0.9zM213.7 303.5h0.9v0.9h-0.9zM204.4 290.7h0.9v0.9h-0.9zM200.2 289.7h0.9v0.9h-0.9zM206.9 290.5h0.9v0.9h-0.9zM213.9 286.5h0.9v0.9h-0.9zM209.0 289.9h0.9v0.9h-0.9zM207.5 303.7h0.9v0.9h-0.9zM213.9 282.4h0.9v0.9h-0.9zM205.0 305.1h0.9v0.9h-0.9zM213.1 285.7h0.9v0.9h-0.9zM210.9 285.7h0.9v0.9h-0.9zM203.5 299.8h0.9v0.9h-0.9zM214.2 303.1h0.9v0.9h-0.9zM215.3 289.1h0.9v0.9h-0.9zM207.8 296.5h0.9v0.9h-0.9zM209.8 286.7h0.9v0.9h-0.9zM207.6 289.2h0.9v0.9h-0.9zM202.9 286.8h0.9v0.9h-0.9zM213.4 292.1h0.9v0.9h-0.9zM203.5 287.4h0.9v0.9h-0.9zM212.0 292.1h0.9v0.9h-0.9zM206.1 289.1h0.9v0.9h-0.9zM203.4 291.2h0.9v0.9h-0.9zM212.4 291.6h0.9v0.9h-0.9zM210.3 287.1h0.9v0.9h-0.9zM219.2 288.8h0.9v0.9h-0.9zM208.6 284.1h0.9v0.9h-0.9zM209.8 294.1h0.9v0.9h-0.9zM209.7 295.5h0.9v0.9h-0.9zM207.7 288.8h0.9v0.9h-0.9zM216.3 289.3h0.9v0.9h-0.9zM217.3 287.6h0.9v0.9h-0.9zM212.8 288.2h0.9v0.9h-0.9zM203.5 291.8h0.9v0.9h-0.9zM211.5 280.7h0.9v0.9h-0.9zM209.4 282.1h0.9v0.9h-0.9zM206.6 291.3h0.9v0.9h-0.9zM200.5 296.2h0.9v0.9h-0.9zM213.9 286.7h0.9v0.9h-0.9zM215.7 295.7h0.9v0.9h-0.9zM210.8 296.5h0.9v0.9h-0.9zM211.6 291.5h0.9v0.9h-0.9zM218.7 304.3h0.9v0.9h-0.9zM219.7 290.1h0.9v0.9h-0.9zM210.3 291.7h0.9v0.9h-0.9zM193.4 284.0h0.9v0.9h-0.9zM213.0 284.7h0.9v0.9h-0.9zM209.9 291.5h0.9v0.9h-0.9zM212.8 294.3h0.9v0.9h-0.9zM206.2 289.5h0.9v0.9h-0.9zM203.6 290.5h0.9v0.9h-0.9zM211.9 291.4h0.9v0.9h-0.9zM207.4 295.3h0.9v0.9h-0.9zM209.6 280.5h0.9v0.9h-0.9zM211.3 295.5h0.9v0.9h-0.9zM209.6 285.6h0.9v0.9h-0.9zM201.1 293.6h0.9v0.9h-0.9zM212.2 295.3h0.9v0.9h-0.9zM206.3 282.2h0.9v0.9h-0.9zM207.8 297.3h0.9v0.9h-0.9zM211.3 290.9h0.9v0.9h-0.9zM201.0 287.3h0.9v0.9h-0.9zM207.5 301.2h0.9v0.9h-0.9zM198.9 282.8h0.9v0.9h-0.9zM205.8 281.3h0.9v0.9h-0.9zM210.8 291.5h0.9v0.9h-0.9zM208.1 293.0h0.9v0.9h-0.9zM207.3 289.1h0.9v0.9h-0.9zM211.9 293.8h0.9v0.9h-0.9zM206.5 276.2h0.9v0.9h-0.9zM200.0 296.4h0.9v0.9h-0.9zM214.5 291.5h0.9v0.9h-0.9zM209.8 283.9h0.9v0.9h-0.9zM212.9 283.2h0.9v0.9h-0.9zM206.3 293.3h0.9v0.9h-0.9zM206.2 292.9h0.9v0.9h-0.9zM204.4 286.6h0.9v0.9h-0.9zM197.9 291.2h0.9v0.9h-0.9zM205.9 290.8h0.9v0.9h-0.9zM205.1 297.1h0.9v0.9h-0.9zM217.1 285.1h0.9v0.9h-0.9zM197.9 296.8h0.9v0.9h-0.9zM208.5 291.4h0.9v0.9h-0.9zM207.3 291.1h0.9v0.9h-0.9zM207.8 294.0h0.9v0.9h-0.9zM207.4 287.9h0.9v0.9h-0.9zM209.4 282.3h0.9v0.9h-0.9zM212.9 281.0h0.9v0.9h-0.9zM199.1 297.0h0.9v0.9h-0.9zM212.7 280.4h0.9v0.9h-0.9zM206.6 297.1h0.9v0.9h-0.9zM202.7 286.6h0.9v0.9h-0.9zM197.9 297.5h0.9v0.9h-0.9zM198.0 285.4h0.9v0.9h-0.9zM207.6 292.8h0.9v0.9h-0.9zM201.8 292.0h0.9v0.9h-0.9zM201.8 295.6h0.9v0.9h-0.9zM205.3 288.6h0.9v0.9h-0.9zM208.1 293.7h0.9v0.9h-0.9zM205.4 300.5h0.9v0.9h-0.9zM201.7 282.8h0.9v0.9h-0.9zM204.5 297.2h0.9v0.9h-0.9zM207.0 284.7h0.9v0.9h-0.9zM202.2 296.9h0.9v0.9h-0.9zM213.0 288.8h0.9v0.9h-0.9zM215.0 299.8h0.9v0.9h-0.9zM215.1 289.6h0.9v0.9h-0.9zM206.3 288.1h0.9v0.9h-0.9zM206.2 297.4h0.9v0.9h-0.9zM203.1 289.7h0.9v0.9h-0.9zM215.7 290.0h0.9v0.9h-0.9zM205.5 297.0h0.9v0.9h-0.9zM220.1 299.9h0.9v0.9h-0.9zM197.0 296.5h0.9v0.9h-0.9zM209.4 279.9h0.9v0.9h-0.9zM210.9 293.4h0.9v0.9h-0.9zM208.2 293.2h0.9v0.9h-0.9zM211.4 296.7h0.9v0.9h-0.9zM219.2 297.8h0.9v0.9h-0.9zM208.0 297.7h0.9v0.9h-0.9zM212.7 294.5h0.9v0.9h-0.9zM205.8 303.8h0.9v0.9h-0.9zM201.4 290.8h0.9v0.9h-0.9zM202.5 287.7h0.9v0.9h-0.9zM212.9 284.2h0.9v0.9h-0.9zM210.0 289.5h0.9v0.9h-0.9zM200.4 296.5h0.9v0.9h-0.9zM210.0 292.0h0.9v0.9h-0.9zM211.6 300.3h0.9v0.9h-0.9zM211.0 291.9h0.9v0.9h-0.9zM214.5 288.7h0.9v0.9h-0.9zM200.4 301.1h0.9v0.9h-0.9zM203.2 290.8h0.9v0.9h-0.9zM202.5 298.9h0.9v0.9h-0.9zM209.2 278.6h0.9v0.9h-0.9zM215.6 284.2h0.9v0.9h-0.9zM206.0 288.9h0.9v0.9h-0.9zM210.3 285.8h0.9v0.9h-0.9zM213.2 293.5h0.9v0.9h-0.9zM206.0 292.5h0.9v0.9h-0.9zM212.9 293.4h0.9v0.9h-0.9zM207.9 286.7h0.9v0.9h-0.9zM218.2 286.8h0.9v0.9h-0.9zM216.2 288.1h0.9v0.9h-0.9zM206.1 300.9h0.9v0.9h-0.9zM205.6 290.2h0.9v0.9h-0.9zM218.7 297.3h0.9v0.9h-0.9z" fill="#000" fill-opacity="0.65"/>
<path d="M202.4 300.9h0.9v0.9h-0.9zM212.3 286.6h0.9v0.9h-0.9zM194.3 290.7h0.9v0.9h-0.9zM216.2 286.0h0.9v0.9h-0.9zM220.9 285.3h0.9v0.9h-0.9zM205.7 291.9h0.9v0.9h-0.9zM214.1 300.6h0.9v0.9h-0.9zM212.4 288.1h0.9v0.9h-0.9zM206.3 303.0h0.9v0.9h-0.9zM201.8 292.5h0.9v0.9h-0.9zM190.7 299.1h0.9v0.9h-0.9zM209.5 312.3h0.9v0.9h-0.9zM234.0 295.5h0.9v0.9h-0.9zM217.8 293.7h0.9v0.9h-0.9zM212.6 291.7h0.9v0.9h-0.9zM203.8 299.1h0.9v0.9h-0.9zM223.2 277.1h0.9v0.9h-0.9zM205.2 287.0h0.9v0.9h-0.9zM224.9 291.9h0.9v0.9h-0.9zM206.2 286.5h0.9v0.9h-0.9zM211.8 284.6h0.9v0.9h-0.9zM195.5 304.0h0.9v0.9h-0.9zM232.3 280.6h0.9v0.9h-0.9zM209.1 289.3h0.9v0.9h-0.9zM206.3 288.1h0.9v0.9h-0.9zM217.7 289.0h0.9v0.9h-0.9zM201.5 284.1h0.9v0.9h-0.9zM217.3 299.5h0.9v0.9h-0.9zM198.9 292.0h0.9v0.9h-0.9zM215.2 307.8h0.9v0.9h-0.9zM200.1 281.4h0.9v0.9h-0.9zM192.5 294.0h0.9v0.9h-0.9zM204.4 282.1h0.9v0.9h-0.9zM196.1 295.0h0.9v0.9h-0.9zM215.3 302.9h0.9v0.9h-0.9zM210.2 283.3h0.9v0.9h-0.9zM214.8 301.4h0.9v0.9h-0.9zM210.9 286.1h0.9v0.9h-0.9zM206.6 283.3h0.9v0.9h-0.9zM210.3 295.8h0.9v0.9h-0.9zM220.0 299.3h0.9v0.9h-0.9zM208.3 294.1h0.9v0.9h-0.9zM202.8 295.6h0.9v0.9h-0.9zM200.8 292.7h0.9v0.9h-0.9zM207.9 288.7h0.9v0.9h-0.9zM202.9 274.7h0.9v0.9h-0.9zM227.9 289.9h0.9v0.9h-0.9zM198.8 287.0h0.9v0.9h-0.9zM199.7 297.7h0.9v0.9h-0.9zM207.1 286.0h0.9v0.9h-0.9zM216.2 310.1h0.9v0.9h-0.9zM207.5 298.3h0.9v0.9h-0.9zM200.9 289.4h0.9v0.9h-0.9zM202.3 298.6h0.9v0.9h-0.9zM206.7 290.9h0.9v0.9h-0.9zM219.2 304.0h0.9v0.9h-0.9zM200.7 289.4h0.9v0.9h-0.9zM209.1 305.2h0.9v0.9h-0.9zM204.2 284.0h0.9v0.9h-0.9zM213.1 293.9h0.9v0.9h-0.9zM213.8 292.5h0.9v0.9h-0.9zM196.1 285.4h0.9v0.9h-0.9zM232.7 290.3h0.9v0.9h-0.9zM211.8 293.1h0.9v0.9h-0.9zM205.2 282.9h0.9v0.9h-0.9zM201.5 285.8h0.9v0.9h-0.9zM207.5 297.2h0.9v0.9h-0.9zM210.3 286.5h0.9v0.9h-0.9zM215.7 306.5h0.9v0.9h-0.9zM210.1 306.5h0.9v0.9h-0.9zM214.6 289.0h0.9v0.9h-0.9zM194.7 296.1h0.9v0.9h-0.9zM202.9 297.6h0.9v0.9h-0.9zM200.4 299.2h0.9v0.9h-0.9zM211.6 288.5h0.9v0.9h-0.9zM214.4 299.4h0.9v0.9h-0.9zM196.1 288.5h0.9v0.9h-0.9zM208.4 292.2h0.9v0.9h-0.9zM216.9 303.6h0.9v0.9h-0.9zM218.7 292.3h0.9v0.9h-0.9zM199.4 284.8h0.9v0.9h-0.9zM215.3 288.2h0.9v0.9h-0.9zM213.2 295.8h0.9v0.9h-0.9zM205.9 286.5h0.9v0.9h-0.9zM228.6 284.8h0.9v0.9h-0.9zM199.4 294.3h0.9v0.9h-0.9zM207.4 285.0h0.9v0.9h-0.9zM214.3 310.9h0.9v0.9h-0.9zM212.3 287.3h0.9v0.9h-0.9zM208.4 298.9h0.9v0.9h-0.9zM223.1 280.6h0.9v0.9h-0.9zM223.7 290.2h0.9v0.9h-0.9zM218.7 300.0h0.9v0.9h-0.9zM219.5 297.6h0.9v0.9h-0.9zM209.5 298.5h0.9v0.9h-0.9zM198.9 288.1h0.9v0.9h-0.9zM230.8 294.7h0.9v0.9h-0.9zM200.9 291.3h0.9v0.9h-0.9zM231.2 281.0h0.9v0.9h-0.9zM208.8 302.7h0.9v0.9h-0.9zM212.2 287.2h0.9v0.9h-0.9zM208.4 291.0h0.9v0.9h-0.9zM219.1 300.3h0.9v0.9h-0.9zM205.2 298.6h0.9v0.9h-0.9zM215.1 292.4h0.9v0.9h-0.9zM211.7 305.3h0.9v0.9h-0.9zM204.6 292.1h0.9v0.9h-0.9zM212.7 293.3h0.9v0.9h-0.9zM210.0 302.2h0.9v0.9h-0.9zM228.0 298.7h0.9v0.9h-0.9zM218.9 288.8h0.9v0.9h-0.9zM195.2 292.3h0.9v0.9h-0.9zM224.5 294.6h0.9v0.9h-0.9zM224.6 286.6h0.9v0.9h-0.9zM192.1 295.0h0.9v0.9h-0.9zM210.0 298.3h0.9v0.9h-0.9zM217.7 294.3h0.9v0.9h-0.9zM209.9 288.8h0.9v0.9h-0.9zM199.6 300.2h0.9v0.9h-0.9zM221.7 285.2h0.9v0.9h-0.9zM193.1 309.6h0.9v0.9h-0.9zM196.1 270.8h0.9v0.9h-0.9zM223.1 276.6h0.9v0.9h-0.9zM201.8 294.5h0.9v0.9h-0.9zM212.3 298.6h0.9v0.9h-0.9zM217.7 297.0h0.9v0.9h-0.9zM209.0 288.1h0.9v0.9h-0.9zM212.6 291.8h0.9v0.9h-0.9zM211.1 293.3h0.9v0.9h-0.9zM212.0 285.6h0.9v0.9h-0.9zM221.3 289.9h0.9v0.9h-0.9zM218.9 285.0h0.9v0.9h-0.9zM213.1 303.0h0.9v0.9h-0.9zM218.7 296.7h0.9v0.9h-0.9zM204.9 289.4h0.9v0.9h-0.9zM202.7 289.9h0.9v0.9h-0.9zM200.5 289.2h0.9v0.9h-0.9zM217.4 290.4h0.9v0.9h-0.9zM225.4 295.4h0.9v0.9h-0.9zM210.8 290.1h0.9v0.9h-0.9zM191.2 288.8h0.9v0.9h-0.9zM205.2 296.4h0.9v0.9h-0.9zM214.4 291.7h0.9v0.9h-0.9zM212.8 293.1h0.9v0.9h-0.9zM210.9 293.8h0.9v0.9h-0.9zM219.4 291.6h0.9v0.9h-0.9zM218.8 283.6h0.9v0.9h-0.9zM197.3 291.0h0.9v0.9h-0.9zM214.1 303.4h0.9v0.9h-0.9zM203.0 285.9h0.9v0.9h-0.9zM212.2 286.1h0.9v0.9h-0.9zM221.8 289.5h0.9v0.9h-0.9zM227.4 289.9h0.9v0.9h-0.9zM216.6 304.9h0.9v0.9h-0.9zM205.2 290.5h0.9v0.9h-0.9zM206.7 302.9h0.9v0.9h-0.9zM215.1 299.9h0.9v0.9h-0.9zM200.6 299.3h0.9v0.9h-0.9zM209.4 298.5h0.9v0.9h-0.9zM215.7 296.1h0.9v0.9h-0.9zM218.7 297.6h0.9v0.9h-0.9zM207.2 303.5h0.9v0.9h-0.9zM213.5 275.8h0.9v0.9h-0.9zM222.9 296.2h0.9v0.9h-0.9zM212.9 303.0h0.9v0.9h-0.9zM193.7 287.5h0.9v0.9h-0.9zM212.0 292.7h0.9v0.9h-0.9zM212.4 300.4h0.9v0.9h-0.9zM206.0 278.1h0.9v0.9h-0.9zM210.4 295.6h0.9v0.9h-0.9zM196.0 283.8h0.9v0.9h-0.9zM221.8 295.0h0.9v0.9h-0.9zM214.0 296.2h0.9v0.9h-0.9zM204.8 295.1h0.9v0.9h-0.9zM212.2 284.4h0.9v0.9h-0.9zM211.3 293.1h0.9v0.9h-0.9zM201.8 287.6h0.9v0.9h-0.9zM229.2 285.9h0.9v0.9h-0.9zM199.4 301.0h0.9v0.9h-0.9zM207.2 282.7h0.9v0.9h-0.9zM215.4 288.7h0.9v0.9h-0.9zM206.6 302.3h0.9v0.9h-0.9zM221.3 296.1h0.9v0.9h-0.9zM201.0 300.4h0.9v0.9h-0.9zM215.3 284.5h0.9v0.9h-0.9zM190.2 294.5h0.9v0.9h-0.9zM216.8 285.5h0.9v0.9h-0.9zM216.5 277.9h0.9v0.9h-0.9zM213.5 298.0h0.9v0.9h-0.9zM212.9 284.2h0.9v0.9h-0.9zM212.5 293.9h0.9v0.9h-0.9zM218.2 284.9h0.9v0.9h-0.9zM219.1 297.7h0.9v0.9h-0.9zM201.0 297.9h0.9v0.9h-0.9zM220.0 284.3h0.9v0.9h-0.9zM201.0 284.3h0.9v0.9h-0.9zM211.6 270.3h0.9v0.9h-0.9zM207.6 288.9h0.9v0.9h-0.9zM214.6 290.9h0.9v0.9h-0.9zM206.8 286.6h0.9v0.9h-0.9zM213.8 298.9h0.9v0.9h-0.9zM205.5 292.2h0.9v0.9h-0.9zM200.9 292.9h0.9v0.9h-0.9zM220.1 287.6h0.9v0.9h-0.9zM215.4 280.1h0.9v0.9h-0.9zM214.9 293.4h0.9v0.9h-0.9zM219.1 300.1h0.9v0.9h-0.9zM199.9 303.2h0.9v0.9h-0.9zM218.7 294.4h0.9v0.9h-0.9zM200.0 282.2h0.9v0.9h-0.9zM213.6 290.0h0.9v0.9h-0.9zM208.3 294.2h0.9v0.9h-0.9zM212.6 283.5h0.9v0.9h-0.9zM216.6 289.7h0.9v0.9h-0.9zM210.2 287.4h0.9v0.9h-0.9zM201.3 286.0h0.9v0.9h-0.9zM218.8 284.2h0.9v0.9h-0.9zM221.2 295.5h0.9v0.9h-0.9zM216.5 297.5h0.9v0.9h-0.9zM219.8 303.4h0.9v0.9h-0.9zM193.3 290.6h0.9v0.9h-0.9zM210.7 293.4h0.9v0.9h-0.9zM208.9 278.2h0.9v0.9h-0.9zM191.4 295.3h0.9v0.9h-0.9zM211.0 304.5h0.9v0.9h-0.9zM210.0 286.3h0.9v0.9h-0.9zM195.7 297.1h0.9v0.9h-0.9zM202.0 288.5h0.9v0.9h-0.9zM210.8 297.3h0.9v0.9h-0.9zM215.7 299.1h0.9v0.9h-0.9zM216.7 280.6h0.9v0.9h-0.9zM199.5 285.3h0.9v0.9h-0.9zM199.8 286.6h0.9v0.9h-0.9zM205.2 291.2h0.9v0.9h-0.9zM209.5 304.1h0.9v0.9h-0.9zM204.5 293.3h0.9v0.9h-0.9zM208.2 294.1h0.9v0.9h-0.9zM216.7 294.5h0.9v0.9h-0.9zM216.5 287.4h0.9v0.9h-0.9zM211.3 302.1h0.9v0.9h-0.9zM199.2 297.3h0.9v0.9h-0.9zM205.3 299.6h0.9v0.9h-0.9zM215.4 295.1h0.9v0.9h-0.9zM218.3 281.2h0.9v0.9h-0.9zM220.1 297.5h0.9v0.9h-0.9zM199.9 287.6h0.9v0.9h-0.9zM205.6 285.2h0.9v0.9h-0.9zM199.6 289.4h0.9v0.9h-0.9zM193.2 300.0h0.9v0.9h-0.9zM223.2 302.4h0.9v0.9h-0.9zM214.5 294.9h0.9v0.9h-0.9zM203.9 289.6h0.9v0.9h-0.9zM210.6 301.4h0.9v0.9h-0.9zM213.9 299.4h0.9v0.9h-0.9zM226.6 298.8h0.9v0.9h-0.9zM217.4 278.7h0.9v0.9h-0.9zM224.5 296.7h0.9v0.9h-0.9zM214.6 310.5h0.9v0.9h-0.9zM222.4 283.7h0.9v0.9h-0.9zM223.8 289.5h0.9v0.9h-0.9zM218.9 286.2h0.9v0.9h-0.9zM210.4 288.6h0.9v0.9h-0.9zM220.5 291.7h0.9v0.9h-0.9zM206.3 310.2h0.9v0.9h-0.9zM223.6 290.4h0.9v0.9h-0.9zM207.5 306.7h0.9v0.9h-0.9zM203.6 284.8h0.9v0.9h-0.9zM228.0 298.4h0.9v0.9h-0.9zM206.2 292.5h0.9v0.9h-0.9zM211.6 289.4h0.9v0.9h-0.9zM200.0 295.4h0.9v0.9h-0.9zM203.4 304.5h0.9v0.9h-0.9zM206.8 296.4h0.9v0.9h-0.9zM200.7 298.7h0.9v0.9h-0.9zM221.7 293.7h0.9v0.9h-0.9zM203.2 297.2h0.9v0.9h-0.9zM198.1 296.6h0.9v0.9h-0.9zM220.7 300.2h0.9v0.9h-0.9zM216.8 292.1h0.9v0.9h-0.9zM204.7 289.1h0.9v0.9h-0.9zM219.5 289.0h0.9v0.9h-0.9zM202.8 297.8h0.9v0.9h-0.9zM207.4 286.3h0.9v0.9h-0.9zM207.8 299.4h0.9v0.9h-0.9zM201.7 304.0h0.9v0.9h-0.9zM217.4 295.0h0.9v0.9h-0.9zM223.9 302.4h0.9v0.9h-0.9zM209.4 297.0h0.9v0.9h-0.9zM209.1 294.8h0.9v0.9h-0.9zM215.4 290.6h0.9v0.9h-0.9zM211.7 297.3h0.9v0.9h-0.9zM215.0 294.0h0.9v0.9h-0.9zM201.9 287.9h0.9v0.9h-0.9zM210.4 289.0h0.9v0.9h-0.9zM215.0 276.6h0.9v0.9h-0.9zM215.9 303.1h0.9v0.9h-0.9zM195.4 303.0h0.9v0.9h-0.9zM218.0 289.1h0.9v0.9h-0.9zM211.3 282.3h0.9v0.9h-0.9zM211.7 298.9h0.9v0.9h-0.9zM193.4 302.7h0.9v0.9h-0.9zM210.6 292.9h0.9v0.9h-0.9zM195.2 287.5h0.9v0.9h-0.9zM211.1 300.7h0.9v0.9h-0.9zM210.2 301.9h0.9v0.9h-0.9zM210.8 309.3h0.9v0.9h-0.9zM211.9 292.9h0.9v0.9h-0.9zM210.2 294.6h0.9v0.9h-0.9zM220.7 310.4h0.9v0.9h-0.9zM218.0 300.4h0.9v0.9h-0.9zM234.3 270.9h0.9v0.9h-0.9zM217.7 280.0h0.9v0.9h-0.9zM218.0 298.1h0.9v0.9h-0.9zM228.4 297.0h0.9v0.9h-0.9zM202.1 283.2h0.9v0.9h-0.9zM207.3 284.9h0.9v0.9h-0.9zM212.9 285.3h0.9v0.9h-0.9zM195.6 298.2h0.9v0.9h-0.9zM219.6 280.5h0.9v0.9h-0.9zM225.4 291.3h0.9v0.9h-0.9zM198.5 286.0h0.9v0.9h-0.9zM202.7 266.8h0.9v0.9h-0.9zM219.0 294.8h0.9v0.9h-0.9zM223.2 308.2h0.9v0.9h-0.9zM194.6 290.7h0.9v0.9h-0.9zM215.5 298.9h0.9v0.9h-0.9zM208.3 292.8h0.9v0.9h-0.9zM192.7 290.7h0.9v0.9h-0.9zM206.2 278.1h0.9v0.9h-0.9zM204.8 290.8h0.9v0.9h-0.9zM211.1 275.1h0.9v0.9h-0.9zM210.5 286.9h0.9v0.9h-0.9zM207.5 293.4h0.9v0.9h-0.9zM208.8 293.7h0.9v0.9h-0.9zM208.6 285.3h0.9v0.9h-0.9zM214.9 290.9h0.9v0.9h-0.9zM219.2 283.4h0.9v0.9h-0.9zM219.2 298.8h0.9v0.9h-0.9zM201.6 282.5h0.9v0.9h-0.9zM203.6 299.6h0.9v0.9h-0.9zM223.5 291.9h0.9v0.9h-0.9zM214.5 308.0h0.9v0.9h-0.9zM202.7 284.9h0.9v0.9h-0.9zM199.0 303.4h0.9v0.9h-0.9zM200.4 287.4h0.9v0.9h-0.9zM210.3 293.3h0.9v0.9h-0.9zM199.5 288.1h0.9v0.9h-0.9zM209.9 286.3h0.9v0.9h-0.9zM222.8 287.9h0.9v0.9h-0.9zM207.6 294.4h0.9v0.9h-0.9zM218.1 290.2h0.9v0.9h-0.9zM195.5 308.6h0.9v0.9h-0.9zM213.4 293.5h0.9v0.9h-0.9zM212.8 270.0h0.9v0.9h-0.9zM201.2 286.3h0.9v0.9h-0.9zM223.1 290.2h0.9v0.9h-0.9zM209.9 295.1h0.9v0.9h-0.9zM203.5 297.6h0.9v0.9h-0.9zM207.2 281.2h0.9v0.9h-0.9zM219.0 294.0h0.9v0.9h-0.9zM196.9 284.9h0.9v0.9h-0.9zM211.4 292.9h0.9v0.9h-0.9zM200.9 289.7h0.9v0.9h-0.9zM212.2 302.8h0.9v0.9h-0.9zM205.0 300.8h0.9v0.9h-0.9zM209.3 305.2h0.9v0.9h-0.9zM217.2 285.4h0.9v0.9h-0.9zM210.4 287.6h0.9v0.9h-0.9zM215.2 292.4h0.9v0.9h-0.9zM216.6 287.2h0.9v0.9h-0.9zM213.9 286.6h0.9v0.9h-0.9zM212.1 296.3h0.9v0.9h-0.9zM210.4 310.8h0.9v0.9h-0.9zM216.1 294.8h0.9v0.9h-0.9zM221.4 305.4h0.9v0.9h-0.9zM227.5 279.8h0.9v0.9h-0.9zM226.7 309.2h0.9v0.9h-0.9zM200.6 310.8h0.9v0.9h-0.9zM212.8 293.6h0.9v0.9h-0.9zM214.6 287.8h0.9v0.9h-0.9zM221.5 297.3h0.9v0.9h-0.9zM220.1 277.9h0.9v0.9h-0.9zM196.4 294.6h0.9v0.9h-0.9zM212.6 277.1h0.9v0.9h-0.9zM193.7 305.6h0.9v0.9h-0.9zM205.5 291.8h0.9v0.9h-0.9zM201.2 285.7h0.9v0.9h-0.9zM204.2 274.2h0.9v0.9h-0.9zM225.0 304.5h0.9v0.9h-0.9zM204.8 293.0h0.9v0.9h-0.9zM205.2 287.6h0.9v0.9h-0.9zM211.2 302.4h0.9v0.9h-0.9zM220.2 280.8h0.9v0.9h-0.9zM193.8 301.6h0.9v0.9h-0.9zM225.4 303.6h0.9v0.9h-0.9zM202.7 290.2h0.9v0.9h-0.9zM200.5 302.8h0.9v0.9h-0.9zM211.2 307.0h0.9v0.9h-0.9zM216.4 286.4h0.9v0.9h-0.9zM235.7 286.8h0.9v0.9h-0.9zM218.5 299.8h0.9v0.9h-0.9zM204.3 299.3h0.9v0.9h-0.9zM208.0 286.3h0.9v0.9h-0.9zM200.9 266.3h0.9v0.9h-0.9zM216.2 279.7h0.9v0.9h-0.9zM217.8 303.4h0.9v0.9h-0.9zM206.8 288.6h0.9v0.9h-0.9zM220.7 284.9h0.9v0.9h-0.9zM193.9 296.1h0.9v0.9h-0.9zM205.4 277.9h0.9v0.9h-0.9zM201.1 311.8h0.9v0.9h-0.9zM204.3 276.4h0.9v0.9h-0.9zM194.4 291.2h0.9v0.9h-0.9zM219.0 296.1h0.9v0.9h-0.9zM200.8 298.1h0.9v0.9h-0.9zM208.6 283.4h0.9v0.9h-0.9zM221.1 290.0h0.9v0.9h-0.9zM225.2 301.7h0.9v0.9h-0.9zM221.1 294.0h0.9v0.9h-0.9zM207.0 294.2h0.9v0.9h-0.9zM206.5 294.6h0.9v0.9h-0.9zM203.4 285.6h0.9v0.9h-0.9zM202.4 282.8h0.9v0.9h-0.9zM204.6 290.6h0.9v0.9h-0.9zM215.5 283.4h0.9v0.9h-0.9zM205.5 305.1h0.9v0.9h-0.9zM197.1 299.0h0.9v0.9h-0.9zM194.9 303.4h0.9v0.9h-0.9zM211.2 280.2h0.9v0.9h-0.9zM193.5 281.8h0.9v0.9h-0.9zM216.6 298.5h0.9v0.9h-0.9zM205.2 294.3h0.9v0.9h-0.9zM205.1 294.8h0.9v0.9h-0.9zM212.1 301.2h0.9v0.9h-0.9zM206.5 284.3h0.9v0.9h-0.9zM216.7 282.1h0.9v0.9h-0.9zM197.7 285.6h0.9v0.9h-0.9zM192.6 310.6h0.9v0.9h-0.9zM228.6 292.4h0.9v0.9h-0.9zM211.6 286.1h0.9v0.9h-0.9zM226.1 300.4h0.9v0.9h-0.9zM196.5 300.2h0.9v0.9h-0.9zM229.5 298.1h0.9v0.9h-0.9zM227.3 290.9h0.9v0.9h-0.9zM218.4 307.8h0.9v0.9h-0.9zM210.0 299.9h0.9v0.9h-0.9zM201.7 282.7h0.9v0.9h-0.9zM219.1 283.1h0.9v0.9h-0.9zM206.2 287.3h0.9v0.9h-0.9zM220.4 300.1h0.9v0.9h-0.9zM207.3 287.5h0.9v0.9h-0.9zM195.0 290.5h0.9v0.9h-0.9zM203.3 288.9h0.9v0.9h-0.9zM210.6 293.4h0.9v0.9h-0.9zM205.3 303.3h0.9v0.9h-0.9zM211.4 289.1h0.9v0.9h-0.9zM201.2 293.0h0.9v0.9h-0.9zM225.4 307.4h0.9v0.9h-0.9zM205.0 279.8h0.9v0.9h-0.9zM215.0 295.6h0.9v0.9h-0.9zM194.1 294.6h0.9v0.9h-0.9zM218.0 292.3h0.9v0.9h-0.9zM224.8 301.6h0.9v0.9h-0.9zM215.8 311.6h0.9v0.9h-0.9zM207.8 293.1h0.9v0.9h-0.9zM201.3 292.7h0.9v0.9h-0.9zM215.9 298.5h0.9v0.9h-0.9zM215.7 283.1h0.9v0.9h-0.9zM197.7 290.0h0.9v0.9h-0.9zM210.3 295.7h0.9v0.9h-0.9zM215.3 294.9h0.9v0.9h-0.9zM202.7 286.8h0.9v0.9h-0.9zM215.9 302.4h0.9v0.9h-0.9zM207.6 283.4h0.9v0.9h-0.9zM224.0 287.1h0.9v0.9h-0.9zM198.0 284.5h0.9v0.9h-0.9zM215.1 296.3h0.9v0.9h-0.9zM211.3 299.9h0.9v0.9h-0.9zM192.3 292.2h0.9v0.9h-0.9zM201.3 302.9h0.9v0.9h-0.9zM202.0 289.6h0.9v0.9h-0.9zM219.0 293.9h0.9v0.9h-0.9zM206.7 294.9h0.9v0.9h-0.9zM210.1 292.8h0.9v0.9h-0.9zM211.6 294.6h0.9v0.9h-0.9zM234.8 284.5h0.9v0.9h-0.9zM207.9 275.4h0.9v0.9h-0.9zM228.6 288.4h0.9v0.9h-0.9zM208.3 289.9h0.9v0.9h-0.9zM195.1 291.1h0.9v0.9h-0.9zM202.3 284.2h0.9v0.9h-0.9zM198.2 282.4h0.9v0.9h-0.9zM206.6 310.1h0.9v0.9h-0.9zM196.1 299.4h0.9v0.9h-0.9zM201.4 295.9h0.9v0.9h-0.9zM228.3 294.5h0.9v0.9h-0.9zM212.4 287.7h0.9v0.9h-0.9zM213.3 291.9h0.9v0.9h-0.9zM227.4 302.7h0.9v0.9h-0.9zM194.3 301.6h0.9v0.9h-0.9zM215.5 288.3h0.9v0.9h-0.9zM205.6 288.9h0.9v0.9h-0.9zM209.8 288.6h0.9v0.9h-0.9zM203.6 287.1h0.9v0.9h-0.9zM211.2 300.8h0.9v0.9h-0.9zM221.8 298.5h0.9v0.9h-0.9zM221.6 295.8h0.9v0.9h-0.9zM212.4 288.0h0.9v0.9h-0.9zM217.9 303.7h0.9v0.9h-0.9zM198.7 293.3h0.9v0.9h-0.9zM220.0 303.8h0.9v0.9h-0.9zM229.4 295.0h0.9v0.9h-0.9zM214.5 288.0h0.9v0.9h-0.9zM204.2 304.2h0.9v0.9h-0.9zM210.5 273.2h0.9v0.9h-0.9zM221.7 287.5h0.9v0.9h-0.9zM198.9 298.8h0.9v0.9h-0.9zM210.8 286.9h0.9v0.9h-0.9zM215.9 310.3h0.9v0.9h-0.9zM200.3 309.8h0.9v0.9h-0.9zM230.0 295.5h0.9v0.9h-0.9zM217.8 295.0h0.9v0.9h-0.9zM225.9 307.7h0.9v0.9h-0.9zM199.8 298.4h0.9v0.9h-0.9zM212.1 284.3h0.9v0.9h-0.9zM224.7 291.0h0.9v0.9h-0.9zM214.4 285.7h0.9v0.9h-0.9zM222.1 298.4h0.9v0.9h-0.9zM192.4 294.7h0.9v0.9h-0.9zM209.2 305.1h0.9v0.9h-0.9zM191.0 295.4h0.9v0.9h-0.9zM205.3 286.7h0.9v0.9h-0.9zM212.8 283.7h0.9v0.9h-0.9zM209.0 306.0h0.9v0.9h-0.9zM198.0 304.1h0.9v0.9h-0.9zM212.9 286.1h0.9v0.9h-0.9zM216.3 280.7h0.9v0.9h-0.9zM209.1 279.9h0.9v0.9h-0.9zM217.8 301.6h0.9v0.9h-0.9zM220.9 290.0h0.9v0.9h-0.9zM221.8 308.6h0.9v0.9h-0.9zM206.8 289.7h0.9v0.9h-0.9zM214.9 290.8h0.9v0.9h-0.9zM204.0 291.1h0.9v0.9h-0.9zM209.2 298.5h0.9v0.9h-0.9zM220.2 308.1h0.9v0.9h-0.9zM209.0 285.3h0.9v0.9h-0.9zM205.7 300.0h0.9v0.9h-0.9zM204.4 305.3h0.9v0.9h-0.9zM214.9 292.1h0.9v0.9h-0.9zM225.4 290.1h0.9v0.9h-0.9zM218.8 302.8h0.9v0.9h-0.9zM207.9 288.3h0.9v0.9h-0.9zM217.6 291.1h0.9v0.9h-0.9zM219.0 285.4h0.9v0.9h-0.9zM223.9 289.1h0.9v0.9h-0.9zM203.6 295.8h0.9v0.9h-0.9zM216.1 296.7h0.9v0.9h-0.9zM206.2 291.6h0.9v0.9h-0.9zM204.8 294.3h0.9v0.9h-0.9zM221.9 282.4h0.9v0.9h-0.9zM215.2 311.1h0.9v0.9h-0.9zM210.7 284.2h0.9v0.9h-0.9zM222.9 297.8h0.9v0.9h-0.9zM211.6 286.6h0.9v0.9h-0.9zM201.6 293.3h0.9v0.9h-0.9zM218.6 276.1h0.9v0.9h-0.9zM201.2 287.3h0.9v0.9h-0.9zM201.8 282.7h0.9v0.9h-0.9zM206.0 295.9h0.9v0.9h-0.9zM208.5 294.0h0.9v0.9h-0.9zM218.5 285.2h0.9v0.9h-0.9zM206.6 284.7h0.9v0.9h-0.9zM192.7 296.5h0.9v0.9h-0.9zM204.6 288.8h0.9v0.9h-0.9zM213.0 298.0h0.9v0.9h-0.9zM208.9 295.4h0.9v0.9h-0.9zM208.9 289.0h0.9v0.9h-0.9zM198.4 290.6h0.9v0.9h-0.9zM206.3 277.2h0.9v0.9h-0.9zM215.5 292.8h0.9v0.9h-0.9zM215.7 291.0h0.9v0.9h-0.9zM202.1 292.8h0.9v0.9h-0.9zM203.1 305.4h0.9v0.9h-0.9zM200.8 294.2h0.9v0.9h-0.9z" fill="#000" fill-opacity="0.45"/>
<path d="M227.0 305.5h0.9v0.9h-0.9zM221.9 303.8h0.9v0.9h-0.9zM214.6 298.7h0.9v0.9h-0.9zM190.1 302.2h0.9v0.9h-0.9zM222.3 303.9h0.9v0.9h-0.9zM235.0 272.3h0.9v0.9h-0.9zM236.6 290.5h0.9v0.9h-0.9zM214.5 304.3h0.9v0.9h-0.9zM253.2 313.6h0.9v0.9h-0.9zM249.2 297.8h0.9v0.9h-0.9zM218.8 313.2h0.9v0.9h-0.9zM219.8 307.6h0.9v0.9h-0.9zM235.4 297.4h0.9v0.9h-0.9zM218.4 285.5h0.9v0.9h-0.9zM225.1 285.9h0.9v0.9h-0.9zM239.1 295.4h0.9v0.9h-0.9zM238.7 297.9h0.9v0.9h-0.9zM214.6 295.3h0.9v0.9h-0.9zM215.6 302.1h0.9v0.9h-0.9zM214.3 301.7h0.9v0.9h-0.9zM221.8 296.4h0.9v0.9h-0.9zM223.0 300.4h0.9v0.9h-0.9zM216.6 299.0h0.9v0.9h-0.9zM232.8 277.1h0.9v0.9h-0.9zM222.7 283.2h0.9v0.9h-0.9zM222.2 299.1h0.9v0.9h-0.9zM194.4 303.6h0.9v0.9h-0.9zM202.6 296.9h0.9v0.9h-0.9zM212.3 293.0h0.9v0.9h-0.9zM227.0 298.1h0.9v0.9h-0.9zM209.9 300.6h0.9v0.9h-0.9zM243.8 297.8h0.9v0.9h-0.9zM224.1 276.2h0.9v0.9h-0.9zM225.6 299.2h0.9v0.9h-0.9zM223.7 303.4h0.9v0.9h-0.9zM228.9 297.2h0.9v0.9h-0.9zM214.3 281.8h0.9v0.9h-0.9zM244.0 277.9h0.9v0.9h-0.9zM229.2 286.0h0.9v0.9h-0.9zM219.1 271.5h0.9v0.9h-0.9zM219.7 290.3h0.9v0.9h-0.9zM231.4 304.3h0.9v0.9h-0.9zM224.8 288.8h0.9v0.9h-0.9zM244.5 291.8h0.9v0.9h-0.9zM214.9 303.5h0.9v0.9h-0.9zM230.2 303.6h0.9v0.9h-0.9zM251.6 299.2h0.9v0.9h-0.9zM244.5 291.6h0.9v0.9h-0.9zM231.9 303.5h0.9v0.9h-0.9zM233.9 284.7h0.9v0.9h-0.9zM211.1 285.3h0.9v0.9h-0.9zM226.6 292.3h0.9v0.9h-0.9zM239.2 303.2h0.9v0.9h-0.9zM214.7 302.2h0.9v0.9h-0.9zM243.4 293.8h0.9v0.9h-0.9zM227.0 291.3h0.9v0.9h-0.9zM213.2 309.6h0.9v0.9h-0.9zM228.5 300.6h0.9v0.9h-0.9zM200.0 309.3h0.9v0.9h-0.9zM212.4 293.7h0.9v0.9h-0.9zM207.4 307.4h0.9v0.9h-0.9zM229.0 287.6h0.9v0.9h-0.9zM200.1 292.0h0.9v0.9h-0.9zM226.3 292.4h0.9v0.9h-0.9zM215.3 300.4h0.9v0.9h-0.9zM211.9 294.1h0.9v0.9h-0.9zM213.7 290.0h0.9v0.9h-0.9zM236.7 300.6h0.9v0.9h-0.9zM224.4 289.5h0.9v0.9h-0.9zM261.2 289.1h0.9v0.9h-0.9zM228.8 304.3h0.9v0.9h-0.9zM248.8 288.5h0.9v0.9h-0.9zM236.7 278.6h0.9v0.9h-0.9zM241.1 272.7h0.9v0.9h-0.9zM209.7 296.4h0.9v0.9h-0.9zM214.0 281.9h0.9v0.9h-0.9zM231.0 297.4h0.9v0.9h-0.9zM220.8 287.9h0.9v0.9h-0.9zM223.1 295.1h0.9v0.9h-0.9zM237.2 295.7h0.9v0.9h-0.9zM217.3 294.1h0.9v0.9h-0.9zM243.5 282.0h0.9v0.9h-0.9zM215.5 272.7h0.9v0.9h-0.9zM222.6 305.0h0.9v0.9h-0.9zM227.4 297.0h0.9v0.9h-0.9zM226.5 310.3h0.9v0.9h-0.9zM226.4 280.0h0.9v0.9h-0.9zM208.9 294.2h0.9v0.9h-0.9zM226.7 287.7h0.9v0.9h-0.9zM213.6 300.9h0.9v0.9h-0.9zM244.1 292.8h0.9v0.9h-0.9zM213.2 310.1h0.9v0.9h-0.9zM225.6 291.8h0.9v0.9h-0.9zM219.2 293.8h0.9v0.9h-0.9zM237.8 289.6h0.9v0.9h-0.9zM223.7 300.7h0.9v0.9h-0.9zM231.9 306.9h0.9v0.9h-0.9zM214.1 301.4h0.9v0.9h-0.9zM216.7 289.8h0.9v0.9h-0.9zM208.8 285.4h0.9v0.9h-0.9zM219.6 286.9h0.9v0.9h-0.9zM218.0 297.8h0.9v0.9h-0.9zM206.1 291.0h0.9v0.9h-0.9zM204.4 294.3h0.9v0.9h-0.9zM224.2 307.3h0.9v0.9h-0.9zM219.6 300.7h0.9v0.9h-0.9zM212.1 298.2h0.9v0.9h-0.9zM209.1 291.0h0.9v0.9h-0.9zM206.5 294.1h0.9v0.9h-0.9zM223.4 293.1h0.9v0.9h-0.9zM214.5 296.4h0.9v0.9h-0.9zM213.1 293.9h0.9v0.9h-0.9zM214.1 297.7h0.9v0.9h-0.9zM215.4 289.6h0.9v0.9h-0.9zM217.7 309.0h0.9v0.9h-0.9zM223.2 299.8h0.9v0.9h-0.9zM197.4 299.1h0.9v0.9h-0.9zM218.3 305.0h0.9v0.9h-0.9zM205.2 285.3h0.9v0.9h-0.9zM216.8 284.1h0.9v0.9h-0.9zM239.4 281.1h0.9v0.9h-0.9zM195.2 288.4h0.9v0.9h-0.9zM203.9 301.6h0.9v0.9h-0.9zM214.7 297.8h0.9v0.9h-0.9zM255.4 281.9h0.9v0.9h-0.9zM213.1 300.4h0.9v0.9h-0.9zM244.6 283.3h0.9v0.9h-0.9zM220.8 283.2h0.9v0.9h-0.9zM238.6 283.3h0.9v0.9h-0.9zM233.3 308.0h0.9v0.9h-0.9zM217.7 296.8h0.9v0.9h-0.9zM229.0 308.6h0.9v0.9h-0.9zM212.7 296.9h0.9v0.9h-0.9zM215.3 303.0h0.9v0.9h-0.9zM242.8 302.6h0.9v0.9h-0.9zM209.8 301.5h0.9v0.9h-0.9zM209.2 297.5h0.9v0.9h-0.9zM257.8 305.6h0.9v0.9h-0.9zM216.6 297.9h0.9v0.9h-0.9zM226.2 296.8h0.9v0.9h-0.9zM244.9 296.4h0.9v0.9h-0.9zM215.2 290.2h0.9v0.9h-0.9zM214.1 280.8h0.9v0.9h-0.9zM247.6 288.4h0.9v0.9h-0.9zM221.7 313.9h0.9v0.9h-0.9zM225.7 297.5h0.9v0.9h-0.9zM217.4 285.8h0.9v0.9h-0.9zM229.4 293.3h0.9v0.9h-0.9zM199.8 305.8h0.9v0.9h-0.9zM236.0 277.4h0.9v0.9h-0.9zM235.4 279.9h0.9v0.9h-0.9zM214.8 274.5h0.9v0.9h-0.9zM230.9 289.9h0.9v0.9h-0.9zM251.9 286.7h0.9v0.9h-0.9zM223.7 307.5h0.9v0.9h-0.9zM231.5 302.5h0.9v0.9h-0.9zM217.0 290.4h0.9v0.9h-0.9zM232.4 289.9h0.9v0.9h-0.9zM208.6 299.2h0.9v0.9h-0.9zM212.2 303.6h0.9v0.9h-0.9zM222.8 285.9h0.9v0.9h-0.9zM221.7 297.3h0.9v0.9h-0.9zM220.3 298.8h0.9v0.9h-0.9zM237.6 294.3h0.9v0.9h-0.9zM223.9 303.2h0.9v0.9h-0.9zM222.6 294.3h0.9v0.9h-0.9zM206.9 289.5h0.9v0.9h-0.9zM234.7 304.5h0.9v0.9h-0.9zM204.1 291.0h0.9v0.9h-0.9zM190.2 300.6h0.9v0.9h-0.9zM210.6 291.1h0.9v0.9h-0.9zM231.8 301.9h0.9v0.9h-0.9zM226.9 297.4h0.9v0.9h-0.9zM239.8 283.9h0.9v0.9h-0.9zM227.6 300.1h0.9v0.9h-0.9zM227.2 291.7h0.9v0.9h-0.9zM226.6 313.7h0.9v0.9h-0.9zM213.0 290.6h0.9v0.9h-0.9zM215.6 304.4h0.9v0.9h-0.9zM215.6 273.3h0.9v0.9h-0.9zM224.6 290.9h0.9v0.9h-0.9zM209.0 278.1h0.9v0.9h-0.9zM216.1 296.5h0.9v0.9h-0.9zM225.9 287.9h0.9v0.9h-0.9zM220.9 309.8h0.9v0.9h-0.9zM218.1 303.0h0.9v0.9h-0.9zM219.1 310.8h0.9v0.9h-0.9zM204.7 286.8h0.9v0.9h-0.9zM203.0 273.6h0.9v0.9h-0.9zM210.7 295.7h0.9v0.9h-0.9z" fill="#000" fill-opacity="0.3"/>
<path d="M317.8 305.8h0.9v0.9h-0.9zM320.3 287.0h0.9v0.9h-0.9zM319.9 298.0h0.9v0.9h-0.9zM326.7 293.2h0.9v0.9h-0.9zM323.4 294.4h0.9v0.9h-0.9zM325.8 293.8h0.9v0.9h-0.9zM330.5 301.0h0.9v0.9h-0.9zM330.6 304.5h0.9v0.9h-0.9zM328.1 286.5h0.9v0.9h-0.9zM322.1 304.8h0.9v0.9h-0.9zM320.1 291.8h0.9v0.9h-0.9zM319.7 292.2h0.9v0.9h-0.9zM322.8 298.5h0.9v0.9h-0.9zM324.7 289.4h0.9v0.9h-0.9zM318.7 286.5h0.9v0.9h-0.9zM317.6 304.7h0.9v0.9h-0.9zM327.0 289.1h0.9v0.9h-0.9zM313.0 277.6h0.9v0.9h-0.9zM323.8 268.9h0.9v0.9h-0.9zM327.8 295.8h0.9v0.9h-0.9zM318.6 292.3h0.9v0.9h-0.9zM317.8 306.3h0.9v0.9h-0.9zM320.1 284.7h0.9v0.9h-0.9zM329.2 284.4h0.9v0.9h-0.9zM324.2 293.7h0.9v0.9h-0.9zM312.8 303.4h0.9v0.9h-0.9zM322.2 303.9h0.9v0.9h-0.9zM331.6 293.7h0.9v0.9h-0.9zM331.4 288.6h0.9v0.9h-0.9zM329.1 294.5h0.9v0.9h-0.9zM323.5 304.8h0.9v0.9h-0.9zM313.0 292.9h0.9v0.9h-0.9zM326.1 290.1h0.9v0.9h-0.9zM323.9 296.8h0.9v0.9h-0.9zM325.5 295.0h0.9v0.9h-0.9zM335.0 294.3h0.9v0.9h-0.9zM326.2 309.0h0.9v0.9h-0.9zM326.8 298.5h0.9v0.9h-0.9zM328.9 294.4h0.9v0.9h-0.9zM323.3 290.9h0.9v0.9h-0.9zM320.7 291.5h0.9v0.9h-0.9zM320.2 297.3h0.9v0.9h-0.9zM330.0 299.0h0.9v0.9h-0.9zM328.3 288.9h0.9v0.9h-0.9zM321.8 289.7h0.9v0.9h-0.9zM332.5 291.6h0.9v0.9h-0.9zM326.2 286.6h0.9v0.9h-0.9zM316.3 301.7h0.9v0.9h-0.9zM328.9 286.9h0.9v0.9h-0.9zM324.1 294.7h0.9v0.9h-0.9zM316.4 300.9h0.9v0.9h-0.9zM328.4 286.3h0.9v0.9h-0.9zM322.8 287.2h0.9v0.9h-0.9zM322.4 292.6h0.9v0.9h-0.9zM328.8 297.4h0.9v0.9h-0.9zM310.7 295.0h0.9v0.9h-0.9zM316.7 294.0h0.9v0.9h-0.9zM322.2 302.9h0.9v0.9h-0.9zM326.6 289.4h0.9v0.9h-0.9zM320.7 288.6h0.9v0.9h-0.9zM318.5 298.5h0.9v0.9h-0.9zM318.2 294.5h0.9v0.9h-0.9zM324.2 300.7h0.9v0.9h-0.9zM329.4 301.7h0.9v0.9h-0.9zM315.6 285.5h0.9v0.9h-0.9zM311.5 278.1h0.9v0.9h-0.9zM323.1 297.8h0.9v0.9h-0.9zM322.5 293.3h0.9v0.9h-0.9zM319.1 295.7h0.9v0.9h-0.9zM329.0 286.9h0.9v0.9h-0.9zM330.2 299.6h0.9v0.9h-0.9zM321.3 291.9h0.9v0.9h-0.9zM322.8 297.7h0.9v0.9h-0.9zM328.7 300.4h0.9v0.9h-0.9zM322.2 294.5h0.9v0.9h-0.9zM315.9 293.0h0.9v0.9h-0.9zM324.6 288.5h0.9v0.9h-0.9zM327.1 283.5h0.9v0.9h-0.9zM321.7 298.9h0.9v0.9h-0.9zM323.8 282.4h0.9v0.9h-0.9zM328.4 287.5h0.9v0.9h-0.9zM324.2 304.1h0.9v0.9h-0.9zM320.9 288.2h0.9v0.9h-0.9zM318.5 301.5h0.9v0.9h-0.9zM336.2 290.8h0.9v0.9h-0.9zM332.2 300.2h0.9v0.9h-0.9zM315.2 283.1h0.9v0.9h-0.9zM318.2 285.1h0.9v0.9h-0.9zM328.8 304.5h0.9v0.9h-0.9zM321.2 296.1h0.9v0.9h-0.9zM325.1 285.8h0.9v0.9h-0.9zM330.3 290.0h0.9v0.9h-0.9zM325.8 272.8h0.9v0.9h-0.9zM324.2 291.1h0.9v0.9h-0.9zM321.9 283.6h0.9v0.9h-0.9zM324.4 286.2h0.9v0.9h-0.9zM327.5 304.7h0.9v0.9h-0.9zM336.3 289.4h0.9v0.9h-0.9zM331.9 288.8h0.9v0.9h-0.9zM323.7 285.1h0.9v0.9h-0.9zM331.0 298.4h0.9v0.9h-0.9zM325.8 297.5h0.9v0.9h-0.9zM315.4 287.1h0.9v0.9h-0.9zM324.3 281.0h0.9v0.9h-0.9zM331.5 291.8h0.9v0.9h-0.9zM321.1 294.3h0.9v0.9h-0.9zM331.1 278.5h0.9v0.9h-0.9zM323.0 301.9h0.9v0.9h-0.9zM325.2 286.5h0.9v0.9h-0.9zM317.3 294.0h0.9v0.9h-0.9zM338.5 287.5h0.9v0.9h-0.9zM327.9 287.6h0.9v0.9h-0.9zM331.6 300.2h0.9v0.9h-0.9zM322.1 294.0h0.9v0.9h-0.9zM315.5 281.9h0.9v0.9h-0.9zM332.9 295.8h0.9v0.9h-0.9zM320.4 299.4h0.9v0.9h-0.9zM335.7 292.0h0.9v0.9h-0.9zM323.9 301.3h0.9v0.9h-0.9zM335.6 286.3h0.9v0.9h-0.9zM320.3 300.3h0.9v0.9h-0.9zM313.5 294.9h0.9v0.9h-0.9zM329.5 294.5h0.9v0.9h-0.9zM324.6 303.5h0.9v0.9h-0.9zM325.0 298.5h0.9v0.9h-0.9zM331.8 290.9h0.9v0.9h-0.9zM319.3 297.0h0.9v0.9h-0.9zM316.6 288.2h0.9v0.9h-0.9zM317.4 297.1h0.9v0.9h-0.9zM314.1 303.1h0.9v0.9h-0.9zM313.2 302.3h0.9v0.9h-0.9zM316.6 288.0h0.9v0.9h-0.9zM318.7 291.5h0.9v0.9h-0.9zM322.0 298.1h0.9v0.9h-0.9zM317.1 297.7h0.9v0.9h-0.9zM324.0 287.7h0.9v0.9h-0.9zM329.8 294.9h0.9v0.9h-0.9zM323.4 296.2h0.9v0.9h-0.9zM327.5 304.7h0.9v0.9h-0.9zM318.8 295.0h0.9v0.9h-0.9zM326.5 292.7h0.9v0.9h-0.9zM327.6 285.2h0.9v0.9h-0.9zM320.3 283.0h0.9v0.9h-0.9zM314.5 300.1h0.9v0.9h-0.9zM323.2 293.8h0.9v0.9h-0.9zM324.2 289.9h0.9v0.9h-0.9zM333.5 300.5h0.9v0.9h-0.9zM321.5 296.9h0.9v0.9h-0.9zM334.7 292.4h0.9v0.9h-0.9zM308.5 298.6h0.9v0.9h-0.9zM322.0 290.2h0.9v0.9h-0.9zM320.7 298.6h0.9v0.9h-0.9zM321.4 296.1h0.9v0.9h-0.9zM320.4 290.1h0.9v0.9h-0.9zM323.5 290.4h0.9v0.9h-0.9zM334.4 287.8h0.9v0.9h-0.9zM322.8 300.0h0.9v0.9h-0.9zM331.4 292.3h0.9v0.9h-0.9zM323.1 285.7h0.9v0.9h-0.9zM324.4 298.7h0.9v0.9h-0.9zM308.5 296.9h0.9v0.9h-0.9zM324.3 293.4h0.9v0.9h-0.9zM327.6 294.9h0.9v0.9h-0.9zM316.4 290.5h0.9v0.9h-0.9zM319.8 288.9h0.9v0.9h-0.9zM318.2 299.7h0.9v0.9h-0.9zM337.3 284.9h0.9v0.9h-0.9zM317.4 281.8h0.9v0.9h-0.9zM319.1 283.3h0.9v0.9h-0.9zM306.3 299.7h0.9v0.9h-0.9zM313.5 285.2h0.9v0.9h-0.9zM325.0 291.1h0.9v0.9h-0.9zM315.5 287.8h0.9v0.9h-0.9zM305.9 285.5h0.9v0.9h-0.9zM321.8 291.9h0.9v0.9h-0.9zM324.3 292.2h0.9v0.9h-0.9zM325.3 307.7h0.9v0.9h-0.9zM326.0 290.6h0.9v0.9h-0.9zM319.7 295.1h0.9v0.9h-0.9zM341.6 308.2h0.9v0.9h-0.9zM320.0 303.7h0.9v0.9h-0.9zM326.4 297.9h0.9v0.9h-0.9zM315.5 300.0h0.9v0.9h-0.9zM319.6 293.0h0.9v0.9h-0.9zM313.8 299.5h0.9v0.9h-0.9zM325.0 295.3h0.9v0.9h-0.9zM321.0 287.2h0.9v0.9h-0.9zM317.2 306.3h0.9v0.9h-0.9zM310.8 293.3h0.9v0.9h-0.9zM327.1 297.6h0.9v0.9h-0.9zM328.9 289.6h0.9v0.9h-0.9zM329.0 284.4h0.9v0.9h-0.9zM323.1 280.2h0.9v0.9h-0.9zM328.1 268.8h0.9v0.9h-0.9zM329.5 297.9h0.9v0.9h-0.9zM327.0 280.3h0.9v0.9h-0.9zM332.9 289.3h0.9v0.9h-0.9zM322.7 293.3h0.9v0.9h-0.9zM325.1 282.2h0.9v0.9h-0.9zM314.1 289.4h0.9v0.9h-0.9zM337.3 296.1h0.9v0.9h-0.9zM319.1 291.5h0.9v0.9h-0.9zM326.0 297.5h0.9v0.9h-0.9zM328.0 273.5h0.9v0.9h-0.9zM318.8 297.6h0.9v0.9h-0.9zM323.7 299.6h0.9v0.9h-0.9zM328.5 283.2h0.9v0.9h-0.9zM323.5 299.0h0.9v0.9h-0.9zM322.1 290.3h0.9v0.9h-0.9zM322.1 291.4h0.9v0.9h-0.9zM319.6 297.4h0.9v0.9h-0.9zM323.0 282.2h0.9v0.9h-0.9zM326.5 299.4h0.9v0.9h-0.9zM327.1 287.9h0.9v0.9h-0.9zM331.2 299.1h0.9v0.9h-0.9zM324.5 292.7h0.9v0.9h-0.9zM320.9 295.3h0.9v0.9h-0.9zM329.7 287.1h0.9v0.9h-0.9zM326.5 293.0h0.9v0.9h-0.9zM330.7 284.6h0.9v0.9h-0.9zM325.5 288.1h0.9v0.9h-0.9zM327.7 282.8h0.9v0.9h-0.9zM326.9 292.7h0.9v0.9h-0.9zM329.0 285.8h0.9v0.9h-0.9zM318.1 310.7h0.9v0.9h-0.9zM323.7 286.6h0.9v0.9h-0.9zM325.5 277.0h0.9v0.9h-0.9zM335.4 301.5h0.9v0.9h-0.9zM323.9 290.4h0.9v0.9h-0.9zM327.3 296.9h0.9v0.9h-0.9zM323.2 293.6h0.9v0.9h-0.9zM311.1 287.3h0.9v0.9h-0.9zM332.4 288.7h0.9v0.9h-0.9zM328.7 285.1h0.9v0.9h-0.9zM332.4 303.7h0.9v0.9h-0.9zM315.7 298.0h0.9v0.9h-0.9zM326.2 283.3h0.9v0.9h-0.9zM325.5 300.4h0.9v0.9h-0.9zM314.3 297.5h0.9v0.9h-0.9zM327.4 280.9h0.9v0.9h-0.9zM320.5 287.0h0.9v0.9h-0.9zM327.6 296.1h0.9v0.9h-0.9zM313.7 295.2h0.9v0.9h-0.9zM318.7 308.4h0.9v0.9h-0.9zM319.8 293.0h0.9v0.9h-0.9zM314.6 300.2h0.9v0.9h-0.9zM324.8 289.4h0.9v0.9h-0.9zM332.8 292.2h0.9v0.9h-0.9zM324.3 293.1h0.9v0.9h-0.9zM328.5 292.6h0.9v0.9h-0.9zM333.9 294.6h0.9v0.9h-0.9zM328.0 293.7h0.9v0.9h-0.9zM322.0 280.8h0.9v0.9h-0.9zM312.1 298.2h0.9v0.9h-0.9zM326.7 284.5h0.9v0.9h-0.9zM322.3 299.2h0.9v0.9h-0.9zM321.5 297.8h0.9v0.9h-0.9zM329.1 298.2h0.9v0.9h-0.9zM328.0 288.6h0.9v0.9h-0.9zM314.3 295.2h0.9v0.9h-0.9zM326.0 298.5h0.9v0.9h-0.9zM322.4 289.1h0.9v0.9h-0.9zM329.9 282.0h0.9v0.9h-0.9zM324.3 306.0h0.9v0.9h-0.9zM330.4 291.3h0.9v0.9h-0.9zM320.2 289.4h0.9v0.9h-0.9zM321.9 285.7h0.9v0.9h-0.9zM321.0 283.9h0.9v0.9h-0.9zM323.3 273.1h0.9v0.9h-0.9zM322.9 285.1h0.9v0.9h-0.9zM332.1 285.0h0.9v0.9h-0.9zM318.1 286.6h0.9v0.9h-0.9zM325.0 307.7h0.9v0.9h-0.9zM316.9 292.3h0.9v0.9h-0.9zM315.2 290.2h0.9v0.9h-0.9zM320.6 293.8h0.9v0.9h-0.9zM314.7 287.4h0.9v0.9h-0.9zM325.6 303.0h0.9v0.9h-0.9zM319.7 302.6h0.9v0.9h-0.9zM321.0 287.7h0.9v0.9h-0.9zM327.4 300.8h0.9v0.9h-0.9zM334.5 299.1h0.9v0.9h-0.9zM311.9 302.9h0.9v0.9h-0.9zM321.9 283.0h0.9v0.9h-0.9zM324.4 290.4h0.9v0.9h-0.9zM331.8 299.6h0.9v0.9h-0.9zM324.2 297.8h0.9v0.9h-0.9zM318.8 302.9h0.9v0.9h-0.9zM330.5 292.5h0.9v0.9h-0.9zM331.5 295.5h0.9v0.9h-0.9zM323.3 304.6h0.9v0.9h-0.9zM326.4 298.0h0.9v0.9h-0.9zM326.9 293.3h0.9v0.9h-0.9zM341.3 311.5h0.9v0.9h-0.9zM320.8 293.0h0.9v0.9h-0.9zM322.0 294.8h0.9v0.9h-0.9zM324.0 287.2h0.9v0.9h-0.9zM329.3 295.6h0.9v0.9h-0.9zM322.8 280.7h0.9v0.9h-0.9zM328.0 305.2h0.9v0.9h-0.9zM330.5 277.0h0.9v0.9h-0.9zM337.5 300.1h0.9v0.9h-0.9zM323.7 287.2h0.9v0.9h-0.9zM322.7 296.2h0.9v0.9h-0.9zM322.6 304.9h0.9v0.9h-0.9zM312.8 293.6h0.9v0.9h-0.9zM317.2 297.3h0.9v0.9h-0.9zM325.7 288.7h0.9v0.9h-0.9zM325.7 291.2h0.9v0.9h-0.9zM341.4 302.6h0.9v0.9h-0.9zM332.8 288.0h0.9v0.9h-0.9zM329.8 300.1h0.9v0.9h-0.9zM334.2 294.9h0.9v0.9h-0.9zM320.6 290.5h0.9v0.9h-0.9zM321.1 300.7h0.9v0.9h-0.9zM320.0 286.4h0.9v0.9h-0.9zM323.7 296.0h0.9v0.9h-0.9zM338.7 283.6h0.9v0.9h-0.9zM323.1 291.6h0.9v0.9h-0.9zM320.6 283.9h0.9v0.9h-0.9zM325.1 294.8h0.9v0.9h-0.9zM330.2 300.2h0.9v0.9h-0.9zM327.9 301.0h0.9v0.9h-0.9zM330.3 296.7h0.9v0.9h-0.9zM317.1 295.2h0.9v0.9h-0.9zM319.3 290.0h0.9v0.9h-0.9zM323.4 290.6h0.9v0.9h-0.9zM325.5 286.3h0.9v0.9h-0.9zM333.7 308.8h0.9v0.9h-0.9zM316.7 292.7h0.9v0.9h-0.9zM329.0 292.3h0.9v0.9h-0.9zM323.4 294.4h0.9v0.9h-0.9zM328.8 287.2h0.9v0.9h-0.9zM320.7 305.6h0.9v0.9h-0.9zM315.9 290.0h0.9v0.9h-0.9zM332.5 286.0h0.9v0.9h-0.9zM326.8 306.7h0.9v0.9h-0.9zM312.4 302.4h0.9v0.9h-0.9zM329.4 298.4h0.9v0.9h-0.9zM318.4 289.9h0.9v0.9h-0.9zM324.2 304.2h0.9v0.9h-0.9zM324.8 293.5h0.9v0.9h-0.9zM316.2 295.4h0.9v0.9h-0.9zM332.0 302.0h0.9v0.9h-0.9zM321.5 294.7h0.9v0.9h-0.9zM335.4 289.9h0.9v0.9h-0.9zM328.0 277.2h0.9v0.9h-0.9zM328.2 301.8h0.9v0.9h-0.9zM326.6 276.4h0.9v0.9h-0.9zM337.6 287.4h0.9v0.9h-0.9zM318.3 286.2h0.9v0.9h-0.9zM319.8 288.7h0.9v0.9h-0.9zM320.6 289.7h0.9v0.9h-0.9zM332.3 296.1h0.9v0.9h-0.9zM331.7 290.1h0.9v0.9h-0.9zM325.5 271.5h0.9v0.9h-0.9zM326.6 292.2h0.9v0.9h-0.9zM314.3 283.3h0.9v0.9h-0.9zM334.5 289.1h0.9v0.9h-0.9zM323.5 282.6h0.9v0.9h-0.9zM325.7 291.1h0.9v0.9h-0.9zM323.0 290.0h0.9v0.9h-0.9zM329.2 298.0h0.9v0.9h-0.9zM323.5 295.4h0.9v0.9h-0.9zM325.7 299.3h0.9v0.9h-0.9zM325.5 281.2h0.9v0.9h-0.9zM321.7 302.5h0.9v0.9h-0.9zM321.0 288.4h0.9v0.9h-0.9zM327.5 295.5h0.9v0.9h-0.9zM327.4 297.3h0.9v0.9h-0.9zM329.7 298.0h0.9v0.9h-0.9zM334.4 291.4h0.9v0.9h-0.9zM317.0 282.0h0.9v0.9h-0.9zM313.0 298.6h0.9v0.9h-0.9zM322.3 302.1h0.9v0.9h-0.9zM333.2 301.6h0.9v0.9h-0.9zM324.7 301.3h0.9v0.9h-0.9zM313.2 305.0h0.9v0.9h-0.9zM335.3 299.8h0.9v0.9h-0.9zM328.2 290.0h0.9v0.9h-0.9zM315.3 298.5h0.9v0.9h-0.9zM319.6 284.8h0.9v0.9h-0.9zM325.6 292.6h0.9v0.9h-0.9zM321.4 293.8h0.9v0.9h-0.9zM324.1 301.2h0.9v0.9h-0.9zM328.3 290.7h0.9v0.9h-0.9zM325.0 291.3h0.9v0.9h-0.9zM334.0 288.9h0.9v0.9h-0.9zM323.7 296.5h0.9v0.9h-0.9zM334.7 280.1h0.9v0.9h-0.9zM321.2 276.1h0.9v0.9h-0.9zM317.4 305.3h0.9v0.9h-0.9zM311.4 302.0h0.9v0.9h-0.9zM319.4 297.8h0.9v0.9h-0.9zM325.6 295.6h0.9v0.9h-0.9zM331.2 288.4h0.9v0.9h-0.9zM302.7 281.6h0.9v0.9h-0.9zM324.7 296.0h0.9v0.9h-0.9zM318.7 284.5h0.9v0.9h-0.9zM329.6 299.8h0.9v0.9h-0.9zM321.6 294.7h0.9v0.9h-0.9zM326.9 282.4h0.9v0.9h-0.9zM336.7 294.7h0.9v0.9h-0.9zM325.7 279.8h0.9v0.9h-0.9zM323.9 287.5h0.9v0.9h-0.9zM331.3 299.9h0.9v0.9h-0.9zM326.9 287.6h0.9v0.9h-0.9zM323.7 290.7h0.9v0.9h-0.9zM314.5 288.0h0.9v0.9h-0.9zM322.7 288.9h0.9v0.9h-0.9zM314.2 300.1h0.9v0.9h-0.9zM326.2 296.4h0.9v0.9h-0.9zM328.6 296.8h0.9v0.9h-0.9zM325.3 281.7h0.9v0.9h-0.9zM336.9 291.3h0.9v0.9h-0.9zM317.5 287.6h0.9v0.9h-0.9zM327.6 294.3h0.9v0.9h-0.9zM325.2 285.8h0.9v0.9h-0.9zM317.3 300.6h0.9v0.9h-0.9zM330.3 294.6h0.9v0.9h-0.9zM332.2 289.4h0.9v0.9h-0.9zM323.8 299.5h0.9v0.9h-0.9zM329.0 281.6h0.9v0.9h-0.9zM320.6 289.7h0.9v0.9h-0.9zM334.5 300.1h0.9v0.9h-0.9zM336.5 290.9h0.9v0.9h-0.9zM326.0 293.5h0.9v0.9h-0.9zM326.4 303.9h0.9v0.9h-0.9zM318.1 295.4h0.9v0.9h-0.9zM325.1 298.0h0.9v0.9h-0.9zM322.6 286.6h0.9v0.9h-0.9zM326.5 309.6h0.9v0.9h-0.9zM315.9 291.1h0.9v0.9h-0.9zM336.4 297.3h0.9v0.9h-0.9zM326.2 294.5h0.9v0.9h-0.9zM332.0 293.5h0.9v0.9h-0.9zM328.2 284.7h0.9v0.9h-0.9zM323.2 292.0h0.9v0.9h-0.9zM337.5 294.7h0.9v0.9h-0.9zM332.2 304.3h0.9v0.9h-0.9zM315.4 295.3h0.9v0.9h-0.9zM324.9 290.8h0.9v0.9h-0.9zM323.5 295.6h0.9v0.9h-0.9zM319.9 295.4h0.9v0.9h-0.9zM339.0 293.4h0.9v0.9h-0.9zM317.2 296.0h0.9v0.9h-0.9zM334.9 306.1h0.9v0.9h-0.9zM313.9 294.2h0.9v0.9h-0.9zM333.9 284.6h0.9v0.9h-0.9zM321.6 290.2h0.9v0.9h-0.9zM310.5 291.9h0.9v0.9h-0.9zM326.8 288.8h0.9v0.9h-0.9zM328.2 295.3h0.9v0.9h-0.9zM319.2 301.1h0.9v0.9h-0.9zM332.1 279.6h0.9v0.9h-0.9zM314.2 286.0h0.9v0.9h-0.9zM332.4 290.6h0.9v0.9h-0.9zM328.9 298.8h0.9v0.9h-0.9zM336.7 280.8h0.9v0.9h-0.9zM322.5 301.5h0.9v0.9h-0.9zM330.8 305.3h0.9v0.9h-0.9zM321.3 302.9h0.9v0.9h-0.9zM330.4 295.9h0.9v0.9h-0.9zM326.7 284.5h0.9v0.9h-0.9zM330.3 290.4h0.9v0.9h-0.9zM316.9 289.4h0.9v0.9h-0.9zM328.3 294.9h0.9v0.9h-0.9zM327.5 300.8h0.9v0.9h-0.9zM334.9 298.4h0.9v0.9h-0.9zM323.0 287.6h0.9v0.9h-0.9zM324.0 301.3h0.9v0.9h-0.9zM329.3 302.9h0.9v0.9h-0.9zM328.6 287.1h0.9v0.9h-0.9zM308.8 287.1h0.9v0.9h-0.9zM323.3 290.7h0.9v0.9h-0.9zM330.7 296.7h0.9v0.9h-0.9zM322.8 286.8h0.9v0.9h-0.9zM313.1 303.0h0.9v0.9h-0.9zM322.9 295.5h0.9v0.9h-0.9zM324.9 300.3h0.9v0.9h-0.9zM318.9 290.1h0.9v0.9h-0.9zM325.6 287.8h0.9v0.9h-0.9zM318.0 297.4h0.9v0.9h-0.9zM323.8 309.5h0.9v0.9h-0.9zM325.6 300.3h0.9v0.9h-0.9zM336.5 304.5h0.9v0.9h-0.9zM327.3 291.4h0.9v0.9h-0.9zM333.2 290.3h0.9v0.9h-0.9zM326.4 294.5h0.9v0.9h-0.9zM317.7 299.1h0.9v0.9h-0.9zM317.5 294.9h0.9v0.9h-0.9zM330.1 285.8h0.9v0.9h-0.9zM314.7 282.9h0.9v0.9h-0.9zM314.7 296.4h0.9v0.9h-0.9zM330.8 293.2h0.9v0.9h-0.9zM317.5 290.0h0.9v0.9h-0.9z" fill="#000" fill-opacity="0.45"/>
<path d="M327.3 298.5h0.9v0.9h-0.9zM340.6 290.4h0.9v0.9h-0.9zM339.2 290.9h0.9v0.9h-0.9zM321.9 304.8h0.9v0.9h-0.9zM324.0 310.9h0.9v0.9h-0.9zM321.7 296.7h0.9v0.9h-0.9zM332.7 292.1h0.9v0.9h-0.9zM326.4 299.7h0.9v0.9h-0.9zM334.5 275.1h0.9v0.9h-0.9zM308.5 293.8h0.9v0.9h-0.9zM342.7 283.4h0.9v0.9h-0.9zM333.8 301.2h0.9v0.9h-0.9zM325.6 295.4h0.9v0.9h-0.9zM323.2 292.1h0.9v0.9h-0.9zM331.6 268.9h0.9v0.9h-0.9zM335.2 301.1h0.9v0.9h-0.9zM325.0 310.3h0.9v0.9h-0.9zM325.5 286.7h0.9v0.9h-0.9zM333.9 300.8h0.9v0.9h-0.9zM318.3 301.2h0.9v0.9h-0.9zM311.9 278.5h0.9v0.9h-0.9zM330.9 303.4h0.9v0.9h-0.9zM320.3 307.5h0.9v0.9h-0.9zM307.8 296.3h0.9v0.9h-0.9zM318.9 293.4h0.9v0.9h-0.9zM322.3 301.9h0.9v0.9h-0.9zM315.1 278.6h0.9v0.9h-0.9zM312.1 294.9h0.9v0.9h-0.9zM327.4 304.5h0.9v0.9h-0.9zM336.0 281.6h0.9v0.9h-0.9zM324.7 303.9h0.9v0.9h-0.9zM319.6 289.8h0.9v0.9h-0.9zM330.8 273.2h0.9v0.9h-0.9zM334.2 292.9h0.9v0.9h-0.9zM324.0 284.3h0.9v0.9h-0.9zM332.4 297.2h0.9v0.9h-0.9zM337.4 282.3h0.9v0.9h-0.9zM324.9 304.5h0.9v0.9h-0.9zM318.9 286.6h0.9v0.9h-0.9zM330.5 297.6h0.9v0.9h-0.9zM329.5 288.1h0.9v0.9h-0.9zM338.0 290.8h0.9v0.9h-0.9zM314.2 305.9h0.9v0.9h-0.9zM320.4 296.2h0.9v0.9h-0.9zM318.6 290.0h0.9v0.9h-0.9zM309.7 281.5h0.9v0.9h-0.9zM328.3 305.6h0.9v0.9h-0.9zM332.3 301.3h0.9v0.9h-0.9zM319.6 290.7h0.9v0.9h-0.9zM340.9 296.4h0.9v0.9h-0.9zM335.2 283.7h0.9v0.9h-0.9zM333.3 283.9h0.9v0.9h-0.9zM331.0 285.7h0.9v0.9h-0.9zM336.6 297.5h0.9v0.9h-0.9zM313.7 297.0h0.9v0.9h-0.9zM333.1 286.5h0.9v0.9h-0.9zM333.0 301.4h0.9v0.9h-0.9zM309.3 301.8h0.9v0.9h-0.9zM330.5 295.7h0.9v0.9h-0.9zM324.5 304.4h0.9v0.9h-0.9zM334.8 291.1h0.9v0.9h-0.9zM322.6 292.9h0.9v0.9h-0.9zM326.8 298.7h0.9v0.9h-0.9zM330.4 293.7h0.9v0.9h-0.9zM318.2 301.9h0.9v0.9h-0.9zM333.0 281.5h0.9v0.9h-0.9zM326.0 308.3h0.9v0.9h-0.9zM331.9 286.2h0.9v0.9h-0.9zM321.8 292.4h0.9v0.9h-0.9zM337.9 280.2h0.9v0.9h-0.9zM333.1 300.0h0.9v0.9h-0.9zM325.2 306.7h0.9v0.9h-0.9zM333.3 304.7h0.9v0.9h-0.9zM339.6 302.3h0.9v0.9h-0.9zM344.9 278.4h0.9v0.9h-0.9zM311.3 286.2h0.9v0.9h-0.9zM335.8 289.4h0.9v0.9h-0.9zM331.7 284.7h0.9v0.9h-0.9zM326.1 305.2h0.9v0.9h-0.9zM316.9 295.8h0.9v0.9h-0.9zM339.6 293.8h0.9v0.9h-0.9zM314.4 298.9h0.9v0.9h-0.9zM332.7 284.5h0.9v0.9h-0.9zM340.0 284.9h0.9v0.9h-0.9zM311.0 285.2h0.9v0.9h-0.9zM324.0 299.0h0.9v0.9h-0.9zM313.9 297.4h0.9v0.9h-0.9zM329.4 299.8h0.9v0.9h-0.9zM342.1 304.8h0.9v0.9h-0.9zM347.2 280.4h0.9v0.9h-0.9zM309.2 288.4h0.9v0.9h-0.9zM321.3 295.5h0.9v0.9h-0.9zM334.0 280.5h0.9v0.9h-0.9zM342.8 288.7h0.9v0.9h-0.9zM331.2 304.1h0.9v0.9h-0.9zM319.5 305.0h0.9v0.9h-0.9zM330.0 304.8h0.9v0.9h-0.9zM326.8 294.4h0.9v0.9h-0.9zM325.0 291.9h0.9v0.9h-0.9zM319.7 304.8h0.9v0.9h-0.9zM330.9 290.3h0.9v0.9h-0.9zM330.1 297.4h0.9v0.9h-0.9zM326.1 307.3h0.9v0.9h-0.9zM324.8 290.3h0.9v0.9h-0.9zM314.2 287.9h0.9v0.9h-0.9zM322.1 293.9h0.9v0.9h-0.9zM339.1 300.0h0.9v0.9h-0.9zM325.1 298.8h0.9v0.9h-0.9zM312.6 295.6h0.9v0.9h-0.9zM340.3 299.6h0.9v0.9h-0.9zM332.3 278.0h0.9v0.9h-0.9zM348.1 285.4h0.9v0.9h-0.9zM327.6 295.6h0.9v0.9h-0.9zM322.4 284.7h0.9v0.9h-0.9zM312.5 280.6h0.9v0.9h-0.9zM340.2 281.9h0.9v0.9h-0.9zM352.7 284.8h0.9v0.9h-0.9zM318.8 292.2h0.9v0.9h-0.9zM320.5 283.8h0.9v0.9h-0.9zM333.0 296.3h0.9v0.9h-0.9zM318.7 311.0h0.9v0.9h-0.9zM324.3 292.5h0.9v0.9h-0.9zM323.5 306.7h0.9v0.9h-0.9zM328.9 296.9h0.9v0.9h-0.9zM337.9 282.8h0.9v0.9h-0.9zM327.2 291.4h0.9v0.9h-0.9zM336.2 284.2h0.9v0.9h-0.9zM322.8 301.7h0.9v0.9h-0.9zM330.3 282.5h0.9v0.9h-0.9zM305.6 307.2h0.9v0.9h-0.9zM312.5 299.8h0.9v0.9h-0.9zM335.0 273.8h0.9v0.9h-0.9zM321.1 301.8h0.9v0.9h-0.9zM332.8 309.5h0.9v0.9h-0.9zM332.4 286.1h0.9v0.9h-0.9zM340.2 303.9h0.9v0.9h-0.9zM335.1 276.0h0.9v0.9h-0.9zM337.2 296.5h0.9v0.9h-0.9zM325.9 277.4h0.9v0.9h-0.9zM320.0 298.8h0.9v0.9h-0.9zM319.7 276.1h0.9v0.9h-0.9zM322.1 267.7h0.9v0.9h-0.9zM315.7 298.0h0.9v0.9h-0.9zM326.1 288.0h0.9v0.9h-0.9zM329.5 302.3h0.9v0.9h-0.9zM323.6 295.1h0.9v0.9h-0.9zM307.8 290.8h0.9v0.9h-0.9zM326.3 300.2h0.9v0.9h-0.9zM329.3 310.4h0.9v0.9h-0.9zM337.8 281.6h0.9v0.9h-0.9zM332.8 299.6h0.9v0.9h-0.9zM320.6 297.5h0.9v0.9h-0.9zM319.8 279.8h0.9v0.9h-0.9zM347.1 310.1h0.9v0.9h-0.9zM345.3 284.5h0.9v0.9h-0.9zM348.3 311.4h0.9v0.9h-0.9zM318.8 294.6h0.9v0.9h-0.9zM330.9 292.4h0.9v0.9h-0.9zM331.6 309.0h0.9v0.9h-0.9zM332.6 296.3h0.9v0.9h-0.9zM332.4 297.2h0.9v0.9h-0.9zM329.0 309.2h0.9v0.9h-0.9zM328.7 306.9h0.9v0.9h-0.9zM312.0 302.9h0.9v0.9h-0.9zM325.3 280.0h0.9v0.9h-0.9zM319.5 278.3h0.9v0.9h-0.9zM328.3 305.3h0.9v0.9h-0.9zM322.3 284.7h0.9v0.9h-0.9zM333.2 295.5h0.9v0.9h-0.9zM335.2 283.3h0.9v0.9h-0.9zM330.1 292.2h0.9v0.9h-0.9zM330.2 281.2h0.9v0.9h-0.9zM327.9 310.3h0.9v0.9h-0.9zM322.5 283.8h0.9v0.9h-0.9zM325.4 292.8h0.9v0.9h-0.9zM322.0 292.1h0.9v0.9h-0.9zM330.9 306.1h0.9v0.9h-0.9zM327.1 279.8h0.9v0.9h-0.9zM332.8 293.7h0.9v0.9h-0.9zM313.7 291.9h0.9v0.9h-0.9zM335.9 299.3h0.9v0.9h-0.9zM319.4 298.7h0.9v0.9h-0.9zM319.7 289.4h0.9v0.9h-0.9zM325.0 296.4h0.9v0.9h-0.9zM321.4 290.3h0.9v0.9h-0.9zM329.9 298.7h0.9v0.9h-0.9zM321.3 293.0h0.9v0.9h-0.9zM316.3 287.4h0.9v0.9h-0.9zM318.5 293.7h0.9v0.9h-0.9zM340.1 297.6h0.9v0.9h-0.9zM315.3 289.1h0.9v0.9h-0.9zM327.1 297.1h0.9v0.9h-0.9zM311.4 308.6h0.9v0.9h-0.9zM344.9 273.2h0.9v0.9h-0.9zM311.8 276.6h0.9v0.9h-0.9zM331.8 282.1h0.9v0.9h-0.9zM332.4 292.9h0.9v0.9h-0.9zM330.0 297.9h0.9v0.9h-0.9zM337.0 306.1h0.9v0.9h-0.9zM331.7 291.8h0.9v0.9h-0.9zM329.6 269.4h0.9v0.9h-0.9zM336.5 270.9h0.9v0.9h-0.9zM328.6 304.2h0.9v0.9h-0.9zM330.4 295.8h0.9v0.9h-0.9zM325.7 281.0h0.9v0.9h-0.9zM333.3 305.2h0.9v0.9h-0.9zM317.6 278.6h0.9v0.9h-0.9zM334.9 305.3h0.9v0.9h-0.9zM321.9 308.5h0.9v0.9h-0.9zM316.1 286.4h0.9v0.9h-0.9zM330.7 282.9h0.9v0.9h-0.9zM343.9 302.4h0.9v0.9h-0.9zM336.6 283.0h0.9v0.9h-0.9zM321.8 302.6h0.9v0.9h-0.9zM334.0 282.0h0.9v0.9h-0.9zM322.5 302.1h0.9v0.9h-0.9zM325.8 294.9h0.9v0.9h-0.9zM327.9 289.7h0.9v0.9h-0.9zM303.8 285.0h0.9v0.9h-0.9zM328.9 296.4h0.9v0.9h-0.9zM316.7 275.1h0.9v0.9h-0.9zM320.0 291.2h0.9v0.9h-0.9zM312.3 290.0h0.9v0.9h-0.9zM311.8 300.8h0.9v0.9h-0.9zM317.6 281.5h0.9v0.9h-0.9zM335.3 311.1h0.9v0.9h-0.9zM343.7 290.9h0.9v0.9h-0.9zM326.7 282.6h0.9v0.9h-0.9zM337.9 307.9h0.9v0.9h-0.9zM324.4 310.6h0.9v0.9h-0.9zM307.9 292.1h0.9v0.9h-0.9zM328.5 285.1h0.9v0.9h-0.9zM331.5 294.2h0.9v0.9h-0.9zM322.7 287.1h0.9v0.9h-0.9zM330.0 290.9h0.9v0.9h-0.9zM332.7 309.6h0.9v0.9h-0.9zM318.4 297.9h0.9v0.9h-0.9zM312.2 295.5h0.9v0.9h-0.9zM324.8 297.5h0.9v0.9h-0.9zM324.9 293.4h0.9v0.9h-0.9zM323.5 302.4h0.9v0.9h-0.9zM336.9 302.8h0.9v0.9h-0.9zM344.3 290.3h0.9v0.9h-0.9zM322.8 295.1h0.9v0.9h-0.9zM336.4 298.2h0.9v0.9h-0.9zM334.1 292.1h0.9v0.9h-0.9zM323.1 294.1h0.9v0.9h-0.9zM334.4 283.0h0.9v0.9h-0.9zM347.2 300.7h0.9v0.9h-0.9zM335.0 285.0h0.9v0.9h-0.9zM320.8 289.0h0.9v0.9h-0.9zM333.1 297.3h0.9v0.9h-0.9zM339.6 292.7h0.9v0.9h-0.9zM330.7 286.4h0.9v0.9h-0.9zM321.4 288.5h0.9v0.9h-0.9zM342.4 288.1h0.9v0.9h-0.9zM314.5 305.7h0.9v0.9h-0.9zM332.0 286.8h0.9v0.9h-0.9zM326.8 288.3h0.9v0.9h-0.9zM339.2 288.5h0.9v0.9h-0.9zM330.5 308.9h0.9v0.9h-0.9zM315.3 307.2h0.9v0.9h-0.9zM333.0 292.5h0.9v0.9h-0.9zM322.7 279.8h0.9v0.9h-0.9zM308.0 298.5h0.9v0.9h-0.9zM320.1 300.7h0.9v0.9h-0.9zM329.6 303.7h0.9v0.9h-0.9zM333.4 294.7h0.9v0.9h-0.9zM328.7 306.0h0.9v0.9h-0.9zM327.5 307.9h0.9v0.9h-0.9zM331.7 283.5h0.9v0.9h-0.9zM324.9 308.3h0.9v0.9h-0.9zM338.8 295.7h0.9v0.9h-0.9zM328.5 288.3h0.9v0.9h-0.9zM329.9 290.8h0.9v0.9h-0.9zM316.4 303.8h0.9v0.9h-0.9zM319.9 276.1h0.9v0.9h-0.9zM342.3 294.8h0.9v0.9h-0.9zM330.4 292.6h0.9v0.9h-0.9zM324.2 292.2h0.9v0.9h-0.9zM330.4 288.9h0.9v0.9h-0.9zM322.2 279.4h0.9v0.9h-0.9zM329.8 302.6h0.9v0.9h-0.9zM320.3 284.6h0.9v0.9h-0.9zM329.8 290.3h0.9v0.9h-0.9zM311.2 288.0h0.9v0.9h-0.9zM340.3 286.7h0.9v0.9h-0.9zM321.9 301.4h0.9v0.9h-0.9zM311.2 297.8h0.9v0.9h-0.9zM324.8 287.3h0.9v0.9h-0.9zM323.3 284.6h0.9v0.9h-0.9zM328.5 289.3h0.9v0.9h-0.9zM315.5 303.7h0.9v0.9h-0.9zM331.0 295.3h0.9v0.9h-0.9zM363.2 296.3h0.9v0.9h-0.9zM314.2 290.7h0.9v0.9h-0.9zM330.4 291.4h0.9v0.9h-0.9zM323.9 296.2h0.9v0.9h-0.9zM328.9 275.6h0.9v0.9h-0.9zM308.9 310.1h0.9v0.9h-0.9zM315.5 286.1h0.9v0.9h-0.9zM331.6 288.3h0.9v0.9h-0.9zM326.6 307.4h0.9v0.9h-0.9zM343.4 296.2h0.9v0.9h-0.9zM320.0 294.4h0.9v0.9h-0.9zM328.7 288.2h0.9v0.9h-0.9zM356.1 278.4h0.9v0.9h-0.9zM319.3 295.8h0.9v0.9h-0.9zM318.0 306.0h0.9v0.9h-0.9zM326.6 285.0h0.9v0.9h-0.9zM326.6 307.6h0.9v0.9h-0.9zM335.4 282.7h0.9v0.9h-0.9zM328.3 286.7h0.9v0.9h-0.9zM319.4 299.1h0.9v0.9h-0.9zM329.1 294.0h0.9v0.9h-0.9zM353.4 300.9h0.9v0.9h-0.9zM339.7 286.6h0.9v0.9h-0.9zM325.6 275.3h0.9v0.9h-0.9zM318.2 282.0h0.9v0.9h-0.9zM333.2 283.2h0.9v0.9h-0.9zM325.3 279.7h0.9v0.9h-0.9zM346.3 297.1h0.9v0.9h-0.9zM336.3 287.4h0.9v0.9h-0.9zM335.9 274.1h0.9v0.9h-0.9zM326.6 285.7h0.9v0.9h-0.9zM330.4 281.4h0.9v0.9h-0.9zM340.0 306.4h0.9v0.9h-0.9zM332.3 305.7h0.9v0.9h-0.9zM323.5 282.5h0.9v0.9h-0.9zM339.8 279.3h0.9v0.9h-0.9zM328.9 284.0h0.9v0.9h-0.9zM326.2 305.3h0.9v0.9h-0.9zM319.1 290.9h0.9v0.9h-0.9zM321.3 285.9h0.9v0.9h-0.9zM320.6 293.7h0.9v0.9h-0.9zM337.2 280.1h0.9v0.9h-0.9zM332.7 290.2h0.9v0.9h-0.9zM324.9 280.2h0.9v0.9h-0.9zM331.4 312.2h0.9v0.9h-0.9zM330.7 303.5h0.9v0.9h-0.9zM324.7 300.6h0.9v0.9h-0.9zM332.3 273.0h0.9v0.9h-0.9zM343.1 296.8h0.9v0.9h-0.9zM345.4 280.6h0.9v0.9h-0.9zM341.3 280.8h0.9v0.9h-0.9zM315.4 287.0h0.9v0.9h-0.9zM305.0 290.5h0.9v0.9h-0.9zM332.7 299.7h0.9v0.9h-0.9zM327.3 301.0h0.9v0.9h-0.9zM336.6 296.6h0.9v0.9h-0.9zM325.7 284.6h0.9v0.9h-0.9zM329.2 300.8h0.9v0.9h-0.9zM312.0 292.8h0.9v0.9h-0.9zM331.5 305.8h0.9v0.9h-0.9zM322.6 284.8h0.9v0.9h-0.9zM330.5 266.4h0.9v0.9h-0.9zM331.6 289.2h0.9v0.9h-0.9zM330.2 298.7h0.9v0.9h-0.9zM326.9 292.1h0.9v0.9h-0.9zM334.6 302.8h0.9v0.9h-0.9zM332.0 299.0h0.9v0.9h-0.9zM321.5 298.6h0.9v0.9h-0.9zM321.1 288.9h0.9v0.9h-0.9zM344.4 294.8h0.9v0.9h-0.9zM326.0 296.0h0.9v0.9h-0.9zM336.9 287.6h0.9v0.9h-0.9zM330.9 282.8h0.9v0.9h-0.9zM321.4 295.4h0.9v0.9h-0.9zM319.5 303.7h0.9v0.9h-0.9zM328.2 300.5h0.9v0.9h-0.9zM329.6 298.9h0.9v0.9h-0.9zM333.1 299.0h0.9v0.9h-0.9zM321.1 296.6h0.9v0.9h-0.9zM326.1 304.4h0.9v0.9h-0.9zM303.4 294.5h0.9v0.9h-0.9zM331.4 296.6h0.9v0.9h-0.9zM321.6 304.4h0.9v0.9h-0.9zM331.3 310.9h0.9v0.9h-0.9zM322.1 297.1h0.9v0.9h-0.9zM330.6 297.6h0.9v0.9h-0.9zM342.6 294.9h0.9v0.9h-0.9zM330.5 281.9h0.9v0.9h-0.9zM331.3 305.2h0.9v0.9h-0.9zM330.7 291.5h0.9v0.9h-0.9zM319.5 276.8h0.9v0.9h-0.9zM332.4 292.6h0.9v0.9h-0.9zM324.9 276.7h0.9v0.9h-0.9zM318.9 284.0h0.9v0.9h-0.9zM326.6 294.2h0.9v0.9h-0.9zM324.7 284.8h0.9v0.9h-0.9zM334.5 304.8h0.9v0.9h-0.9zM326.6 279.4h0.9v0.9h-0.9zM321.7 296.7h0.9v0.9h-0.9zM341.6 299.6h0.9v0.9h-0.9zM336.9 308.7h0.9v0.9h-0.9zM339.7 303.3h0.9v0.9h-0.9zM333.1 296.4h0.9v0.9h-0.9zM325.9 294.9h0.9v0.9h-0.9zM322.8 293.5h0.9v0.9h-0.9zM324.2 305.5h0.9v0.9h-0.9zM336.5 287.5h0.9v0.9h-0.9zM328.1 299.3h0.9v0.9h-0.9zM312.2 293.2h0.9v0.9h-0.9zM326.6 296.5h0.9v0.9h-0.9zM312.8 291.5h0.9v0.9h-0.9zM315.0 287.5h0.9v0.9h-0.9zM314.4 296.6h0.9v0.9h-0.9zM328.2 296.9h0.9v0.9h-0.9zM326.2 300.2h0.9v0.9h-0.9zM310.4 298.6h0.9v0.9h-0.9zM334.5 298.4h0.9v0.9h-0.9zM348.6 303.9h0.9v0.9h-0.9zM312.2 279.1h0.9v0.9h-0.9zM345.2 294.2h0.9v0.9h-0.9zM320.1 281.8h0.9v0.9h-0.9zM322.1 296.4h0.9v0.9h-0.9zM325.2 282.3h0.9v0.9h-0.9zM312.5 284.5h0.9v0.9h-0.9zM340.0 293.5h0.9v0.9h-0.9zM331.9 308.1h0.9v0.9h-0.9zM319.5 299.9h0.9v0.9h-0.9zM324.2 297.1h0.9v0.9h-0.9zM311.8 308.2h0.9v0.9h-0.9zM323.5 284.7h0.9v0.9h-0.9zM336.4 273.2h0.9v0.9h-0.9zM309.8 289.9h0.9v0.9h-0.9zM322.6 291.4h0.9v0.9h-0.9zM328.5 306.5h0.9v0.9h-0.9zM340.5 280.8h0.9v0.9h-0.9zM319.6 309.8h0.9v0.9h-0.9z" fill="#000" fill-opacity="0.38"/>
<path d="M303.3 291.8h0.9v0.9h-0.9zM358.8 304.1h0.9v0.9h-0.9zM366.1 296.9h0.9v0.9h-0.9zM361.9 299.1h0.9v0.9h-0.9zM330.3 292.6h0.9v0.9h-0.9zM336.7 304.8h0.9v0.9h-0.9zM332.8 295.0h0.9v0.9h-0.9zM362.6 292.2h0.9v0.9h-0.9zM353.7 291.1h0.9v0.9h-0.9zM339.1 286.7h0.9v0.9h-0.9zM350.7 303.7h0.9v0.9h-0.9zM362.5 299.0h0.9v0.9h-0.9zM344.7 298.5h0.9v0.9h-0.9zM318.5 291.6h0.9v0.9h-0.9zM336.7 304.3h0.9v0.9h-0.9zM330.3 298.8h0.9v0.9h-0.9zM309.3 281.3h0.9v0.9h-0.9zM340.7 289.1h0.9v0.9h-0.9zM319.2 294.1h0.9v0.9h-0.9zM323.6 312.4h0.9v0.9h-0.9zM352.5 305.2h0.9v0.9h-0.9zM344.9 288.9h0.9v0.9h-0.9zM316.4 297.9h0.9v0.9h-0.9zM376.6 295.5h0.9v0.9h-0.9zM337.0 293.4h0.9v0.9h-0.9zM374.9 300.8h0.9v0.9h-0.9zM333.7 293.7h0.9v0.9h-0.9zM316.8 309.9h0.9v0.9h-0.9zM338.1 271.8h0.9v0.9h-0.9zM315.8 301.3h0.9v0.9h-0.9zM367.6 288.4h0.9v0.9h-0.9zM354.2 285.8h0.9v0.9h-0.9zM393.8 299.7h0.9v0.9h-0.9zM344.7 295.5h0.9v0.9h-0.9zM344.3 301.7h0.9v0.9h-0.9zM321.7 289.7h0.9v0.9h-0.9zM321.3 298.9h0.9v0.9h-0.9zM343.0 304.4h0.9v0.9h-0.9zM322.0 267.8h0.9v0.9h-0.9zM332.4 295.3h0.9v0.9h-0.9zM332.5 301.9h0.9v0.9h-0.9zM317.2 281.1h0.9v0.9h-0.9zM380.1 280.0h0.9v0.9h-0.9zM303.1 306.4h0.9v0.9h-0.9zM340.8 287.3h0.9v0.9h-0.9zM356.0 299.2h0.9v0.9h-0.9zM358.5 305.4h0.9v0.9h-0.9zM330.5 305.5h0.9v0.9h-0.9zM319.4 276.5h0.9v0.9h-0.9zM382.6 298.3h0.9v0.9h-0.9zM378.0 287.7h0.9v0.9h-0.9zM341.2 270.1h0.9v0.9h-0.9zM338.9 299.5h0.9v0.9h-0.9zM340.4 305.3h0.9v0.9h-0.9zM318.0 290.7h0.9v0.9h-0.9zM337.7 302.8h0.9v0.9h-0.9zM358.5 299.8h0.9v0.9h-0.9zM352.1 298.3h0.9v0.9h-0.9zM321.2 273.4h0.9v0.9h-0.9zM352.7 303.1h0.9v0.9h-0.9zM323.2 279.1h0.9v0.9h-0.9zM308.5 276.9h0.9v0.9h-0.9zM345.1 287.0h0.9v0.9h-0.9zM350.4 310.6h0.9v0.9h-0.9zM365.5 303.0h0.9v0.9h-0.9zM357.9 292.0h0.9v0.9h-0.9zM348.5 302.4h0.9v0.9h-0.9zM343.2 290.7h0.9v0.9h-0.9zM330.7 289.1h0.9v0.9h-0.9zM333.9 301.8h0.9v0.9h-0.9zM347.6 295.1h0.9v0.9h-0.9zM344.5 273.4h0.9v0.9h-0.9zM316.2 302.4h0.9v0.9h-0.9zM327.4 288.9h0.9v0.9h-0.9zM356.2 295.9h0.9v0.9h-0.9zM346.8 299.0h0.9v0.9h-0.9zM337.5 277.7h0.9v0.9h-0.9zM333.5 308.9h0.9v0.9h-0.9zM367.4 303.7h0.9v0.9h-0.9zM329.6 284.1h0.9v0.9h-0.9zM323.7 291.3h0.9v0.9h-0.9zM329.7 280.2h0.9v0.9h-0.9zM338.1 280.6h0.9v0.9h-0.9zM328.0 309.3h0.9v0.9h-0.9zM329.4 283.5h0.9v0.9h-0.9zM344.0 307.3h0.9v0.9h-0.9zM320.8 294.0h0.9v0.9h-0.9zM338.3 289.3h0.9v0.9h-0.9zM360.6 303.5h0.9v0.9h-0.9zM324.8 300.1h0.9v0.9h-0.9zM369.4 283.0h0.9v0.9h-0.9zM342.5 309.4h0.9v0.9h-0.9zM355.8 301.3h0.9v0.9h-0.9zM319.6 291.0h0.9v0.9h-0.9zM363.8 294.8h0.9v0.9h-0.9zM339.8 302.3h0.9v0.9h-0.9zM346.2 303.6h0.9v0.9h-0.9zM351.8 297.1h0.9v0.9h-0.9zM368.2 298.2h0.9v0.9h-0.9zM336.0 275.4h0.9v0.9h-0.9zM343.0 295.3h0.9v0.9h-0.9zM311.7 283.2h0.9v0.9h-0.9zM318.2 304.5h0.9v0.9h-0.9zM313.7 277.9h0.9v0.9h-0.9zM336.9 294.2h0.9v0.9h-0.9zM343.9 262.5h0.9v0.9h-0.9zM348.9 292.3h0.9v0.9h-0.9zM357.8 284.5h0.9v0.9h-0.9zM344.5 295.0h0.9v0.9h-0.9zM316.6 309.6h0.9v0.9h-0.9zM371.8 311.3h0.9v0.9h-0.9zM342.6 290.8h0.9v0.9h-0.9zM349.9 309.5h0.9v0.9h-0.9zM311.4 282.8h0.9v0.9h-0.9zM361.1 289.3h0.9v0.9h-0.9zM343.5 308.5h0.9v0.9h-0.9zM306.6 277.3h0.9v0.9h-0.9zM330.8 307.8h0.9v0.9h-0.9zM372.3 296.6h0.9v0.9h-0.9zM328.7 296.3h0.9v0.9h-0.9zM340.4 291.0h0.9v0.9h-0.9zM371.6 280.7h0.9v0.9h-0.9zM337.0 297.1h0.9v0.9h-0.9zM335.2 286.7h0.9v0.9h-0.9zM331.6 306.6h0.9v0.9h-0.9zM332.4 306.6h0.9v0.9h-0.9zM331.0 299.7h0.9v0.9h-0.9zM349.9 293.9h0.9v0.9h-0.9zM356.8 297.1h0.9v0.9h-0.9zM356.1 298.5h0.9v0.9h-0.9zM356.0 301.2h0.9v0.9h-0.9zM310.4 292.2h0.9v0.9h-0.9z" fill="#000" fill-opacity="0.3"/>
<path d="M435.9 304.0h0.9v0.9h-0.9zM447.5 304.9h0.9v0.9h-0.9zM444.2 297.6h0.9v0.9h-0.9zM444.0 300.7h0.9v0.9h-0.9zM453.8 297.9h0.9v0.9h-0.9zM422.7 296.2h0.9v0.9h-0.9zM429.1 293.4h0.9v0.9h-0.9zM421.5 308.8h0.9v0.9h-0.9zM434.8 296.8h0.9v0.9h-0.9zM447.0 306.7h0.9v0.9h-0.9zM435.8 305.9h0.9v0.9h-0.9zM441.5 295.0h0.9v0.9h-0.9zM437.6 296.0h0.9v0.9h-0.9zM426.0 306.4h0.9v0.9h-0.9zM455.5 312.2h0.9v0.9h-0.9zM445.8 297.0h0.9v0.9h-0.9zM446.4 295.5h0.9v0.9h-0.9zM435.4 295.4h0.9v0.9h-0.9zM443.2 299.4h0.9v0.9h-0.9zM432.2 293.1h0.9v0.9h-0.9zM430.5 307.7h0.9v0.9h-0.9zM434.7 300.7h0.9v0.9h-0.9zM429.3 301.7h0.9v0.9h-0.9zM429.5 295.0h0.9v0.9h-0.9zM432.9 286.4h0.9v0.9h-0.9zM428.0 296.8h0.9v0.9h-0.9zM444.4 294.6h0.9v0.9h-0.9zM418.4 290.6h0.9v0.9h-0.9zM445.1 294.3h0.9v0.9h-0.9zM429.1 295.3h0.9v0.9h-0.9zM430.0 307.6h0.9v0.9h-0.9zM421.1 306.9h0.9v0.9h-0.9zM434.4 305.5h0.9v0.9h-0.9zM433.3 298.2h0.9v0.9h-0.9zM438.1 293.1h0.9v0.9h-0.9zM430.1 304.0h0.9v0.9h-0.9zM437.0 305.1h0.9v0.9h-0.9zM456.0 308.9h0.9v0.9h-0.9zM440.5 301.7h0.9v0.9h-0.9zM429.7 301.0h0.9v0.9h-0.9zM446.5 304.1h0.9v0.9h-0.9zM434.6 295.4h0.9v0.9h-0.9zM442.5 296.3h0.9v0.9h-0.9zM442.7 306.4h0.9v0.9h-0.9zM431.7 293.1h0.9v0.9h-0.9zM432.2 307.4h0.9v0.9h-0.9zM442.1 303.6h0.9v0.9h-0.9zM431.8 305.0h0.9v0.9h-0.9zM440.8 294.2h0.9v0.9h-0.9zM446.8 301.1h0.9v0.9h-0.9zM430.0 300.1h0.9v0.9h-0.9zM449.5 306.2h0.9v0.9h-0.9zM453.8 304.9h0.9v0.9h-0.9zM447.9 302.2h0.9v0.9h-0.9zM448.1 305.8h0.9v0.9h-0.9zM460.8 300.0h0.9v0.9h-0.9zM438.0 297.8h0.9v0.9h-0.9zM436.0 301.8h0.9v0.9h-0.9zM442.6 298.1h0.9v0.9h-0.9zM426.0 313.6h0.9v0.9h-0.9zM418.9 306.1h0.9v0.9h-0.9zM426.3 300.0h0.9v0.9h-0.9zM440.1 297.5h0.9v0.9h-0.9zM441.2 294.6h0.9v0.9h-0.9zM419.1 300.2h0.9v0.9h-0.9zM432.5 308.0h0.9v0.9h-0.9zM433.9 301.8h0.9v0.9h-0.9zM435.5 303.2h0.9v0.9h-0.9zM443.4 289.1h0.9v0.9h-0.9zM449.5 307.5h0.9v0.9h-0.9zM438.5 300.7h0.9v0.9h-0.9zM442.7 311.8h0.9v0.9h-0.9zM424.0 301.0h0.9v0.9h-0.9zM423.1 298.8h0.9v0.9h-0.9zM438.6 303.7h0.9v0.9h-0.9zM443.3 297.8h0.9v0.9h-0.9zM444.0 311.6h0.9v0.9h-0.9zM442.5 304.3h0.9v0.9h-0.9zM444.6 304.8h0.9v0.9h-0.9zM444.9 304.6h0.9v0.9h-0.9zM427.9 305.7h0.9v0.9h-0.9zM441.0 303.5h0.9v0.9h-0.9zM419.4 302.8h0.9v0.9h-0.9zM448.9 305.0h0.9v0.9h-0.9zM431.2 299.2h0.9v0.9h-0.9zM433.4 299.8h0.9v0.9h-0.9zM439.0 300.3h0.9v0.9h-0.9zM444.2 311.5h0.9v0.9h-0.9zM420.2 303.1h0.9v0.9h-0.9zM446.9 309.3h0.9v0.9h-0.9zM436.9 300.7h0.9v0.9h-0.9zM427.5 300.0h0.9v0.9h-0.9zM433.0 289.1h0.9v0.9h-0.9zM438.0 301.0h0.9v0.9h-0.9zM428.2 312.7h0.9v0.9h-0.9zM432.4 308.6h0.9v0.9h-0.9zM434.4 297.9h0.9v0.9h-0.9zM436.5 308.0h0.9v0.9h-0.9zM447.2 296.4h0.9v0.9h-0.9zM435.7 300.6h0.9v0.9h-0.9zM433.1 311.2h0.9v0.9h-0.9zM441.9 303.8h0.9v0.9h-0.9zM458.8 294.5h0.9v0.9h-0.9zM432.2 312.6h0.9v0.9h-0.9zM441.6 295.0h0.9v0.9h-0.9zM418.6 301.6h0.9v0.9h-0.9zM450.8 300.3h0.9v0.9h-0.9zM443.3 301.6h0.9v0.9h-0.9zM450.7 296.7h0.9v0.9h-0.9zM435.4 291.3h0.9v0.9h-0.9zM445.7 296.1h0.9v0.9h-0.9zM444.3 296.5h0.9v0.9h-0.9zM426.5 285.6h0.9v0.9h-0.9zM419.8 303.3h0.9v0.9h-0.9zM440.9 311.7h0.9v0.9h-0.9zM434.1 312.5h0.9v0.9h-0.9zM429.2 313.2h0.9v0.9h-0.9zM430.2 305.6h0.9v0.9h-0.9zM434.8 302.9h0.9v0.9h-0.9zM417.7 312.8h0.9v0.9h-0.9zM426.2 302.5h0.9v0.9h-0.9zM454.1 304.1h0.9v0.9h-0.9zM434.6 296.0h0.9v0.9h-0.9zM429.3 303.4h0.9v0.9h-0.9zM442.4 302.2h0.9v0.9h-0.9zM443.2 305.5h0.9v0.9h-0.9zM438.8 285.9h0.9v0.9h-0.9zM431.7 312.1h0.9v0.9h-0.9zM439.4 305.3h0.9v0.9h-0.9zM440.2 312.6h0.9v0.9h-0.9zM428.5 304.4h0.9v0.9h-0.9zM442.8 296.7h0.9v0.9h-0.9zM421.8 306.1h0.9v0.9h-0.9zM432.7 302.4h0.9v0.9h-0.9zM434.8 295.7h0.9v0.9h-0.9zM423.2 302.0h0.9v0.9h-0.9zM439.6 298.0h0.9v0.9h-0.9zM447.6 307.4h0.9v0.9h-0.9zM441.0 299.5h0.9v0.9h-0.9zM438.5 293.7h0.9v0.9h-0.9zM445.1 301.6h0.9v0.9h-0.9zM440.4 298.3h0.9v0.9h-0.9zM423.4 312.5h0.9v0.9h-0.9zM433.8 298.9h0.9v0.9h-0.9zM450.2 292.9h0.9v0.9h-0.9zM423.5 301.6h0.9v0.9h-0.9zM436.7 300.2h0.9v0.9h-0.9zM431.7 303.8h0.9v0.9h-0.9zM426.1 303.4h0.9v0.9h-0.9zM424.9 294.6h0.9v0.9h-0.9zM437.1 301.5h0.9v0.9h-0.9zM439.5 301.1h0.9v0.9h-0.9zM439.4 293.4h0.9v0.9h-0.9zM420.1 297.7h0.9v0.9h-0.9zM432.8 303.1h0.9v0.9h-0.9zM439.8 290.5h0.9v0.9h-0.9zM446.4 294.1h0.9v0.9h-0.9zM443.4 298.3h0.9v0.9h-0.9zM445.1 300.9h0.9v0.9h-0.9zM448.1 305.1h0.9v0.9h-0.9zM445.1 292.0h0.9v0.9h-0.9zM427.0 303.6h0.9v0.9h-0.9zM436.6 305.8h0.9v0.9h-0.9zM428.2 312.2h0.9v0.9h-0.9zM417.5 295.0h0.9v0.9h-0.9zM459.0 290.7h0.9v0.9h-0.9zM423.7 305.3h0.9v0.9h-0.9zM429.6 296.6h0.9v0.9h-0.9zM452.7 304.5h0.9v0.9h-0.9zM435.5 307.5h0.9v0.9h-0.9zM440.5 308.2h0.9v0.9h-0.9zM433.0 298.8h0.9v0.9h-0.9zM435.1 306.2h0.9v0.9h-0.9zM449.9 301.4h0.9v0.9h-0.9zM444.8 295.2h0.9v0.9h-0.9zM435.1 303.7h0.9v0.9h-0.9zM445.8 304.5h0.9v0.9h-0.9zM447.8 295.2h0.9v0.9h-0.9zM433.6 305.1h0.9v0.9h-0.9zM438.8 291.6h0.9v0.9h-0.9zM428.6 307.0h0.9v0.9h-0.9zM448.7 308.5h0.9v0.9h-0.9zM434.2 302.5h0.9v0.9h-0.9zM429.2 304.4h0.9v0.9h-0.9zM417.6 300.3h0.9v0.9h-0.9zM422.1 311.6h0.9v0.9h-0.9zM452.8 295.5h0.9v0.9h-0.9zM423.5 301.1h0.9v0.9h-0.9zM440.7 288.5h0.9v0.9h-0.9zM432.0 304.2h0.9v0.9h-0.9zM441.6 304.6h0.9v0.9h-0.9zM442.6 290.2h0.9v0.9h-0.9zM427.5 295.8h0.9v0.9h-0.9zM432.8 305.2h0.9v0.9h-0.9zM437.1 298.4h0.9v0.9h-0.9zM437.3 293.3h0.9v0.9h-0.9zM435.7 284.3h0.9v0.9h-0.9zM432.6 304.2h0.9v0.9h-0.9zM450.5 298.5h0.9v0.9h-0.9zM441.9 304.7h0.9v0.9h-0.9zM427.9 304.6h0.9v0.9h-0.9zM440.4 301.0h0.9v0.9h-0.9zM436.7 302.3h0.9v0.9h-0.9zM441.1 302.4h0.9v0.9h-0.9zM456.3 295.5h0.9v0.9h-0.9zM426.2 303.8h0.9v0.9h-0.9zM429.7 295.9h0.9v0.9h-0.9zM453.6 300.0h0.9v0.9h-0.9zM439.3 309.6h0.9v0.9h-0.9zM429.7 293.6h0.9v0.9h-0.9zM457.2 292.5h0.9v0.9h-0.9zM421.4 304.1h0.9v0.9h-0.9zM445.5 287.8h0.9v0.9h-0.9zM442.3 307.0h0.9v0.9h-0.9zM433.1 303.5h0.9v0.9h-0.9zM434.6 306.5h0.9v0.9h-0.9zM432.2 295.5h0.9v0.9h-0.9zM444.6 295.2h0.9v0.9h-0.9zM430.4 308.5h0.9v0.9h-0.9zM437.7 302.9h0.9v0.9h-0.9zM429.6 301.6h0.9v0.9h-0.9zM433.3 311.7h0.9v0.9h-0.9zM427.7 291.6h0.9v0.9h-0.9zM444.8 296.0h0.9v0.9h-0.9zM451.4 298.2h0.9v0.9h-0.9zM436.8 291.3h0.9v0.9h-0.9zM433.8 294.8h0.9v0.9h-0.9zM425.8 309.1h0.9v0.9h-0.9zM454.6 304.4h0.9v0.9h-0.9zM439.5 290.7h0.9v0.9h-0.9zM458.4 297.8h0.9v0.9h-0.9zM452.7 301.0h0.9v0.9h-0.9zM443.7 300.1h0.9v0.9h-0.9zM426.5 299.4h0.9v0.9h-0.9zM438.3 305.6h0.9v0.9h-0.9zM421.3 288.4h0.9v0.9h-0.9zM448.7 298.0h0.9v0.9h-0.9zM438.6 303.5h0.9v0.9h-0.9zM452.5 307.0h0.9v0.9h-0.9zM440.6 304.0h0.9v0.9h-0.9zM444.7 301.1h0.9v0.9h-0.9zM447.8 297.4h0.9v0.9h-0.9zM455.9 302.7h0.9v0.9h-0.9zM426.9 300.7h0.9v0.9h-0.9zM427.5 297.2h0.9v0.9h-0.9zM438.3 310.6h0.9v0.9h-0.9zM426.0 310.5h0.9v0.9h-0.9zM422.5 299.6h0.9v0.9h-0.9zM425.5 306.5h0.9v0.9h-0.9zM466.0 310.6h0.9v0.9h-0.9zM430.5 304.1h0.9v0.9h-0.9zM426.2 303.1h0.9v0.9h-0.9zM432.4 305.7h0.9v0.9h-0.9zM437.2 290.7h0.9v0.9h-0.9zM451.4 292.3h0.9v0.9h-0.9zM447.6 305.9h0.9v0.9h-0.9zM445.8 304.2h0.9v0.9h-0.9zM437.6 311.9h0.9v0.9h-0.9zM438.8 298.8h0.9v0.9h-0.9zM430.1 310.0h0.9v0.9h-0.9zM420.6 309.7h0.9v0.9h-0.9zM432.1 296.7h0.9v0.9h-0.9zM448.2 299.9h0.9v0.9h-0.9zM433.6 304.3h0.9v0.9h-0.9zM436.1 304.2h0.9v0.9h-0.9zM435.4 295.4h0.9v0.9h-0.9zM421.9 298.4h0.9v0.9h-0.9zM436.2 293.2h0.9v0.9h-0.9zM446.1 301.9h0.9v0.9h-0.9zM442.5 302.3h0.9v0.9h-0.9zM448.2 298.1h0.9v0.9h-0.9zM440.2 302.5h0.9v0.9h-0.9zM436.9 307.9h0.9v0.9h-0.9zM431.1 302.2h0.9v0.9h-0.9zM438.3 308.8h0.9v0.9h-0.9zM445.7 304.0h0.9v0.9h-0.9zM434.6 299.4h0.9v0.9h-0.9zM429.5 302.2h0.9v0.9h-0.9zM459.5 297.2h0.9v0.9h-0.9zM440.9 304.2h0.9v0.9h-0.9zM453.4 297.6h0.9v0.9h-0.9zM442.8 297.2h0.9v0.9h-0.9zM433.7 299.4h0.9v0.9h-0.9zM437.9 303.6h0.9v0.9h-0.9zM450.6 290.5h0.9v0.9h-0.9zM444.9 308.8h0.9v0.9h-0.9zM444.0 301.4h0.9v0.9h-0.9zM436.5 304.7h0.9v0.9h-0.9zM441.5 308.5h0.9v0.9h-0.9zM438.6 296.5h0.9v0.9h-0.9zM437.7 290.8h0.9v0.9h-0.9zM445.0 300.6h0.9v0.9h-0.9zM446.7 295.8h0.9v0.9h-0.9zM429.9 290.7h0.9v0.9h-0.9zM446.2 297.6h0.9v0.9h-0.9zM449.7 298.6h0.9v0.9h-0.9zM427.5 299.4h0.9v0.9h-0.9zM445.5 301.5h0.9v0.9h-0.9zM428.8 301.9h0.9v0.9h-0.9zM430.6 298.2h0.9v0.9h-0.9zM437.6 294.0h0.9v0.9h-0.9zM431.3 290.5h0.9v0.9h-0.9zM438.3 311.7h0.9v0.9h-0.9zM431.2 301.5h0.9v0.9h-0.9zM418.5 291.1h0.9v0.9h-0.9zM431.8 302.8h0.9v0.9h-0.9zM452.8 300.7h0.9v0.9h-0.9zM450.7 310.1h0.9v0.9h-0.9zM434.8 291.1h0.9v0.9h-0.9zM427.2 302.9h0.9v0.9h-0.9zM435.9 301.4h0.9v0.9h-0.9zM436.2 307.9h0.9v0.9h-0.9zM428.6 293.6h0.9v0.9h-0.9zM432.4 296.1h0.9v0.9h-0.9zM446.3 305.4h0.9v0.9h-0.9zM446.8 303.7h0.9v0.9h-0.9zM437.5 296.0h0.9v0.9h-0.9zM448.7 296.7h0.9v0.9h-0.9zM435.8 293.0h0.9v0.9h-0.9zM440.9 308.3h0.9v0.9h-0.9zM454.1 297.7h0.9v0.9h-0.9zM453.6 302.0h0.9v0.9h-0.9zM438.1 290.9h0.9v0.9h-0.9zM439.5 290.5h0.9v0.9h-0.9zM424.7 303.2h0.9v0.9h-0.9zM447.1 300.7h0.9v0.9h-0.9zM438.4 306.0h0.9v0.9h-0.9zM434.6 306.3h0.9v0.9h-0.9zM447.0 307.2h0.9v0.9h-0.9zM438.2 301.9h0.9v0.9h-0.9zM444.2 303.3h0.9v0.9h-0.9zM445.2 296.6h0.9v0.9h-0.9zM439.6 297.7h0.9v0.9h-0.9zM444.7 307.8h0.9v0.9h-0.9zM444.7 297.3h0.9v0.9h-0.9zM421.0 308.7h0.9v0.9h-0.9zM433.0 308.5h0.9v0.9h-0.9zM434.7 296.0h0.9v0.9h-0.9zM431.9 305.5h0.9v0.9h-0.9zM418.5 295.9h0.9v0.9h-0.9zM429.8 303.9h0.9v0.9h-0.9zM439.7 296.1h0.9v0.9h-0.9zM438.1 303.9h0.9v0.9h-0.9zM452.8 302.7h0.9v0.9h-0.9zM429.3 294.3h0.9v0.9h-0.9zM429.7 308.3h0.9v0.9h-0.9zM432.5 290.4h0.9v0.9h-0.9zM429.4 304.0h0.9v0.9h-0.9zM446.9 301.2h0.9v0.9h-0.9zM448.3 304.4h0.9v0.9h-0.9zM424.0 300.4h0.9v0.9h-0.9zM433.9 306.1h0.9v0.9h-0.9zM456.4 297.9h0.9v0.9h-0.9zM434.8 295.4h0.9v0.9h-0.9zM439.8 298.2h0.9v0.9h-0.9zM434.3 298.7h0.9v0.9h-0.9zM447.1 306.1h0.9v0.9h-0.9zM446.7 302.3h0.9v0.9h-0.9zM461.6 298.6h0.9v0.9h-0.9zM441.5 298.9h0.9v0.9h-0.9zM440.9 295.3h0.9v0.9h-0.9zM422.7 302.6h0.9v0.9h-0.9zM431.5 287.5h0.9v0.9h-0.9zM428.3 300.2h0.9v0.9h-0.9zM432.4 310.0h0.9v0.9h-0.9zM421.6 299.2h0.9v0.9h-0.9zM449.4 297.2h0.9v0.9h-0.9zM424.4 302.0h0.9v0.9h-0.9zM439.0 295.2h0.9v0.9h-0.9zM422.1 296.5h0.9v0.9h-0.9zM439.8 306.5h0.9v0.9h-0.9zM454.2 297.3h0.9v0.9h-0.9zM440.0 305.5h0.9v0.9h-0.9zM435.3 301.0h0.9v0.9h-0.9z" fill="#000" fill-opacity="0.32"/>
<path d="M447.1 291.9h0.9v0.9h-0.9zM459.2 306.9h0.9v0.9h-0.9zM455.9 283.8h0.9v0.9h-0.9zM453.3 292.1h0.9v0.9h-0.9zM460.6 285.7h0.9v0.9h-0.9zM466.4 304.3h0.9v0.9h-0.9zM457.9 295.4h0.9v0.9h-0.9zM447.4 300.9h0.9v0.9h-0.9zM461.7 292.4h0.9v0.9h-0.9zM453.9 302.5h0.9v0.9h-0.9zM467.0 302.3h0.9v0.9h-0.9zM455.0 301.7h0.9v0.9h-0.9zM464.3 308.8h0.9v0.9h-0.9zM447.5 307.8h0.9v0.9h-0.9zM473.4 295.3h0.9v0.9h-0.9zM450.8 285.0h0.9v0.9h-0.9zM452.8 288.9h0.9v0.9h-0.9zM461.2 305.5h0.9v0.9h-0.9zM479.1 295.7h0.9v0.9h-0.9zM457.4 304.0h0.9v0.9h-0.9zM459.9 286.4h0.9v0.9h-0.9zM437.8 302.0h0.9v0.9h-0.9zM466.2 296.3h0.9v0.9h-0.9zM455.2 296.7h0.9v0.9h-0.9zM464.2 294.6h0.9v0.9h-0.9zM473.7 295.5h0.9v0.9h-0.9zM443.0 304.2h0.9v0.9h-0.9zM455.0 309.9h0.9v0.9h-0.9zM468.9 303.1h0.9v0.9h-0.9zM470.6 307.9h0.9v0.9h-0.9zM461.4 305.6h0.9v0.9h-0.9zM449.1 294.1h0.9v0.9h-0.9zM450.7 291.9h0.9v0.9h-0.9zM451.3 305.5h0.9v0.9h-0.9zM460.0 307.5h0.9v0.9h-0.9zM459.6 304.3h0.9v0.9h-0.9zM459.4 296.5h0.9v0.9h-0.9zM461.2 300.0h0.9v0.9h-0.9zM450.9 309.4h0.9v0.9h-0.9zM458.3 298.8h0.9v0.9h-0.9zM439.9 301.2h0.9v0.9h-0.9zM450.4 275.0h0.9v0.9h-0.9zM464.8 288.1h0.9v0.9h-0.9zM469.5 296.8h0.9v0.9h-0.9zM443.6 297.2h0.9v0.9h-0.9zM464.9 295.3h0.9v0.9h-0.9zM448.5 301.3h0.9v0.9h-0.9zM464.1 294.8h0.9v0.9h-0.9zM439.8 292.5h0.9v0.9h-0.9zM451.1 294.9h0.9v0.9h-0.9zM454.7 296.9h0.9v0.9h-0.9zM442.8 309.6h0.9v0.9h-0.9zM448.6 302.3h0.9v0.9h-0.9zM475.5 300.9h0.9v0.9h-0.9zM467.2 302.5h0.9v0.9h-0.9zM461.2 309.9h0.9v0.9h-0.9zM454.2 307.4h0.9v0.9h-0.9zM453.6 303.5h0.9v0.9h-0.9zM453.6 293.0h0.9v0.9h-0.9zM480.7 291.8h0.9v0.9h-0.9zM462.3 306.4h0.9v0.9h-0.9zM464.7 302.5h0.9v0.9h-0.9zM458.9 298.3h0.9v0.9h-0.9zM463.2 305.8h0.9v0.9h-0.9zM455.2 299.2h0.9v0.9h-0.9zM459.7 299.1h0.9v0.9h-0.9zM457.3 299.8h0.9v0.9h-0.9zM457.0 300.3h0.9v0.9h-0.9zM452.8 300.8h0.9v0.9h-0.9zM463.6 289.7h0.9v0.9h-0.9zM458.4 295.8h0.9v0.9h-0.9zM466.9 299.1h0.9v0.9h-0.9zM461.4 310.1h0.9v0.9h-0.9zM450.3 304.8h0.9v0.9h-0.9zM461.6 295.1h0.9v0.9h-0.9zM461.4 309.2h0.9v0.9h-0.9zM468.5 305.7h0.9v0.9h-0.9zM460.5 293.2h0.9v0.9h-0.9zM462.5 309.7h0.9v0.9h-0.9zM470.6 284.1h0.9v0.9h-0.9zM467.8 300.3h0.9v0.9h-0.9zM456.8 312.1h0.9v0.9h-0.9zM472.9 292.2h0.9v0.9h-0.9zM456.1 299.6h0.9v0.9h-0.9zM457.2 312.7h0.9v0.9h-0.9zM467.5 300.0h0.9v0.9h-0.9zM458.4 302.7h0.9v0.9h-0.9zM443.9 304.5h0.9v0.9h-0.9zM459.8 292.0h0.9v0.9h-0.9zM472.0 289.6h0.9v0.9h-0.9zM448.0 302.1h0.9v0.9h-0.9zM469.6 290.5h0.9v0.9h-0.9zM461.1 300.3h0.9v0.9h-0.9zM467.6 308.4h0.9v0.9h-0.9zM458.7 299.7h0.9v0.9h-0.9zM459.2 309.1h0.9v0.9h-0.9zM459.5 294.2h0.9v0.9h-0.9zM458.3 301.6h0.9v0.9h-0.9zM452.7 282.1h0.9v0.9h-0.9zM464.0 297.5h0.9v0.9h-0.9zM450.6 291.4h0.9v0.9h-0.9zM456.6 305.4h0.9v0.9h-0.9zM476.1 307.6h0.9v0.9h-0.9zM433.7 302.3h0.9v0.9h-0.9zM448.0 293.3h0.9v0.9h-0.9zM438.2 294.4h0.9v0.9h-0.9zM460.0 296.8h0.9v0.9h-0.9zM452.6 296.3h0.9v0.9h-0.9zM442.1 296.6h0.9v0.9h-0.9zM446.8 292.3h0.9v0.9h-0.9zM477.9 294.3h0.9v0.9h-0.9zM462.6 290.7h0.9v0.9h-0.9zM463.7 305.1h0.9v0.9h-0.9zM455.3 295.8h0.9v0.9h-0.9zM465.5 291.7h0.9v0.9h-0.9zM445.7 301.1h0.9v0.9h-0.9zM454.2 303.3h0.9v0.9h-0.9zM449.5 307.6h0.9v0.9h-0.9zM454.9 305.7h0.9v0.9h-0.9zM452.8 299.6h0.9v0.9h-0.9zM454.5 299.8h0.9v0.9h-0.9zM457.0 302.1h0.9v0.9h-0.9z" fill="#000" fill-opacity="0.25"/>
<path d="M431.5 312.7h0.9v0.9h-0.9zM435.4 312.4h0.9v0.9h-0.9zM433.5 311.3h0.9v0.9h-0.9zM433.5 311.2h0.9v0.9h-0.9zM435.6 312.0h0.9v0.9h-0.9zM433.0 313.5h0.9v0.9h-0.9zM437.7 312.1h0.9v0.9h-0.9zM434.6 312.7h0.9v0.9h-0.9zM440.1 313.1h0.9v0.9h-0.9zM429.1 311.5h0.9v0.9h-0.9zM431.8 313.1h0.9v0.9h-0.9zM427.3 312.8h0.9v0.9h-0.9zM420.0 312.6h0.9v0.9h-0.9zM435.5 311.1h0.9v0.9h-0.9zM427.5 312.4h0.9v0.9h-0.9zM428.2 311.4h0.9v0.9h-0.9zM429.8 312.5h0.9v0.9h-0.9zM438.8 312.2h0.9v0.9h-0.9zM440.1 312.0h0.9v0.9h-0.9zM441.2 312.6h0.9v0.9h-0.9zM443.3 311.2h0.9v0.9h-0.9zM461.8 312.3h0.9v0.9h-0.9zM437.7 313.6h0.9v0.9h-0.9zM436.4 312.9h0.9v0.9h-0.9zM419.8 312.5h0.9v0.9h-0.9zM454.7 312.2h0.9v0.9h-0.9zM459.7 312.6h0.9v0.9h-0.9zM439.0 311.6h0.9v0.9h-0.9zM434.3 312.6h0.9v0.9h-0.9zM440.0 312.3h0.9v0.9h-0.9zM430.2 312.7h0.9v0.9h-0.9zM431.4 313.1h0.9v0.9h-0.9zM450.6 313.0h0.9v0.9h-0.9zM426.1 310.7h0.9v0.9h-0.9zM438.3 312.5h0.9v0.9h-0.9zM441.5 312.5h0.9v0.9h-0.9zM444.7 312.2h0.9v0.9h-0.9zM431.1 312.2h0.9v0.9h-0.9zM428.8 312.6h0.9v0.9h-0.9zM445.3 311.9h0.9v0.9h-0.9zM445.6 312.4h0.9v0.9h-0.9zM430.6 312.2h0.9v0.9h-0.9zM437.1 311.8h0.9v0.9h-0.9zM422.4 312.5h0.9v0.9h-0.9zM433.1 312.0h0.9v0.9h-0.9zM441.5 311.2h0.9v0.9h-0.9zM430.6 312.0h0.9v0.9h-0.9zM435.6 311.2h0.9v0.9h-0.9zM444.9 312.8h0.9v0.9h-0.9zM440.4 312.1h0.9v0.9h-0.9zM429.5 312.9h0.9v0.9h-0.9zM449.5 311.1h0.9v0.9h-0.9zM451.0 313.3h0.9v0.9h-0.9zM444.0 312.6h0.9v0.9h-0.9zM440.4 311.6h0.9v0.9h-0.9zM441.4 313.5h0.9v0.9h-0.9zM442.9 311.9h0.9v0.9h-0.9zM423.6 311.6h0.9v0.9h-0.9zM444.7 312.2h0.9v0.9h-0.9zM427.4 312.5h0.9v0.9h-0.9zM436.8 312.8h0.9v0.9h-0.9zM439.3 311.8h0.9v0.9h-0.9zM450.8 311.2h0.9v0.9h-0.9zM439.8 312.5h0.9v0.9h-0.9zM433.9 311.5h0.9v0.9h-0.9z" fill="#000" fill-opacity="0.4"/>
<path d="M440.0 285.1h0.9v0.9h-0.9zM434.7 276.3h0.9v0.9h-0.9zM429.4 248.8h0.9v0.9h-0.9zM436.9 231.7h0.9v0.9h-0.9zM431.3 295.0h0.9v0.9h-0.9zM440.0 282.2h0.9v0.9h-0.9zM429.2 287.3h0.9v0.9h-0.9zM425.9 266.0h0.9v0.9h-0.9zM432.5 278.2h0.9v0.9h-0.9zM431.6 305.9h0.9v0.9h-0.9zM426.9 278.0h0.9v0.9h-0.9zM427.5 251.9h0.9v0.9h-0.9zM433.3 264.2h0.9v0.9h-0.9zM433.2 296.9h0.9v0.9h-0.9zM426.0 252.4h0.9v0.9h-0.9zM426.8 225.5h0.9v0.9h-0.9zM418.2 230.7h0.9v0.9h-0.9zM439.1 247.9h0.9v0.9h-0.9zM427.7 286.4h0.9v0.9h-0.9zM437.0 273.6h0.9v0.9h-0.9zM431.5 258.4h0.9v0.9h-0.9zM440.7 248.9h0.9v0.9h-0.9zM438.2 269.9h0.9v0.9h-0.9zM430.9 269.1h0.9v0.9h-0.9zM437.9 261.8h0.9v0.9h-0.9zM423.3 267.6h0.9v0.9h-0.9zM436.6 258.3h0.9v0.9h-0.9zM420.1 304.5h0.9v0.9h-0.9zM431.1 229.4h0.9v0.9h-0.9zM435.4 274.2h0.9v0.9h-0.9zM430.3 253.7h0.9v0.9h-0.9zM426.8 284.7h0.9v0.9h-0.9zM424.2 267.8h0.9v0.9h-0.9zM426.9 278.6h0.9v0.9h-0.9zM435.3 281.6h0.9v0.9h-0.9zM434.3 275.7h0.9v0.9h-0.9zM427.4 289.8h0.9v0.9h-0.9zM421.5 247.0h0.9v0.9h-0.9zM433.0 289.1h0.9v0.9h-0.9zM420.3 268.1h0.9v0.9h-0.9zM425.8 278.9h0.9v0.9h-0.9zM424.6 300.0h0.9v0.9h-0.9zM433.5 292.2h0.9v0.9h-0.9zM430.4 307.7h0.9v0.9h-0.9zM431.8 231.5h0.9v0.9h-0.9zM430.6 254.8h0.9v0.9h-0.9zM424.9 289.4h0.9v0.9h-0.9zM432.2 251.6h0.9v0.9h-0.9zM437.5 268.7h0.9v0.9h-0.9zM428.8 302.7h0.9v0.9h-0.9zM432.8 287.7h0.9v0.9h-0.9zM428.2 254.7h0.9v0.9h-0.9zM435.2 280.2h0.9v0.9h-0.9zM433.0 283.6h0.9v0.9h-0.9zM434.3 273.2h0.9v0.9h-0.9zM431.1 270.2h0.9v0.9h-0.9zM438.8 274.5h0.9v0.9h-0.9zM426.8 245.0h0.9v0.9h-0.9zM427.0 274.3h0.9v0.9h-0.9zM425.4 254.6h0.9v0.9h-0.9zM432.7 279.1h0.9v0.9h-0.9zM425.3 279.7h0.9v0.9h-0.9zM425.1 255.9h0.9v0.9h-0.9zM433.4 283.0h0.9v0.9h-0.9zM436.0 278.4h0.9v0.9h-0.9zM432.4 271.2h0.9v0.9h-0.9zM423.3 266.4h0.9v0.9h-0.9zM422.6 266.9h0.9v0.9h-0.9zM421.8 273.4h0.9v0.9h-0.9zM426.6 270.9h0.9v0.9h-0.9zM439.9 292.6h0.9v0.9h-0.9zM427.2 229.3h0.9v0.9h-0.9zM424.6 266.4h0.9v0.9h-0.9zM433.2 235.7h0.9v0.9h-0.9zM429.4 262.5h0.9v0.9h-0.9zM429.7 276.2h0.9v0.9h-0.9zM424.9 271.6h0.9v0.9h-0.9zM429.0 288.9h0.9v0.9h-0.9zM431.6 277.2h0.9v0.9h-0.9zM417.5 222.0h0.9v0.9h-0.9zM419.3 251.1h0.9v0.9h-0.9zM435.5 299.2h0.9v0.9h-0.9zM434.1 299.3h0.9v0.9h-0.9zM426.0 272.9h0.9v0.9h-0.9zM422.9 243.2h0.9v0.9h-0.9zM427.9 310.1h0.9v0.9h-0.9zM421.8 233.2h0.9v0.9h-0.9zM427.0 276.5h0.9v0.9h-0.9zM438.9 270.0h0.9v0.9h-0.9zM429.8 275.2h0.9v0.9h-0.9zM436.0 249.7h0.9v0.9h-0.9zM427.7 263.5h0.9v0.9h-0.9zM431.2 290.0h0.9v0.9h-0.9zM437.3 261.8h0.9v0.9h-0.9zM421.0 245.7h0.9v0.9h-0.9zM426.9 270.3h0.9v0.9h-0.9zM428.1 272.1h0.9v0.9h-0.9zM430.7 268.0h0.9v0.9h-0.9zM438.3 256.2h0.9v0.9h-0.9zM433.1 280.2h0.9v0.9h-0.9zM420.0 268.2h0.9v0.9h-0.9zM427.4 249.2h0.9v0.9h-0.9zM423.6 274.4h0.9v0.9h-0.9zM423.5 269.9h0.9v0.9h-0.9zM441.1 273.1h0.9v0.9h-0.9zM422.6 239.7h0.9v0.9h-0.9zM430.4 256.6h0.9v0.9h-0.9zM424.7 278.7h0.9v0.9h-0.9zM434.2 287.3h0.9v0.9h-0.9zM431.1 276.8h0.9v0.9h-0.9zM429.8 273.5h0.9v0.9h-0.9zM428.5 283.8h0.9v0.9h-0.9zM435.8 288.6h0.9v0.9h-0.9zM423.4 302.8h0.9v0.9h-0.9zM424.6 279.5h0.9v0.9h-0.9zM422.3 260.9h0.9v0.9h-0.9zM437.0 279.8h0.9v0.9h-0.9zM427.2 236.1h0.9v0.9h-0.9zM422.8 272.4h0.9v0.9h-0.9zM426.5 263.4h0.9v0.9h-0.9zM444.0 271.1h0.9v0.9h-0.9zM428.4 280.4h0.9v0.9h-0.9zM434.1 272.5h0.9v0.9h-0.9zM431.8 245.5h0.9v0.9h-0.9zM428.9 265.2h0.9v0.9h-0.9zM424.8 257.3h0.9v0.9h-0.9zM427.0 271.4h0.9v0.9h-0.9zM426.9 278.3h0.9v0.9h-0.9zM444.5 285.0h0.9v0.9h-0.9zM434.5 295.3h0.9v0.9h-0.9zM429.7 267.0h0.9v0.9h-0.9zM427.8 285.0h0.9v0.9h-0.9zM424.3 245.2h0.9v0.9h-0.9zM434.7 262.1h0.9v0.9h-0.9zM427.9 289.2h0.9v0.9h-0.9zM431.9 240.1h0.9v0.9h-0.9zM420.7 262.8h0.9v0.9h-0.9zM431.3 255.8h0.9v0.9h-0.9zM441.0 292.6h0.9v0.9h-0.9zM427.3 292.5h0.9v0.9h-0.9zM433.8 260.7h0.9v0.9h-0.9zM429.2 274.1h0.9v0.9h-0.9zM435.6 224.9h0.9v0.9h-0.9zM435.4 287.2h0.9v0.9h-0.9zM429.4 278.2h0.9v0.9h-0.9zM425.6 295.8h0.9v0.9h-0.9zM430.7 228.9h0.9v0.9h-0.9zM429.3 278.2h0.9v0.9h-0.9zM425.3 265.5h0.9v0.9h-0.9zM431.7 224.9h0.9v0.9h-0.9zM431.6 259.4h0.9v0.9h-0.9zM423.7 270.4h0.9v0.9h-0.9zM428.3 286.4h0.9v0.9h-0.9zM446.5 275.4h0.9v0.9h-0.9zM433.9 262.6h0.9v0.9h-0.9zM429.6 279.9h0.9v0.9h-0.9zM444.1 269.9h0.9v0.9h-0.9zM426.3 260.2h0.9v0.9h-0.9zM417.6 274.6h0.9v0.9h-0.9zM419.9 274.7h0.9v0.9h-0.9zM430.6 305.0h0.9v0.9h-0.9zM434.9 263.8h0.9v0.9h-0.9zM435.7 278.2h0.9v0.9h-0.9zM421.6 293.1h0.9v0.9h-0.9zM430.5 255.6h0.9v0.9h-0.9zM431.8 256.2h0.9v0.9h-0.9zM431.6 266.4h0.9v0.9h-0.9zM429.0 288.1h0.9v0.9h-0.9zM430.0 275.1h0.9v0.9h-0.9zM422.2 285.5h0.9v0.9h-0.9zM430.7 277.7h0.9v0.9h-0.9zM434.9 290.5h0.9v0.9h-0.9zM434.6 275.5h0.9v0.9h-0.9zM444.7 262.5h0.9v0.9h-0.9zM435.5 281.3h0.9v0.9h-0.9z" fill="#000" fill-opacity="0.3"/>
<path d="M477.6 280.6h0.9v0.9h-0.9zM467.1 249.5h0.9v0.9h-0.9zM471.2 284.3h0.9v0.9h-0.9zM426.2 273.4h0.9v0.9h-0.9zM469.1 306.7h0.9v0.9h-0.9zM446.3 278.2h0.9v0.9h-0.9zM445.8 297.1h0.9v0.9h-0.9zM474.7 288.9h0.9v0.9h-0.9zM440.4 293.0h0.9v0.9h-0.9zM421.8 273.8h0.9v0.9h-0.9zM439.7 281.5h0.9v0.9h-0.9zM423.7 288.5h0.9v0.9h-0.9zM446.8 296.9h0.9v0.9h-0.9zM458.8 268.6h0.9v0.9h-0.9zM450.3 307.1h0.9v0.9h-0.9zM455.6 302.2h0.9v0.9h-0.9zM453.8 279.8h0.9v0.9h-0.9zM422.1 280.7h0.9v0.9h-0.9zM445.9 302.6h0.9v0.9h-0.9zM459.5 259.1h0.9v0.9h-0.9zM458.4 302.3h0.9v0.9h-0.9zM471.8 294.7h0.9v0.9h-0.9zM454.9 270.2h0.9v0.9h-0.9zM446.2 275.6h0.9v0.9h-0.9zM435.0 268.9h0.9v0.9h-0.9zM478.0 253.1h0.9v0.9h-0.9zM427.0 300.3h0.9v0.9h-0.9zM460.1 292.1h0.9v0.9h-0.9zM481.3 278.5h0.9v0.9h-0.9zM434.4 281.4h0.9v0.9h-0.9zM464.6 288.9h0.9v0.9h-0.9zM460.6 273.9h0.9v0.9h-0.9zM448.6 295.0h0.9v0.9h-0.9zM422.5 289.0h0.9v0.9h-0.9zM456.2 283.9h0.9v0.9h-0.9zM444.1 293.1h0.9v0.9h-0.9zM463.2 291.0h0.9v0.9h-0.9zM467.1 307.2h0.9v0.9h-0.9zM483.8 285.2h0.9v0.9h-0.9zM431.6 272.2h0.9v0.9h-0.9zM469.0 295.7h0.9v0.9h-0.9zM465.4 313.2h0.9v0.9h-0.9zM463.5 306.5h0.9v0.9h-0.9zM452.9 267.6h0.9v0.9h-0.9zM464.8 277.0h0.9v0.9h-0.9zM458.6 262.9h0.9v0.9h-0.9zM437.6 292.3h0.9v0.9h-0.9zM452.3 287.3h0.9v0.9h-0.9zM464.6 272.3h0.9v0.9h-0.9zM441.2 306.7h0.9v0.9h-0.9zM478.9 283.8h0.9v0.9h-0.9zM457.1 306.6h0.9v0.9h-0.9zM436.4 254.1h0.9v0.9h-0.9zM437.7 299.3h0.9v0.9h-0.9zM481.3 294.2h0.9v0.9h-0.9zM461.6 303.1h0.9v0.9h-0.9zM430.7 286.3h0.9v0.9h-0.9zM447.7 284.2h0.9v0.9h-0.9zM444.0 288.5h0.9v0.9h-0.9zM433.4 279.8h0.9v0.9h-0.9zM470.3 283.4h0.9v0.9h-0.9zM504.6 260.5h0.9v0.9h-0.9zM462.4 298.3h0.9v0.9h-0.9zM454.4 281.9h0.9v0.9h-0.9zM423.0 294.7h0.9v0.9h-0.9zM444.4 307.0h0.9v0.9h-0.9zM435.3 268.8h0.9v0.9h-0.9zM462.1 272.5h0.9v0.9h-0.9zM448.7 304.6h0.9v0.9h-0.9zM459.8 282.9h0.9v0.9h-0.9zM479.7 289.8h0.9v0.9h-0.9zM452.1 297.8h0.9v0.9h-0.9zM438.8 276.5h0.9v0.9h-0.9zM463.5 290.4h0.9v0.9h-0.9zM428.5 286.9h0.9v0.9h-0.9zM487.7 282.3h0.9v0.9h-0.9zM443.4 305.4h0.9v0.9h-0.9zM451.5 293.1h0.9v0.9h-0.9zM486.7 260.9h0.9v0.9h-0.9zM425.8 293.9h0.9v0.9h-0.9zM452.6 291.7h0.9v0.9h-0.9zM488.2 297.0h0.9v0.9h-0.9zM432.1 288.8h0.9v0.9h-0.9zM454.2 260.6h0.9v0.9h-0.9zM437.2 300.5h0.9v0.9h-0.9zM484.0 266.1h0.9v0.9h-0.9zM433.5 292.3h0.9v0.9h-0.9zM454.1 277.7h0.9v0.9h-0.9zM453.8 311.5h0.9v0.9h-0.9zM444.0 274.6h0.9v0.9h-0.9zM479.1 259.4h0.9v0.9h-0.9zM454.3 308.8h0.9v0.9h-0.9zM465.1 270.0h0.9v0.9h-0.9zM463.0 296.0h0.9v0.9h-0.9zM437.6 310.3h0.9v0.9h-0.9zM440.4 282.1h0.9v0.9h-0.9zM440.3 288.5h0.9v0.9h-0.9z" fill="#000" fill-opacity="0.3"/>
<line x1="222.4" y1="247.8" x2="222.4" y2="296" stroke="#3a3a3a" stroke-width="1"/>
<line x1="192.3" y1="275.4" x2="251.1" y2="275.4" stroke="#3a3a3a" stroke-width="1"/>
<line x1="336.6" y1="245" x2="336.6" y2="288" stroke="#3a3a3a" stroke-width="1"/>
<line x1="306.5" y1="274" x2="365" y2="274" stroke="#3a3a3a" stroke-width="1"/>
<line x1="449.2" y1="248.3" x2="449.2" y2="297.5" stroke="#555" stroke-width="1.1"/>
<line x1="426.8" y1="279.7" x2="479" y2="279.7" stroke="#555" stroke-width="1.1"/>
<text x="274.70" y="223.2" font-size="8.8" font-weight="bold" fill="#000" stroke="#000" stroke-width="0.2">R</text><path transform="translate(281.05 223.2) scale(0.00880 -0.00880)" d="M228,0H372V709H262L72,580V450L228,555Z" fill="#000" fill-rule="evenodd" stroke="#000" stroke-width="22.7"/>
<text x="386.10" y="223.2" font-size="8.8" font-weight="bold" fill="#000" stroke="#000" stroke-width="0.2">R2</text>
<text x="501.80" y="223.6" font-size="8.8" font-weight="bold" fill="#000" stroke="#000" stroke-width="0.2">R3</text>
<text x="191.80" y="248.9" font-size="9.2" font-weight="normal" fill="#000" stroke="#000" stroke-width="0.25">&lt;0.5</text><path transform="translate(209.96 248.9) scale(0.00920 -0.00920)" d="M68,538A150,172 0 1 0 368,538A150,172 0 1 0 68,538ZM136,538A82,108 0 1 1 300,538A82,108 0 1 1 136,538ZM522,168A150,172 0 1 0 822,168A150,172 0 1 0 522,168ZM590,168A82,108 0 1 1 754,168A82,108 0 1 1 590,168ZM188,-22H262L702,730H628Z" fill="#000" fill-rule="evenodd" stroke="#000" stroke-width="27.2"/>
<text x="250.50" y="302.3" font-size="9.2" font-weight="normal" fill="#000" stroke="#000" stroke-width="0.25">6</text><path transform="translate(255.62 302.3) scale(0.00920 -0.00920)" d="M68,538A150,172 0 1 0 368,538A150,172 0 1 0 68,538ZM136,538A82,108 0 1 1 300,538A82,108 0 1 1 136,538ZM522,168A150,172 0 1 0 822,168A150,172 0 1 0 522,168ZM590,168A82,108 0 1 1 754,168A82,108 0 1 1 590,168ZM188,-22H262L702,730H628Z" fill="#000" fill-rule="evenodd" stroke="#000" stroke-width="27.2"/>
<text x="306.70" y="248.9" font-size="9.2" font-weight="normal" fill="#000" stroke="#000" stroke-width="0.25">&lt;0.5</text><path transform="translate(324.86 248.9) scale(0.00920 -0.00920)" d="M68,538A150,172 0 1 0 368,538A150,172 0 1 0 68,538ZM136,538A82,108 0 1 1 300,538A82,108 0 1 1 136,538ZM522,168A150,172 0 1 0 822,168A150,172 0 1 0 522,168ZM590,168A82,108 0 1 1 754,168A82,108 0 1 1 590,168ZM188,-22H262L702,730H628Z" fill="#000" fill-rule="evenodd" stroke="#000" stroke-width="27.2"/>
<text x="370.00" y="302.2" font-size="9.2" font-weight="normal" fill="#000" stroke="#000" stroke-width="0.25">9</text><path transform="translate(375.12 302.2) scale(0.00920 -0.00920)" d="M68,538A150,172 0 1 0 368,538A150,172 0 1 0 68,538ZM136,538A82,108 0 1 1 300,538A82,108 0 1 1 136,538ZM522,168A150,172 0 1 0 822,168A150,172 0 1 0 522,168ZM590,168A82,108 0 1 1 754,168A82,108 0 1 1 590,168ZM188,-22H262L702,730H628Z" fill="#000" fill-rule="evenodd" stroke="#000" stroke-width="27.2"/>
<text x="421.50" y="233" font-size="9.2" font-weight="normal" fill="#000" stroke="#000" stroke-width="0.25">20</text><path transform="translate(431.73 233) scale(0.00920 -0.00920)" d="M68,538A150,172 0 1 0 368,538A150,172 0 1 0 68,538ZM136,538A82,108 0 1 1 300,538A82,108 0 1 1 136,538ZM522,168A150,172 0 1 0 822,168A150,172 0 1 0 522,168ZM590,168A82,108 0 1 1 754,168A82,108 0 1 1 590,168ZM188,-22H262L702,730H628Z" fill="#000" fill-rule="evenodd" stroke="#000" stroke-width="27.2"/>
<path transform="translate(472.00 244.3) scale(0.00920 -0.00920)" d="M250,0H338V709H280L96,565V482L250,602Z" fill="#000" fill-rule="evenodd" stroke="#000" stroke-width="27.2"/><path transform="translate(477.12 244.3) scale(0.00920 -0.00920)" d="M68,538A150,172 0 1 0 368,538A150,172 0 1 0 68,538ZM136,538A82,108 0 1 1 300,538A82,108 0 1 1 136,538ZM522,168A150,172 0 1 0 822,168A150,172 0 1 0 522,168ZM590,168A82,108 0 1 1 754,168A82,108 0 1 1 590,168ZM188,-22H262L702,730H628Z" fill="#000" fill-rule="evenodd" stroke="#000" stroke-width="27.2"/>
<text x="489.50" y="302.2" font-size="9.2" font-weight="normal" fill="#000" stroke="#000" stroke-width="0.25">2</text><path transform="translate(494.62 302.2) scale(0.00920 -0.00920)" d="M250,0H338V709H280L96,565V482L250,602Z" fill="#000" fill-rule="evenodd" stroke="#000" stroke-width="27.2"/><path transform="translate(499.73 302.2) scale(0.00920 -0.00920)" d="M68,538A150,172 0 1 0 368,538A150,172 0 1 0 68,538ZM136,538A82,108 0 1 1 300,538A82,108 0 1 1 136,538ZM522,168A150,172 0 1 0 822,168A150,172 0 1 0 522,168ZM590,168A82,108 0 1 1 754,168A82,108 0 1 1 590,168ZM188,-22H262L702,730H628Z" fill="#000" fill-rule="evenodd" stroke="#000" stroke-width="27.2"/>
<g transform="rotate(-90 177.3 324.3)"><text x="177.30" y="324.3" font-size="10.3" font-weight="normal" fill="#000" stroke="#000" stroke-width="0.25">CD</text><path transform="translate(192.17 324.3) scale(0.01030 -0.01030)" d="M250,0H338V709H280L96,565V482L250,602Z" fill="#000" fill-rule="evenodd" stroke="#000" stroke-width="24.3"/><text x="197.90" y="324.3" font-size="10.3" font-weight="normal" fill="#000" stroke="#000" stroke-width="0.25">0 - PECy5</text></g>
<line x1="173.3" y1="253" x2="173.3" y2="215.3" stroke="#555" stroke-width="0.8"/>
<path d="M171.9,216.3 L174.70000000000002,216.3 L173.3,212.8 Z" fill="#555"/>
<text x="185.5" y="337.4" font-size="10.0" font-weight="normal" fill="#000" stroke="#000" stroke-width="0.25" text-anchor="start">CD7-FITC</text>
<line x1="240" y1="333.1" x2="514.5" y2="333.1" stroke="#aaa" stroke-width="0.9"/>
<path d="M513.4,331.6 L513.4,334.6 L517,333.1 Z" fill="#444"/>
</svg>
</body></html>
